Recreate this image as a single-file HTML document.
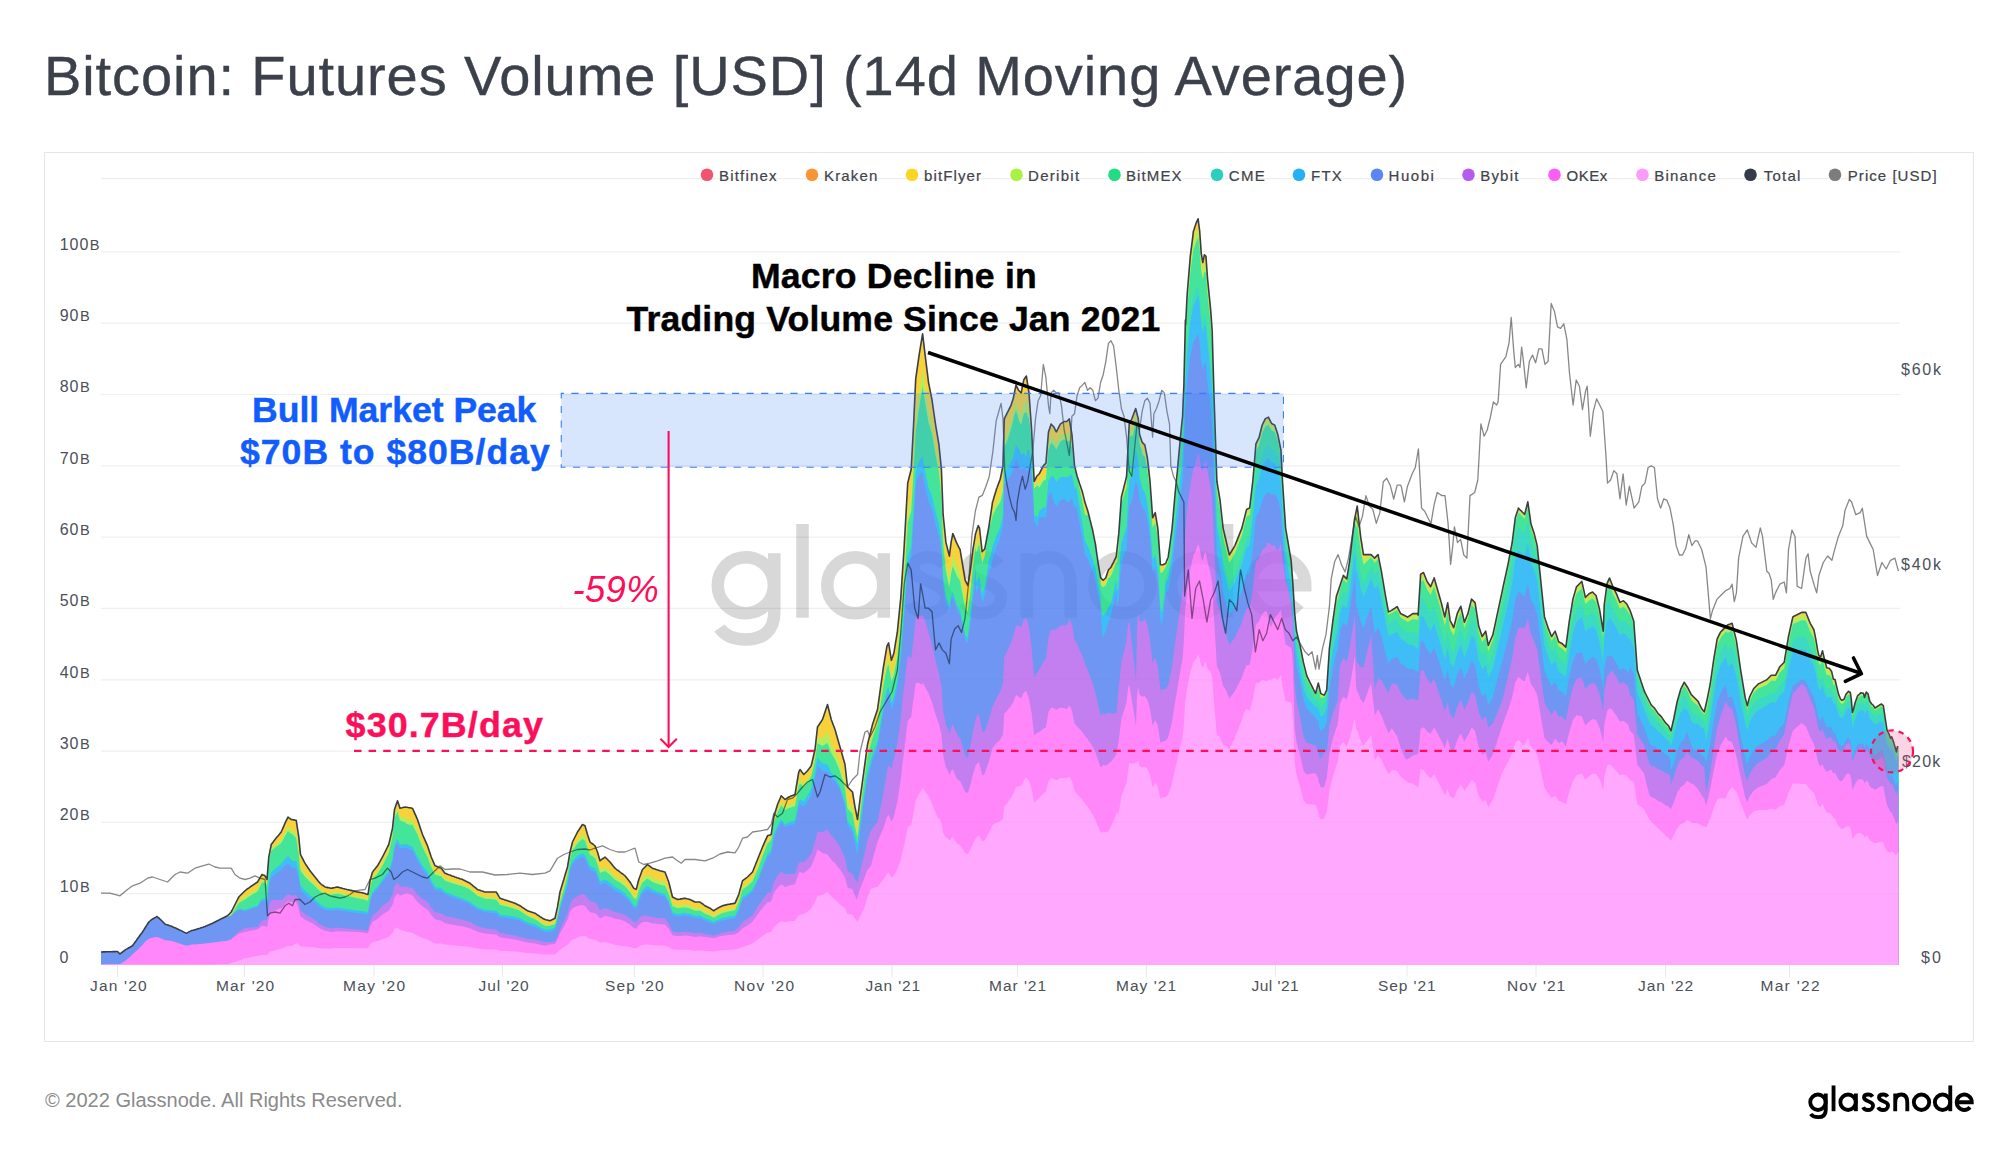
<!DOCTYPE html>
<html><head><meta charset="utf-8">
<style>
html,body{margin:0;padding:0;background:#fff;}
body{width:2000px;height:1152px;position:relative;overflow:hidden;font-family:"Liberation Sans", sans-serif;}
.box{position:absolute;left:43.5px;top:151.5px;width:1930px;height:890px;border:1.5px solid #e6e6e6;box-sizing:border-box;}
svg{position:absolute;left:0;top:0;}
.ax{font-size:16px;fill:#4b5059;font-family:"Liberation Sans", sans-serif;}
</style></head>
<body>
<div class="box"></div>
<svg width="2000" height="1152" viewBox="0 0 2000 1152">
<text x="44.00" y="94.75" font-size="56" font-weight="normal" font-style="normal" fill="#3c404b" style="letter-spacing:0.907px;font-family:'Liberation Sans', sans-serif" stroke="#3c404b" stroke-width="0.35">Bitcoin: Futures Volume [USD] (14d Moving Average)</text>
<line x1="101" x2="1900" y1="893.7" y2="893.7" stroke="#efefef" stroke-width="1.2"/>
<line x1="101" x2="1900" y1="822.4" y2="822.4" stroke="#efefef" stroke-width="1.2"/>
<line x1="101" x2="1900" y1="751.1" y2="751.1" stroke="#efefef" stroke-width="1.2"/>
<line x1="101" x2="1900" y1="679.8" y2="679.8" stroke="#efefef" stroke-width="1.2"/>
<line x1="101" x2="1900" y1="608.4" y2="608.4" stroke="#efefef" stroke-width="1.2"/>
<line x1="101" x2="1900" y1="537.1" y2="537.1" stroke="#efefef" stroke-width="1.2"/>
<line x1="101" x2="1900" y1="465.8" y2="465.8" stroke="#efefef" stroke-width="1.2"/>
<line x1="101" x2="1900" y1="394.5" y2="394.5" stroke="#efefef" stroke-width="1.2"/>
<line x1="101" x2="1900" y1="323.1" y2="323.1" stroke="#efefef" stroke-width="1.2"/>
<line x1="101" x2="1900" y1="251.8" y2="251.8" stroke="#efefef" stroke-width="1.2"/>
<line x1="101" x2="1900" y1="178.6" y2="178.6" stroke="#efefef" stroke-width="1.2"/>
<text x="59.5" y="962.8" class="ax" style="letter-spacing:0.8px">0</text>
<text x="59.8" y="891.6" class="ax" style="letter-spacing:0.9px">10<tspan font-size="14.6" dx="0.6">B</tspan></text>
<text x="59.8" y="820.3" class="ax" style="letter-spacing:0.9px">20<tspan font-size="14.6" dx="0.6">B</tspan></text>
<text x="59.8" y="749.0" class="ax" style="letter-spacing:0.9px">30<tspan font-size="14.6" dx="0.6">B</tspan></text>
<text x="59.8" y="677.7" class="ax" style="letter-spacing:0.9px">40<tspan font-size="14.6" dx="0.6">B</tspan></text>
<text x="59.8" y="606.3" class="ax" style="letter-spacing:0.9px">50<tspan font-size="14.6" dx="0.6">B</tspan></text>
<text x="59.8" y="535.0" class="ax" style="letter-spacing:0.9px">60<tspan font-size="14.6" dx="0.6">B</tspan></text>
<text x="59.8" y="463.7" class="ax" style="letter-spacing:0.9px">70<tspan font-size="14.6" dx="0.6">B</tspan></text>
<text x="59.8" y="392.4" class="ax" style="letter-spacing:0.9px">80<tspan font-size="14.6" dx="0.6">B</tspan></text>
<text x="59.8" y="321.0" class="ax" style="letter-spacing:0.9px">90<tspan font-size="14.6" dx="0.6">B</tspan></text>
<text x="59.8" y="249.7" class="ax" style="letter-spacing:0.9px">100<tspan font-size="14.6" dx="0.6">B</tspan></text>
<text x="1921.00" y="963.00" font-size="16" font-weight="normal" font-style="normal" fill="#4b5059" style="letter-spacing:2.102px;font-family:'Liberation Sans', sans-serif" >$0</text>
<text x="1902.00" y="766.70" font-size="16" font-weight="normal" font-style="normal" fill="#4b5059" style="letter-spacing:1.168px;font-family:'Liberation Sans', sans-serif" >$20k</text>
<text x="1901.00" y="570.30" font-size="16" font-weight="normal" font-style="normal" fill="#4b5059" style="letter-spacing:1.768px;font-family:'Liberation Sans', sans-serif" >$40k</text>
<text x="1901.00" y="375.30" font-size="16" font-weight="normal" font-style="normal" fill="#4b5059" style="letter-spacing:1.768px;font-family:'Liberation Sans', sans-serif" >$60k</text>
<line x1="117.5" x2="117.5" y1="965" y2="977" stroke="#e8e8e8" stroke-width="1"/>
<text x="90.00" y="991.40" font-size="15.5" font-weight="normal" font-style="normal" fill="#4b5059" style="letter-spacing:1.187px;font-family:'Liberation Sans', sans-serif" >Jan '20</text>
<line x1="244.4" x2="244.4" y1="965" y2="977" stroke="#e8e8e8" stroke-width="1"/>
<text x="216.00" y="991.40" font-size="15.5" font-weight="normal" font-style="normal" fill="#4b5059" style="letter-spacing:1.170px;font-family:'Liberation Sans', sans-serif" >Mar '20</text>
<line x1="374.0" x2="374.0" y1="965" y2="977" stroke="#e8e8e8" stroke-width="1"/>
<text x="343.00" y="991.40" font-size="15.5" font-weight="normal" font-style="normal" fill="#4b5059" style="letter-spacing:1.372px;font-family:'Liberation Sans', sans-serif" >May '20</text>
<line x1="502.4" x2="502.4" y1="965" y2="977" stroke="#e8e8e8" stroke-width="1"/>
<text x="478.60" y="991.40" font-size="15.5" font-weight="normal" font-style="normal" fill="#4b5059" style="letter-spacing:0.950px;font-family:'Liberation Sans', sans-serif" >Jul '20</text>
<line x1="634.4" x2="634.4" y1="965" y2="977" stroke="#e8e8e8" stroke-width="1"/>
<text x="605.00" y="991.40" font-size="15.5" font-weight="normal" font-style="normal" fill="#4b5059" style="letter-spacing:1.089px;font-family:'Liberation Sans', sans-serif" >Sep '20</text>
<line x1="763.0" x2="763.0" y1="965" y2="977" stroke="#e8e8e8" stroke-width="1"/>
<text x="734.00" y="991.40" font-size="15.5" font-weight="normal" font-style="normal" fill="#4b5059" style="letter-spacing:1.326px;font-family:'Liberation Sans', sans-serif" >Nov '20</text>
<line x1="892.0" x2="892.0" y1="965" y2="977" stroke="#e8e8e8" stroke-width="1"/>
<text x="865.40" y="991.40" font-size="15.5" font-weight="normal" font-style="normal" fill="#4b5059" style="letter-spacing:0.887px;font-family:'Liberation Sans', sans-serif" >Jan '21</text>
<line x1="1017.4" x2="1017.4" y1="965" y2="977" stroke="#e8e8e8" stroke-width="1"/>
<text x="989.00" y="991.40" font-size="15.5" font-weight="normal" font-style="normal" fill="#4b5059" style="letter-spacing:0.971px;font-family:'Liberation Sans', sans-serif" >Mar '21</text>
<line x1="1146.4" x2="1146.4" y1="965" y2="977" stroke="#e8e8e8" stroke-width="1"/>
<text x="1116.00" y="991.40" font-size="15.5" font-weight="normal" font-style="normal" fill="#4b5059" style="letter-spacing:1.039px;font-family:'Liberation Sans', sans-serif" >May '21</text>
<line x1="1275.4" x2="1275.4" y1="965" y2="977" stroke="#e8e8e8" stroke-width="1"/>
<text x="1251.60" y="991.40" font-size="15.5" font-weight="normal" font-style="normal" fill="#4b5059" style="letter-spacing:0.451px;font-family:'Liberation Sans', sans-serif" >Jul '21</text>
<line x1="1407.0" x2="1407.0" y1="965" y2="977" stroke="#e8e8e8" stroke-width="1"/>
<text x="1378.00" y="991.40" font-size="15.5" font-weight="normal" font-style="normal" fill="#4b5059" style="letter-spacing:0.922px;font-family:'Liberation Sans', sans-serif" >Sep '21</text>
<line x1="1536.0" x2="1536.0" y1="965" y2="977" stroke="#e8e8e8" stroke-width="1"/>
<text x="1507.00" y="991.40" font-size="15.5" font-weight="normal" font-style="normal" fill="#4b5059" style="letter-spacing:1.026px;font-family:'Liberation Sans', sans-serif" >Nov '21</text>
<line x1="1665.6" x2="1665.6" y1="965" y2="977" stroke="#e8e8e8" stroke-width="1"/>
<text x="1638.00" y="991.40" font-size="15.5" font-weight="normal" font-style="normal" fill="#4b5059" style="letter-spacing:0.953px;font-family:'Liberation Sans', sans-serif" >Jan '22</text>
<line x1="1789.5" x2="1789.5" y1="965" y2="977" stroke="#e8e8e8" stroke-width="1"/>
<text x="1760.40" y="991.40" font-size="15.5" font-weight="normal" font-style="normal" fill="#4b5059" style="letter-spacing:1.337px;font-family:'Liberation Sans', sans-serif" >Mar '22</text>
<circle cx="707.0" cy="174.8" r="6.3" fill="#f25470"/>
<text x="719.00" y="180.60" font-size="15" font-weight="normal" font-style="normal" fill="#3f434a" style="letter-spacing:1.188px;font-family:'Liberation Sans', sans-serif" stroke="#3f434a" stroke-width="0.2">Bitfinex</text>
<circle cx="812.0" cy="174.8" r="6.3" fill="#f99535"/>
<text x="824.00" y="180.60" font-size="15" font-weight="normal" font-style="normal" fill="#3f434a" style="letter-spacing:1.163px;font-family:'Liberation Sans', sans-serif" stroke="#3f434a" stroke-width="0.2">Kraken</text>
<circle cx="912.0" cy="174.8" r="6.3" fill="#fcd523"/>
<text x="924.00" y="180.60" font-size="15" font-weight="normal" font-style="normal" fill="#3f434a" style="letter-spacing:1.116px;font-family:'Liberation Sans', sans-serif" stroke="#3f434a" stroke-width="0.2">bitFlyer</text>
<circle cx="1016.5" cy="174.8" r="6.3" fill="#a9f244"/>
<text x="1028.00" y="180.60" font-size="15" font-weight="normal" font-style="normal" fill="#3f434a" style="letter-spacing:1.304px;font-family:'Liberation Sans', sans-serif" stroke="#3f434a" stroke-width="0.2">Deribit</text>
<circle cx="1114.5" cy="174.8" r="6.3" fill="#22dc83"/>
<text x="1126.00" y="180.60" font-size="15" font-weight="normal" font-style="normal" fill="#3f434a" style="letter-spacing:1.119px;font-family:'Liberation Sans', sans-serif" stroke="#3f434a" stroke-width="0.2">BitMEX</text>
<circle cx="1217.0" cy="174.8" r="6.3" fill="#2ccfbd"/>
<text x="1228.80" y="180.60" font-size="15" font-weight="normal" font-style="normal" fill="#3f434a" style="letter-spacing:1.336px;font-family:'Liberation Sans', sans-serif" stroke="#3f434a" stroke-width="0.2">CME</text>
<circle cx="1299.0" cy="174.8" r="6.3" fill="#25b0f4"/>
<text x="1311.00" y="180.60" font-size="15" font-weight="normal" font-style="normal" fill="#3f434a" style="letter-spacing:1.237px;font-family:'Liberation Sans', sans-serif" stroke="#3f434a" stroke-width="0.2">FTX</text>
<circle cx="1377.0" cy="174.8" r="6.3" fill="#5b85f1"/>
<text x="1388.60" y="180.60" font-size="15" font-weight="normal" font-style="normal" fill="#3f434a" style="letter-spacing:1.535px;font-family:'Liberation Sans', sans-serif" stroke="#3f434a" stroke-width="0.2">Huobi</text>
<circle cx="1468.5" cy="174.8" r="6.3" fill="#b45cf0"/>
<text x="1480.20" y="180.60" font-size="15" font-weight="normal" font-style="normal" fill="#3f434a" style="letter-spacing:1.205px;font-family:'Liberation Sans', sans-serif" stroke="#3f434a" stroke-width="0.2">Bybit</text>
<circle cx="1554.5" cy="174.8" r="6.3" fill="#fb5df5"/>
<text x="1566.60" y="180.60" font-size="15" font-weight="normal" font-style="normal" fill="#3f434a" style="letter-spacing:0.507px;font-family:'Liberation Sans', sans-serif" stroke="#3f434a" stroke-width="0.2">OKEx</text>
<circle cx="1642.5" cy="174.8" r="6.3" fill="#fc9cf8"/>
<text x="1654.20" y="180.60" font-size="15" font-weight="normal" font-style="normal" fill="#3f434a" style="letter-spacing:1.224px;font-family:'Liberation Sans', sans-serif" stroke="#3f434a" stroke-width="0.2">Binance</text>
<circle cx="1750.5" cy="174.8" r="6.3" fill="#353b48"/>
<text x="1763.80" y="180.60" font-size="15" font-weight="normal" font-style="normal" fill="#3f434a" style="letter-spacing:1.212px;font-family:'Liberation Sans', sans-serif" stroke="#3f434a" stroke-width="0.2">Total</text>
<circle cx="1835.0" cy="174.8" r="6.3" fill="#7c7c7c"/>
<text x="1847.80" y="180.60" font-size="15" font-weight="normal" font-style="normal" fill="#3f434a" style="letter-spacing:1.042px;font-family:'Liberation Sans', sans-serif" stroke="#3f434a" stroke-width="0.2">Price [USD]</text>
<g fill="none" stroke="#000" opacity="0.15" stroke-width="12.5"><circle cx="745.8" cy="585.20" r="28.05"/>
<path d="M774.3,553.3 L774.3,612 C774.3,632 762,639.5 746,639.5 C734,639.5 725,636 719.5,628"/>
<path d="M802.5,524.1 L802.5,617.7"/>
<circle cx="855.3" cy="585.20" r="28.05"/>
<path d="M883.8,553.3 L883.8,617.7"/>
<path d="M944.25,565 C940.25,559 934.75,557.15 928.75,557.15 C919.75,557.15 913.25,561 913.25,568 C913.25,576 922.75,579 928.75,581.5 C935.75,584 946.25,588 946.25,597 C946.25,608 936.75,613.25 927.75,613.25 C920.75,613.25 913.25,610 910.25,603"/>
<path d="M998.85,565 C994.85,559 989.35,557.15 983.35,557.15 C974.35,557.15 967.85,561 967.85,568 C967.85,576 977.35,579 983.35,581.5 C990.35,584 1000.85,588 1000.85,597 C1000.85,608 991.35,613.25 982.35,613.25 C975.35,613.25 967.85,610 964.85,603"/>
<path d="M1026.85,617.7 L1026.85,553.3 M1026.85,586 C1026.85,566 1036,557.15 1048.8,557.15 C1061.6,557.15 1070.75,566 1070.75,586 L1070.75,617.7"/>
<circle cx="1122.45" cy="585.20" r="28.05"/>
<circle cx="1199.0" cy="585.20" r="28.05"/>
<path d="M1227.05,524.1 L1227.05,617.7"/>
<path d="M1250.45,585.20 L1305.25,585.20 A27.40,28.05 0 1 0 1298.84,603.23"/></g>
<g opacity="0.82">
<path d="M101.0,965.0 L101.0,952.0 102.0,952.0 103.0,951.9 104.0,951.9 105.0,951.9 106.0,951.8 107.0,951.8 108.0,951.8 109.0,951.8 110.0,951.7 111.0,951.7 112.0,951.7 113.0,951.6 114.0,951.6 115.0,951.6 116.0,951.5 117.0,951.5 117.5,951.5 118.0,952.0 119.0,953.0 120.0,954.0 121.0,953.2 122.0,952.4 123.0,951.6 124.0,950.8 125.0,950.0 126.0,949.4 127.0,948.9 128.0,948.3 129.0,947.7 130.0,947.2 131.0,946.6 132.0,946.0 132.5,945.8 133.0,945.0 134.0,943.6 135.0,942.2 136.0,940.9 137.0,939.5 138.0,938.0 138.8,937.0 139.0,936.7 140.0,935.3 141.0,934.0 142.0,932.7 142.5,932.0 143.0,931.2 144.0,929.6 145.0,928.0 146.0,926.4 147.0,924.8 148.0,923.2 148.8,922.0 149.0,921.8 150.0,921.0 151.0,920.2 152.0,919.4 152.5,919.0 153.0,918.7 154.0,918.2 155.0,917.6 156.0,917.1 157.0,916.5 158.0,917.4 159.0,918.2 160.0,919.1 160.5,919.5 161.0,920.0 162.0,921.0 163.0,922.0 164.0,923.0 165.0,924.0 166.0,924.4 167.0,924.7 168.0,925.0 169.0,925.4 170.0,925.8 171.0,926.1 172.0,926.5 173.0,927.0 174.0,927.4 175.0,927.8 176.0,928.2 177.0,928.7 178.0,929.2 179.0,929.7 180.0,930.1 181.0,930.6 181.2,930.8 182.0,931.1 183.0,931.6 184.0,932.1 185.0,932.6 186.0,933.1 186.2,933.2 187.0,932.9 188.0,932.4 189.0,931.9 190.0,931.4 191.0,930.9 191.2,930.8 192.0,930.5 193.0,930.3 194.0,930.0 195.0,929.7 196.0,929.4 197.0,929.1 197.5,929.0 198.0,928.8 199.0,928.5 200.0,928.2 201.0,927.8 202.0,927.5 203.0,927.2 204.0,926.8 205.0,926.5 206.0,926.1 207.0,925.6 208.0,925.2 209.0,924.8 210.0,924.3 211.0,923.9 212.0,923.5 212.5,923.2 213.0,923.0 214.0,922.5 215.0,922.0 216.0,921.5 217.0,921.0 218.0,920.5 219.0,920.0 220.0,919.5 221.0,919.0 222.0,918.5 223.0,918.0 224.0,917.5 225.0,917.0 226.0,916.5 227.0,916.0 227.5,915.8 228.0,915.2 229.0,914.2 230.0,913.2 231.0,912.2 231.2,912.0 232.0,910.5 233.0,908.5 234.0,906.5 235.0,904.5 236.0,902.5 237.0,900.5 238.0,898.5 238.8,897.0 239.0,896.8 240.0,895.8 241.0,894.8 242.0,893.8 243.0,892.8 244.0,891.8 245.0,890.8 246.0,890.0 247.0,889.2 248.0,888.5 249.0,887.8 250.0,887.0 251.0,886.3 252.0,885.7 253.0,885.0 254.0,884.3 255.0,883.7 256.0,883.0 257.0,882.3 257.5,882.0 258.0,881.2 259.0,879.5 260.0,877.8 261.0,876.2 262.0,874.5 263.0,874.9 264.0,875.3 265.0,875.8 266.0,877.6 267.0,879.5 268.0,866.6 268.8,857.0 269.0,855.8 270.0,850.8 271.0,845.8 271.2,844.5 272.0,843.5 273.0,842.2 274.0,840.8 275.0,839.5 276.0,838.3 277.0,837.1 278.0,835.9 279.0,834.7 280.0,833.5 281.0,832.3 281.2,832.0 282.0,830.2 283.0,827.9 284.0,825.6 285.0,823.2 286.0,821.2 287.0,819.1 288.0,817.0 289.0,817.8 290.0,818.5 291.0,819.3 291.2,819.5 292.0,819.6 293.0,819.8 294.0,819.9 295.0,820.1 296.0,820.2 296.2,820.2 297.0,825.3 298.0,832.0 298.8,837.0 299.0,839.5 300.0,849.5 300.5,854.5 301.0,855.5 302.0,857.4 303.0,859.4 304.0,861.3 305.0,863.2 306.0,864.8 307.0,866.2 308.0,867.8 309.0,869.2 310.0,870.8 311.0,872.0 312.0,873.2 313.0,874.5 314.0,875.8 315.0,877.0 316.0,878.2 317.0,879.5 318.0,880.8 319.0,882.0 320.0,883.2 321.0,884.0 322.0,884.8 323.0,885.5 324.0,886.2 325.0,887.0 326.0,887.2 327.0,887.4 328.0,887.6 329.0,887.8 330.0,888.0 331.0,888.2 331.2,888.2 332.0,888.1 333.0,887.9 334.0,887.7 335.0,887.5 336.0,887.3 337.0,887.1 337.5,887.0 338.0,887.1 339.0,887.4 340.0,887.7 341.0,887.9 342.0,888.2 343.0,888.5 344.0,888.7 345.0,889.0 346.0,889.2 347.0,889.5 348.0,889.7 349.0,889.9 350.0,890.2 351.0,890.4 352.0,890.6 352.5,890.8 353.0,890.9 354.0,891.1 355.0,891.4 356.0,891.6 357.0,891.9 357.5,892.0 358.0,892.1 359.0,892.2 360.0,892.4 361.0,892.5 362.0,892.7 362.5,892.8 363.0,892.9 364.0,893.2 365.0,893.5 366.0,893.9 367.0,894.2 368.0,894.5 369.0,887.6 370.0,880.8 371.0,877.2 372.0,873.8 372.5,872.0 373.0,871.4 374.0,870.1 375.0,868.9 376.0,867.6 377.0,866.4 377.5,865.8 378.0,864.9 379.0,863.1 380.0,861.4 381.0,859.6 382.0,857.9 382.5,857.0 383.0,856.0 384.0,854.0 385.0,852.0 386.0,850.0 387.0,848.0 388.0,846.0 388.8,844.5 389.0,843.4 390.0,839.1 391.0,834.8 392.0,830.4 392.5,828.2 393.0,823.6 394.0,814.2 394.5,809.5 395.0,808.0 396.0,805.1 397.0,802.2 397.5,800.8 398.0,802.2 399.0,805.2 400.0,808.2 401.0,808.0 402.0,807.8 403.0,807.5 404.0,807.2 405.0,807.0 406.0,807.2 407.0,807.3 408.0,807.5 409.0,807.7 410.0,807.8 411.0,808.0 412.0,808.2 412.5,808.2 413.0,809.4 414.0,811.6 415.0,813.9 416.0,816.1 417.0,818.4 417.5,819.5 418.0,821.0 419.0,824.0 420.0,827.0 421.0,830.0 422.0,833.0 422.5,834.5 423.0,835.6 424.0,837.9 425.0,840.1 426.0,842.4 427.0,844.6 427.5,845.8 428.0,847.2 429.0,850.2 430.0,853.2 431.0,856.2 431.2,857.0 432.0,858.8 433.0,861.1 434.0,863.4 435.0,865.8 436.0,866.1 437.0,866.5 438.0,867.0 439.0,867.4 440.0,867.8 441.0,868.1 441.2,868.2 442.0,869.2 443.0,870.6 444.0,871.9 445.0,873.2 446.0,873.6 447.0,874.0 448.0,874.4 449.0,874.8 450.0,875.1 451.0,875.5 452.0,875.9 453.0,876.2 454.0,876.6 455.0,877.0 456.0,877.3 457.0,877.7 458.0,878.0 459.0,878.3 460.0,878.7 461.0,879.0 462.0,879.3 462.5,879.5 463.0,879.8 464.0,880.2 465.0,880.8 466.0,881.2 467.0,881.8 468.0,882.2 469.0,882.8 470.0,883.2 471.0,884.1 472.0,884.9 473.0,885.8 474.0,886.6 475.0,887.4 476.0,888.2 477.0,889.1 477.5,889.5 478.0,889.7 479.0,890.0 480.0,890.3 481.0,890.7 482.0,891.0 483.0,891.3 484.0,891.7 485.0,892.0 486.0,892.0 487.0,892.0 488.0,892.0 489.0,892.0 490.0,892.0 491.0,892.0 492.0,892.0 492.5,892.0 493.0,892.0 494.0,892.0 495.0,892.0 496.0,892.0 496.2,892.0 497.0,893.2 498.0,894.9 499.0,896.6 500.0,898.2 501.0,898.6 502.0,898.9 503.0,899.2 504.0,899.6 505.0,899.9 506.0,900.2 507.0,900.6 507.5,900.8 508.0,900.9 509.0,901.2 510.0,901.6 511.0,901.9 512.0,902.2 513.0,902.6 514.0,902.9 515.0,903.2 516.0,903.8 517.0,904.2 518.0,904.8 519.0,905.2 520.0,905.8 521.0,906.4 522.0,907.1 523.0,907.8 524.0,908.4 525.0,909.1 526.0,909.8 527.0,910.4 527.5,910.8 528.0,910.9 529.0,911.2 530.0,911.6 531.0,911.9 532.0,912.2 533.0,912.6 534.0,912.9 535.0,913.2 536.0,913.9 537.0,914.6 538.0,915.2 539.0,915.9 540.0,916.6 541.0,917.2 542.0,917.9 542.5,918.2 543.0,918.5 544.0,919.0 545.0,919.5 546.0,919.8 547.0,920.0 548.0,920.2 549.0,920.5 550.0,920.8 551.0,920.2 552.0,919.8 553.0,919.2 554.0,918.8 555.0,918.2 556.0,913.8 557.0,909.2 557.5,907.0 558.0,904.0 559.0,898.0 560.0,892.0 561.0,888.7 562.0,885.3 563.0,882.0 563.8,879.5 564.0,878.7 565.0,875.3 566.0,872.0 567.0,868.7 567.5,867.0 568.0,864.0 569.0,858.0 570.0,852.0 571.0,848.0 572.0,844.0 572.5,842.0 573.0,841.0 574.0,839.0 575.0,837.0 576.0,835.0 577.0,833.0 577.5,832.0 578.0,831.2 579.0,829.8 580.0,828.2 581.0,826.8 582.0,825.2 582.5,824.5 583.0,824.8 584.0,825.2 585.0,825.8 586.0,829.2 587.0,832.8 587.5,834.5 588.0,836.0 589.0,839.0 590.0,842.0 591.0,842.8 592.0,843.5 593.0,844.2 594.0,845.0 595.0,845.8 596.0,848.2 597.0,850.8 597.5,852.0 598.0,853.8 599.0,857.2 600.0,860.8 601.0,860.0 602.0,859.2 603.0,858.5 604.0,857.8 605.0,857.0 606.0,858.0 607.0,859.0 608.0,860.0 609.0,861.0 610.0,862.0 611.0,863.2 612.0,864.5 613.0,865.8 614.0,867.0 615.0,868.2 616.0,869.0 617.0,869.8 618.0,870.5 619.0,871.2 620.0,872.0 621.0,872.8 622.0,873.5 623.0,874.2 624.0,875.0 625.0,875.8 626.0,877.0 627.0,878.2 628.0,879.5 629.0,880.8 630.0,882.0 631.0,883.7 632.0,885.3 633.0,887.0 633.8,888.2 634.0,888.4 635.0,888.9 636.0,889.4 636.2,889.5 637.0,886.5 638.0,882.5 638.8,879.5 639.0,878.8 640.0,876.2 641.0,873.5 642.0,870.8 642.5,869.5 643.0,869.0 644.0,868.0 645.0,867.0 646.0,866.0 647.0,865.0 647.5,864.5 648.0,864.9 649.0,865.6 650.0,866.4 651.0,867.1 652.0,867.9 652.5,868.2 653.0,868.4 654.0,868.8 655.0,869.1 656.0,869.4 657.0,869.8 658.0,870.1 659.0,870.4 660.0,870.8 661.0,871.0 662.0,871.2 663.0,871.5 664.0,871.8 665.0,872.0 666.0,874.7 667.0,877.3 668.0,880.0 668.8,882.0 669.0,883.0 670.0,887.0 671.0,891.0 672.0,895.0 672.5,897.0 673.0,897.2 674.0,897.8 675.0,898.2 676.0,898.8 677.0,899.2 677.5,899.5 678.0,899.4 679.0,899.2 680.0,899.1 681.0,898.9 682.0,898.8 683.0,898.6 684.0,898.4 685.0,898.2 686.0,898.5 687.0,898.8 688.0,899.0 689.0,899.2 690.0,899.5 691.0,900.0 692.0,900.5 693.0,901.0 694.0,901.5 695.0,902.0 696.0,902.0 697.0,902.0 698.0,902.0 699.0,902.0 700.0,902.0 701.0,902.8 702.0,903.5 703.0,904.2 704.0,905.0 705.0,905.8 706.0,906.2 707.0,906.8 708.0,907.2 709.0,907.8 710.0,908.2 711.0,908.9 712.0,909.6 713.0,910.2 713.8,910.8 714.0,910.6 715.0,909.9 716.0,909.2 717.0,908.6 717.5,908.2 718.0,908.0 719.0,907.5 720.0,907.0 721.0,906.5 722.0,906.0 722.5,905.8 723.0,905.6 724.0,905.4 725.0,905.1 726.0,904.9 727.0,904.6 727.5,904.5 728.0,904.4 729.0,904.2 730.0,904.1 731.0,903.9 732.0,903.8 733.0,903.6 734.0,903.4 735.0,903.2 736.0,900.9 737.0,898.6 738.0,896.2 738.8,894.5 739.0,893.6 740.0,889.9 741.0,886.2 742.0,882.6 742.5,880.8 743.0,880.4 744.0,879.6 745.0,878.9 746.0,878.1 747.0,877.4 747.5,877.0 748.0,876.5 749.0,875.5 750.0,874.5 751.0,873.5 752.0,872.5 752.5,872.0 753.0,870.8 754.0,868.2 755.0,865.8 756.0,863.2 757.0,860.8 757.5,859.5 758.0,858.2 759.0,855.8 760.0,853.2 761.0,850.8 762.0,848.2 762.5,847.0 763.0,845.9 764.0,843.6 765.0,841.4 766.0,839.1 767.0,836.9 767.5,835.8 768.0,835.6 769.0,835.2 770.0,834.9 771.0,834.6 771.2,834.5 772.0,829.2 773.0,822.2 773.8,817.0 774.0,816.2 775.0,812.8 776.0,809.5 777.0,806.2 777.5,804.5 778.0,803.3 779.0,801.0 780.0,798.7 781.0,796.3 781.2,795.8 782.0,796.5 783.0,797.5 784.0,798.5 785.0,799.5 786.0,798.8 787.0,798.2 788.0,797.5 788.8,797.0 789.0,796.9 790.0,796.5 791.0,796.1 792.0,795.7 793.0,795.3 794.0,794.9 795.0,794.5 796.0,788.5 797.0,782.5 798.0,776.5 798.8,772.0 799.0,771.5 800.0,769.5 801.0,770.8 802.0,772.2 803.0,773.5 803.8,774.5 804.0,774.2 805.0,773.2 806.0,772.2 807.0,771.2 807.5,770.8 808.0,770.1 809.0,768.8 810.0,767.4 811.0,766.1 811.2,765.8 812.0,762.5 813.0,758.2 814.0,753.8 815.0,749.5 816.0,740.5 817.0,731.5 817.5,727.0 818.0,726.2 819.0,724.8 820.0,723.2 821.0,721.8 822.0,720.2 822.5,719.5 823.0,718.0 824.0,715.0 825.0,712.0 826.0,709.0 827.0,706.0 827.5,704.5 828.0,706.5 829.0,710.5 830.0,714.5 831.0,718.5 831.2,719.5 832.0,721.5 833.0,724.2 834.0,726.8 835.0,729.5 836.0,733.0 837.0,736.5 838.0,740.0 839.0,743.5 840.0,747.0 841.0,750.5 842.0,754.0 843.0,757.5 844.0,761.0 845.0,764.5 846.0,773.5 847.0,782.5 847.5,787.0 848.0,787.5 849.0,788.5 850.0,789.5 851.0,790.5 852.0,791.5 852.5,792.0 853.0,795.0 854.0,801.0 855.0,807.0 856.0,812.0 857.0,817.0 857.5,819.5 858.0,815.5 859.0,807.5 860.0,799.5 861.0,792.2 862.0,784.8 863.0,777.5 863.8,772.0 864.0,770.2 865.0,762.8 866.0,755.5 867.0,748.2 867.5,744.5 868.0,742.5 869.0,738.5 870.0,734.5 871.0,730.5 872.0,726.5 872.5,724.5 873.0,723.0 874.0,720.0 875.0,717.0 876.0,714.0 877.0,711.0 877.5,709.5 878.0,705.9 879.0,698.8 880.0,691.6 881.0,684.4 882.0,677.3 883.0,670.1 883.4,667.2 884.0,663.6 885.0,657.6 886.0,651.6 886.9,646.4 887.0,646.1 888.0,644.1 888.6,642.9 889.0,645.3 890.0,651.6 891.0,657.8 891.4,660.3 892.0,658.5 893.0,655.7 893.8,653.3 894.0,652.3 895.0,646.2 896.0,640.2 897.0,634.2 897.3,632.5 898.0,625.4 899.0,615.4 900.0,605.4 900.8,597.8 901.0,594.2 902.0,579.2 903.0,564.2 904.0,549.2 904.2,545.7 905.0,531.9 906.0,513.9 907.0,495.9 907.7,483.2 908.0,482.0 909.0,478.0 910.0,474.0 911.0,470.0 911.2,469.3 912.0,454.1 913.0,435.5 913.6,424.2 914.0,415.7 915.0,394.1 915.7,379.0 916.0,376.9 917.0,369.9 918.0,362.9 919.0,355.9 919.2,354.7 920.0,349.7 921.0,343.7 922.0,337.7 922.6,333.9 923.0,337.0 924.0,345.6 925.0,354.1 925.1,354.7 926.0,362.2 927.0,370.2 928.0,378.2 928.5,382.5 929.0,384.8 930.0,389.8 931.0,394.8 932.0,399.8 932.0,399.9 933.0,406.8 934.0,413.8 935.0,420.8 935.5,424.2 936.0,427.3 937.0,433.2 938.0,439.2 939.0,445.0 939.0,445.4 940.0,455.4 941.0,465.4 941.4,469.3 942.0,485.2 943.0,511.2 943.1,514.4 944.0,523.2 945.0,533.2 945.9,542.2 946.0,542.6 947.0,546.6 948.0,550.6 949.0,554.6 949.4,556.1 950.0,551.1 951.0,543.1 951.1,542.2 952.0,537.8 952.8,533.5 953.0,533.9 954.0,536.4 955.0,538.9 956.0,541.4 956.3,542.2 957.0,543.6 958.0,545.6 959.0,547.6 959.8,549.2 960.0,549.1 961.0,555.1 962.0,561.1 962.6,564.7 963.0,567.1 964.0,573.1 965.0,579.1 965.2,580.3 966.0,581.9 967.0,583.9 967.8,585.5 968.0,584.4 969.0,578.4 970.0,572.4 970.4,569.9 971.0,565.2 972.0,557.2 973.0,549.2 973.0,549.1 974.0,543.2 975.0,537.2 975.6,533.4 976.0,532.3 977.0,529.3 978.0,526.3 978.2,525.6 979.0,527.2 979.5,528.2 980.0,532.5 981.0,541.5 982.0,550.5 982.1,551.7 983.0,550.8 984.0,549.8 984.7,549.1 985.0,547.6 986.0,542.3 987.0,537.0 988.0,531.6 988.6,528.2 989.0,525.8 990.0,519.1 991.0,512.5 992.0,505.8 992.5,502.2 993.0,500.7 994.0,497.3 995.0,494.0 996.0,490.7 996.4,489.2 997.0,487.7 998.0,485.0 999.0,482.4 1000.0,479.7 1000.3,478.8 1001.0,475.5 1002.0,470.5 1003.0,465.8 1003.0,464.0 1004.0,428.0 1004.3,418.9 1005.0,417.4 1006.0,415.4 1006.9,413.7 1007.0,413.4 1008.0,411.4 1009.0,409.4 1010.0,407.4 1010.8,405.9 1011.0,405.2 1012.0,402.2 1013.0,399.2 1013.4,398.1 1014.0,394.9 1015.0,389.9 1016.0,385.1 1016.0,385.1 1017.0,387.1 1018.0,389.1 1018.6,390.3 1019.0,390.7 1020.0,391.7 1021.0,392.7 1021.2,392.9 1022.0,388.7 1023.0,383.7 1023.8,379.9 1024.0,379.5 1025.0,378.0 1026.0,376.5 1026.4,376.0 1027.0,380.0 1028.0,386.5 1029.0,392.9 1029.0,393.2 1030.0,407.2 1031.0,421.2 1031.6,429.3 1032.0,437.7 1033.0,457.7 1034.0,477.7 1034.2,481.4 1035.0,479.8 1036.0,477.8 1036.8,476.2 1037.0,476.0 1038.0,475.0 1039.0,474.0 1039.4,473.6 1040.0,472.4 1041.0,470.4 1042.0,468.4 1043.0,466.4 1043.3,465.8 1044.0,465.1 1045.0,464.1 1045.9,463.2 1046.0,462.0 1047.0,450.0 1048.0,438.0 1048.5,431.9 1049.0,430.4 1050.0,427.4 1051.0,424.4 1051.1,424.1 1052.0,425.0 1053.0,426.0 1053.7,426.7 1054.0,427.3 1055.0,429.3 1056.0,431.3 1056.3,431.9 1057.0,430.6 1058.0,428.6 1059.0,426.6 1060.0,424.6 1060.2,424.1 1061.0,423.6 1062.0,422.9 1063.0,422.3 1064.0,421.6 1064.1,421.5 1065.0,421.5 1066.0,421.5 1066.7,421.5 1067.0,421.2 1068.0,420.2 1069.0,419.2 1069.3,418.9 1070.0,423.0 1071.0,429.0 1071.9,434.5 1072.0,435.4 1073.0,447.4 1074.0,459.4 1074.5,465.8 1075.0,467.6 1076.0,471.6 1077.0,475.6 1077.1,476.2 1078.0,478.8 1079.0,481.8 1079.7,484.0 1080.0,484.8 1081.0,487.8 1082.0,490.8 1082.3,491.8 1083.0,494.4 1084.0,498.4 1084.9,502.2 1085.0,502.4 1086.0,505.4 1087.0,508.4 1087.5,510.0 1088.0,511.8 1089.0,515.8 1090.0,519.8 1090.2,520.4 1091.0,523.8 1092.0,527.8 1092.8,530.8 1093.0,532.1 1094.0,537.1 1095.0,542.1 1095.4,543.9 1096.0,548.4 1097.0,555.4 1098.0,562.1 1098.0,562.3 1099.0,568.3 1100.0,574.3 1100.6,577.7 1101.0,578.1 1102.0,579.1 1103.0,580.1 1103.2,580.3 1104.0,579.5 1105.0,578.5 1105.8,577.7 1106.0,577.0 1107.0,574.0 1108.0,571.0 1108.4,569.9 1109.0,569.3 1110.0,568.3 1111.0,567.3 1111.0,567.2 1112.0,565.2 1113.0,563.2 1113.6,562.1 1114.0,561.2 1115.0,559.2 1116.0,557.2 1116.2,556.9 1117.0,549.5 1118.0,540.5 1118.8,533.4 1119.0,530.4 1120.0,516.4 1121.0,502.4 1121.4,497.0 1122.0,494.6 1123.0,490.6 1124.0,486.6 1124.0,486.6 1125.0,482.6 1126.0,478.6 1126.6,476.2 1127.0,468.1 1128.0,448.1 1129.0,428.1 1129.2,424.1 1130.0,422.5 1131.0,420.5 1131.8,418.9 1132.0,418.4 1133.0,415.7 1134.0,413.0 1135.0,410.4 1135.7,408.5 1136.0,409.7 1137.0,413.7 1138.0,417.7 1138.3,418.9 1139.0,427.2 1139.6,434.5 1140.0,435.7 1141.0,438.7 1142.0,441.7 1142.2,442.3 1143.0,443.1 1144.0,444.1 1144.8,444.9 1145.0,445.9 1146.0,450.9 1147.0,455.9 1147.4,458.0 1148.0,463.2 1149.0,472.2 1150.0,481.2 1150.0,481.4 1151.0,495.1 1152.0,509.1 1152.6,517.8 1153.0,517.1 1154.0,515.1 1155.0,513.1 1155.2,512.6 1156.0,517.3 1157.0,523.3 1157.8,528.2 1158.0,530.6 1159.0,544.6 1160.0,558.6 1160.4,564.7 1161.0,564.7 1162.0,564.7 1163.0,564.7 1163.0,564.7 1164.0,564.2 1165.0,563.7 1165.6,563.4 1166.0,562.5 1167.0,560.0 1168.0,557.5 1168.2,556.9 1169.0,551.3 1170.0,544.0 1171.0,536.7 1172.0,529.3 1172.1,528.2 1173.0,518.0 1174.0,506.0 1174.8,497.0 1175.0,494.5 1176.0,484.5 1177.0,474.5 1177.4,471.0 1178.0,463.9 1179.0,452.9 1180.0,442.3 1180.0,441.9 1181.0,431.9 1182.0,421.9 1182.6,416.3 1183.0,405.7 1183.9,385.1 1184.0,379.3 1185.0,337.6 1185.4,320.0 1185.6,325.0 1186.0,317.5 1187.0,297.5 1187.2,293.8 1188.0,284.0 1189.0,272.0 1190.0,260.0 1190.3,256.2 1191.0,250.8 1192.0,242.8 1193.0,234.8 1193.4,231.2 1194.0,229.6 1195.0,226.6 1196.0,223.6 1196.6,221.9 1197.0,221.0 1198.0,219.0 1198.1,218.8 1199.0,225.8 1199.7,231.2 1200.0,235.6 1201.0,249.6 1201.2,253.1 1202.0,257.6 1202.8,262.5 1203.0,261.6 1204.0,256.6 1204.4,254.7 1205.0,255.3 1205.9,256.2 1206.0,257.1 1207.0,271.1 1207.5,278.1 1208.0,283.1 1209.0,293.1 1210.0,303.1 1210.6,309.4 1211.0,314.6 1212.0,328.6 1212.2,331.2 1213.0,360.5 1213.8,387.5 1214.0,395.0 1215.0,425.0 1216.0,455.0 1216.9,481.2 1217.0,482.0 1218.0,488.0 1219.0,494.0 1220.0,500.0 1221.0,509.0 1222.0,518.0 1223.0,527.0 1223.1,528.1 1224.0,531.9 1225.0,536.2 1226.0,540.5 1227.0,544.9 1228.0,549.2 1229.0,553.5 1229.3,554.9 1230.0,553.8 1231.0,552.1 1232.0,550.5 1233.0,548.8 1234.0,547.1 1234.9,545.6 1235.0,545.4 1236.0,542.9 1237.0,540.4 1238.0,537.9 1239.0,535.4 1240.0,532.8 1241.0,530.3 1241.9,528.1 1242.0,527.6 1243.0,523.6 1244.0,519.6 1245.0,515.6 1246.0,511.6 1246.6,509.4 1247.0,509.2 1248.0,508.7 1249.0,508.2 1249.7,507.8 1250.0,505.2 1251.0,496.7 1252.0,488.2 1252.8,481.2 1253.0,479.0 1254.0,467.0 1255.0,455.0 1255.9,443.8 1256.0,443.6 1257.0,441.6 1258.0,439.6 1259.0,437.6 1259.1,437.5 1260.0,433.8 1261.0,429.8 1262.0,425.8 1262.2,425.0 1263.0,423.4 1264.0,421.4 1265.0,419.4 1265.3,418.8 1266.0,418.4 1267.0,417.9 1268.0,417.4 1268.4,417.2 1269.0,418.3 1270.0,420.3 1271.0,422.3 1271.6,423.4 1272.0,423.7 1273.0,424.2 1274.0,424.7 1274.7,425.0 1275.0,425.9 1276.0,428.9 1277.0,431.9 1277.8,434.4 1278.0,435.3 1279.0,440.3 1280.0,445.3 1280.9,450.0 1281.0,451.2 1282.0,471.2 1282.5,481.2 1283.0,488.8 1284.0,503.8 1285.0,518.8 1285.6,528.1 1286.0,530.4 1287.0,536.3 1288.0,542.2 1289.0,548.2 1290.0,554.1 1291.0,560.0 1291.2,561.5 1292.0,572.0 1293.0,585.8 1293.0,586.1 1294.0,602.1 1294.7,613.6 1295.0,616.4 1296.0,626.4 1296.5,631.0 1297.0,633.1 1298.0,637.1 1299.0,641.1 1299.9,644.9 1300.0,645.2 1301.0,650.2 1302.0,655.2 1303.0,660.2 1303.4,662.2 1304.0,664.6 1305.0,668.6 1306.0,672.6 1306.9,676.1 1307.0,676.4 1308.0,678.4 1309.0,680.4 1310.0,682.4 1310.3,683.1 1311.0,684.4 1312.0,686.4 1313.0,688.4 1313.8,690.0 1314.0,690.4 1315.0,692.4 1315.6,693.5 1316.0,691.8 1317.0,688.1 1318.0,684.3 1318.3,683.1 1319.0,685.9 1320.0,690.2 1320.8,693.5 1321.0,693.6 1322.0,694.1 1323.0,694.6 1324.0,695.1 1324.2,695.2 1325.0,693.6 1326.0,691.4 1326.7,690.0 1327.0,685.0 1328.0,670.0 1329.0,655.0 1329.4,648.3 1330.0,643.9 1331.0,635.9 1332.0,627.9 1332.9,620.6 1333.0,620.0 1334.0,613.0 1335.0,606.0 1336.0,599.0 1336.4,596.2 1337.0,594.4 1338.0,591.4 1339.0,588.4 1339.9,585.8 1340.0,585.4 1341.0,582.4 1342.0,579.4 1343.0,576.4 1343.3,575.4 1344.0,576.1 1345.0,577.1 1346.0,578.1 1346.8,578.9 1347.0,577.7 1348.0,571.4 1349.0,565.2 1349.6,561.5 1350.0,558.0 1351.0,549.4 1352.0,540.8 1352.0,540.7 1353.0,532.2 1354.0,523.7 1354.4,519.9 1355.0,517.1 1356.0,512.1 1357.0,507.1 1357.2,506.0 1358.0,513.0 1359.0,522.0 1360.0,531.0 1360.7,537.2 1361.0,539.1 1362.0,545.4 1363.0,551.6 1363.5,554.6 1364.0,554.6 1365.0,554.6 1366.0,554.6 1367.0,554.6 1367.6,554.6 1368.0,554.6 1369.0,554.6 1370.0,554.6 1371.0,554.6 1371.1,554.6 1372.0,555.5 1373.0,556.5 1374.0,557.5 1374.6,558.1 1375.0,557.6 1376.0,556.6 1377.0,555.6 1378.0,554.6 1378.1,554.6 1379.0,559.3 1380.0,564.3 1381.0,569.3 1381.5,571.9 1382.0,574.8 1383.0,580.8 1384.0,586.8 1385.0,592.8 1386.0,598.3 1387.0,603.8 1388.0,609.3 1388.5,611.9 1389.0,611.6 1390.0,611.1 1391.0,610.6 1391.9,610.1 1392.0,610.1 1393.0,609.4 1394.0,608.8 1395.0,608.1 1396.0,607.4 1397.0,606.8 1397.2,606.7 1398.0,608.4 1399.0,610.4 1400.0,612.4 1400.6,613.6 1401.0,613.8 1402.0,614.3 1403.0,614.8 1404.0,615.3 1404.1,615.3 1405.0,615.8 1406.0,616.3 1407.0,616.8 1407.6,617.1 1408.0,616.8 1409.0,616.1 1410.0,615.5 1411.0,614.8 1412.0,614.1 1412.8,613.6 1413.0,613.6 1414.0,613.6 1415.0,613.6 1416.0,613.6 1417.0,613.6 1418.0,613.6 1418.0,613.8 1418.1,615.2 1419.0,600.9 1420.0,584.5 1420.6,574.2 1421.0,574.0 1422.0,573.4 1423.0,572.7 1423.5,572.5 1424.0,573.8 1425.0,576.3 1426.0,578.8 1427.0,581.3 1427.0,581.4 1428.0,582.8 1429.0,584.3 1430.0,585.8 1430.6,586.7 1431.0,585.7 1432.0,583.2 1433.0,580.7 1434.0,578.2 1434.1,577.8 1435.0,580.8 1436.0,584.3 1437.0,587.8 1437.7,590.2 1438.0,591.3 1439.0,594.8 1440.0,598.3 1441.0,601.8 1441.3,602.7 1442.0,605.7 1443.0,609.7 1444.0,613.7 1444.8,616.9 1445.0,616.0 1446.0,611.0 1447.0,606.0 1447.7,602.7 1448.0,605.1 1449.0,612.2 1450.0,619.4 1450.2,620.5 1451.0,622.2 1452.0,624.2 1453.0,626.2 1453.7,627.6 1454.0,626.5 1455.0,622.5 1456.0,618.5 1457.0,614.5 1457.3,613.4 1458.0,611.9 1459.0,609.9 1460.0,607.9 1460.8,606.3 1461.0,607.0 1462.0,611.5 1463.0,616.0 1464.0,620.5 1464.4,622.3 1465.0,620.8 1466.0,618.3 1467.0,615.8 1468.0,613.4 1468.0,613.2 1469.0,609.2 1470.0,605.2 1471.0,601.2 1471.5,599.1 1472.0,599.6 1473.0,600.6 1474.0,601.6 1475.0,602.6 1475.1,602.7 1476.0,608.7 1477.0,615.2 1478.0,621.7 1478.6,625.8 1479.0,626.9 1480.0,629.9 1481.0,632.9 1482.0,635.9 1482.2,636.5 1483.0,635.3 1484.0,633.8 1485.0,632.3 1485.7,631.2 1486.0,632.6 1487.0,638.3 1488.0,644.0 1488.2,645.4 1489.0,643.7 1490.0,641.3 1491.0,639.0 1492.0,636.7 1492.9,634.7 1493.0,634.1 1494.0,629.4 1495.0,624.8 1496.0,620.1 1497.0,615.4 1498.0,610.8 1498.2,609.8 1499.0,606.1 1500.0,601.4 1501.0,596.8 1502.0,592.1 1503.0,587.4 1503.5,584.9 1504.0,582.8 1505.0,578.2 1506.0,573.6 1507.0,568.9 1508.0,564.3 1508.2,563.6 1509.0,559.2 1510.0,554.0 1511.0,548.7 1512.0,543.5 1512.2,542.5 1513.0,536.0 1514.0,528.0 1515.0,520.0 1515.3,517.5 1516.0,515.4 1517.0,512.4 1518.0,509.4 1518.4,508.1 1519.0,508.7 1520.0,509.7 1521.0,510.7 1521.6,511.2 1522.0,511.7 1523.0,512.7 1524.0,513.7 1524.7,514.4 1525.0,513.1 1526.0,509.1 1527.0,505.1 1527.8,501.9 1528.0,503.2 1529.0,510.2 1530.0,517.2 1530.9,523.8 1531.0,523.9 1532.0,526.9 1533.0,529.9 1534.0,532.9 1534.1,533.1 1535.0,536.9 1536.0,540.9 1537.0,544.9 1537.2,545.6 1538.0,553.6 1539.0,563.4 1540.0,573.2 1541.0,583.0 1542.0,592.8 1543.0,602.6 1544.0,612.4 1544.5,616.9 1545.0,618.5 1546.0,621.5 1547.0,624.5 1548.0,627.5 1548.0,627.6 1549.0,630.1 1550.0,632.6 1551.0,635.1 1551.6,636.5 1552.0,635.9 1553.0,634.4 1554.0,632.9 1555.0,631.4 1555.1,631.2 1556.0,633.7 1557.0,636.7 1558.0,639.7 1558.7,641.9 1559.0,642.0 1560.0,642.5 1561.0,643.0 1562.0,643.5 1562.3,643.6 1563.0,644.4 1564.0,645.4 1565.0,646.4 1565.8,647.2 1566.0,645.8 1567.0,638.3 1568.0,630.8 1569.0,623.3 1569.4,620.5 1570.0,616.8 1571.0,610.8 1572.0,604.8 1572.9,599.1 1573.0,598.9 1574.0,595.4 1575.0,591.9 1576.0,588.4 1576.5,586.7 1577.0,586.2 1578.0,585.2 1579.0,584.2 1580.0,583.2 1581.0,582.2 1581.8,581.4 1582.0,582.1 1583.0,586.6 1584.0,591.1 1585.0,595.6 1585.4,597.4 1586.0,596.8 1587.0,595.8 1588.0,594.8 1589.0,593.8 1589.0,593.8 1590.0,593.3 1591.0,592.8 1592.0,592.3 1592.5,592.0 1593.0,592.5 1594.0,593.5 1595.0,594.5 1596.0,595.5 1596.1,595.6 1597.0,599.3 1598.0,603.3 1599.0,607.3 1599.6,609.8 1600.0,612.1 1601.0,618.1 1602.0,624.1 1603.0,630.1 1603.2,631.2 1604.0,611.5 1604.3,604.2 1605.0,599.0 1606.0,591.5 1607.0,584.0 1607.1,583.3 1608.0,581.4 1609.0,579.2 1609.5,578.1 1610.0,579.3 1611.0,581.8 1612.0,584.3 1613.0,586.8 1613.0,586.8 1614.0,588.8 1615.0,590.8 1616.0,592.8 1616.5,593.8 1617.0,595.1 1618.0,597.6 1619.0,600.1 1619.9,602.4 1620.0,602.4 1621.0,601.9 1622.0,601.4 1623.0,600.9 1623.4,600.7 1624.0,601.3 1625.0,602.3 1626.0,603.3 1626.9,604.2 1627.0,604.4 1628.0,606.4 1629.0,608.4 1630.0,610.4 1630.3,611.1 1631.0,613.1 1632.0,616.1 1633.0,619.1 1633.8,621.5 1634.0,624.1 1635.0,638.1 1635.6,645.8 1636.0,652.1 1637.0,666.1 1637.3,670.1 1638.0,672.3 1639.0,675.3 1640.0,678.3 1640.8,680.6 1641.0,681.3 1642.0,684.3 1643.0,687.3 1644.0,690.3 1644.2,691.0 1645.0,692.5 1646.0,694.5 1647.0,696.5 1647.7,697.9 1648.0,698.5 1649.0,700.5 1650.0,702.5 1651.0,704.5 1651.2,704.9 1652.0,705.7 1653.0,706.7 1654.0,707.7 1654.7,708.3 1655.0,708.9 1656.0,710.4 1657.0,711.9 1658.0,713.4 1658.1,713.5 1659.0,714.4 1660.0,715.4 1661.0,716.4 1661.6,717.0 1662.0,717.6 1663.0,719.1 1664.0,720.6 1665.0,722.1 1665.1,722.2 1666.0,723.2 1667.0,724.2 1668.0,725.2 1668.5,725.7 1669.0,726.7 1670.0,728.8 1671.0,730.9 1671.0,730.8 1672.0,726.4 1673.0,722.0 1673.8,718.8 1674.0,717.5 1675.0,712.5 1676.0,707.5 1677.0,702.5 1677.2,701.4 1678.0,698.7 1679.0,695.2 1680.0,691.7 1680.7,689.2 1681.0,688.6 1682.0,686.6 1683.0,684.6 1684.0,682.6 1684.2,682.3 1685.0,683.5 1686.0,685.0 1687.0,686.5 1687.6,687.5 1688.0,688.2 1689.0,690.2 1690.0,692.2 1691.0,694.2 1691.1,694.4 1692.0,695.3 1693.0,696.3 1694.0,697.3 1694.6,697.9 1695.0,698.3 1696.0,699.3 1697.0,700.3 1698.0,701.3 1698.1,701.4 1699.0,703.3 1700.0,705.3 1701.0,707.3 1701.5,708.3 1702.0,708.9 1703.0,710.2 1704.0,711.4 1704.3,711.8 1705.0,708.8 1706.0,704.5 1706.7,701.4 1707.0,700.1 1708.0,695.1 1709.0,690.1 1710.0,685.1 1710.2,684.0 1711.0,678.5 1712.0,671.5 1713.0,664.5 1713.7,659.7 1714.0,657.8 1715.0,651.8 1716.0,645.8 1717.0,639.8 1717.2,638.9 1718.0,637.2 1719.0,635.2 1720.0,633.2 1720.6,631.9 1721.0,631.6 1722.0,630.6 1723.0,629.6 1724.0,628.6 1724.1,628.5 1725.0,627.6 1726.0,626.6 1727.0,625.6 1727.6,625.0 1728.0,624.8 1729.0,624.4 1730.0,624.1 1731.0,623.7 1732.0,623.3 1732.1,623.3 1733.0,626.9 1734.0,630.9 1735.0,634.9 1736.0,638.9 1736.4,640.6 1737.0,644.6 1738.0,651.6 1739.0,658.6 1740.0,665.6 1740.8,671.0 1741.0,672.4 1742.0,678.4 1743.0,684.4 1744.0,690.4 1745.0,696.4 1745.1,697.1 1746.0,700.6 1747.0,704.6 1747.3,705.7 1748.0,702.9 1749.0,698.9 1749.5,697.1 1750.0,696.0 1751.0,694.0 1752.0,692.0 1753.0,690.0 1753.8,688.4 1754.0,688.2 1755.0,687.2 1756.0,686.2 1757.0,685.2 1758.0,684.2 1758.1,684.0 1759.0,683.6 1760.0,683.1 1761.0,682.6 1762.0,682.1 1762.5,681.9 1763.0,681.6 1764.0,681.1 1765.0,680.6 1766.0,680.1 1766.8,679.7 1767.0,679.5 1768.0,678.5 1769.0,677.5 1770.0,676.5 1771.0,675.5 1771.2,675.3 1772.0,675.3 1773.0,675.3 1774.0,675.3 1775.0,675.3 1775.5,675.3 1776.0,674.4 1777.0,672.4 1778.0,670.4 1779.0,668.4 1779.8,666.7 1780.0,666.5 1781.0,665.5 1782.0,664.5 1783.0,663.5 1784.0,662.5 1784.2,662.3 1785.0,657.4 1786.0,651.4 1787.0,645.4 1788.0,639.4 1788.5,636.3 1789.0,634.2 1790.0,629.7 1791.0,625.2 1792.0,620.7 1792.9,616.7 1793.0,616.7 1794.0,616.2 1795.0,615.7 1796.0,615.2 1797.0,614.7 1797.2,614.6 1798.0,614.2 1799.0,613.7 1800.0,613.2 1801.0,612.7 1801.6,612.4 1802.0,612.4 1803.0,612.4 1804.0,612.4 1805.0,612.4 1805.9,612.4 1806.0,612.7 1807.0,615.2 1808.0,617.7 1809.0,620.2 1810.0,622.7 1810.2,623.3 1811.0,624.6 1812.0,626.4 1813.0,628.2 1814.0,630.0 1814.0,630.1 1815.0,635.1 1815.8,639.1 1816.0,640.4 1817.0,646.4 1817.6,650.0 1818.0,651.8 1818.8,655.5 1819.0,655.6 1820.0,656.3 1820.7,656.7 1821.0,655.6 1822.0,652.2 1822.5,650.7 1823.0,652.9 1824.0,657.3 1824.3,658.5 1825.0,661.2 1826.0,664.9 1826.7,667.7 1827.0,667.7 1828.0,668.0 1829.0,668.2 1829.2,668.3 1830.0,669.3 1831.0,670.6 1831.6,671.3 1832.0,673.1 1833.0,677.4 1833.4,679.2 1834.0,679.3 1835.0,679.5 1836.0,683.7 1836.4,685.4 1837.0,687.9 1838.0,692.0 1838.5,694.1 1839.0,695.3 1840.0,697.8 1840.5,699.0 1841.0,699.5 1841.9,700.3 1842.0,700.3 1843.0,699.8 1844.0,699.3 1845.0,696.8 1846.0,694.3 1846.1,694.1 1847.0,693.0 1848.0,691.9 1848.5,691.3 1849.0,691.6 1850.0,692.2 1850.3,692.4 1851.0,697.2 1851.3,699.3 1852.0,707.7 1852.4,712.5 1853.0,710.8 1853.4,709.7 1854.0,707.3 1855.0,703.2 1855.1,702.8 1856.0,700.3 1857.0,697.5 1857.6,695.8 1858.0,695.4 1859.0,694.5 1860.0,693.6 1861.0,692.7 1862.0,693.0 1863.0,693.3 1863.5,693.4 1864.0,695.5 1864.5,697.6 1865.0,696.0 1866.0,692.9 1866.3,692.0 1867.0,692.7 1868.0,693.8 1869.0,698.0 1869.7,701.0 1870.0,701.5 1871.0,703.0 1871.5,703.8 1872.0,704.2 1873.0,705.0 1873.2,705.2 1874.0,706.4 1875.0,708.0 1876.0,707.3 1877.0,706.7 1878.0,706.0 1879.0,705.4 1880.0,704.8 1881.0,704.2 1881.2,704.0 1882.0,704.5 1883.0,705.3 1883.3,705.5 1884.0,710.2 1885.0,716.9 1885.4,719.6 1886.0,723.5 1887.0,730.0 1888.0,732.0 1889.0,734.0 1890.0,736.7 1890.6,738.3 1891.0,737.8 1891.7,736.8 1892.0,737.6 1893.0,740.4 1893.8,742.5 1894.0,743.4 1895.0,746.9 1896.0,750.5 1896.4,751.9 1897.0,748.8 1897.4,746.7 1898.0,746.7 1898.4,746.7 L1898.4,965.0 Z" fill="#f8c911"/>
<path d="M101.0,965.0 L101.0,952.0 102.0,952.0 103.0,951.9 104.0,951.9 105.0,951.9 106.0,951.8 107.0,951.8 108.0,951.8 109.0,951.8 110.0,951.7 111.0,951.7 112.0,951.7 113.0,951.6 114.0,951.6 115.0,951.6 116.0,951.5 117.0,951.5 117.5,951.5 118.0,952.0 119.0,953.0 120.0,954.0 121.0,953.2 122.0,952.4 123.0,951.6 124.0,950.8 125.0,950.0 126.0,949.4 127.0,948.9 128.0,948.3 129.0,947.7 130.0,947.2 131.0,946.6 132.0,946.0 132.5,945.8 133.0,945.1 134.0,943.7 135.0,942.3 136.0,940.9 137.0,939.5 138.0,938.1 138.8,937.1 139.0,936.7 140.0,935.4 141.0,934.1 142.0,932.8 142.5,932.1 143.0,931.3 144.0,929.8 145.0,928.2 146.0,926.6 147.0,925.0 148.0,923.3 148.8,922.1 149.0,921.9 150.0,921.1 151.0,920.3 152.0,919.5 152.5,919.1 153.0,918.8 154.0,918.2 155.0,917.6 156.0,917.1 157.0,916.5 158.0,917.4 159.0,918.2 160.0,919.1 160.5,919.5 161.0,920.0 162.0,921.0 163.0,922.0 164.0,923.0 165.0,924.0 166.0,924.4 167.0,924.7 168.0,925.0 169.0,925.4 170.0,925.8 171.0,926.1 172.0,926.5 173.0,927.0 174.0,927.4 175.0,927.8 176.0,928.2 177.0,928.7 178.0,929.2 179.0,929.7 180.0,930.1 181.0,930.6 181.2,930.8 182.0,931.1 183.0,931.6 184.0,932.1 185.0,932.6 186.0,933.1 186.2,933.2 187.0,932.9 188.0,932.4 189.0,931.9 190.0,931.4 191.0,930.9 191.2,930.8 192.0,930.6 193.0,930.3 194.0,930.1 195.0,929.8 196.0,929.5 197.0,929.2 197.5,929.1 198.0,929.0 199.0,928.6 200.0,928.3 201.0,928.0 202.0,927.7 203.0,927.3 204.0,927.0 205.0,926.7 206.0,926.3 207.0,925.9 208.0,925.4 209.0,925.0 210.0,924.6 211.0,924.2 212.0,923.8 212.5,923.6 213.0,923.4 214.0,922.9 215.0,922.4 216.0,922.0 217.0,921.5 218.0,921.0 219.0,920.6 220.0,920.1 221.0,919.6 222.0,919.2 223.0,918.7 224.0,918.2 225.0,917.8 226.0,917.3 227.0,916.9 227.5,916.6 228.0,916.4 229.0,915.8 230.0,915.0 231.0,914.2 231.2,914.0 232.0,912.7 233.0,911.0 234.0,909.2 235.0,907.5 236.0,905.8 237.0,904.1 238.0,902.5 238.8,901.2 239.0,901.0 240.0,900.3 241.0,899.6 242.0,898.9 243.0,898.2 244.0,897.5 245.0,896.8 246.0,896.1 247.0,895.4 248.0,894.7 249.0,894.0 250.0,893.3 251.0,892.6 252.0,892.0 253.0,891.4 254.0,890.8 255.0,890.1 256.0,889.5 257.0,888.9 257.5,888.6 258.0,887.6 259.0,885.8 260.0,883.9 261.0,882.1 262.0,880.2 263.0,880.3 264.0,880.3 265.0,880.4 266.0,881.9 267.0,883.4 268.0,870.7 268.8,861.2 269.0,859.9 270.0,854.7 271.0,850.1 271.2,849.0 272.0,848.2 273.0,847.2 274.0,846.2 275.0,845.2 276.0,844.3 277.0,843.4 278.0,842.6 279.0,841.7 280.0,840.8 281.0,840.0 281.2,839.8 282.0,838.3 283.0,836.4 284.0,834.3 285.0,832.3 286.0,830.5 287.0,828.6 288.0,826.8 289.0,827.7 290.0,828.6 291.0,829.3 291.2,829.5 292.0,829.7 293.0,830.2 294.0,831.1 295.0,831.9 296.0,832.7 296.2,832.9 297.0,838.0 298.0,844.7 298.8,849.6 299.0,852.0 300.0,861.5 300.5,865.9 301.0,866.6 302.0,868.1 303.0,869.6 304.0,871.1 305.0,872.7 306.0,873.8 307.0,874.9 308.0,876.1 309.0,877.2 310.0,878.4 311.0,879.4 312.0,880.3 313.0,881.3 314.0,882.4 315.0,883.5 316.0,884.6 317.0,885.6 318.0,886.7 319.0,887.8 320.0,888.9 321.0,889.5 322.0,890.1 323.0,890.7 324.0,891.4 325.0,892.0 326.0,892.1 327.0,892.2 328.0,892.3 329.0,892.5 330.0,892.6 331.0,892.8 331.2,892.8 332.0,892.7 333.0,892.5 334.0,892.3 335.0,892.1 336.0,891.9 337.0,891.7 337.5,891.6 338.0,891.7 339.0,892.0 340.0,892.3 341.0,892.5 342.0,892.8 343.0,893.0 344.0,893.3 345.0,893.5 346.0,893.7 347.0,894.0 348.0,894.2 349.0,894.4 350.0,894.6 351.0,894.9 352.0,895.1 352.5,895.2 353.0,895.3 354.0,895.5 355.0,895.8 356.0,896.0 357.0,896.3 357.5,896.4 358.0,896.5 359.0,896.6 360.0,896.8 361.0,897.0 362.0,897.1 362.5,897.2 363.0,897.4 364.0,897.7 365.0,898.0 366.0,898.3 367.0,898.7 368.0,898.9 369.0,892.4 370.0,885.8 371.0,882.4 372.0,879.0 372.5,877.2 373.0,876.7 374.0,875.5 375.0,874.3 376.0,873.1 377.0,872.0 377.5,871.4 378.0,870.5 379.0,868.9 380.0,867.2 381.0,865.6 382.0,863.9 382.5,863.1 383.0,862.1 384.0,860.1 385.0,858.0 386.0,856.0 387.0,853.9 388.0,851.9 388.8,850.3 389.0,849.3 390.0,845.0 391.0,840.7 392.0,836.3 392.5,834.2 393.0,829.6 394.0,820.4 394.5,815.8 395.0,814.3 396.0,812.0 397.0,809.6 397.5,808.5 398.0,810.2 399.0,813.5 400.0,816.8 401.0,817.0 402.0,817.2 403.0,817.4 404.0,817.6 405.0,817.9 406.0,818.5 407.0,819.1 408.0,819.4 409.0,819.5 410.0,819.6 411.0,819.7 412.0,819.8 412.5,819.9 413.0,820.9 414.0,822.9 415.0,824.9 416.0,827.0 417.0,829.0 417.5,830.0 418.0,831.3 419.0,834.0 420.0,836.7 421.0,839.5 422.0,842.2 422.5,843.5 423.0,844.5 424.0,846.5 425.0,848.6 426.0,850.6 427.0,852.6 427.5,853.6 428.0,855.0 429.0,857.7 430.0,860.5 431.0,863.2 431.2,863.9 432.0,865.5 433.0,867.7 434.0,869.8 435.0,871.9 436.0,872.3 437.0,872.6 438.0,872.9 439.0,873.2 440.0,873.6 441.0,873.9 441.2,874.0 442.0,874.9 443.0,876.1 444.0,877.3 445.0,878.5 446.0,878.8 447.0,879.2 448.0,879.5 449.0,879.9 450.0,880.2 451.0,880.5 452.0,880.9 453.0,881.2 454.0,881.6 455.0,881.9 456.0,882.2 457.0,882.5 458.0,882.8 459.0,883.1 460.0,883.4 461.0,883.7 462.0,884.0 462.5,884.2 463.0,884.4 464.0,884.9 465.0,885.3 466.0,885.8 467.0,886.2 468.0,886.7 469.0,887.2 470.0,887.6 471.0,888.5 472.0,889.3 473.0,890.2 474.0,891.0 475.0,891.9 476.0,892.7 477.0,893.5 477.5,894.0 478.0,894.1 479.0,894.5 480.0,894.9 481.0,895.2 482.0,895.6 483.0,896.0 484.0,896.3 485.0,896.7 486.0,896.8 487.0,896.8 488.0,896.9 489.0,896.9 490.0,897.0 491.0,897.0 492.0,897.1 492.5,897.1 493.0,897.1 494.0,897.2 495.0,897.2 496.0,897.2 496.2,897.2 497.0,898.3 498.0,899.8 499.0,901.4 500.0,902.9 501.0,903.2 502.0,903.4 503.0,903.7 504.0,904.0 505.0,904.3 506.0,904.5 507.0,904.8 507.5,905.0 508.0,905.1 509.0,905.4 510.0,905.7 511.0,905.9 512.0,906.2 513.0,906.5 514.0,906.8 515.0,907.1 516.0,907.5 517.0,907.9 518.0,908.4 519.0,908.8 520.0,909.2 521.0,910.0 522.0,910.7 523.0,911.4 524.0,912.1 525.0,912.8 526.0,913.5 527.0,914.2 527.5,914.5 528.0,914.7 529.0,915.1 530.0,915.5 531.0,915.9 532.0,916.2 533.0,916.6 534.0,917.0 535.0,917.4 536.0,918.1 537.0,918.8 538.0,919.5 539.0,920.2 540.0,920.8 541.0,921.5 542.0,922.2 542.5,922.6 543.0,922.8 544.0,923.3 545.0,923.9 546.0,923.9 547.0,924.0 548.0,924.1 549.0,924.1 550.0,924.2 551.0,923.8 552.0,923.4 553.0,923.1 554.0,922.7 555.0,922.4 556.0,918.4 557.0,914.5 557.5,912.5 558.0,909.8 559.0,904.6 560.0,899.4 561.0,895.9 562.0,892.4 563.0,888.9 563.8,886.3 564.0,885.4 565.0,881.8 566.0,878.2 567.0,874.5 567.5,872.7 568.0,869.5 569.0,863.3 570.0,856.9 571.0,853.3 572.0,849.8 572.5,848.0 573.0,847.2 574.0,845.6 575.0,844.0 576.0,842.4 577.0,840.8 577.5,840.0 578.0,839.5 579.0,838.4 580.0,837.3 581.0,836.2 582.0,835.1 582.5,834.6 583.0,835.0 584.0,835.6 585.0,836.1 586.0,839.3 587.0,842.5 587.5,844.1 588.0,845.5 589.0,848.2 590.0,851.0 591.0,851.7 592.0,852.3 593.0,853.0 594.0,853.7 595.0,854.3 596.0,856.9 597.0,859.4 597.5,860.7 598.0,862.4 599.0,865.8 600.0,869.2 601.0,868.7 602.0,868.2 603.0,867.8 604.0,867.3 605.0,866.8 606.0,867.6 607.0,868.5 608.0,869.3 609.0,870.1 610.0,870.9 611.0,872.0 612.0,873.1 613.0,874.1 614.0,875.2 615.0,876.3 616.0,876.9 617.0,877.5 618.0,878.1 619.0,878.7 620.0,879.4 621.0,880.1 622.0,880.8 623.0,881.6 624.0,882.3 625.0,883.1 626.0,884.3 627.0,885.5 628.0,886.7 629.0,887.9 630.0,889.1 631.0,890.7 632.0,892.2 633.0,893.8 633.8,895.0 634.0,895.1 635.0,895.6 636.0,896.1 636.2,896.3 637.0,893.6 638.0,890.0 638.8,887.3 639.0,886.7 640.0,884.3 641.0,882.0 642.0,879.6 642.5,878.5 643.0,878.0 644.0,877.2 645.0,876.4 646.0,875.5 647.0,874.7 647.5,874.3 648.0,874.7 649.0,875.4 650.0,876.1 651.0,876.8 652.0,877.5 652.5,877.9 653.0,878.1 654.0,878.4 655.0,878.8 656.0,879.1 657.0,879.4 658.0,879.8 659.0,880.1 660.0,880.5 661.0,880.7 662.0,881.0 663.0,881.3 664.0,881.5 665.0,881.8 666.0,884.1 667.0,886.3 668.0,888.6 668.8,890.3 669.0,891.2 670.0,894.7 671.0,898.2 672.0,901.7 672.5,903.5 673.0,903.7 674.0,904.0 675.0,904.4 676.0,904.8 677.0,905.3 677.5,905.6 678.0,905.5 679.0,905.4 680.0,905.2 681.0,905.1 682.0,905.0 683.0,904.8 684.0,904.7 685.0,904.6 686.0,904.8 687.0,905.0 688.0,905.3 689.0,905.5 690.0,905.8 691.0,906.2 692.0,906.7 693.0,907.2 694.0,907.7 695.0,908.1 696.0,908.1 697.0,908.1 698.0,908.1 699.0,908.0 700.0,908.0 701.0,908.7 702.0,909.3 703.0,910.0 704.0,910.6 705.0,911.3 706.0,911.7 707.0,912.2 708.0,912.6 709.0,913.0 710.0,913.5 711.0,914.0 712.0,914.6 713.0,915.2 713.8,915.6 714.0,915.5 715.0,914.9 716.0,914.2 717.0,913.6 717.5,913.3 718.0,913.0 719.0,912.5 720.0,912.1 721.0,911.6 722.0,911.1 722.5,910.8 723.0,910.7 724.0,910.4 725.0,910.2 726.0,909.9 727.0,909.7 727.5,909.5 728.0,909.4 729.0,909.3 730.0,909.1 731.0,908.9 732.0,908.7 733.0,908.5 734.0,908.3 735.0,908.1 736.0,905.9 737.0,903.7 738.0,901.5 738.8,899.9 739.0,899.0 740.0,895.5 741.0,892.1 742.0,888.6 742.5,886.9 743.0,886.5 744.0,885.8 745.0,885.1 746.0,884.4 747.0,883.7 747.5,883.3 748.0,882.8 749.0,881.9 750.0,880.9 751.0,880.0 752.0,879.0 752.5,878.6 753.0,877.4 754.0,875.1 755.0,872.7 756.0,870.4 757.0,868.0 757.5,866.9 758.0,865.5 759.0,862.9 760.0,860.2 761.0,857.6 762.0,854.9 762.5,853.5 763.0,852.3 764.0,849.8 765.0,847.3 766.0,844.8 767.0,842.3 767.5,841.0 768.0,840.7 769.0,840.0 770.0,839.3 771.0,838.6 771.2,838.4 772.0,833.0 773.0,826.1 773.8,821.2 774.0,820.4 775.0,817.4 776.0,814.4 777.0,811.4 777.5,809.9 778.0,808.9 779.0,806.9 780.0,804.9 781.0,802.9 781.2,802.4 782.0,803.3 783.0,804.5 784.0,805.7 785.0,806.9 786.0,806.3 787.0,805.7 788.0,805.1 788.8,804.7 789.0,804.6 790.0,804.3 791.0,804.0 792.0,803.7 793.0,803.4 794.0,803.0 795.0,802.7 796.0,797.1 797.0,791.4 798.0,785.8 798.8,781.6 799.0,781.1 800.0,779.3 801.0,780.4 802.0,781.4 803.0,782.5 803.8,783.3 804.0,783.0 805.0,781.8 806.0,780.7 807.0,779.5 807.5,778.9 808.0,778.2 809.0,776.7 810.0,775.2 811.0,773.7 811.2,773.3 812.0,770.1 813.0,765.7 814.0,761.3 815.0,756.9 816.0,749.4 817.0,742.1 817.5,738.4 818.0,738.4 819.0,738.3 820.0,738.2 821.0,738.1 822.0,738.1 822.5,738.1 823.0,737.4 824.0,736.0 825.0,734.7 826.0,733.4 827.0,732.1 827.5,731.5 828.0,733.0 829.0,736.1 830.0,739.2 831.0,742.3 831.2,743.1 832.0,744.5 833.0,746.5 834.0,748.4 835.0,750.4 836.0,753.1 837.0,755.8 838.0,758.6 839.0,761.4 840.0,764.1 841.0,767.6 842.0,771.0 843.0,774.3 844.0,777.7 845.0,781.1 846.0,789.5 847.0,797.9 847.5,802.0 848.0,802.5 849.0,803.6 850.0,804.6 851.0,805.6 852.0,806.6 852.5,807.1 853.0,809.8 854.0,815.2 855.0,820.6 856.0,825.0 857.0,829.5 857.5,831.8 858.0,827.5 859.0,819.0 860.0,810.3 861.0,802.2 862.0,794.1 863.0,785.8 863.8,779.6 864.0,777.8 865.0,770.7 866.0,763.7 867.0,756.6 867.5,753.1 868.0,751.1 869.0,747.2 870.0,743.4 871.0,739.6 872.0,735.8 872.5,734.0 873.0,732.6 874.0,729.8 875.0,727.0 876.0,724.2 877.0,721.4 877.5,720.0 878.0,716.6 879.0,709.9 880.0,703.2 881.0,696.5 882.0,689.8 883.0,683.1 883.4,680.4 884.0,677.1 885.0,671.5 886.0,666.0 886.9,661.1 887.0,660.9 888.0,659.1 888.6,658.1 889.0,660.5 890.0,666.6 891.0,672.7 891.4,675.1 892.0,673.5 893.0,671.0 893.8,668.9 894.0,667.9 895.0,662.4 896.0,656.8 897.0,651.3 897.3,649.7 898.0,643.1 899.0,633.9 900.0,624.6 900.8,617.5 901.0,614.2 902.0,600.2 903.0,586.2 904.0,572.3 904.2,569.0 905.0,556.2 906.0,539.4 907.0,522.7 907.7,510.9 908.0,509.9 909.0,506.3 910.0,502.8 911.0,499.3 911.2,498.7 912.0,484.6 913.0,467.5 913.6,457.0 914.0,449.2 915.0,429.1 915.7,415.2 916.0,413.3 917.0,407.0 918.0,399.9 919.0,392.8 919.2,391.7 920.0,386.6 921.0,380.4 922.0,374.2 922.6,370.3 923.0,373.0 924.0,380.1 925.0,387.2 925.1,387.6 926.0,393.7 927.0,400.3 928.0,406.9 928.5,410.4 929.0,412.1 930.0,415.9 931.0,419.7 932.0,423.5 932.0,423.6 933.0,429.5 934.0,435.8 935.0,442.0 935.5,445.1 936.0,447.8 937.0,453.2 938.0,458.5 939.0,463.9 939.0,464.4 940.0,474.9 941.0,485.3 941.4,489.3 942.0,505.1 943.0,530.7 943.1,533.9 944.0,543.0 945.0,553.2 945.9,562.5 946.0,562.9 947.0,567.4 948.0,571.9 949.0,575.8 949.4,577.3 950.0,572.6 951.0,565.1 951.1,564.3 952.0,560.2 952.8,556.3 953.0,556.6 954.0,559.1 955.0,561.6 956.0,564.0 956.3,564.8 957.0,566.2 958.0,568.1 959.0,569.8 959.8,571.2 960.0,571.1 961.0,576.6 962.0,582.2 962.6,585.5 963.0,587.7 964.0,593.3 965.0,598.9 965.2,600.0 966.0,601.4 967.0,603.0 967.8,603.5 968.0,602.2 969.0,595.2 970.0,588.1 970.4,585.2 971.0,579.9 972.0,570.8 973.0,561.6 973.0,561.5 974.0,554.4 975.0,547.1 975.6,542.6 976.0,545.8 977.0,544.8 978.0,540.6 978.2,539.7 979.0,540.1 979.5,540.5 980.0,544.0 981.0,551.5 982.0,559.0 982.1,560.0 983.0,558.0 984.0,555.8 984.7,554.1 985.0,552.4 986.0,545.8 987.0,539.2 988.0,532.6 988.6,528.4 989.0,526.6 990.0,523.3 991.0,520.1 992.0,515.0 992.5,511.9 993.0,510.7 994.0,508.2 995.0,505.7 996.0,503.2 996.4,502.1 997.0,501.1 998.0,499.3 999.0,497.5 1000.0,495.7 1000.3,495.0 1001.0,492.4 1002.0,487.8 1003.0,483.3 1003.0,481.5 1004.0,446.9 1004.3,438.1 1005.0,436.8 1006.0,434.9 1006.9,433.3 1007.0,432.9 1008.0,430.1 1009.0,427.4 1010.0,424.6 1010.8,422.5 1011.0,421.6 1012.0,417.8 1013.0,414.0 1013.4,412.7 1014.0,409.5 1015.0,405.8 1016.0,402.2 1016.0,402.3 1017.0,405.4 1018.0,408.5 1018.6,410.2 1019.0,411.1 1020.0,413.1 1021.0,414.5 1021.2,414.7 1022.0,411.1 1023.0,406.7 1023.8,403.3 1024.0,403.0 1025.0,402.0 1026.0,401.0 1026.4,400.3 1027.0,403.3 1028.0,407.3 1029.0,410.1 1029.0,410.3 1030.0,420.5 1031.0,430.9 1031.6,437.0 1032.0,443.9 1033.0,462.5 1034.0,482.8 1034.2,486.6 1035.0,485.4 1036.0,483.9 1036.8,482.7 1037.0,482.6 1038.0,482.1 1039.0,483.3 1039.4,483.0 1040.0,481.9 1041.0,480.1 1042.0,478.4 1043.0,476.6 1043.3,476.0 1044.0,475.5 1045.0,474.7 1045.9,473.9 1046.0,472.8 1047.0,461.2 1048.0,449.6 1048.5,443.8 1049.0,442.5 1050.0,439.7 1051.0,436.9 1051.1,436.6 1052.0,437.4 1053.0,438.3 1053.7,438.8 1054.0,439.4 1055.0,441.3 1056.0,443.2 1056.3,443.8 1057.0,442.4 1058.0,440.4 1059.0,438.3 1060.0,436.3 1060.2,435.9 1061.0,435.3 1062.0,434.6 1063.0,433.9 1064.0,433.3 1064.1,433.3 1065.0,433.7 1066.0,434.2 1066.7,434.5 1067.0,434.4 1068.0,433.9 1069.0,433.3 1069.3,433.2 1070.0,435.7 1071.0,439.5 1071.9,443.1 1072.0,443.8 1073.0,453.6 1074.0,463.6 1074.5,468.9 1075.0,469.9 1076.0,472.1 1077.0,476.4 1077.1,477.1 1078.0,480.5 1079.0,484.5 1079.7,487.4 1080.0,488.4 1081.0,492.4 1082.0,496.3 1082.3,497.6 1083.0,500.8 1084.0,505.7 1084.9,510.2 1085.0,510.3 1086.0,511.5 1087.0,512.7 1087.5,513.4 1088.0,514.4 1089.0,517.2 1090.0,521.3 1090.2,522.0 1091.0,525.5 1092.0,529.6 1092.8,532.7 1093.0,533.9 1094.0,539.0 1095.0,544.1 1095.4,546.0 1096.0,550.5 1097.0,557.6 1098.0,564.4 1098.0,564.6 1099.0,570.7 1100.0,576.8 1100.6,580.2 1101.0,582.4 1102.0,583.8 1103.0,584.4 1103.2,584.6 1104.0,583.9 1105.0,583.1 1105.8,582.5 1106.0,581.8 1107.0,579.0 1108.0,576.2 1108.4,575.2 1109.0,574.6 1110.0,573.8 1111.0,572.8 1111.0,572.7 1112.0,570.3 1113.0,568.0 1113.6,566.6 1114.0,565.6 1115.0,563.2 1116.0,560.8 1116.2,560.3 1117.0,557.7 1118.0,549.4 1118.8,540.1 1119.0,536.5 1120.0,519.6 1121.0,506.2 1121.4,500.9 1122.0,498.8 1123.0,495.3 1124.0,491.8 1124.0,491.7 1125.0,488.2 1126.0,484.7 1126.6,482.6 1127.0,474.8 1128.0,455.5 1129.0,436.2 1129.2,432.4 1130.0,431.2 1131.0,429.7 1131.8,428.5 1132.0,428.9 1133.0,427.6 1134.0,422.9 1135.0,418.2 1135.7,415.0 1136.0,416.2 1137.0,420.0 1138.0,423.8 1138.3,424.9 1139.0,433.1 1139.6,440.2 1140.0,441.3 1141.0,444.2 1142.0,447.7 1142.2,449.4 1143.0,450.2 1144.0,451.1 1144.8,451.9 1145.0,452.8 1146.0,457.7 1147.0,462.6 1147.4,464.7 1148.0,469.8 1149.0,478.7 1150.0,487.5 1150.0,487.7 1151.0,501.2 1152.0,515.0 1152.6,523.6 1153.0,522.9 1154.0,520.9 1155.0,518.9 1155.2,518.4 1156.0,523.0 1157.0,528.9 1157.8,533.8 1158.0,536.1 1159.0,549.7 1160.0,563.4 1160.4,569.3 1161.0,569.2 1162.0,569.0 1163.0,568.5 1163.0,568.5 1164.0,567.4 1165.0,566.3 1165.6,565.6 1166.0,564.7 1167.0,562.4 1168.0,560.0 1168.2,559.4 1169.0,554.0 1170.0,546.9 1171.0,539.7 1172.0,532.6 1172.1,531.5 1173.0,521.5 1174.0,509.7 1174.8,500.9 1175.0,498.4 1176.0,488.7 1177.0,478.9 1177.4,475.4 1178.0,468.5 1179.0,457.7 1180.0,447.4 1180.0,447.0 1181.0,437.2 1182.0,427.5 1182.6,422.0 1183.0,411.6 1183.9,391.3 1184.0,385.6 1185.0,344.5 1185.4,327.2 1185.6,332.1 1186.0,324.8 1187.0,305.2 1187.2,301.5 1188.0,292.0 1189.0,280.3 1190.0,268.6 1190.3,264.9 1191.0,259.6 1192.0,251.8 1193.0,244.1 1193.4,240.7 1194.0,239.1 1195.0,236.3 1196.0,233.2 1196.6,231.5 1197.0,230.6 1198.0,228.5 1198.1,228.2 1199.0,235.0 1199.7,240.4 1200.0,244.7 1201.0,258.4 1201.2,261.8 1202.0,266.2 1202.8,270.9 1203.0,270.0 1204.0,264.9 1204.4,263.0 1205.0,263.6 1205.9,264.4 1206.0,265.3 1207.0,279.0 1207.5,285.9 1208.0,290.8 1209.0,300.6 1210.0,310.4 1210.6,316.5 1211.0,321.6 1212.0,335.4 1212.2,338.0 1213.0,366.9 1213.8,393.5 1214.0,400.9 1215.0,430.5 1216.0,460.1 1216.9,486.1 1217.0,486.8 1218.0,492.7 1219.0,498.6 1220.0,504.4 1221.0,513.3 1222.0,522.1 1223.0,531.0 1223.1,532.1 1224.0,535.8 1225.0,540.0 1226.0,544.3 1227.0,548.5 1228.0,552.7 1229.0,556.9 1229.3,558.3 1230.0,557.2 1231.0,555.5 1232.0,553.8 1233.0,552.1 1234.0,550.4 1234.9,548.8 1235.0,548.6 1236.0,546.0 1237.0,543.5 1238.0,540.9 1239.0,538.4 1240.0,535.9 1241.0,533.3 1241.9,531.1 1242.0,530.6 1243.0,526.5 1244.0,522.5 1245.0,518.5 1246.0,514.5 1246.6,512.2 1247.0,512.0 1248.0,511.4 1249.0,510.9 1249.7,510.5 1250.0,507.8 1251.0,499.4 1252.0,490.9 1252.8,484.0 1253.0,481.8 1254.0,469.8 1255.0,457.9 1255.9,446.7 1256.0,446.6 1257.0,444.6 1258.0,442.6 1259.0,440.6 1259.1,440.4 1260.0,436.7 1261.0,432.7 1262.0,428.7 1262.2,428.0 1263.0,426.3 1264.0,424.3 1265.0,422.3 1265.3,421.7 1266.0,421.3 1267.0,420.8 1268.0,420.3 1268.4,420.0 1269.0,421.1 1270.0,423.1 1271.0,425.0 1271.6,426.1 1272.0,426.3 1273.0,426.8 1274.0,427.2 1274.7,427.5 1275.0,428.4 1276.0,431.4 1277.0,434.3 1277.8,436.7 1278.0,437.6 1279.0,442.6 1280.0,447.5 1280.9,452.1 1281.0,453.4 1282.0,473.3 1282.5,483.2 1283.0,490.6 1284.0,505.5 1285.0,520.4 1285.6,529.8 1286.0,532.0 1287.0,537.8 1288.0,543.7 1289.0,549.6 1290.0,555.5 1291.0,561.4 1291.2,562.8 1292.0,573.3 1293.0,587.0 1293.0,587.2 1294.0,603.2 1294.7,614.7 1295.0,617.4 1296.0,627.5 1296.5,632.1 1297.0,634.3 1298.0,638.3 1299.0,642.4 1299.9,646.2 1300.0,646.5 1301.0,651.6 1302.0,656.6 1303.0,661.7 1303.4,663.7 1304.0,666.1 1305.0,670.0 1306.0,673.9 1306.9,677.4 1307.0,677.6 1308.0,679.6 1309.0,681.5 1310.0,683.5 1310.3,684.1 1311.0,685.4 1312.0,687.3 1313.0,689.3 1313.8,690.9 1314.0,691.2 1315.0,693.2 1315.6,694.3 1316.0,692.8 1317.0,689.5 1318.0,686.2 1318.3,685.1 1319.0,688.1 1320.0,692.1 1320.8,695.2 1321.0,695.2 1322.0,695.5 1323.0,695.7 1324.0,695.9 1324.2,696.0 1325.0,694.4 1326.0,692.3 1326.7,690.9 1327.0,686.0 1328.0,671.1 1329.0,656.3 1329.4,649.7 1330.0,645.4 1331.0,637.5 1332.0,629.7 1332.9,622.5 1333.0,621.9 1334.0,615.1 1335.0,608.3 1336.0,601.4 1336.4,598.8 1337.0,597.0 1338.0,593.9 1339.0,590.4 1339.9,587.4 1340.0,587.0 1341.0,584.0 1342.0,581.0 1343.0,578.0 1343.3,577.0 1344.0,577.7 1345.0,578.7 1346.0,579.7 1346.8,580.5 1347.0,579.3 1348.0,573.0 1349.0,566.8 1349.6,563.2 1350.0,559.6 1351.0,551.1 1352.0,542.5 1352.0,542.4 1353.0,534.0 1354.0,525.5 1354.4,521.7 1355.0,518.9 1356.0,517.8 1357.0,514.0 1357.2,512.8 1358.0,519.4 1359.0,527.8 1360.0,536.3 1360.7,542.2 1361.0,544.0 1362.0,549.8 1363.0,555.6 1363.5,558.4 1364.0,558.2 1365.0,557.8 1366.0,557.5 1367.0,557.1 1367.6,556.9 1368.0,556.8 1369.0,556.4 1370.0,556.0 1371.0,555.7 1371.1,555.6 1372.0,556.7 1373.0,557.9 1374.0,559.1 1374.6,559.8 1375.0,559.4 1376.0,558.4 1377.0,557.4 1378.0,556.3 1378.1,556.3 1379.0,561.0 1380.0,565.9 1381.0,570.8 1381.5,573.5 1382.0,576.3 1383.0,582.2 1384.0,588.2 1385.0,594.1 1386.0,599.5 1387.0,605.0 1388.0,610.4 1388.5,613.0 1389.0,612.7 1390.0,612.2 1391.0,611.7 1391.9,611.2 1392.0,611.1 1393.0,610.5 1394.0,609.9 1395.0,609.3 1396.0,608.7 1397.0,608.1 1397.2,608.0 1398.0,609.7 1399.0,611.8 1400.0,613.8 1400.6,615.1 1401.0,615.3 1402.0,615.8 1403.0,616.4 1404.0,616.9 1404.1,617.0 1405.0,617.5 1406.0,618.0 1407.0,618.6 1407.6,618.9 1408.0,618.6 1409.0,618.0 1410.0,617.4 1411.0,616.8 1412.0,616.2 1412.8,615.7 1413.0,615.7 1414.0,615.8 1415.0,615.8 1416.0,615.9 1417.0,615.9 1418.0,616.0 1418.0,616.1 1418.1,617.5 1419.0,603.4 1420.0,587.1 1420.6,577.0 1421.0,576.8 1422.0,576.2 1423.0,575.7 1423.5,575.4 1424.0,576.7 1425.0,579.2 1426.0,581.8 1427.0,584.3 1427.0,584.4 1428.0,585.8 1429.0,587.4 1430.0,588.9 1430.6,589.8 1431.0,588.8 1432.0,586.3 1433.0,583.9 1434.0,581.4 1434.1,581.1 1435.0,584.1 1436.0,587.6 1437.0,591.1 1437.7,593.6 1438.0,594.6 1439.0,598.1 1440.0,601.6 1441.0,605.1 1441.3,606.0 1442.0,609.0 1443.0,613.0 1444.0,617.0 1444.8,620.2 1445.0,619.4 1446.0,614.4 1447.0,609.5 1447.7,606.2 1448.0,608.6 1449.0,615.6 1450.0,622.6 1450.2,623.7 1451.0,625.3 1452.0,627.2 1453.0,629.1 1453.7,630.5 1454.0,629.4 1455.0,625.3 1456.0,621.3 1457.0,617.2 1457.3,616.1 1458.0,614.6 1459.0,612.6 1460.0,610.5 1460.8,608.8 1461.0,609.5 1462.0,613.9 1463.0,618.3 1464.0,622.7 1464.4,624.4 1465.0,622.8 1466.0,620.3 1467.0,617.8 1468.0,615.4 1468.0,615.3 1469.0,611.3 1470.0,607.3 1471.0,603.4 1471.5,601.4 1472.0,601.8 1473.0,602.9 1474.0,603.9 1475.0,604.9 1475.1,605.0 1476.0,611.0 1477.0,617.4 1478.0,623.9 1478.6,628.0 1479.0,629.1 1480.0,632.1 1481.0,635.1 1482.0,638.1 1482.2,638.7 1483.0,637.5 1484.0,636.0 1485.0,634.5 1485.7,633.4 1486.0,634.9 1487.0,640.6 1488.0,646.2 1488.2,647.6 1489.0,645.8 1490.0,643.5 1491.0,641.1 1492.0,638.8 1492.9,636.8 1493.0,636.2 1494.0,631.5 1495.0,626.8 1496.0,622.1 1497.0,617.5 1498.0,612.8 1498.2,611.8 1499.0,608.1 1500.0,603.4 1501.0,598.7 1502.0,594.1 1503.0,589.4 1503.5,586.9 1504.0,584.7 1505.0,580.1 1506.0,575.5 1507.0,570.8 1508.0,566.2 1508.2,565.4 1509.0,561.1 1510.0,555.8 1511.0,550.6 1512.0,545.3 1512.2,544.3 1513.0,537.8 1514.0,529.8 1515.0,521.8 1515.3,519.3 1516.0,517.2 1517.0,514.2 1518.0,511.2 1518.4,509.8 1519.0,510.4 1520.0,511.3 1521.0,512.3 1521.6,512.9 1522.0,513.4 1523.0,514.4 1524.0,515.4 1524.7,516.1 1525.0,514.8 1526.0,510.9 1527.0,506.9 1527.8,503.7 1528.0,505.0 1529.0,512.0 1530.0,519.0 1530.9,525.5 1531.0,525.7 1532.0,528.7 1533.0,531.7 1534.0,534.7 1534.1,534.9 1535.0,538.7 1536.0,542.7 1537.0,546.7 1537.2,547.4 1538.0,555.4 1539.0,565.1 1540.0,574.9 1541.0,584.7 1542.0,594.5 1543.0,604.2 1544.0,614.0 1544.5,618.5 1545.0,620.1 1546.0,623.2 1547.0,626.2 1548.0,629.2 1548.0,629.2 1549.0,631.7 1550.0,634.2 1551.0,636.7 1551.6,638.2 1552.0,637.6 1553.0,636.1 1554.0,634.6 1555.0,633.2 1555.1,633.0 1556.0,635.5 1557.0,638.5 1558.0,641.5 1558.7,643.7 1559.0,643.8 1560.0,644.3 1561.0,644.8 1562.0,645.4 1562.3,645.5 1563.0,646.2 1564.0,647.3 1565.0,648.3 1565.8,649.1 1566.0,647.8 1567.0,640.3 1568.0,632.9 1569.0,625.4 1569.4,622.6 1570.0,618.9 1571.0,613.0 1572.0,607.1 1572.9,601.5 1573.0,601.3 1574.0,597.8 1575.0,594.4 1576.0,590.9 1576.5,589.2 1577.0,588.7 1578.0,587.7 1579.0,586.8 1580.0,585.8 1581.0,584.8 1581.8,584.0 1582.0,584.8 1583.0,589.2 1584.0,593.7 1585.0,598.1 1585.4,599.9 1586.0,599.3 1587.0,598.3 1588.0,597.2 1589.0,596.3 1589.0,596.3 1590.0,595.8 1591.0,595.2 1592.0,594.7 1592.5,594.5 1593.0,594.9 1594.0,595.9 1595.0,596.9 1596.0,597.9 1596.1,598.0 1597.0,601.6 1598.0,605.6 1599.0,609.6 1599.6,612.0 1600.0,614.3 1601.0,620.2 1602.0,626.2 1603.0,632.1 1603.2,633.2 1604.0,613.7 1604.3,606.4 1605.0,601.2 1606.0,593.7 1607.0,586.3 1607.1,585.7 1608.0,583.7 1609.0,581.6 1609.5,580.5 1610.0,581.8 1611.0,584.4 1612.0,587.1 1613.0,589.5 1613.0,589.5 1614.0,591.5 1615.0,593.4 1616.0,595.4 1616.5,596.3 1617.0,597.6 1618.0,600.1 1619.0,602.5 1619.9,604.8 1620.0,604.8 1621.0,604.2 1622.0,603.7 1623.0,603.2 1623.4,603.0 1624.0,603.5 1625.0,604.5 1626.0,605.5 1626.9,606.3 1627.0,606.6 1628.0,608.5 1629.0,610.3 1630.0,612.0 1630.3,612.6 1631.0,614.6 1632.0,617.5 1633.0,620.4 1633.8,622.9 1634.0,625.4 1635.0,639.3 1635.6,647.0 1636.0,653.2 1637.0,667.1 1637.3,671.1 1638.0,673.2 1639.0,676.2 1640.0,679.1 1640.8,681.4 1641.0,682.1 1642.0,685.1 1643.0,688.0 1644.0,691.0 1644.2,691.7 1645.0,693.3 1646.0,695.3 1647.0,697.4 1647.7,698.8 1648.0,699.5 1649.0,701.5 1650.0,703.5 1651.0,705.5 1651.2,705.9 1652.0,706.7 1653.0,707.7 1654.0,708.7 1654.7,709.3 1655.0,709.8 1656.0,711.3 1657.0,712.8 1658.0,714.3 1658.1,714.5 1659.0,715.4 1660.0,716.4 1661.0,717.4 1661.6,717.9 1662.0,718.5 1663.0,720.0 1664.0,721.5 1665.0,723.0 1665.1,723.1 1666.0,724.0 1667.0,725.0 1668.0,726.0 1668.5,726.6 1669.0,727.5 1670.0,729.7 1671.0,731.7 1671.0,731.6 1672.0,727.2 1673.0,722.9 1673.8,719.6 1674.0,718.4 1675.0,713.4 1676.0,708.5 1677.0,703.5 1677.2,702.4 1678.0,699.7 1679.0,696.3 1680.0,692.8 1680.7,690.4 1681.0,689.8 1682.0,687.8 1683.0,685.9 1684.0,683.9 1684.2,683.6 1685.0,684.9 1686.0,686.4 1687.0,687.9 1687.6,688.9 1688.0,689.7 1689.0,691.8 1690.0,693.9 1691.0,696.0 1691.1,696.3 1692.0,697.3 1693.0,698.4 1694.0,699.3 1694.6,699.8 1695.0,700.2 1696.0,701.1 1697.0,702.0 1698.0,702.9 1698.1,703.0 1699.0,704.8 1700.0,706.7 1701.0,708.6 1701.5,709.6 1702.0,710.2 1703.0,711.3 1704.0,712.5 1704.3,712.8 1705.0,710.6 1706.0,707.3 1706.7,704.2 1707.0,702.9 1708.0,697.8 1709.0,692.8 1710.0,687.8 1710.2,686.7 1711.0,681.2 1712.0,674.2 1713.0,667.2 1713.7,662.4 1714.0,660.5 1715.0,654.4 1716.0,648.4 1717.0,642.3 1717.2,641.4 1718.0,639.7 1719.0,637.6 1720.0,635.5 1720.6,634.2 1721.0,633.8 1722.0,632.7 1723.0,631.6 1724.0,630.6 1724.1,630.4 1725.0,629.5 1726.0,628.5 1727.0,628.1 1727.6,627.9 1728.0,627.8 1729.0,627.4 1730.0,626.9 1731.0,626.4 1732.0,626.0 1732.1,625.9 1733.0,629.5 1734.0,633.4 1735.0,637.3 1736.0,641.1 1736.4,642.8 1737.0,646.7 1738.0,653.6 1739.0,660.5 1740.0,667.4 1740.8,672.7 1741.0,674.1 1742.0,680.0 1743.0,685.9 1744.0,691.8 1745.0,697.7 1745.1,698.4 1746.0,701.9 1747.0,705.9 1747.3,707.0 1748.0,704.2 1749.0,700.3 1749.5,698.5 1750.0,697.4 1751.0,695.4 1752.0,693.5 1753.0,691.5 1753.8,689.9 1754.0,689.7 1755.0,688.8 1756.0,687.8 1757.0,686.8 1758.0,685.9 1758.1,685.7 1759.0,685.3 1760.0,684.9 1761.0,684.4 1762.0,683.9 1762.5,683.7 1763.0,683.4 1764.0,683.0 1765.0,682.5 1766.0,682.0 1766.8,681.6 1767.0,681.5 1768.0,680.5 1769.0,679.5 1770.0,678.5 1771.0,677.5 1771.2,677.4 1772.0,677.4 1773.0,677.4 1774.0,677.4 1775.0,677.4 1775.5,677.4 1776.0,676.5 1777.0,674.5 1778.0,672.5 1779.0,670.5 1779.8,668.9 1780.0,668.7 1781.0,667.7 1782.0,666.8 1783.0,665.8 1784.0,664.8 1784.2,664.6 1785.0,659.8 1786.0,653.8 1787.0,647.9 1788.0,642.0 1788.5,638.8 1789.0,636.7 1790.0,632.3 1791.0,627.8 1792.0,623.4 1792.9,619.5 1793.0,619.4 1794.0,619.0 1795.0,618.5 1796.0,618.0 1797.0,617.5 1797.2,617.4 1798.0,617.0 1799.0,616.6 1800.0,616.1 1801.0,615.6 1801.6,615.3 1802.0,615.3 1803.0,615.4 1804.0,615.4 1805.0,615.4 1805.9,615.5 1806.0,615.7 1807.0,618.3 1808.0,620.8 1809.0,623.3 1810.0,625.8 1810.2,626.4 1811.0,627.8 1812.0,629.6 1813.0,631.4 1814.0,633.2 1814.0,633.3 1815.0,638.3 1815.8,642.2 1816.0,643.5 1817.0,649.4 1817.6,653.1 1818.0,654.8 1818.8,658.6 1819.0,658.7 1820.0,659.4 1820.7,659.8 1821.0,658.7 1822.0,655.4 1822.5,653.9 1823.0,656.1 1824.0,660.4 1824.3,661.6 1825.0,664.2 1826.0,667.8 1826.7,670.4 1827.0,670.5 1828.0,670.7 1829.0,670.8 1829.2,670.8 1830.0,671.8 1831.0,673.0 1831.6,673.7 1832.0,675.4 1833.0,679.6 1833.4,681.4 1834.0,681.4 1835.0,681.5 1836.0,685.6 1836.4,687.3 1837.0,689.7 1838.0,693.8 1838.5,695.8 1839.0,697.0 1840.0,699.3 1840.5,700.5 1841.0,700.9 1841.9,701.7 1842.0,701.6 1843.0,701.1 1844.0,700.6 1845.0,698.0 1846.0,695.5 1846.1,695.3 1847.0,694.2 1848.0,693.1 1848.5,692.5 1849.0,692.8 1850.0,693.4 1850.3,693.6 1851.0,698.4 1851.3,700.4 1852.0,708.8 1852.4,713.6 1853.0,711.9 1853.4,710.8 1854.0,708.3 1855.0,704.3 1855.1,703.9 1856.0,701.4 1857.0,698.6 1857.6,696.9 1858.0,696.5 1859.0,695.6 1860.0,694.7 1861.0,693.8 1862.0,694.0 1863.0,694.3 1863.5,694.5 1864.0,696.5 1864.5,698.6 1865.0,697.1 1866.0,694.0 1866.3,693.0 1867.0,693.7 1868.0,694.8 1869.0,699.0 1869.7,702.0 1870.0,702.5 1871.0,704.0 1871.5,704.8 1872.0,705.2 1873.0,706.0 1873.2,706.2 1874.0,707.4 1875.0,709.0 1876.0,708.3 1877.0,707.6 1878.0,707.0 1879.0,706.3 1880.0,705.7 1881.0,705.1 1881.2,705.0 1882.0,705.5 1883.0,706.2 1883.3,706.4 1884.0,711.1 1885.0,717.8 1885.4,720.5 1886.0,724.3 1887.0,730.8 1888.0,732.7 1889.0,734.7 1890.0,737.3 1890.6,738.9 1891.0,738.4 1891.7,737.4 1892.0,738.2 1893.0,741.0 1893.8,743.0 1894.0,743.9 1895.0,747.4 1896.0,750.9 1896.4,752.3 1897.0,749.2 1897.4,747.1 1898.0,747.1 1898.4,747.1 L1898.4,965.0 Z" fill="#a6ea3b"/>
<path d="M101.0,965.0 L101.0,952.0 102.0,952.0 103.0,951.9 104.0,951.9 105.0,951.9 106.0,951.8 107.0,951.8 108.0,951.8 109.0,951.8 110.0,951.7 111.0,951.7 112.0,951.7 113.0,951.6 114.0,951.6 115.0,951.6 116.0,951.5 117.0,951.5 117.5,951.5 118.0,952.0 119.0,953.0 120.0,954.0 121.0,953.2 122.0,952.4 123.0,951.6 124.0,950.8 125.0,950.0 126.0,949.4 127.0,948.9 128.0,948.3 129.0,947.7 130.0,947.2 131.0,946.6 132.0,946.0 132.5,945.8 133.0,945.1 134.0,943.7 135.0,942.3 136.0,940.9 137.0,939.5 138.0,938.1 138.8,937.1 139.0,936.8 140.0,935.5 141.0,934.1 142.0,932.8 142.5,932.2 143.0,931.4 144.0,929.8 145.0,928.2 146.0,926.6 147.0,925.0 148.0,923.4 148.8,922.2 149.0,922.0 150.0,921.2 151.0,920.4 152.0,919.5 152.5,919.1 153.0,918.8 154.0,918.2 155.0,917.7 156.0,917.1 157.0,916.5 158.0,917.4 159.0,918.2 160.0,919.1 160.5,919.5 161.0,920.0 162.0,921.0 163.0,922.0 164.0,923.0 165.0,924.0 166.0,924.4 167.0,924.7 168.0,925.0 169.0,925.4 170.0,925.8 171.0,926.1 172.0,926.5 173.0,927.0 174.0,927.4 175.0,927.8 176.0,928.2 177.0,928.7 178.0,929.2 179.0,929.7 180.0,930.1 181.0,930.6 181.2,930.8 182.0,931.1 183.0,931.6 184.0,932.1 185.0,932.6 186.0,933.1 186.2,933.2 187.0,932.9 188.0,932.4 189.0,931.9 190.0,931.4 191.0,930.9 191.2,930.8 192.0,930.6 193.0,930.4 194.0,930.1 195.0,929.8 196.0,929.6 197.0,929.3 197.5,929.2 198.0,929.0 199.0,928.7 200.0,928.4 201.0,928.1 202.0,927.7 203.0,927.4 204.0,927.1 205.0,926.8 206.0,926.4 207.0,926.0 208.0,925.6 209.0,925.2 210.0,924.8 211.0,924.4 212.0,924.0 212.5,923.8 213.0,923.5 214.0,923.1 215.0,922.6 216.0,922.2 217.0,921.7 218.0,921.3 219.0,920.8 220.0,920.4 221.0,919.9 222.0,919.5 223.0,919.0 224.0,918.6 225.0,918.1 226.0,917.7 227.0,917.2 227.5,917.0 228.0,916.8 229.0,916.5 230.0,915.8 231.0,915.1 231.2,914.9 232.0,913.7 233.0,912.0 234.0,910.4 235.0,908.8 236.0,907.3 237.0,905.7 238.0,904.1 238.8,903.0 239.0,902.9 240.0,902.2 241.0,901.7 242.0,901.1 243.0,900.5 244.0,899.9 245.0,899.4 246.0,898.7 247.0,898.0 248.0,897.3 249.0,896.6 250.0,896.0 251.0,895.4 252.0,894.7 253.0,894.1 254.0,893.5 255.0,892.9 256.0,892.3 257.0,891.7 257.5,891.4 258.0,890.4 259.0,888.5 260.0,886.6 261.0,884.6 262.0,882.6 263.0,882.6 264.0,882.5 265.0,882.4 266.0,883.7 267.0,885.0 268.0,872.5 268.8,863.0 269.0,861.7 270.0,856.4 271.0,852.0 271.2,850.9 272.0,850.2 273.0,849.3 274.0,848.5 275.0,847.6 276.0,846.9 277.0,846.1 278.0,845.4 279.0,844.7 280.0,844.0 281.0,843.3 281.2,843.1 282.0,841.8 283.0,840.0 284.0,838.1 285.0,836.1 286.0,834.4 287.0,832.7 288.0,831.1 289.0,832.0 290.0,832.9 291.0,833.6 291.2,833.8 292.0,834.0 293.0,834.7 294.0,835.8 295.0,837.0 296.0,838.1 296.2,838.3 297.0,843.4 298.0,850.1 298.8,855.1 299.0,857.4 300.0,866.7 300.5,870.8 301.0,871.4 302.0,872.7 303.0,874.0 304.0,875.3 305.0,876.7 306.0,877.7 307.0,878.7 308.0,879.7 309.0,880.7 310.0,881.7 311.0,882.5 312.0,883.4 313.0,884.3 314.0,885.3 315.0,886.3 316.0,887.3 317.0,888.3 318.0,889.3 319.0,890.3 320.0,891.3 321.0,891.9 322.0,892.4 323.0,893.0 324.0,893.6 325.0,894.1 326.0,894.2 327.0,894.3 328.0,894.4 329.0,894.5 330.0,894.5 331.0,894.7 331.2,894.8 332.0,894.6 333.0,894.4 334.0,894.2 335.0,894.1 336.0,893.9 337.0,893.7 337.5,893.6 338.0,893.7 339.0,894.0 340.0,894.2 341.0,894.5 342.0,894.7 343.0,895.0 344.0,895.2 345.0,895.5 346.0,895.7 347.0,895.9 348.0,896.1 349.0,896.3 350.0,896.5 351.0,896.8 352.0,897.0 352.5,897.1 353.0,897.2 354.0,897.4 355.0,897.7 356.0,897.9 357.0,898.1 357.5,898.2 358.0,898.3 359.0,898.5 360.0,898.7 361.0,898.9 362.0,899.0 362.5,899.1 363.0,899.3 364.0,899.6 365.0,899.9 366.0,900.3 367.0,900.6 368.0,900.8 369.0,894.4 370.0,888.0 371.0,884.6 372.0,881.2 372.5,879.5 373.0,878.9 374.0,877.8 375.0,876.6 376.0,875.5 377.0,874.3 377.5,873.8 378.0,873.0 379.0,871.4 380.0,869.8 381.0,868.2 382.0,866.6 382.5,865.8 383.0,864.7 384.0,862.7 385.0,860.6 386.0,858.5 387.0,856.5 388.0,854.4 388.8,852.8 389.0,851.8 390.0,847.5 391.0,843.2 392.0,838.9 392.5,836.7 393.0,832.2 394.0,823.1 394.5,818.5 395.0,817.0 396.0,814.9 397.0,812.8 397.5,811.8 398.0,813.5 399.0,817.0 400.0,820.4 401.0,820.8 402.0,821.2 403.0,821.7 404.0,822.1 405.0,822.5 406.0,823.3 407.0,824.1 408.0,824.5 409.0,824.6 410.0,824.7 411.0,824.7 412.0,824.8 412.5,824.8 413.0,825.8 414.0,827.7 415.0,829.7 416.0,831.6 417.0,833.5 417.5,834.5 418.0,835.8 419.0,838.4 420.0,840.9 421.0,843.5 422.0,846.1 422.5,847.4 423.0,848.3 424.0,850.3 425.0,852.2 426.0,854.1 427.0,856.0 427.5,857.0 428.0,858.3 429.0,861.0 430.0,863.6 431.0,866.2 431.2,866.9 432.0,868.4 433.0,870.5 434.0,872.5 435.0,874.6 436.0,874.9 437.0,875.2 438.0,875.5 439.0,875.8 440.0,876.0 441.0,876.3 441.2,876.4 442.0,877.3 443.0,878.4 444.0,879.6 445.0,880.8 446.0,881.1 447.0,881.4 448.0,881.7 449.0,882.1 450.0,882.4 451.0,882.7 452.0,883.0 453.0,883.4 454.0,883.7 455.0,884.0 456.0,884.3 457.0,884.6 458.0,884.9 459.0,885.2 460.0,885.4 461.0,885.7 462.0,886.0 462.5,886.2 463.0,886.4 464.0,886.8 465.0,887.3 466.0,887.7 467.0,888.2 468.0,888.6 469.0,889.1 470.0,889.5 471.0,890.4 472.0,891.2 473.0,892.1 474.0,892.9 475.0,893.8 476.0,894.6 477.0,895.4 477.5,895.9 478.0,896.1 479.0,896.4 480.0,896.8 481.0,897.2 482.0,897.6 483.0,898.0 484.0,898.4 485.0,898.7 486.0,898.8 487.0,898.9 488.0,899.0 489.0,899.0 490.0,899.1 491.0,899.2 492.0,899.3 492.5,899.3 493.0,899.3 494.0,899.4 495.0,899.5 496.0,899.4 496.2,899.4 497.0,900.5 498.0,902.0 499.0,903.4 500.0,904.9 501.0,905.1 502.0,905.4 503.0,905.6 504.0,905.9 505.0,906.1 506.0,906.4 507.0,906.6 507.5,906.8 508.0,906.9 509.0,907.1 510.0,907.4 511.0,907.7 512.0,907.9 513.0,908.2 514.0,908.4 515.0,908.7 516.0,909.1 517.0,909.5 518.0,909.9 519.0,910.3 520.0,910.8 521.0,911.5 522.0,912.2 523.0,912.9 524.0,913.6 525.0,914.3 526.0,915.1 527.0,915.8 527.5,916.1 528.0,916.3 529.0,916.7 530.0,917.1 531.0,917.6 532.0,918.0 533.0,918.4 534.0,918.8 535.0,919.2 536.0,919.9 537.0,920.6 538.0,921.3 539.0,922.0 540.0,922.7 541.0,923.4 542.0,924.1 542.5,924.4 543.0,924.7 544.0,925.2 545.0,925.8 546.0,925.7 547.0,925.7 548.0,925.7 549.0,925.7 550.0,925.6 551.0,925.3 552.0,925.0 553.0,924.7 554.0,924.4 555.0,924.2 556.0,920.4 557.0,916.7 557.5,914.8 558.0,912.3 559.0,907.4 560.0,902.5 561.0,899.0 562.0,895.5 563.0,891.9 563.8,889.2 564.0,888.3 565.0,884.6 566.0,880.8 567.0,877.0 567.5,875.1 568.0,871.9 569.0,865.5 570.0,859.0 571.0,855.6 572.0,852.3 572.5,850.6 573.0,849.9 574.0,848.4 575.0,847.0 576.0,845.6 577.0,844.2 577.5,843.5 578.0,843.0 579.0,842.1 580.0,841.1 581.0,840.2 582.0,839.3 582.5,838.9 583.0,839.3 584.0,840.1 585.0,840.5 586.0,843.6 587.0,846.7 587.5,848.2 588.0,849.5 589.0,852.2 590.0,854.8 591.0,855.5 592.0,856.1 593.0,856.7 594.0,857.4 595.0,858.0 596.0,860.6 597.0,863.1 597.5,864.4 598.0,866.1 599.0,869.5 600.0,872.9 601.0,872.5 602.0,872.1 603.0,871.7 604.0,871.4 605.0,871.0 606.0,871.8 607.0,872.5 608.0,873.3 609.0,874.0 610.0,874.8 611.0,875.8 612.0,876.7 613.0,877.7 614.0,878.7 615.0,879.7 616.0,880.3 617.0,880.8 618.0,881.4 619.0,881.9 620.0,882.5 621.0,883.2 622.0,884.0 623.0,884.7 624.0,885.5 625.0,886.2 626.0,887.4 627.0,888.6 628.0,889.8 629.0,890.9 630.0,892.1 631.0,893.7 632.0,895.2 633.0,896.7 633.8,897.9 634.0,898.0 635.0,898.5 636.0,899.0 636.2,899.1 637.0,896.6 638.0,893.2 638.8,890.6 639.0,890.1 640.0,887.9 641.0,885.6 642.0,883.4 642.5,882.3 643.0,881.9 644.0,881.2 645.0,880.4 646.0,879.6 647.0,878.9 647.5,878.5 648.0,878.9 649.0,879.6 650.0,880.3 651.0,881.0 652.0,881.7 652.5,882.0 653.0,882.2 654.0,882.6 655.0,882.9 656.0,883.3 657.0,883.6 658.0,883.9 659.0,884.3 660.0,884.6 661.0,884.9 662.0,885.2 663.0,885.5 664.0,885.7 665.0,886.0 666.0,888.1 667.0,890.2 668.0,892.3 668.8,893.9 669.0,894.7 670.0,898.0 671.0,901.3 672.0,904.6 672.5,906.2 673.0,906.4 674.0,906.7 675.0,907.0 676.0,907.5 677.0,907.9 677.5,908.2 678.0,908.1 679.0,908.0 680.0,907.9 681.0,907.7 682.0,907.6 683.0,907.5 684.0,907.4 685.0,907.3 686.0,907.5 687.0,907.7 688.0,908.0 689.0,908.2 690.0,908.5 691.0,908.9 692.0,909.4 693.0,909.8 694.0,910.3 695.0,910.8 696.0,910.7 697.0,910.7 698.0,910.7 699.0,910.6 700.0,910.6 701.0,911.2 702.0,911.8 703.0,912.4 704.0,913.0 705.0,913.7 706.0,914.1 707.0,914.5 708.0,914.9 709.0,915.3 710.0,915.7 711.0,916.2 712.0,916.8 713.0,917.3 713.8,917.8 714.0,917.6 715.0,917.0 716.0,916.4 717.0,915.7 717.5,915.4 718.0,915.2 719.0,914.7 720.0,914.2 721.0,913.7 722.0,913.3 722.5,913.0 723.0,912.9 724.0,912.6 725.0,912.4 726.0,912.1 727.0,911.8 727.5,911.7 728.0,911.6 729.0,911.4 730.0,911.2 731.0,911.0 732.0,910.8 733.0,910.6 734.0,910.4 735.0,910.2 736.0,908.1 737.0,905.9 738.0,903.8 738.8,902.2 739.0,901.3 740.0,898.0 741.0,894.6 742.0,891.2 742.5,889.5 743.0,889.2 744.0,888.5 745.0,887.8 746.0,887.1 747.0,886.4 747.5,886.0 748.0,885.6 749.0,884.6 750.0,883.7 751.0,882.8 752.0,881.9 752.5,881.4 753.0,880.3 754.0,878.0 755.0,875.7 756.0,873.4 757.0,871.1 757.5,870.0 758.0,868.7 759.0,865.9 760.0,863.2 761.0,860.5 762.0,857.7 762.5,856.3 763.0,855.0 764.0,852.5 765.0,849.9 766.0,847.2 767.0,844.6 767.5,843.3 768.0,842.9 769.0,842.0 770.0,841.2 771.0,840.3 771.2,840.1 772.0,834.6 773.0,827.8 773.8,823.0 774.0,822.2 775.0,819.4 776.0,816.5 777.0,813.6 777.5,812.2 778.0,811.3 779.0,809.4 780.0,807.5 781.0,805.6 781.2,805.2 782.0,806.1 783.0,807.4 784.0,808.7 785.0,810.0 786.0,809.5 787.0,808.9 788.0,808.4 788.8,808.0 789.0,807.9 790.0,807.6 791.0,807.4 792.0,807.1 793.0,806.8 794.0,806.5 795.0,806.2 796.0,800.8 797.0,795.3 798.0,789.8 798.8,785.7 799.0,785.3 800.0,783.5 801.0,784.4 802.0,785.4 803.0,786.3 803.8,787.1 804.0,786.7 805.0,785.5 806.0,784.3 807.0,783.1 807.5,782.4 808.0,781.7 809.0,780.1 810.0,778.6 811.0,777.0 811.2,776.6 812.0,773.3 813.0,768.9 814.0,764.4 815.0,760.0 816.0,753.2 817.0,746.6 817.5,743.3 818.0,743.6 819.0,744.1 820.0,744.6 821.0,745.2 822.0,745.8 822.5,746.1 823.0,745.7 824.0,745.0 825.0,744.4 826.0,743.8 827.0,743.3 827.5,743.0 828.0,744.3 829.0,747.0 830.0,749.7 831.0,752.5 831.2,753.2 832.0,754.4 833.0,756.0 834.0,757.6 835.0,759.3 836.0,761.7 837.0,764.1 838.0,766.6 839.0,769.0 840.0,771.5 841.0,774.9 842.0,778.2 843.0,781.6 844.0,784.9 845.0,788.2 846.0,796.3 847.0,804.4 847.5,808.5 848.0,809.0 849.0,810.0 850.0,811.1 851.0,812.1 852.0,813.1 852.5,813.6 853.0,816.1 854.0,821.2 855.0,826.4 856.0,830.6 857.0,834.9 857.5,837.0 858.0,832.7 859.0,823.9 860.0,815.0 861.0,806.6 862.0,798.0 863.0,789.4 863.8,782.8 864.0,781.1 865.0,774.1 866.0,767.2 867.0,760.2 867.5,756.7 868.0,754.8 869.0,751.0 870.0,747.2 871.0,743.5 872.0,739.8 872.5,738.0 873.0,736.7 874.0,734.0 875.0,731.2 876.0,728.5 877.0,725.8 877.5,724.5 878.0,721.2 879.0,714.7 880.0,708.2 881.0,701.7 882.0,695.2 883.0,688.7 883.4,686.1 884.0,682.8 885.0,677.5 886.0,672.1 886.9,667.4 887.0,667.2 888.0,665.6 888.6,664.6 889.0,667.0 890.0,673.0 891.0,679.1 891.4,681.4 892.0,680.0 893.0,677.5 893.8,675.6 894.0,674.6 895.0,669.3 896.0,664.0 897.0,658.7 897.3,657.1 898.0,650.7 899.0,641.8 900.0,632.8 900.8,625.9 901.0,622.7 902.0,609.2 903.0,595.7 904.0,582.2 904.2,579.0 905.0,566.6 906.0,550.4 907.0,534.2 907.7,522.7 908.0,521.8 909.0,518.5 910.0,515.2 911.0,511.9 911.2,511.3 912.0,497.7 913.0,481.1 913.6,471.0 914.0,463.5 915.0,444.2 915.7,430.7 916.0,428.9 917.0,422.9 918.0,415.8 919.0,408.7 919.2,407.5 920.0,402.3 921.0,396.1 922.0,389.9 922.6,385.9 923.0,388.5 924.0,394.9 925.0,401.3 925.1,401.7 926.0,407.2 927.0,413.2 928.0,419.1 928.5,422.4 929.0,423.9 930.0,427.1 931.0,430.4 932.0,433.7 932.0,433.7 933.0,439.2 934.0,445.2 935.0,451.2 935.5,454.1 936.0,456.7 937.0,461.7 938.0,466.8 939.0,472.1 939.0,472.5 940.0,483.2 941.0,493.8 941.4,497.9 942.0,513.6 943.0,539.1 943.1,542.3 944.0,551.4 945.0,561.8 945.9,571.1 946.0,571.6 947.0,576.3 948.0,581.0 949.0,584.9 949.4,586.4 950.0,581.8 951.0,574.6 951.1,573.8 952.0,569.8 952.8,566.0 953.0,566.4 954.0,568.8 955.0,571.3 956.0,573.7 956.3,574.5 957.0,575.9 958.0,577.7 959.0,579.3 959.8,580.7 960.0,580.5 961.0,585.9 962.0,591.2 962.6,594.5 963.0,596.6 964.0,602.0 965.0,607.3 965.2,608.5 966.0,609.8 967.0,611.3 967.8,611.3 968.0,609.9 969.0,602.4 970.0,594.9 970.4,591.7 971.0,586.2 972.0,576.6 973.0,567.0 973.0,566.8 974.0,559.2 975.0,551.3 975.6,546.5 976.0,551.6 977.0,551.5 978.0,546.7 978.2,545.7 979.0,545.7 979.5,545.7 980.0,548.9 981.0,555.7 982.0,562.6 982.1,563.5 983.0,561.1 984.0,558.3 984.7,556.3 985.0,554.4 986.0,547.3 987.0,540.2 988.0,533.0 988.6,528.5 989.0,527.0 990.0,525.1 991.0,523.4 992.0,518.9 992.5,516.0 993.0,515.0 994.0,512.8 995.0,510.7 996.0,508.6 996.4,507.6 997.0,506.8 998.0,505.4 999.0,503.9 1000.0,502.5 1000.3,502.0 1001.0,499.6 1002.0,495.2 1003.0,490.8 1003.0,489.1 1004.0,455.0 1004.3,446.5 1005.0,445.2 1006.0,443.4 1006.9,441.9 1007.0,441.4 1008.0,438.3 1009.0,435.2 1010.0,432.1 1010.8,429.7 1011.0,428.8 1012.0,424.7 1013.0,420.6 1013.4,419.1 1014.0,416.0 1015.0,412.9 1016.0,409.9 1016.0,410.0 1017.0,413.6 1018.0,417.2 1018.6,419.2 1019.0,420.3 1020.0,422.8 1021.0,424.3 1021.2,424.6 1022.0,421.2 1023.0,417.1 1023.8,413.9 1024.0,413.8 1025.0,413.0 1026.0,412.2 1026.4,411.5 1027.0,413.9 1028.0,416.9 1029.0,418.0 1029.0,418.2 1030.0,426.6 1031.0,435.4 1031.6,440.6 1032.0,446.9 1033.0,464.7 1034.0,485.2 1034.2,489.0 1035.0,488.0 1036.0,486.8 1036.8,485.8 1037.0,485.8 1038.0,485.5 1039.0,487.8 1039.4,487.5 1040.0,486.5 1041.0,484.8 1042.0,483.2 1043.0,481.5 1043.3,481.0 1044.0,480.5 1045.0,479.8 1045.9,479.2 1046.0,478.0 1047.0,466.7 1048.0,455.3 1048.5,449.6 1049.0,448.3 1050.0,445.7 1051.0,443.1 1051.1,442.8 1052.0,443.6 1053.0,444.3 1053.7,444.9 1054.0,445.4 1055.0,447.3 1056.0,449.1 1056.3,449.7 1057.0,448.3 1058.0,446.3 1059.0,444.3 1060.0,442.3 1060.2,441.9 1061.0,441.3 1062.0,440.6 1063.0,439.9 1064.0,439.3 1064.1,439.4 1065.0,440.0 1066.0,440.7 1066.7,441.3 1067.0,441.2 1068.0,440.9 1069.0,440.7 1069.3,440.6 1070.0,442.4 1071.0,445.0 1071.9,447.6 1072.0,448.2 1073.0,456.9 1074.0,465.8 1074.5,470.6 1075.0,471.1 1076.0,472.3 1077.0,476.8 1077.1,477.6 1078.0,481.5 1079.0,486.0 1079.7,489.3 1080.0,490.4 1081.0,494.9 1082.0,499.3 1082.3,500.8 1083.0,504.3 1084.0,509.6 1084.9,514.6 1085.0,514.7 1086.0,514.9 1087.0,515.1 1087.5,515.3 1088.0,515.9 1089.0,518.0 1090.0,522.2 1090.2,522.8 1091.0,526.4 1092.0,530.6 1092.8,533.7 1093.0,535.0 1094.0,540.1 1095.0,545.3 1095.4,547.2 1096.0,551.7 1097.0,558.9 1098.0,565.7 1098.0,566.0 1099.0,572.1 1100.0,578.2 1100.6,581.7 1101.0,584.9 1102.0,586.5 1103.0,587.0 1103.2,587.2 1104.0,586.6 1105.0,585.9 1105.8,585.3 1106.0,584.7 1107.0,582.0 1108.0,579.3 1108.4,578.3 1109.0,577.9 1110.0,577.2 1111.0,576.1 1111.0,576.1 1112.0,573.5 1113.0,570.9 1113.6,569.3 1114.0,568.2 1115.0,565.6 1116.0,563.0 1116.2,562.5 1117.0,562.9 1118.0,554.9 1118.8,544.3 1119.0,540.3 1120.0,521.6 1121.0,508.5 1121.4,503.4 1122.0,501.5 1123.0,498.3 1124.0,495.1 1124.0,495.1 1125.0,491.9 1126.0,488.7 1126.6,486.8 1127.0,479.2 1128.0,460.4 1129.0,441.6 1129.2,437.9 1130.0,437.0 1131.0,435.9 1131.8,434.9 1132.0,436.0 1133.0,435.6 1134.0,429.6 1135.0,423.5 1135.7,419.5 1136.0,420.6 1137.0,424.3 1138.0,428.0 1138.3,429.1 1139.0,437.1 1139.6,444.1 1140.0,445.2 1141.0,447.9 1142.0,451.8 1142.2,454.3 1143.0,455.1 1144.0,456.0 1144.8,456.8 1145.0,457.7 1146.0,462.6 1147.0,467.4 1147.4,469.5 1148.0,474.6 1149.0,483.4 1150.0,492.1 1150.0,492.3 1151.0,505.7 1152.0,519.3 1152.6,527.9 1153.0,527.1 1154.0,525.2 1155.0,523.2 1155.2,522.7 1156.0,527.2 1157.0,533.1 1157.8,537.9 1158.0,540.2 1159.0,553.6 1160.0,567.0 1160.4,572.9 1161.0,572.7 1162.0,572.4 1163.0,571.5 1163.0,571.4 1164.0,569.9 1165.0,568.3 1165.6,567.3 1166.0,566.5 1167.0,564.3 1168.0,562.1 1168.2,561.5 1169.0,556.2 1170.0,549.2 1171.0,542.2 1172.0,535.3 1172.1,534.2 1173.0,524.4 1174.0,512.8 1174.8,504.1 1175.0,501.8 1176.0,492.2 1177.0,482.6 1177.4,479.2 1178.0,472.4 1179.0,461.9 1180.0,451.9 1180.0,451.4 1181.0,441.9 1182.0,432.4 1182.6,427.1 1183.0,416.8 1183.9,396.9 1184.0,391.2 1185.0,350.7 1185.4,333.6 1185.6,338.6 1186.0,331.4 1187.0,312.2 1187.2,308.5 1188.0,299.3 1189.0,287.9 1190.0,276.5 1190.3,273.0 1191.0,267.9 1192.0,260.4 1193.0,253.0 1193.4,249.7 1194.0,248.3 1195.0,245.7 1196.0,242.6 1196.6,240.9 1197.0,239.9 1198.0,237.8 1198.1,237.6 1199.0,244.3 1199.7,249.5 1200.0,253.7 1201.0,267.2 1201.2,270.6 1202.0,274.9 1202.8,279.5 1203.0,278.6 1204.0,273.6 1204.4,271.7 1205.0,272.2 1205.9,273.0 1206.0,273.8 1207.0,287.4 1207.5,294.1 1208.0,298.9 1209.0,308.6 1210.0,318.2 1210.6,324.2 1211.0,329.3 1212.0,342.9 1212.2,345.4 1213.0,373.9 1213.8,400.2 1214.0,407.5 1215.0,436.8 1216.0,466.0 1216.9,491.6 1217.0,492.3 1218.0,498.1 1219.0,503.9 1220.0,509.7 1221.0,518.4 1222.0,527.1 1223.0,535.9 1223.1,537.0 1224.0,540.6 1225.0,544.8 1226.0,548.9 1227.0,553.1 1228.0,557.2 1229.0,561.4 1229.3,562.8 1230.0,561.6 1231.0,559.9 1232.0,558.2 1233.0,556.5 1234.0,554.8 1234.9,553.2 1235.0,553.0 1236.0,550.4 1237.0,547.9 1238.0,545.4 1239.0,542.8 1240.0,540.3 1241.0,537.7 1241.9,535.5 1242.0,535.0 1243.0,531.0 1244.0,527.0 1245.0,523.0 1246.0,519.0 1246.6,516.7 1247.0,516.4 1248.0,515.9 1249.0,515.3 1249.7,514.9 1250.0,512.3 1251.0,503.9 1252.0,495.5 1252.8,488.6 1253.0,486.4 1254.0,474.6 1255.0,462.7 1255.9,451.6 1256.0,451.5 1257.0,449.5 1258.0,447.5 1259.0,445.5 1259.1,445.3 1260.0,441.6 1261.0,437.6 1262.0,433.6 1262.2,432.9 1263.0,431.3 1264.0,429.3 1265.0,427.2 1265.3,426.6 1266.0,426.2 1267.0,425.7 1268.0,425.1 1268.4,424.8 1269.0,425.9 1270.0,427.7 1271.0,429.6 1271.6,430.6 1272.0,430.8 1273.0,431.1 1274.0,431.5 1274.7,431.7 1275.0,432.6 1276.0,435.5 1277.0,438.3 1277.8,440.6 1278.0,441.5 1279.0,446.3 1280.0,451.2 1280.9,455.7 1281.0,456.9 1282.0,476.6 1282.5,486.4 1283.0,493.8 1284.0,508.5 1285.0,523.3 1285.6,532.5 1286.0,534.7 1287.0,540.4 1288.0,546.2 1289.0,552.0 1290.0,557.8 1291.0,563.6 1291.2,565.0 1292.0,575.4 1293.0,589.0 1293.0,589.2 1294.0,605.0 1294.7,616.4 1295.0,619.2 1296.0,629.3 1296.5,633.9 1297.0,636.2 1298.0,640.3 1299.0,644.5 1299.9,648.3 1300.0,648.7 1301.0,653.8 1302.0,658.9 1303.0,664.1 1303.4,666.1 1304.0,668.6 1305.0,672.4 1306.0,676.2 1306.9,679.5 1307.0,679.7 1308.0,681.6 1309.0,683.4 1310.0,685.3 1310.3,685.9 1311.0,687.1 1312.0,689.0 1313.0,690.8 1313.8,692.3 1314.0,692.7 1315.0,694.5 1315.6,695.6 1316.0,694.4 1317.0,691.8 1318.0,689.3 1318.3,688.5 1319.0,691.8 1320.0,695.3 1320.8,698.0 1321.0,698.0 1322.0,697.7 1323.0,697.5 1324.0,697.3 1324.2,697.3 1325.0,695.8 1326.0,693.8 1326.7,692.5 1327.0,687.6 1328.0,673.1 1329.0,658.5 1329.4,652.0 1330.0,647.8 1331.0,640.2 1332.0,632.7 1332.9,625.7 1333.0,625.2 1334.0,618.6 1335.0,612.1 1336.0,605.6 1336.4,603.0 1337.0,601.4 1338.0,598.1 1339.0,593.7 1339.9,590.0 1340.0,589.6 1341.0,586.6 1342.0,583.6 1343.0,580.7 1343.3,579.7 1344.0,580.3 1345.0,581.3 1346.0,582.3 1346.8,583.1 1347.0,581.9 1348.0,575.7 1349.0,569.5 1349.6,565.9 1350.0,562.4 1351.0,553.9 1352.0,545.4 1352.0,545.3 1353.0,536.9 1354.0,528.4 1354.4,524.7 1355.0,521.9 1356.0,527.2 1357.0,525.4 1357.2,524.1 1358.0,530.0 1359.0,537.6 1360.0,545.3 1360.7,550.6 1361.0,552.2 1362.0,557.2 1363.0,562.3 1363.5,564.7 1364.0,564.2 1365.0,563.3 1366.0,562.3 1367.0,561.3 1367.6,560.7 1368.0,560.4 1369.0,559.4 1370.0,558.4 1371.0,557.5 1371.1,557.4 1372.0,558.7 1373.0,560.3 1374.0,561.8 1374.6,562.7 1375.0,562.5 1376.0,561.4 1377.0,560.3 1378.0,559.2 1378.1,559.1 1379.0,563.7 1380.0,568.6 1381.0,573.4 1381.5,576.0 1382.0,578.7 1383.0,584.6 1384.0,590.4 1385.0,596.3 1386.0,601.7 1387.0,607.0 1388.0,612.4 1388.5,614.9 1389.0,614.6 1390.0,614.0 1391.0,613.5 1391.9,612.9 1392.0,612.9 1393.0,612.4 1394.0,611.8 1395.0,611.3 1396.0,610.8 1397.0,610.3 1397.2,610.2 1398.0,612.0 1399.0,614.1 1400.0,616.2 1400.6,617.5 1401.0,617.8 1402.0,618.4 1403.0,619.0 1404.0,619.7 1404.1,619.7 1405.0,620.3 1406.0,620.9 1407.0,621.6 1407.6,621.9 1408.0,621.7 1409.0,621.2 1410.0,620.6 1411.0,620.1 1412.0,619.6 1412.8,619.2 1413.0,619.2 1414.0,619.4 1415.0,619.5 1416.0,619.6 1417.0,619.8 1418.0,619.9 1418.0,620.0 1418.1,621.4 1419.0,607.5 1420.0,591.6 1420.6,581.6 1421.0,581.4 1422.0,581.0 1423.0,580.5 1423.5,580.3 1424.0,581.6 1425.0,584.2 1426.0,586.7 1427.0,589.3 1427.0,589.3 1428.0,590.9 1429.0,592.4 1430.0,594.0 1430.6,594.9 1431.0,593.9 1432.0,591.6 1433.0,589.2 1434.0,586.9 1434.1,586.6 1435.0,589.6 1436.0,593.1 1437.0,596.6 1437.7,599.1 1438.0,600.1 1439.0,603.6 1440.0,607.1 1441.0,610.6 1441.3,611.5 1442.0,614.5 1443.0,618.5 1444.0,622.5 1444.8,625.7 1445.0,624.9 1446.0,620.1 1447.0,615.3 1447.7,612.1 1448.0,614.5 1449.0,621.3 1450.0,628.1 1450.2,629.1 1451.0,630.6 1452.0,632.4 1453.0,634.1 1453.7,635.4 1454.0,634.2 1455.0,630.1 1456.0,626.0 1457.0,621.8 1457.3,620.7 1458.0,619.1 1459.0,616.9 1460.0,614.8 1460.8,612.9 1461.0,613.6 1462.0,617.8 1463.0,622.0 1464.0,626.3 1464.4,627.9 1465.0,626.3 1466.0,623.6 1467.0,621.2 1468.0,618.9 1468.0,618.7 1469.0,614.8 1470.0,610.9 1471.0,607.0 1471.5,605.0 1472.0,605.5 1473.0,606.6 1474.0,607.6 1475.0,608.6 1475.1,608.7 1476.0,614.7 1477.0,621.1 1478.0,627.6 1478.6,631.6 1479.0,632.7 1480.0,635.7 1481.0,638.7 1482.0,641.7 1482.2,642.3 1483.0,641.1 1484.0,639.7 1485.0,638.2 1485.7,637.2 1486.0,638.6 1487.0,644.3 1488.0,649.9 1488.2,651.2 1489.0,649.4 1490.0,647.0 1491.0,644.6 1492.0,642.3 1492.9,640.2 1493.0,639.6 1494.0,634.9 1495.0,630.2 1496.0,625.5 1497.0,620.8 1498.0,616.1 1498.2,615.2 1499.0,611.4 1500.0,606.7 1501.0,602.0 1502.0,597.3 1503.0,592.6 1503.5,590.1 1504.0,588.0 1505.0,583.3 1506.0,578.7 1507.0,574.0 1508.0,569.3 1508.2,568.6 1509.0,564.2 1510.0,558.9 1511.0,553.6 1512.0,548.4 1512.2,547.4 1513.0,540.9 1514.0,532.8 1515.0,524.8 1515.3,522.3 1516.0,520.2 1517.0,517.1 1518.0,514.0 1518.4,512.7 1519.0,513.2 1520.0,514.1 1521.0,515.1 1521.6,515.7 1522.0,516.1 1523.0,517.2 1524.0,518.2 1524.7,518.9 1525.0,517.7 1526.0,513.8 1527.0,509.9 1527.8,506.7 1528.0,508.0 1529.0,515.0 1530.0,522.0 1530.9,528.5 1531.0,528.7 1532.0,531.7 1533.0,534.7 1534.0,537.7 1534.1,537.9 1535.0,541.7 1536.0,545.7 1537.0,549.7 1537.2,550.4 1538.0,558.3 1539.0,568.1 1540.0,577.8 1541.0,587.5 1542.0,597.2 1543.0,607.0 1544.0,616.7 1544.5,621.2 1545.0,622.8 1546.0,625.9 1547.0,628.9 1548.0,631.9 1548.0,632.0 1549.0,634.4 1550.0,637.0 1551.0,639.5 1551.6,641.0 1552.0,640.4 1553.0,639.0 1554.0,637.5 1555.0,636.1 1555.1,635.9 1556.0,638.5 1557.0,641.5 1558.0,644.5 1558.7,646.7 1559.0,646.8 1560.0,647.4 1561.0,647.9 1562.0,648.5 1562.3,648.6 1563.0,649.4 1564.0,650.4 1565.0,651.4 1565.8,652.3 1566.0,651.0 1567.0,643.6 1568.0,636.3 1569.0,629.0 1569.4,626.2 1570.0,622.6 1571.0,616.7 1572.0,610.9 1572.9,605.4 1573.0,605.2 1574.0,601.8 1575.0,598.4 1576.0,595.1 1576.5,593.4 1577.0,592.9 1578.0,592.0 1579.0,591.1 1580.0,590.2 1581.0,589.2 1581.8,588.5 1582.0,589.2 1583.0,593.6 1584.0,598.0 1585.0,602.3 1585.4,604.1 1586.0,603.4 1587.0,602.4 1588.0,601.4 1589.0,600.4 1589.0,600.4 1590.0,599.9 1591.0,599.3 1592.0,598.8 1592.5,598.5 1593.0,599.0 1594.0,599.9 1595.0,600.9 1596.0,601.8 1596.1,601.9 1597.0,605.5 1598.0,609.4 1599.0,613.3 1599.6,615.8 1600.0,617.9 1601.0,623.8 1602.0,629.7 1603.0,635.6 1603.2,636.7 1604.0,617.3 1604.3,610.1 1605.0,604.9 1606.0,597.6 1607.0,590.2 1607.1,589.5 1608.0,587.6 1609.0,585.5 1609.5,584.4 1610.0,585.8 1611.0,588.7 1612.0,591.6 1613.0,594.0 1613.0,594.0 1614.0,595.9 1615.0,597.7 1616.0,599.6 1616.5,600.5 1617.0,601.8 1618.0,604.2 1619.0,606.5 1619.9,608.7 1620.0,608.7 1621.0,608.1 1622.0,607.6 1623.0,607.0 1623.4,606.8 1624.0,607.3 1625.0,608.2 1626.0,609.1 1626.9,609.9 1627.0,610.1 1628.0,612.0 1629.0,613.5 1630.0,614.5 1630.3,615.2 1631.0,617.0 1632.0,619.9 1633.0,622.7 1633.8,625.1 1634.0,627.5 1635.0,641.3 1635.6,648.9 1636.0,655.0 1637.0,668.8 1637.3,672.8 1638.0,674.9 1639.0,677.7 1640.0,680.6 1640.8,682.8 1641.0,683.5 1642.0,686.4 1643.0,689.2 1644.0,692.1 1644.2,692.8 1645.0,694.5 1646.0,696.7 1647.0,698.9 1647.7,700.4 1648.0,701.0 1649.0,703.2 1650.0,705.3 1651.0,707.2 1651.2,707.6 1652.0,708.4 1653.0,709.4 1654.0,710.3 1654.7,711.0 1655.0,711.5 1656.0,713.0 1657.0,714.4 1658.0,715.9 1658.1,716.1 1659.0,717.0 1660.0,717.9 1661.0,718.9 1661.6,719.5 1662.0,720.1 1663.0,721.6 1664.0,723.0 1665.0,724.5 1665.1,724.6 1666.0,725.5 1667.0,726.5 1668.0,727.5 1668.5,728.0 1669.0,729.0 1670.0,731.1 1671.0,733.0 1671.0,732.9 1672.0,728.6 1673.0,724.3 1673.8,721.1 1674.0,719.9 1675.0,715.0 1676.0,710.1 1677.0,705.2 1677.2,704.2 1678.0,701.5 1679.0,698.1 1680.0,694.7 1680.7,692.4 1681.0,691.8 1682.0,689.9 1683.0,688.0 1684.0,686.1 1684.2,685.8 1685.0,687.1 1686.0,688.6 1687.0,690.2 1687.6,691.3 1688.0,692.2 1689.0,694.5 1690.0,696.8 1691.0,699.1 1691.1,699.3 1692.0,700.5 1693.0,701.8 1694.0,702.6 1694.6,703.0 1695.0,703.3 1696.0,704.1 1697.0,704.9 1698.0,705.6 1698.1,705.7 1699.0,707.3 1700.0,709.1 1701.0,710.8 1701.5,711.7 1702.0,712.2 1703.0,713.2 1704.0,714.3 1704.3,714.6 1705.0,713.5 1706.0,711.9 1706.7,708.8 1707.0,707.5 1708.0,702.5 1709.0,697.4 1710.0,692.3 1710.2,691.3 1711.0,685.7 1712.0,678.7 1713.0,671.6 1713.7,666.8 1714.0,664.9 1715.0,658.8 1716.0,652.7 1717.0,646.6 1717.2,645.6 1718.0,643.8 1719.0,641.6 1720.0,639.4 1720.6,638.0 1721.0,637.5 1722.0,636.3 1723.0,635.1 1724.0,633.9 1724.1,633.7 1725.0,632.6 1726.0,631.7 1727.0,632.3 1727.6,632.7 1728.0,632.8 1729.0,632.2 1730.0,631.6 1731.0,631.0 1732.0,630.5 1732.1,630.4 1733.0,633.8 1734.0,637.5 1735.0,641.2 1736.0,644.9 1736.4,646.5 1737.0,650.3 1738.0,657.0 1739.0,663.7 1740.0,670.4 1740.8,675.6 1741.0,676.9 1742.0,682.6 1743.0,688.4 1744.0,694.1 1745.0,699.9 1745.1,700.5 1746.0,704.1 1747.0,708.1 1747.3,709.2 1748.0,706.5 1749.0,702.6 1749.5,700.8 1750.0,699.8 1751.0,697.9 1752.0,696.0 1753.0,694.1 1753.8,692.5 1754.0,692.4 1755.0,691.4 1756.0,690.5 1757.0,689.6 1758.0,688.7 1758.1,688.6 1759.0,688.2 1760.0,687.8 1761.0,687.4 1762.0,686.9 1762.5,686.7 1763.0,686.5 1764.0,686.1 1765.0,685.7 1766.0,685.2 1766.8,684.9 1767.0,684.7 1768.0,683.8 1769.0,682.8 1770.0,681.9 1771.0,680.9 1771.2,680.8 1772.0,680.8 1773.0,680.8 1774.0,680.9 1775.0,680.9 1775.5,680.9 1776.0,680.0 1777.0,678.0 1778.0,676.1 1779.0,674.2 1779.8,672.6 1780.0,672.4 1781.0,671.5 1782.0,670.5 1783.0,669.6 1784.0,668.6 1784.2,668.4 1785.0,663.7 1786.0,657.8 1787.0,652.0 1788.0,646.2 1788.5,643.1 1789.0,641.0 1790.0,636.6 1791.0,632.3 1792.0,627.9 1792.9,624.1 1793.0,624.1 1794.0,623.6 1795.0,623.2 1796.0,622.7 1797.0,622.3 1797.2,622.2 1798.0,621.8 1799.0,621.4 1800.0,620.9 1801.0,620.5 1801.6,620.2 1802.0,620.3 1803.0,620.3 1804.0,620.4 1805.0,620.5 1805.9,620.6 1806.0,620.9 1807.0,623.4 1808.0,625.9 1809.0,628.4 1810.0,631.0 1810.2,631.5 1811.0,633.0 1812.0,634.8 1813.0,636.6 1814.0,638.4 1814.0,638.6 1815.0,643.5 1815.8,647.5 1816.0,648.7 1817.0,654.6 1817.6,658.3 1818.0,660.0 1818.8,663.7 1819.0,663.8 1820.0,664.5 1820.7,665.0 1821.0,663.9 1822.0,660.7 1822.5,659.2 1823.0,661.5 1824.0,665.5 1824.3,666.7 1825.0,669.1 1826.0,672.6 1826.7,675.1 1827.0,675.1 1828.0,675.1 1829.0,675.1 1829.2,675.1 1830.0,676.0 1831.0,677.0 1831.6,677.6 1832.0,679.3 1833.0,683.3 1833.4,685.0 1834.0,684.9 1835.0,684.9 1836.0,688.9 1836.4,690.4 1837.0,692.8 1838.0,696.6 1838.5,698.6 1839.0,699.7 1840.0,701.9 1840.5,703.0 1841.0,703.4 1841.9,704.0 1842.0,704.0 1843.0,703.3 1844.0,702.6 1845.0,700.0 1846.0,697.5 1846.1,697.3 1847.0,696.2 1848.0,695.1 1848.5,694.5 1849.0,694.8 1850.0,695.3 1850.3,695.5 1851.0,700.3 1851.3,702.3 1852.0,710.6 1852.4,715.3 1853.0,713.7 1853.4,712.5 1854.0,710.1 1855.0,706.1 1855.1,705.7 1856.0,703.2 1857.0,700.4 1857.6,698.7 1858.0,698.3 1859.0,697.4 1860.0,696.5 1861.0,695.6 1862.0,695.8 1863.0,696.1 1863.5,696.2 1864.0,698.3 1864.5,700.3 1865.0,698.8 1866.0,695.7 1866.3,694.8 1867.0,695.5 1868.0,696.5 1869.0,700.7 1869.7,703.6 1870.0,704.1 1871.0,705.6 1871.5,706.4 1872.0,706.8 1873.0,707.6 1873.2,707.8 1874.0,709.0 1875.0,710.5 1876.0,709.9 1877.0,709.2 1878.0,708.5 1879.0,707.9 1880.0,707.3 1881.0,706.7 1881.2,706.5 1882.0,707.1 1883.0,707.8 1883.3,708.0 1884.0,712.7 1885.0,719.2 1885.4,721.9 1886.0,725.7 1887.0,732.0 1888.0,733.9 1889.0,735.8 1890.0,738.4 1890.6,740.0 1891.0,739.4 1891.7,738.4 1892.0,739.2 1893.0,741.9 1893.8,743.9 1894.0,744.8 1895.0,748.2 1896.0,751.7 1896.4,753.1 1897.0,749.9 1897.4,747.8 1898.0,747.8 1898.4,747.8 L1898.4,965.0 Z" fill="#1cdf84"/>
<path d="M101.0,965.0 L101.0,952.0 102.0,952.0 103.0,951.9 104.0,951.9 105.0,951.9 106.0,951.8 107.0,951.8 108.0,951.8 109.0,951.8 110.0,951.7 111.0,951.7 112.0,951.7 113.0,951.6 114.0,951.6 115.0,951.6 116.0,951.5 117.0,951.5 117.5,951.5 118.0,952.0 119.0,953.0 120.0,954.0 121.0,953.2 122.0,952.4 123.0,951.6 124.0,950.8 125.0,950.0 126.0,949.4 127.0,948.9 128.0,948.3 129.0,947.7 130.0,947.2 131.0,946.6 132.0,946.0 132.5,945.8 133.0,945.1 134.0,943.7 135.0,942.3 136.0,940.9 137.0,939.5 138.0,938.1 138.8,937.1 139.0,936.8 140.0,935.5 141.0,934.1 142.0,932.8 142.5,932.2 143.0,931.4 144.0,929.8 145.0,928.2 146.0,926.6 147.0,925.0 148.0,923.4 148.8,922.2 149.0,922.0 150.0,921.2 151.0,920.4 152.0,919.5 152.5,919.1 153.0,918.8 154.0,918.2 155.0,917.7 156.0,917.1 157.0,916.5 158.0,917.4 159.0,918.2 160.0,919.1 160.5,919.5 161.0,920.0 162.0,921.0 163.0,922.0 164.0,923.0 165.0,924.0 166.0,924.4 167.0,924.7 168.0,925.0 169.0,925.4 170.0,925.8 171.0,926.1 172.0,926.5 173.0,927.0 174.0,927.4 175.0,927.8 176.0,928.2 177.0,928.7 178.0,929.2 179.0,929.7 180.0,930.1 181.0,930.6 181.2,930.8 182.0,931.1 183.0,931.6 184.0,932.1 185.0,932.6 186.0,933.1 186.2,933.2 187.0,932.9 188.0,932.4 189.0,931.9 190.0,931.4 191.0,930.9 191.2,930.8 192.0,930.6 193.0,930.4 194.0,930.1 195.0,929.8 196.0,929.6 197.0,929.3 197.5,929.2 198.0,929.0 199.0,928.7 200.0,928.4 201.0,928.1 202.0,927.7 203.0,927.4 204.0,927.1 205.0,926.8 206.0,926.4 207.0,926.0 208.0,925.6 209.0,925.2 210.0,924.8 211.0,924.4 212.0,924.0 212.5,923.8 213.0,923.5 214.0,923.1 215.0,922.6 216.0,922.2 217.0,921.7 218.0,921.3 219.0,920.8 220.0,920.4 221.0,919.9 222.0,919.5 223.0,919.0 224.0,918.6 225.0,918.1 226.0,917.7 227.0,917.2 227.5,917.0 228.0,916.8 229.0,916.6 230.0,916.3 231.0,916.1 231.2,916.0 232.0,915.2 233.0,914.1 234.0,913.1 235.0,912.1 236.0,911.2 237.0,910.3 238.0,909.5 238.8,908.9 239.0,909.0 240.0,909.1 241.0,909.2 242.0,909.4 243.0,909.6 244.0,909.8 245.0,910.0 246.0,909.6 247.0,909.2 248.0,908.8 249.0,908.4 250.0,908.1 251.0,907.7 252.0,907.4 253.0,907.1 254.0,906.8 255.0,906.5 256.0,906.2 257.0,905.9 257.5,905.8 258.0,905.0 259.0,903.4 260.0,901.8 261.0,900.2 262.0,898.6 263.0,898.5 264.0,898.4 265.0,898.3 266.0,899.3 267.0,900.3 268.0,890.1 268.8,882.4 269.0,881.3 270.0,877.0 271.0,873.3 271.2,872.3 272.0,871.7 273.0,870.8 274.0,869.9 275.0,869.0 276.0,868.2 277.0,867.4 278.0,866.6 279.0,865.8 280.0,865.0 281.0,864.2 281.2,864.0 282.0,862.8 283.0,861.4 284.0,860.2 285.0,859.0 286.0,858.0 287.0,857.1 288.0,856.1 289.0,857.3 290.0,858.4 291.0,859.6 291.2,859.9 292.0,860.4 293.0,860.8 294.0,860.9 295.0,861.0 296.0,861.0 296.2,861.1 297.0,864.7 298.0,869.4 298.8,873.0 299.0,874.8 300.0,882.0 300.5,885.5 301.0,886.0 302.0,887.2 303.0,888.4 304.0,889.6 305.0,890.8 306.0,891.6 307.0,892.5 308.0,893.4 309.0,894.3 310.0,895.2 311.0,895.9 312.0,896.6 313.0,897.5 314.0,898.5 315.0,899.4 316.0,900.4 317.0,901.4 318.0,902.3 319.0,903.3 320.0,904.3 321.0,904.9 322.0,905.5 323.0,906.1 324.0,906.7 325.0,907.2 326.0,907.4 327.0,907.6 328.0,907.8 329.0,908.0 330.0,908.2 331.0,908.3 331.2,908.4 332.0,908.3 333.0,908.2 334.0,908.0 335.0,907.8 336.0,907.7 337.0,907.5 337.5,907.4 338.0,907.5 339.0,907.7 340.0,907.9 341.0,908.0 342.0,908.2 343.0,908.4 344.0,908.6 345.0,908.8 346.0,908.9 347.0,909.1 348.0,909.2 349.0,909.4 350.0,909.5 351.0,909.7 352.0,909.8 352.5,909.9 353.0,910.0 354.0,910.2 355.0,910.3 356.0,910.5 357.0,910.7 357.5,910.8 358.0,910.8 359.0,910.8 360.0,910.9 361.0,911.0 362.0,911.0 362.5,911.1 363.0,911.2 364.0,911.3 365.0,911.5 366.0,911.7 367.0,911.9 368.0,911.9 369.0,906.2 370.0,900.3 371.0,897.0 372.0,893.7 372.5,892.0 373.0,891.5 374.0,890.4 375.0,889.4 376.0,888.3 377.0,887.3 377.5,886.8 378.0,886.0 379.0,884.6 380.0,883.1 381.0,881.7 382.0,880.2 382.5,879.5 383.0,878.8 384.0,877.4 385.0,876.1 386.0,874.7 387.0,873.4 388.0,872.0 388.8,871.0 389.0,870.3 390.0,867.1 391.0,864.0 392.0,860.9 392.5,859.4 393.0,855.9 394.0,848.9 394.5,845.5 395.0,844.5 396.0,842.3 397.0,840.1 397.5,839.0 398.0,840.2 399.0,842.5 400.0,844.9 401.0,844.7 402.0,844.5 403.0,844.4 404.0,844.2 405.0,844.1 406.0,844.3 407.0,844.4 408.0,844.7 409.0,845.2 410.0,845.7 411.0,846.2 412.0,846.7 412.5,846.9 413.0,847.9 414.0,850.0 415.0,852.0 416.0,854.0 417.0,856.0 417.5,857.0 418.0,857.8 419.0,859.5 420.0,861.3 421.0,863.0 422.0,864.8 422.5,865.7 423.0,866.3 424.0,867.5 425.0,868.8 426.0,870.1 427.0,871.3 427.5,872.0 428.0,873.1 429.0,875.4 430.0,877.6 431.0,879.8 431.2,880.4 432.0,881.7 433.0,883.4 434.0,885.2 435.0,886.9 436.0,887.2 437.0,887.4 438.0,887.6 439.0,887.8 440.0,888.1 441.0,888.3 441.2,888.3 442.0,889.1 443.0,890.0 444.0,891.0 445.0,892.0 446.0,892.4 447.0,892.8 448.0,893.2 449.0,893.6 450.0,893.9 451.0,894.3 452.0,894.7 453.0,895.1 454.0,895.5 455.0,895.9 456.0,896.2 457.0,896.6 458.0,896.9 459.0,897.3 460.0,897.6 461.0,898.0 462.0,898.3 462.5,898.5 463.0,898.7 464.0,899.2 465.0,899.7 466.0,900.1 467.0,900.6 468.0,901.1 469.0,901.5 470.0,902.0 471.0,902.7 472.0,903.5 473.0,904.2 474.0,904.9 475.0,905.6 476.0,906.4 477.0,907.1 477.5,907.4 478.0,907.6 479.0,907.9 480.0,908.3 481.0,908.6 482.0,908.9 483.0,909.3 484.0,909.6 485.0,909.9 486.0,910.0 487.0,910.1 488.0,910.2 489.0,910.3 490.0,910.3 491.0,910.4 492.0,910.5 492.5,910.5 493.0,910.6 494.0,910.7 495.0,910.8 496.0,910.6 496.2,910.6 497.0,911.4 498.0,912.5 499.0,913.7 500.0,914.8 501.0,914.9 502.0,915.0 503.0,915.2 504.0,915.3 505.0,915.4 506.0,915.6 507.0,915.7 507.5,915.8 508.0,915.8 509.0,916.0 510.0,916.1 511.0,916.3 512.0,916.4 513.0,916.6 514.0,916.7 515.0,916.8 516.0,917.1 517.0,917.4 518.0,917.7 519.0,918.0 520.0,918.2 521.0,918.8 522.0,919.3 523.0,919.9 524.0,920.4 525.0,921.0 526.0,921.5 527.0,922.1 527.5,922.3 528.0,922.5 529.0,922.8 530.0,923.0 531.0,923.3 532.0,923.6 533.0,923.9 534.0,924.2 535.0,924.4 536.0,925.0 537.0,925.5 538.0,926.1 539.0,926.6 540.0,927.1 541.0,927.7 542.0,928.2 542.5,928.5 543.0,928.7 544.0,929.1 545.0,929.5 546.0,929.5 547.0,929.5 548.0,929.5 549.0,929.5 550.0,929.5 551.0,929.1 552.0,928.8 553.0,928.4 554.0,928.0 555.0,927.7 556.0,924.1 557.0,920.6 557.5,918.8 558.0,916.4 559.0,911.7 560.0,907.0 561.0,903.9 562.0,900.7 563.0,897.5 563.8,895.1 564.0,894.3 565.0,891.0 566.0,887.7 567.0,884.3 567.5,882.6 568.0,879.8 569.0,874.0 570.0,868.2 571.0,865.4 572.0,862.6 572.5,861.2 573.0,860.6 574.0,859.5 575.0,858.5 576.0,857.5 577.0,856.4 577.5,855.9 578.0,855.6 579.0,855.1 580.0,854.5 581.0,854.0 582.0,853.4 582.5,853.2 583.0,853.7 584.0,854.5 585.0,854.7 586.0,857.2 587.0,859.7 587.5,861.0 588.0,862.1 589.0,864.2 590.0,866.4 591.0,866.7 592.0,867.1 593.0,867.5 594.0,867.9 595.0,868.2 596.0,870.5 597.0,872.8 597.5,873.9 598.0,875.4 599.0,878.4 600.0,881.4 601.0,881.0 602.0,880.7 603.0,880.3 604.0,879.9 605.0,879.5 606.0,880.1 607.0,880.8 608.0,881.5 609.0,882.1 610.0,882.8 611.0,883.6 612.0,884.5 613.0,885.4 614.0,886.2 615.0,887.1 616.0,887.6 617.0,888.1 618.0,888.5 619.0,889.0 620.0,889.5 621.0,890.3 622.0,891.1 623.0,891.9 624.0,892.7 625.0,893.5 626.0,894.7 627.0,895.9 628.0,897.1 629.0,898.3 630.0,899.5 631.0,901.0 632.0,902.5 633.0,903.9 633.8,905.0 634.0,905.2 635.0,905.8 636.0,906.1 636.2,906.2 637.0,903.8 638.0,900.6 638.8,898.2 639.0,897.7 640.0,895.5 641.0,893.3 642.0,891.2 642.5,890.1 643.0,889.7 644.0,888.8 645.0,887.9 646.0,887.1 647.0,886.2 647.5,885.8 648.0,886.1 649.0,886.9 650.0,887.7 651.0,888.4 652.0,889.2 652.5,889.5 653.0,889.8 654.0,890.2 655.0,890.6 656.0,891.0 657.0,891.5 658.0,891.9 659.0,892.3 660.0,892.7 661.0,893.1 662.0,893.4 663.0,893.8 664.0,894.1 665.0,894.5 666.0,896.4 667.0,898.2 668.0,900.1 668.8,901.5 669.0,902.3 670.0,905.2 671.0,908.1 672.0,911.1 672.5,912.6 673.0,912.7 674.0,913.0 675.0,913.2 676.0,913.6 677.0,914.0 677.5,914.2 678.0,914.1 679.0,913.9 680.0,913.8 681.0,913.6 682.0,913.5 683.0,913.3 684.0,913.2 685.0,913.0 686.0,913.2 687.0,913.4 688.0,913.6 689.0,913.7 690.0,913.9 691.0,914.3 692.0,914.6 693.0,915.0 694.0,915.4 695.0,915.8 696.0,915.7 697.0,915.7 698.0,915.6 699.0,915.6 700.0,915.6 701.0,916.1 702.0,916.7 703.0,917.2 704.0,917.8 705.0,918.3 706.0,918.7 707.0,919.1 708.0,919.4 709.0,919.8 710.0,920.1 711.0,920.6 712.0,921.1 713.0,921.6 713.8,922.0 714.0,921.9 715.0,921.3 716.0,920.8 717.0,920.2 717.5,920.0 718.0,919.8 719.0,919.4 720.0,918.9 721.0,918.5 722.0,918.1 722.5,917.9 723.0,917.8 724.0,917.6 725.0,917.4 726.0,917.2 727.0,917.0 727.5,916.9 728.0,916.8 729.0,916.6 730.0,916.5 731.0,916.3 732.0,916.2 733.0,916.0 734.0,915.9 735.0,915.8 736.0,913.8 737.0,911.9 738.0,909.9 738.8,908.4 739.0,907.7 740.0,904.6 741.0,901.6 742.0,898.5 742.5,897.0 743.0,896.7 744.0,896.1 745.0,895.4 746.0,894.8 747.0,894.2 747.5,893.9 748.0,893.5 749.0,892.6 750.0,891.8 751.0,891.0 752.0,890.1 752.5,889.7 753.0,888.7 754.0,886.7 755.0,884.6 756.0,882.6 757.0,880.5 757.5,879.5 758.0,878.2 759.0,875.7 760.0,873.1 761.0,870.5 762.0,867.8 762.5,866.5 763.0,865.3 764.0,862.8 765.0,860.3 766.0,857.8 767.0,855.3 767.5,854.0 768.0,853.5 769.0,852.6 770.0,851.7 771.0,850.8 771.2,850.5 772.0,845.4 773.0,839.1 773.8,834.8 774.0,834.1 775.0,831.6 776.0,829.1 777.0,826.7 777.5,825.4 778.0,824.6 779.0,823.1 780.0,821.5 781.0,820.0 781.2,819.6 782.0,820.6 783.0,821.9 784.0,823.2 785.0,824.5 786.0,824.0 787.0,823.4 788.0,822.9 788.8,822.5 789.0,822.4 790.0,822.1 791.0,821.8 792.0,821.5 793.0,821.2 794.0,820.8 795.0,820.5 796.0,815.5 797.0,810.4 798.0,805.4 798.8,801.6 799.0,801.2 800.0,799.5 801.0,800.0 802.0,800.5 803.0,801.0 803.8,801.4 804.0,801.0 805.0,799.5 806.0,798.0 807.0,796.5 807.5,795.8 808.0,794.9 809.0,793.1 810.0,791.3 811.0,789.5 811.2,789.0 812.0,785.6 813.0,781.1 814.0,776.6 815.0,772.0 816.0,766.2 817.0,760.6 817.5,757.8 818.0,758.4 819.0,759.5 820.0,760.7 821.0,761.8 822.0,763.1 822.5,763.7 823.0,763.7 824.0,763.8 825.0,763.9 826.0,764.1 827.0,764.4 827.5,764.5 828.0,765.6 829.0,767.7 830.0,769.9 831.0,772.0 831.2,772.6 832.0,773.5 833.0,774.7 834.0,775.9 835.0,777.1 836.0,779.0 837.0,781.0 838.0,783.0 839.0,785.0 840.0,787.0 841.0,790.2 842.0,793.4 843.0,796.5 844.0,799.7 845.0,802.8 846.0,810.4 847.0,817.9 847.5,821.7 848.0,822.2 849.0,823.3 850.0,824.3 851.0,825.4 852.0,826.5 852.5,827.0 853.0,828.9 854.0,832.7 855.0,836.6 856.0,839.7 857.0,842.9 857.5,844.5 858.0,840.7 859.0,833.0 860.0,825.1 861.0,817.8 862.0,810.3 863.0,802.7 863.8,797.0 864.0,795.4 865.0,789.0 866.0,782.6 867.0,776.1 867.5,772.9 868.0,771.2 869.0,767.6 870.0,764.1 871.0,760.6 872.0,757.1 872.5,755.3 873.0,754.0 874.0,751.3 875.0,748.7 876.0,746.0 877.0,743.3 877.5,742.0 878.0,739.0 879.0,733.0 880.0,727.0 881.0,721.0 882.0,715.0 883.0,709.1 883.4,706.7 884.0,703.7 885.0,698.8 886.0,693.9 886.9,689.6 887.0,689.4 888.0,688.0 888.6,687.1 889.0,689.3 890.0,695.0 891.0,700.7 891.4,702.9 892.0,701.5 893.0,699.4 893.8,697.6 894.0,696.7 895.0,691.8 896.0,687.0 897.0,682.2 897.3,680.7 898.0,674.9 899.0,666.7 900.0,658.5 900.8,652.2 901.0,649.3 902.0,636.8 903.0,624.5 904.0,612.1 904.2,609.2 905.0,597.8 906.0,582.9 907.0,568.1 907.7,557.6 908.0,556.8 909.0,553.8 910.0,550.9 911.0,548.0 911.2,547.4 912.0,535.0 913.0,519.9 913.6,510.6 914.0,503.7 915.0,486.0 915.7,473.8 916.0,472.2 917.0,467.2 918.0,464.6 919.0,462.0 919.2,461.6 920.0,460.3 921.0,458.7 922.0,457.2 922.6,456.2 923.0,460.0 924.0,465.7 925.0,470.9 925.1,471.3 926.0,475.7 927.0,480.5 928.0,485.4 928.5,488.0 929.0,489.2 930.0,491.6 931.0,494.1 932.0,496.7 932.0,496.7 933.0,500.9 934.0,505.3 935.0,509.7 935.5,511.8 936.0,513.7 937.0,517.3 938.0,521.0 939.0,524.5 939.0,524.7 940.0,531.5 941.0,538.4 941.4,541.1 942.0,553.7 943.0,574.5 943.1,577.1 944.0,583.4 945.0,590.6 945.9,597.2 946.0,597.4 947.0,599.5 948.0,601.6 949.0,605.9 949.4,607.6 950.0,603.9 951.0,598.1 951.1,597.4 952.0,594.6 952.8,591.8 953.0,592.3 954.0,595.6 955.0,598.9 956.0,602.2 956.3,603.2 957.0,605.2 958.0,607.3 959.0,608.8 959.8,609.9 960.0,609.8 961.0,614.7 962.0,619.6 962.6,622.5 963.0,624.5 964.0,629.4 965.0,634.3 965.2,635.3 966.0,636.5 967.0,637.7 967.8,636.8 968.0,635.3 969.0,627.3 970.0,619.2 970.4,615.8 971.0,610.0 972.0,599.9 973.0,589.7 973.0,589.6 974.0,581.2 975.0,572.6 975.6,567.3 976.0,578.7 977.0,583.0 978.0,578.7 978.2,577.7 979.0,577.7 979.5,577.8 980.0,580.8 981.0,587.1 982.0,593.5 982.1,594.3 983.0,592.1 984.0,589.6 984.7,587.7 985.0,586.0 986.0,579.5 987.0,572.9 988.0,566.4 988.6,562.2 989.0,560.5 990.0,557.7 991.0,554.9 992.0,549.9 992.5,546.7 993.0,545.5 994.0,542.7 995.0,539.9 996.0,537.2 996.4,536.0 997.0,534.8 998.0,532.6 999.0,530.5 1000.0,528.3 1000.3,527.6 1001.0,524.8 1002.0,520.3 1003.0,515.9 1003.0,514.2 1004.0,481.7 1004.3,473.5 1005.0,472.0 1006.0,470.1 1006.9,468.4 1007.0,468.2 1008.0,466.7 1009.0,465.3 1010.0,463.8 1010.8,462.7 1011.0,462.1 1012.0,459.8 1013.0,457.4 1013.4,456.6 1014.0,453.8 1015.0,449.2 1016.0,444.8 1016.0,444.9 1017.0,446.5 1018.0,448.2 1018.6,449.1 1019.0,449.5 1020.0,450.7 1021.0,454.9 1021.2,455.6 1022.0,454.7 1023.0,453.7 1023.8,452.9 1024.0,453.4 1025.0,455.5 1026.0,457.6 1026.4,456.6 1027.0,453.5 1028.0,450.0 1029.0,449.8 1029.0,450.0 1030.0,456.7 1031.0,463.7 1031.6,468.0 1032.0,473.4 1033.0,490.5 1034.0,511.4 1034.2,515.3 1035.0,515.5 1036.0,515.9 1036.8,516.2 1037.0,516.4 1038.0,517.7 1039.0,511.2 1039.4,511.2 1040.0,510.6 1041.0,509.6 1042.0,508.7 1043.0,507.7 1043.3,507.4 1044.0,507.4 1045.0,507.3 1045.9,507.3 1046.0,506.3 1047.0,496.3 1048.0,486.3 1048.5,481.2 1049.0,480.3 1050.0,478.6 1051.0,476.8 1051.1,476.6 1052.0,476.7 1053.0,476.4 1053.7,476.2 1054.0,476.9 1055.0,479.2 1056.0,481.5 1056.3,482.2 1057.0,481.3 1058.0,480.0 1059.0,478.7 1060.0,477.5 1060.2,477.2 1061.0,477.1 1062.0,477.0 1063.0,476.9 1064.0,476.8 1064.1,476.8 1065.0,477.1 1066.0,477.4 1066.7,477.6 1067.0,477.5 1068.0,476.9 1069.0,476.4 1069.3,476.2 1070.0,475.7 1071.0,475.2 1071.9,474.8 1072.0,475.1 1073.0,480.4 1074.0,486.0 1074.5,489.1 1075.0,488.3 1076.0,486.7 1077.0,491.6 1077.1,492.5 1078.0,497.8 1079.0,503.8 1079.7,508.2 1080.0,509.8 1081.0,515.8 1082.0,521.7 1082.3,523.7 1083.0,528.2 1084.0,534.9 1084.9,541.3 1085.0,541.3 1086.0,543.0 1087.0,544.7 1087.5,545.6 1088.0,546.8 1089.0,549.4 1090.0,552.0 1090.2,552.4 1091.0,554.7 1092.0,557.4 1092.8,559.4 1093.0,560.3 1094.0,563.9 1095.0,567.6 1095.4,568.9 1096.0,572.5 1097.0,578.1 1098.0,583.6 1098.0,583.7 1099.0,588.5 1100.0,593.2 1100.6,595.9 1101.0,607.7 1102.0,614.5 1103.0,615.2 1103.2,615.4 1104.0,614.7 1105.0,614.0 1105.8,613.4 1106.0,612.8 1107.0,610.2 1108.0,607.7 1108.4,606.7 1109.0,606.2 1110.0,605.5 1111.0,603.8 1111.0,603.7 1112.0,599.2 1113.0,594.7 1113.6,592.1 1114.0,590.2 1115.0,585.7 1116.0,581.1 1116.2,580.3 1117.0,590.8 1118.0,589.2 1118.8,580.4 1119.0,577.1 1120.0,561.2 1121.0,548.8 1121.4,544.0 1122.0,541.9 1123.0,538.6 1124.0,535.2 1124.0,535.2 1125.0,531.8 1126.0,528.4 1126.6,526.4 1127.0,519.2 1128.0,501.5 1129.0,483.7 1129.2,480.2 1130.0,479.0 1131.0,477.4 1131.8,476.2 1132.0,477.3 1133.0,475.2 1134.0,465.7 1135.0,456.1 1135.7,449.9 1136.0,451.3 1137.0,456.0 1138.0,460.7 1138.3,462.2 1139.0,470.5 1139.6,477.8 1140.0,479.3 1141.0,483.0 1142.0,487.3 1142.2,489.2 1143.0,490.1 1144.0,491.2 1144.8,492.1 1145.0,492.9 1146.0,497.7 1147.0,502.4 1147.4,504.4 1148.0,509.2 1149.0,517.6 1150.0,525.9 1150.0,526.1 1151.0,538.6 1152.0,551.3 1152.6,559.3 1153.0,558.6 1154.0,556.8 1155.0,555.0 1155.2,554.6 1156.0,558.9 1157.0,564.3 1157.8,568.9 1158.0,571.5 1159.0,586.7 1160.0,601.8 1160.4,608.3 1161.0,609.6 1162.0,612.0 1163.0,605.3 1163.0,604.9 1164.0,596.4 1165.0,587.5 1165.6,581.9 1166.0,581.3 1167.0,579.6 1168.0,577.8 1168.2,577.4 1169.0,572.7 1170.0,566.4 1171.0,560.1 1172.0,553.9 1172.1,553.0 1173.0,544.0 1174.0,533.4 1174.8,525.5 1175.0,523.3 1176.0,514.7 1177.0,506.1 1177.4,503.0 1178.0,496.9 1179.0,487.4 1180.0,478.4 1180.0,478.0 1181.0,469.5 1182.0,461.1 1182.6,456.3 1183.0,446.9 1183.9,428.5 1184.0,423.3 1185.0,385.7 1185.4,369.8 1185.6,374.7 1186.0,368.1 1187.0,350.7 1187.2,347.4 1188.0,339.2 1189.0,329.2 1190.0,319.3 1190.3,316.2 1191.0,311.8 1192.0,305.6 1193.0,299.3 1193.4,296.6 1194.0,295.7 1195.0,294.0 1196.0,290.8 1196.6,289.0 1197.0,288.0 1198.0,285.7 1198.1,285.5 1199.0,291.4 1199.7,296.1 1200.0,300.0 1201.0,312.3 1201.2,315.4 1202.0,319.2 1202.8,323.3 1203.0,322.4 1204.0,317.4 1204.4,315.5 1205.0,315.8 1205.9,316.3 1206.0,317.0 1207.0,329.4 1207.5,335.6 1208.0,340.0 1209.0,348.8 1210.0,357.6 1210.6,363.1 1211.0,367.8 1212.0,380.2 1212.2,382.6 1213.0,409.2 1213.8,433.8 1214.0,440.6 1215.0,467.9 1216.0,495.2 1216.9,519.1 1217.0,519.8 1218.0,525.0 1219.0,530.3 1220.0,535.6 1221.0,543.6 1222.0,551.7 1223.0,559.8 1223.1,560.8 1224.0,564.1 1225.0,567.8 1226.0,571.6 1227.0,575.4 1228.0,579.2 1229.0,582.9 1229.3,584.2 1230.0,583.0 1231.0,581.2 1232.0,579.4 1233.0,577.7 1234.0,575.9 1234.9,574.2 1235.0,574.1 1236.0,571.5 1237.0,568.9 1238.0,566.4 1239.0,563.8 1240.0,561.2 1241.0,558.6 1241.9,556.4 1242.0,555.9 1243.0,551.9 1244.0,547.9 1245.0,544.0 1246.0,540.0 1246.6,537.7 1247.0,537.4 1248.0,536.7 1249.0,536.0 1249.7,535.5 1250.0,533.0 1251.0,524.8 1252.0,516.5 1252.8,509.8 1253.0,507.7 1254.0,496.1 1255.0,484.6 1255.9,473.8 1256.0,473.6 1257.0,471.5 1258.0,469.3 1259.0,467.2 1259.1,467.1 1260.0,463.3 1261.0,459.2 1262.0,455.2 1262.2,454.5 1263.0,452.7 1264.0,450.6 1265.0,448.4 1265.3,447.7 1266.0,447.2 1267.0,446.5 1268.0,445.6 1268.4,445.2 1269.0,446.0 1270.0,447.5 1271.0,449.0 1271.6,449.8 1272.0,449.8 1273.0,449.9 1274.0,449.9 1274.7,450.0 1275.0,450.7 1276.0,453.2 1277.0,455.6 1277.8,457.6 1278.0,458.4 1279.0,462.8 1280.0,467.2 1280.9,471.3 1281.0,472.5 1282.0,491.3 1282.5,500.7 1283.0,507.7 1284.0,521.7 1285.0,535.8 1285.6,544.6 1286.0,546.6 1287.0,552.0 1288.0,557.4 1289.0,562.8 1290.0,568.2 1291.0,573.6 1291.2,575.0 1292.0,584.9 1293.0,598.0 1293.0,598.2 1294.0,613.4 1294.7,624.4 1295.0,627.2 1296.0,637.4 1296.5,642.1 1297.0,644.5 1298.0,648.8 1299.0,653.2 1299.9,657.2 1300.0,657.6 1301.0,662.9 1302.0,668.2 1303.0,673.5 1303.4,675.7 1304.0,678.2 1305.0,681.6 1306.0,684.9 1306.9,687.9 1307.0,688.1 1308.0,689.5 1309.0,691.0 1310.0,692.5 1310.3,693.0 1311.0,694.0 1312.0,695.5 1313.0,697.0 1313.8,698.2 1314.0,698.5 1315.0,700.0 1315.6,700.9 1316.0,700.6 1317.0,700.0 1318.0,699.5 1318.3,699.3 1319.0,703.5 1320.0,705.9 1320.8,707.8 1321.0,707.5 1322.0,706.4 1323.0,705.3 1324.0,704.2 1324.2,703.9 1325.0,702.3 1326.0,700.2 1326.7,699.1 1327.0,694.5 1328.0,680.9 1329.0,667.3 1329.4,661.3 1330.0,657.5 1331.0,650.8 1332.0,644.1 1332.9,638.0 1333.0,637.5 1334.0,631.9 1335.0,626.3 1336.0,620.7 1336.4,618.5 1337.0,617.4 1338.0,613.4 1339.0,606.5 1339.9,600.6 1340.0,600.2 1341.0,597.4 1342.0,594.5 1343.0,591.7 1343.3,590.7 1344.0,591.4 1345.0,592.4 1346.0,593.4 1346.8,594.2 1347.0,593.0 1348.0,587.1 1349.0,581.1 1349.6,577.6 1350.0,574.2 1351.0,566.0 1352.0,557.8 1352.0,557.7 1353.0,549.7 1354.0,541.5 1354.4,537.8 1355.0,535.2 1356.0,554.9 1357.0,557.6 1357.2,556.0 1358.0,560.2 1359.0,565.6 1360.0,571.2 1360.7,575.1 1361.0,576.1 1362.0,579.4 1363.0,582.7 1363.5,584.3 1364.0,583.0 1365.0,580.6 1366.0,578.2 1367.0,575.8 1367.6,574.2 1368.0,573.4 1369.0,571.0 1370.0,568.5 1371.0,566.1 1371.1,565.9 1372.0,568.1 1373.0,570.5 1374.0,573.0 1374.6,574.4 1375.0,574.3 1376.0,573.2 1377.0,572.0 1378.0,570.8 1378.1,570.7 1379.0,575.1 1380.0,579.6 1381.0,584.2 1381.5,586.7 1382.0,589.3 1383.0,594.9 1384.0,600.4 1385.0,606.0 1386.0,611.1 1387.0,616.2 1388.0,621.4 1388.5,623.8 1389.0,623.4 1390.0,622.7 1391.0,622.1 1391.9,621.4 1392.0,621.4 1393.0,621.1 1394.0,620.7 1395.0,620.3 1396.0,620.0 1397.0,619.7 1397.2,619.6 1398.0,621.5 1399.0,623.7 1400.0,625.9 1400.6,627.3 1401.0,627.6 1402.0,628.4 1403.0,629.1 1404.0,629.9 1404.1,630.0 1405.0,630.7 1406.0,631.5 1407.0,632.4 1407.6,632.9 1408.0,632.8 1409.0,632.6 1410.0,632.5 1411.0,632.3 1412.0,632.1 1412.8,631.9 1413.0,632.0 1414.0,632.5 1415.0,632.9 1416.0,633.4 1417.0,633.8 1418.0,634.3 1418.0,634.4 1418.1,635.8 1419.0,622.8 1420.0,607.8 1420.6,598.5 1421.0,598.5 1422.0,598.4 1423.0,598.3 1423.5,598.3 1424.0,599.6 1425.0,602.2 1426.0,604.7 1427.0,607.3 1427.0,607.4 1428.0,609.0 1429.0,610.6 1430.0,612.2 1430.6,613.1 1431.0,612.3 1432.0,610.2 1433.0,608.1 1434.0,606.0 1434.1,605.7 1435.0,608.6 1436.0,612.1 1437.0,615.6 1437.7,618.0 1438.0,619.0 1439.0,622.5 1440.0,626.0 1441.0,629.4 1441.3,630.3 1442.0,633.2 1443.0,637.1 1444.0,641.0 1444.8,644.2 1445.0,643.4 1446.0,639.0 1447.0,634.6 1447.7,631.7 1448.0,633.9 1449.0,640.3 1450.0,646.3 1450.2,647.3 1451.0,648.4 1452.0,649.7 1453.0,651.1 1453.7,652.1 1454.0,650.9 1455.0,646.6 1456.0,642.4 1457.0,638.2 1457.3,637.0 1458.0,635.3 1459.0,632.9 1460.0,630.4 1460.8,628.4 1461.0,629.0 1462.0,632.7 1463.0,636.4 1464.0,640.2 1464.4,641.6 1465.0,639.9 1466.0,637.0 1467.0,634.6 1468.0,632.5 1468.0,632.3 1469.0,628.6 1470.0,624.9 1471.0,621.2 1471.5,619.3 1472.0,619.8 1473.0,620.9 1474.0,621.9 1475.0,623.0 1475.1,623.0 1476.0,628.8 1477.0,635.0 1478.0,641.3 1478.6,645.2 1479.0,646.3 1480.0,649.2 1481.0,652.1 1482.0,655.0 1482.2,655.5 1483.0,654.5 1484.0,653.1 1485.0,651.8 1485.7,650.8 1486.0,652.2 1487.0,657.7 1488.0,663.0 1488.2,664.2 1489.0,662.5 1490.0,660.1 1491.0,657.8 1492.0,655.4 1492.9,653.4 1493.0,652.8 1494.0,648.2 1495.0,643.6 1496.0,639.0 1497.0,634.4 1498.0,629.8 1498.2,628.9 1499.0,625.2 1500.0,620.6 1501.0,616.0 1502.0,611.4 1503.0,606.7 1503.5,604.2 1504.0,602.1 1505.0,597.5 1506.0,592.9 1507.0,588.3 1508.0,583.6 1508.2,582.9 1509.0,578.5 1510.0,573.3 1511.0,568.1 1512.0,562.8 1512.2,561.8 1513.0,555.4 1514.0,547.5 1515.0,539.6 1515.3,537.2 1516.0,535.0 1517.0,531.9 1518.0,528.7 1518.4,527.4 1519.0,527.7 1520.0,528.4 1521.0,529.4 1521.6,530.0 1522.0,530.4 1523.0,531.4 1524.0,532.4 1524.7,533.1 1525.0,531.9 1526.0,528.2 1527.0,524.4 1527.8,521.3 1528.0,522.5 1529.0,529.3 1530.0,536.0 1530.9,542.4 1531.0,542.6 1532.0,545.5 1533.0,548.4 1534.0,551.3 1534.1,551.5 1535.0,555.1 1536.0,559.0 1537.0,562.8 1537.2,563.6 1538.0,571.2 1539.0,580.6 1540.0,590.0 1541.0,599.5 1542.0,608.9 1543.0,618.3 1544.0,627.7 1544.5,632.1 1545.0,633.7 1546.0,636.7 1547.0,639.8 1548.0,642.8 1548.0,642.9 1549.0,645.4 1550.0,647.9 1551.0,650.5 1551.6,652.0 1552.0,651.5 1553.0,650.2 1554.0,648.9 1555.0,647.7 1555.1,647.5 1556.0,650.1 1557.0,653.1 1558.0,656.1 1558.7,658.3 1559.0,658.4 1560.0,659.1 1561.0,659.7 1562.0,660.4 1562.3,660.5 1563.0,661.3 1564.0,662.3 1565.0,663.4 1565.8,664.2 1566.0,662.9 1567.0,655.9 1568.0,648.9 1569.0,641.9 1569.4,639.3 1570.0,635.8 1571.0,630.2 1572.0,624.7 1572.9,619.5 1573.0,619.3 1574.0,616.1 1575.0,612.9 1576.0,609.7 1576.5,608.1 1577.0,607.6 1578.0,606.8 1579.0,606.0 1580.0,605.1 1581.0,604.3 1581.8,603.6 1582.0,604.3 1583.0,608.5 1584.0,612.6 1585.0,616.8 1585.4,618.4 1586.0,617.8 1587.0,616.8 1588.0,615.8 1589.0,614.8 1589.0,614.8 1590.0,614.3 1591.0,613.7 1592.0,613.2 1592.5,612.9 1593.0,613.3 1594.0,614.2 1595.0,615.1 1596.0,615.9 1596.1,616.0 1597.0,619.5 1598.0,623.2 1599.0,626.9 1599.6,629.2 1600.0,631.3 1601.0,636.9 1602.0,642.6 1603.0,648.4 1603.2,649.4 1604.0,630.9 1604.3,624.0 1605.0,619.1 1606.0,612.1 1607.0,605.1 1607.1,604.5 1608.0,602.8 1609.0,600.8 1609.5,599.8 1610.0,601.2 1611.0,604.1 1612.0,606.9 1613.0,609.1 1613.0,609.1 1614.0,610.8 1615.0,612.5 1616.0,614.2 1616.5,615.0 1617.0,616.2 1618.0,618.3 1619.0,620.5 1619.9,622.5 1620.0,622.5 1621.0,621.8 1622.0,621.2 1623.0,620.5 1623.4,620.2 1624.0,620.7 1625.0,621.5 1626.0,622.2 1626.9,622.9 1627.0,623.1 1628.0,624.8 1629.0,625.6 1630.0,625.1 1630.3,625.7 1631.0,627.4 1632.0,630.0 1633.0,632.6 1633.8,634.7 1634.0,637.1 1635.0,650.3 1635.6,657.6 1636.0,663.5 1637.0,676.7 1637.3,680.6 1638.0,682.5 1639.0,685.1 1640.0,687.8 1640.8,689.8 1641.0,690.5 1642.0,693.1 1643.0,695.8 1644.0,698.5 1644.2,699.2 1645.0,701.1 1646.0,703.5 1647.0,705.9 1647.7,707.6 1648.0,708.3 1649.0,710.7 1650.0,712.8 1651.0,714.7 1651.2,715.0 1652.0,715.7 1653.0,716.6 1654.0,717.5 1654.7,718.1 1655.0,718.6 1656.0,719.9 1657.0,721.3 1658.0,722.7 1658.1,722.9 1659.0,723.6 1660.0,724.5 1661.0,725.4 1661.6,726.0 1662.0,726.5 1663.0,727.9 1664.0,729.3 1665.0,730.6 1665.1,730.7 1666.0,731.6 1667.0,732.5 1668.0,733.4 1668.5,733.9 1669.0,734.8 1670.0,736.8 1671.0,738.7 1671.0,738.6 1672.0,734.6 1673.0,730.6 1673.8,727.6 1674.0,726.5 1675.0,721.9 1676.0,717.3 1677.0,712.8 1677.2,711.8 1678.0,709.4 1679.0,706.3 1680.0,703.2 1680.7,701.0 1681.0,700.5 1682.0,698.9 1683.0,697.2 1684.0,695.6 1684.2,695.3 1685.0,696.4 1686.0,697.7 1687.0,699.2 1687.6,700.6 1688.0,701.6 1689.0,704.3 1690.0,707.0 1691.0,709.7 1691.1,710.0 1692.0,711.6 1693.0,713.3 1694.0,713.7 1694.6,713.9 1695.0,714.0 1696.0,714.3 1697.0,714.7 1698.0,715.0 1698.1,715.1 1699.0,716.3 1700.0,717.6 1701.0,718.9 1701.5,719.6 1702.0,719.9 1703.0,720.5 1704.0,721.2 1704.3,721.4 1705.0,723.7 1706.0,727.3 1706.7,724.4 1707.0,723.0 1708.0,717.9 1709.0,712.8 1710.0,707.6 1710.2,706.6 1711.0,701.0 1712.0,694.0 1713.0,686.9 1713.7,682.1 1714.0,680.1 1715.0,673.9 1716.0,667.7 1717.0,661.4 1717.2,660.5 1718.0,658.3 1719.0,655.8 1720.0,653.3 1720.6,651.7 1721.0,651.1 1722.0,649.5 1723.0,647.8 1724.0,646.2 1724.1,646.1 1725.0,644.6 1726.0,643.8 1727.0,647.5 1727.6,649.6 1728.0,650.2 1729.0,649.3 1730.0,648.4 1731.0,647.6 1732.0,646.7 1732.1,646.6 1733.0,649.5 1734.0,652.7 1735.0,656.0 1736.0,659.2 1736.4,660.6 1737.0,664.1 1738.0,670.2 1739.0,676.3 1740.0,682.5 1740.8,687.2 1741.0,688.4 1742.0,693.6 1743.0,698.9 1744.0,704.2 1745.0,709.5 1745.1,710.1 1746.0,713.5 1747.0,717.4 1747.3,718.6 1748.0,715.9 1749.0,712.2 1749.5,710.5 1750.0,709.6 1751.0,707.8 1752.0,706.0 1753.0,704.2 1753.8,702.8 1754.0,702.6 1755.0,701.7 1756.0,700.9 1757.0,700.1 1758.0,699.2 1758.1,699.1 1759.0,698.8 1760.0,698.4 1761.0,698.1 1762.0,697.7 1762.5,697.5 1763.0,697.3 1764.0,697.0 1765.0,696.6 1766.0,696.3 1766.8,696.0 1767.0,695.8 1768.0,695.0 1769.0,694.1 1770.0,693.3 1771.0,692.4 1771.2,692.3 1772.0,692.3 1773.0,692.4 1774.0,692.5 1775.0,692.6 1775.5,692.6 1776.0,691.8 1777.0,690.0 1778.0,688.2 1779.0,686.4 1779.8,684.9 1780.0,684.7 1781.0,683.9 1782.0,683.1 1783.0,682.2 1784.0,681.4 1784.2,681.2 1785.0,676.7 1786.0,671.2 1787.0,665.7 1788.0,660.1 1788.5,657.2 1789.0,655.3 1790.0,651.2 1791.0,647.1 1792.0,643.0 1792.9,639.4 1793.0,639.4 1794.0,639.0 1795.0,638.6 1796.0,638.3 1797.0,637.9 1797.2,637.8 1798.0,637.6 1799.0,637.2 1800.0,636.8 1801.0,636.5 1801.6,636.3 1802.0,636.4 1803.0,636.5 1804.0,636.7 1805.0,636.9 1805.9,637.1 1806.0,637.3 1807.0,639.9 1808.0,642.4 1809.0,644.9 1810.0,647.4 1810.2,647.9 1811.0,649.4 1812.0,651.2 1813.0,653.1 1814.0,654.8 1814.0,655.0 1815.0,659.8 1815.8,663.6 1816.0,664.8 1817.0,670.5 1817.6,674.0 1818.0,675.7 1818.8,679.3 1819.0,679.4 1820.0,680.2 1820.7,680.7 1821.0,679.7 1822.0,676.7 1822.5,675.4 1823.0,677.5 1824.0,681.1 1824.3,682.1 1825.0,684.2 1826.0,687.1 1826.7,689.2 1827.0,689.1 1828.0,688.7 1829.0,688.4 1829.2,688.4 1830.0,688.9 1831.0,689.5 1831.6,689.8 1832.0,691.3 1833.0,694.8 1833.4,696.2 1834.0,696.0 1835.0,695.6 1836.0,699.1 1836.4,700.4 1837.0,702.5 1838.0,705.9 1838.5,707.6 1839.0,708.5 1840.0,710.3 1840.5,711.2 1841.0,711.4 1841.9,711.7 1842.0,711.6 1843.0,710.7 1844.0,709.7 1845.0,706.8 1846.0,704.4 1846.1,704.2 1847.0,703.1 1848.0,702.0 1848.5,701.4 1849.0,701.7 1850.0,702.3 1850.3,702.4 1851.0,707.1 1851.3,709.0 1852.0,717.1 1852.4,721.7 1853.0,720.1 1853.4,719.0 1854.0,716.6 1855.0,712.7 1855.1,712.3 1856.0,709.9 1857.0,707.1 1857.6,705.5 1858.0,705.1 1859.0,704.2 1860.0,703.3 1861.0,702.4 1862.0,702.7 1863.0,702.9 1863.5,703.0 1864.0,705.0 1864.5,707.0 1865.0,705.5 1866.0,702.5 1866.3,701.6 1867.0,702.3 1868.0,703.3 1869.0,707.4 1869.7,710.3 1870.0,710.7 1871.0,712.2 1871.5,713.0 1872.0,713.3 1873.0,714.1 1873.2,714.3 1874.0,715.5 1875.0,717.0 1876.0,716.4 1877.0,715.7 1878.0,715.1 1879.0,714.5 1880.0,713.9 1881.0,713.3 1881.2,713.1 1882.0,713.7 1883.0,714.4 1883.3,714.6 1884.0,719.1 1885.0,725.3 1885.4,727.8 1886.0,731.4 1887.0,737.4 1888.0,739.1 1889.0,740.8 1890.0,743.2 1890.6,744.6 1891.0,743.9 1891.7,742.8 1892.0,743.6 1893.0,746.0 1893.8,747.9 1894.0,748.7 1895.0,751.9 1896.0,755.1 1896.4,756.4 1897.0,753.2 1897.4,751.2 1898.0,751.2 1898.4,751.2 L1898.4,965.0 Z" fill="#12d1b7"/>
<path d="M101.0,965.0 L101.0,952.0 102.0,952.0 103.0,951.9 104.0,951.9 105.0,951.9 106.0,951.8 107.0,951.8 108.0,951.8 109.0,951.8 110.0,951.7 111.0,951.7 112.0,951.7 113.0,951.6 114.0,951.6 115.0,951.6 116.0,951.5 117.0,951.5 117.5,951.5 118.0,952.0 119.0,953.0 120.0,954.0 121.0,953.2 122.0,952.4 123.0,951.6 124.0,950.8 125.0,950.0 126.0,949.4 127.0,948.9 128.0,948.3 129.0,947.7 130.0,947.2 131.0,946.6 132.0,946.0 132.5,945.8 133.0,945.1 134.0,943.7 135.0,942.3 136.0,940.9 137.0,939.5 138.0,938.1 138.8,937.1 139.0,936.8 140.0,935.5 141.0,934.1 142.0,932.8 142.5,932.2 143.0,931.4 144.0,929.8 145.0,928.2 146.0,926.6 147.0,925.0 148.0,923.4 148.8,922.2 149.0,922.0 150.0,921.2 151.0,920.4 152.0,919.5 152.5,919.1 153.0,918.8 154.0,918.2 155.0,917.7 156.0,917.1 157.0,916.5 158.0,917.4 159.0,918.2 160.0,919.1 160.5,919.5 161.0,920.0 162.0,921.0 163.0,922.0 164.0,923.0 165.0,924.0 166.0,924.4 167.0,924.7 168.0,925.0 169.0,925.4 170.0,925.8 171.0,926.1 172.0,926.5 173.0,927.0 174.0,927.4 175.0,927.8 176.0,928.2 177.0,928.7 178.0,929.2 179.0,929.7 180.0,930.1 181.0,930.6 181.2,930.8 182.0,931.1 183.0,931.6 184.0,932.1 185.0,932.6 186.0,933.1 186.2,933.2 187.0,932.9 188.0,932.4 189.0,931.9 190.0,931.4 191.0,930.9 191.2,930.8 192.0,930.6 193.0,930.4 194.0,930.1 195.0,929.8 196.0,929.6 197.0,929.3 197.5,929.2 198.0,929.0 199.0,928.7 200.0,928.4 201.0,928.1 202.0,927.7 203.0,927.4 204.0,927.1 205.0,926.8 206.0,926.4 207.0,926.0 208.0,925.6 209.0,925.2 210.0,924.8 211.0,924.4 212.0,924.0 212.5,923.8 213.0,923.5 214.0,923.1 215.0,922.6 216.0,922.2 217.0,921.7 218.0,921.3 219.0,920.8 220.0,920.4 221.0,919.9 222.0,919.5 223.0,919.0 224.0,918.6 225.0,918.1 226.0,917.7 227.0,917.2 227.5,917.0 228.0,916.8 229.0,916.6 230.0,916.3 231.0,916.1 231.2,916.0 232.0,915.2 233.0,914.1 234.0,913.1 235.0,912.1 236.0,911.2 237.0,910.3 238.0,909.5 238.8,908.9 239.0,909.0 240.0,909.1 241.0,909.2 242.0,909.4 243.0,909.6 244.0,909.8 245.0,910.0 246.0,909.6 247.0,909.2 248.0,908.8 249.0,908.4 250.0,908.1 251.0,907.7 252.0,907.4 253.0,907.1 254.0,906.8 255.0,906.5 256.0,906.2 257.0,905.9 257.5,905.8 258.0,905.0 259.0,903.4 260.0,901.8 261.0,900.2 262.0,898.6 263.0,898.5 264.0,898.4 265.0,898.3 266.0,899.3 267.0,900.3 268.0,890.1 268.8,882.4 269.0,881.3 270.0,877.0 271.0,873.3 271.2,872.3 272.0,871.7 273.0,870.8 274.0,869.9 275.0,869.0 276.0,868.2 277.0,867.4 278.0,866.6 279.0,865.8 280.0,865.0 281.0,864.2 281.2,864.0 282.0,862.8 283.0,861.4 284.0,860.2 285.0,859.0 286.0,858.0 287.0,857.1 288.0,856.1 289.0,857.3 290.0,858.4 291.0,859.6 291.2,859.9 292.0,860.4 293.0,860.8 294.0,860.9 295.0,861.0 296.0,861.0 296.2,861.1 297.0,864.7 298.0,869.4 298.8,873.0 299.0,874.8 300.0,882.0 300.5,885.5 301.0,886.0 302.0,887.2 303.0,888.4 304.0,889.6 305.0,890.8 306.0,891.6 307.0,892.5 308.0,893.4 309.0,894.3 310.0,895.2 311.0,895.9 312.0,896.6 313.0,897.5 314.0,898.5 315.0,899.4 316.0,900.4 317.0,901.4 318.0,902.3 319.0,903.3 320.0,904.3 321.0,904.9 322.0,905.5 323.0,906.1 324.0,906.7 325.0,907.2 326.0,907.4 327.0,907.6 328.0,907.8 329.0,908.0 330.0,908.2 331.0,908.3 331.2,908.4 332.0,908.3 333.0,908.2 334.0,908.0 335.0,907.8 336.0,907.7 337.0,907.5 337.5,907.4 338.0,907.5 339.0,907.7 340.0,907.9 341.0,908.0 342.0,908.2 343.0,908.4 344.0,908.6 345.0,908.8 346.0,908.9 347.0,909.1 348.0,909.2 349.0,909.4 350.0,909.5 351.0,909.7 352.0,909.8 352.5,909.9 353.0,910.0 354.0,910.2 355.0,910.3 356.0,910.5 357.0,910.7 357.5,910.8 358.0,910.8 359.0,910.8 360.0,910.9 361.0,911.0 362.0,911.0 362.5,911.1 363.0,911.2 364.0,911.3 365.0,911.5 366.0,911.7 367.0,911.9 368.0,911.9 369.0,906.2 370.0,900.3 371.0,897.0 372.0,893.7 372.5,892.0 373.0,891.5 374.0,890.4 375.0,889.4 376.0,888.3 377.0,887.3 377.5,886.8 378.0,886.0 379.0,884.6 380.0,883.1 381.0,881.7 382.0,880.2 382.5,879.5 383.0,878.8 384.0,877.4 385.0,876.1 386.0,874.7 387.0,873.4 388.0,872.0 388.8,871.0 389.0,870.3 390.0,867.1 391.0,864.0 392.0,860.9 392.5,859.4 393.0,855.9 394.0,848.9 394.5,845.5 395.0,844.5 396.0,842.3 397.0,840.1 397.5,839.0 398.0,840.2 399.0,842.5 400.0,844.9 401.0,844.7 402.0,844.5 403.0,844.4 404.0,844.2 405.0,844.1 406.0,844.3 407.0,844.4 408.0,844.7 409.0,845.2 410.0,845.7 411.0,846.2 412.0,846.7 412.5,846.9 413.0,847.9 414.0,850.0 415.0,852.0 416.0,854.0 417.0,856.0 417.5,857.0 418.0,857.8 419.0,859.5 420.0,861.3 421.0,863.0 422.0,864.8 422.5,865.7 423.0,866.3 424.0,867.5 425.0,868.8 426.0,870.1 427.0,871.3 427.5,872.0 428.0,873.1 429.0,875.4 430.0,877.6 431.0,879.8 431.2,880.4 432.0,881.7 433.0,883.4 434.0,885.2 435.0,886.9 436.0,887.2 437.0,887.4 438.0,887.6 439.0,887.8 440.0,888.1 441.0,888.3 441.2,888.3 442.0,889.1 443.0,890.0 444.0,891.0 445.0,892.0 446.0,892.4 447.0,892.8 448.0,893.2 449.0,893.6 450.0,893.9 451.0,894.3 452.0,894.7 453.0,895.1 454.0,895.5 455.0,895.9 456.0,896.2 457.0,896.6 458.0,896.9 459.0,897.3 460.0,897.6 461.0,898.0 462.0,898.3 462.5,898.5 463.0,898.7 464.0,899.2 465.0,899.7 466.0,900.1 467.0,900.6 468.0,901.1 469.0,901.5 470.0,902.0 471.0,902.7 472.0,903.5 473.0,904.2 474.0,904.9 475.0,905.6 476.0,906.4 477.0,907.1 477.5,907.4 478.0,907.6 479.0,907.9 480.0,908.3 481.0,908.6 482.0,908.9 483.0,909.3 484.0,909.6 485.0,909.9 486.0,910.0 487.0,910.1 488.0,910.2 489.0,910.3 490.0,910.3 491.0,910.4 492.0,910.5 492.5,910.5 493.0,910.6 494.0,910.7 495.0,910.8 496.0,910.6 496.2,910.6 497.0,911.4 498.0,912.5 499.0,913.7 500.0,914.8 501.0,914.9 502.0,915.0 503.0,915.2 504.0,915.3 505.0,915.4 506.0,915.6 507.0,915.7 507.5,915.8 508.0,915.8 509.0,916.0 510.0,916.1 511.0,916.3 512.0,916.4 513.0,916.6 514.0,916.7 515.0,916.8 516.0,917.1 517.0,917.4 518.0,917.7 519.0,918.0 520.0,918.2 521.0,918.8 522.0,919.3 523.0,919.9 524.0,920.4 525.0,921.0 526.0,921.5 527.0,922.1 527.5,922.3 528.0,922.5 529.0,922.8 530.0,923.0 531.0,923.3 532.0,923.6 533.0,923.9 534.0,924.2 535.0,924.4 536.0,925.0 537.0,925.5 538.0,926.1 539.0,926.6 540.0,927.1 541.0,927.7 542.0,928.2 542.5,928.5 543.0,928.7 544.0,929.1 545.0,929.5 546.0,929.5 547.0,929.5 548.0,929.5 549.0,929.5 550.0,929.5 551.0,929.1 552.0,928.8 553.0,928.4 554.0,928.0 555.0,927.7 556.0,924.1 557.0,920.6 557.5,918.8 558.0,916.4 559.0,911.7 560.0,907.0 561.0,903.9 562.0,900.7 563.0,897.5 563.8,895.1 564.0,894.3 565.0,891.0 566.0,887.7 567.0,884.3 567.5,882.6 568.0,879.8 569.0,874.0 570.0,868.2 571.0,865.4 572.0,862.6 572.5,861.2 573.0,860.6 574.0,859.5 575.0,858.5 576.0,857.5 577.0,856.4 577.5,855.9 578.0,855.6 579.0,855.1 580.0,854.5 581.0,854.0 582.0,853.4 582.5,853.2 583.0,853.7 584.0,854.5 585.0,854.7 586.0,857.2 587.0,859.7 587.5,861.0 588.0,862.1 589.0,864.2 590.0,866.4 591.0,866.7 592.0,867.1 593.0,867.5 594.0,867.9 595.0,868.2 596.0,870.5 597.0,872.8 597.5,873.9 598.0,875.4 599.0,878.4 600.0,881.4 601.0,881.0 602.0,880.7 603.0,880.3 604.0,879.9 605.0,879.5 606.0,880.1 607.0,880.8 608.0,881.5 609.0,882.1 610.0,882.8 611.0,883.6 612.0,884.5 613.0,885.4 614.0,886.2 615.0,887.1 616.0,887.6 617.0,888.1 618.0,888.5 619.0,889.0 620.0,889.5 621.0,890.3 622.0,891.1 623.0,891.9 624.0,892.7 625.0,893.5 626.0,894.7 627.0,895.9 628.0,897.1 629.0,898.3 630.0,899.5 631.0,901.0 632.0,902.5 633.0,903.9 633.8,905.0 634.0,905.2 635.0,905.8 636.0,906.1 636.2,906.2 637.0,903.8 638.0,900.6 638.8,898.2 639.0,897.7 640.0,895.5 641.0,893.3 642.0,891.2 642.5,890.1 643.0,889.7 644.0,888.8 645.0,887.9 646.0,887.1 647.0,886.2 647.5,885.8 648.0,886.1 649.0,886.9 650.0,887.7 651.0,888.4 652.0,889.2 652.5,889.5 653.0,889.8 654.0,890.2 655.0,890.6 656.0,891.0 657.0,891.5 658.0,891.9 659.0,892.3 660.0,892.7 661.0,893.1 662.0,893.4 663.0,893.8 664.0,894.1 665.0,894.5 666.0,896.4 667.0,898.2 668.0,900.1 668.8,901.5 669.0,902.3 670.0,905.2 671.0,908.1 672.0,911.1 672.5,912.6 673.0,912.7 674.0,913.0 675.0,913.2 676.0,913.6 677.0,914.0 677.5,914.2 678.0,914.1 679.0,913.9 680.0,913.8 681.0,913.6 682.0,913.5 683.0,913.3 684.0,913.2 685.0,913.0 686.0,913.2 687.0,913.4 688.0,913.6 689.0,913.7 690.0,913.9 691.0,914.3 692.0,914.6 693.0,915.0 694.0,915.4 695.0,915.8 696.0,915.7 697.0,915.7 698.0,915.6 699.0,915.6 700.0,915.6 701.0,916.1 702.0,916.7 703.0,917.2 704.0,917.8 705.0,918.3 706.0,918.7 707.0,919.1 708.0,919.4 709.0,919.8 710.0,920.1 711.0,920.6 712.0,921.1 713.0,921.6 713.8,922.0 714.0,921.9 715.0,921.3 716.0,920.8 717.0,920.2 717.5,920.0 718.0,919.8 719.0,919.4 720.0,918.9 721.0,918.5 722.0,918.1 722.5,917.9 723.0,917.8 724.0,917.6 725.0,917.4 726.0,917.2 727.0,917.0 727.5,916.9 728.0,916.8 729.0,916.6 730.0,916.5 731.0,916.3 732.0,916.2 733.0,916.0 734.0,915.9 735.0,915.8 736.0,913.8 737.0,911.9 738.0,909.9 738.8,908.4 739.0,907.7 740.0,904.6 741.0,901.6 742.0,898.5 742.5,897.0 743.0,896.7 744.0,896.1 745.0,895.4 746.0,894.8 747.0,894.2 747.5,893.9 748.0,893.5 749.0,892.6 750.0,891.8 751.0,891.0 752.0,890.1 752.5,889.7 753.0,888.7 754.0,886.7 755.0,884.6 756.0,882.6 757.0,880.5 757.5,879.5 758.0,878.2 759.0,875.7 760.0,873.1 761.0,870.5 762.0,867.8 762.5,866.5 763.0,865.3 764.0,862.8 765.0,860.3 766.0,857.8 767.0,855.3 767.5,854.0 768.0,853.5 769.0,852.6 770.0,851.7 771.0,850.8 771.2,850.5 772.0,845.4 773.0,839.1 773.8,834.8 774.0,834.1 775.0,831.6 776.0,829.1 777.0,826.7 777.5,825.4 778.0,824.6 779.0,823.1 780.0,821.5 781.0,820.0 781.2,819.6 782.0,820.6 783.0,821.9 784.0,823.2 785.0,824.5 786.0,824.0 787.0,823.4 788.0,822.9 788.8,822.5 789.0,822.4 790.0,822.1 791.0,821.8 792.0,821.5 793.0,821.2 794.0,820.8 795.0,820.5 796.0,815.5 797.0,810.4 798.0,805.4 798.8,801.6 799.0,801.2 800.0,799.5 801.0,800.0 802.0,800.5 803.0,801.0 803.8,801.4 804.0,801.0 805.0,799.5 806.0,798.0 807.0,796.5 807.5,795.8 808.0,794.9 809.0,793.1 810.0,791.3 811.0,789.5 811.2,789.0 812.0,785.6 813.0,781.1 814.0,776.6 815.0,772.0 816.0,766.2 817.0,760.6 817.5,757.8 818.0,758.4 819.0,759.5 820.0,760.7 821.0,761.8 822.0,763.1 822.5,763.7 823.0,763.7 824.0,763.8 825.0,763.9 826.0,764.1 827.0,764.4 827.5,764.5 828.0,765.6 829.0,767.7 830.0,769.9 831.0,772.0 831.2,772.6 832.0,773.5 833.0,774.7 834.0,775.9 835.0,777.1 836.0,779.0 837.0,781.0 838.0,783.0 839.0,785.0 840.0,787.0 841.0,790.2 842.0,793.4 843.0,796.5 844.0,799.7 845.0,802.8 846.0,810.4 847.0,817.9 847.5,821.7 848.0,822.2 849.0,823.3 850.0,824.3 851.0,825.4 852.0,826.5 852.5,827.0 853.0,828.9 854.0,832.7 855.0,836.6 856.0,839.7 857.0,842.9 857.5,844.5 858.0,840.7 859.0,833.0 860.0,825.1 861.0,817.8 862.0,810.3 863.0,802.7 863.8,797.0 864.0,795.4 865.0,789.0 866.0,782.6 867.0,776.1 867.5,772.9 868.0,771.2 869.0,767.6 870.0,764.1 871.0,760.6 872.0,757.1 872.5,755.3 873.0,754.0 874.0,751.3 875.0,748.7 876.0,746.0 877.0,743.3 877.5,742.0 878.0,739.0 879.0,733.0 880.0,727.0 881.0,721.0 882.0,715.0 883.0,709.1 883.4,706.7 884.0,703.7 885.0,698.8 886.0,693.9 886.9,689.6 887.0,689.4 888.0,688.0 888.6,687.1 889.0,689.3 890.0,695.0 891.0,700.7 891.4,702.9 892.0,701.5 893.0,699.4 893.8,697.6 894.0,696.7 895.0,691.8 896.0,687.0 897.0,682.2 897.3,680.7 898.0,674.9 899.0,666.7 900.0,658.5 900.8,652.2 901.0,649.3 902.0,636.8 903.0,624.5 904.0,612.1 904.2,609.2 905.0,597.8 906.0,582.9 907.0,568.1 907.7,557.6 908.0,556.8 909.0,553.8 910.0,550.9 911.0,548.0 911.2,547.4 912.0,535.0 913.0,519.9 913.6,510.6 914.0,503.7 915.0,486.0 915.7,473.8 916.0,472.2 917.0,467.2 918.0,464.6 919.0,462.0 919.2,461.6 920.0,460.3 921.0,458.7 922.0,457.2 922.6,456.2 923.0,460.0 924.0,465.7 925.0,470.9 925.1,471.3 926.0,475.7 927.0,480.5 928.0,485.4 928.5,488.0 929.0,489.2 930.0,491.6 931.0,494.1 932.0,496.7 932.0,496.7 933.0,500.9 934.0,505.3 935.0,509.7 935.5,511.8 936.0,513.7 937.0,517.3 938.0,521.0 939.0,524.5 939.0,524.7 940.0,531.5 941.0,538.4 941.4,541.1 942.0,553.7 943.0,574.5 943.1,577.1 944.0,583.4 945.0,590.6 945.9,597.2 946.0,597.4 947.0,599.5 948.0,601.6 949.0,605.9 949.4,607.6 950.0,603.9 951.0,598.1 951.1,597.4 952.0,594.6 952.8,591.8 953.0,592.3 954.0,595.6 955.0,598.9 956.0,602.2 956.3,603.2 957.0,605.2 958.0,607.3 959.0,608.8 959.8,609.9 960.0,609.8 961.0,614.7 962.0,619.6 962.6,622.5 963.0,624.5 964.0,629.4 965.0,634.3 965.2,635.3 966.0,636.5 967.0,637.7 967.8,636.8 968.0,635.3 969.0,627.3 970.0,619.2 970.4,615.8 971.0,610.0 972.0,599.9 973.0,589.7 973.0,589.6 974.0,581.2 975.0,572.6 975.6,567.3 976.0,578.7 977.0,583.0 978.0,578.7 978.2,577.7 979.0,577.7 979.5,577.8 980.0,580.8 981.0,587.1 982.0,593.5 982.1,594.3 983.0,592.1 984.0,589.6 984.7,587.7 985.0,586.0 986.0,579.5 987.0,572.9 988.0,566.4 988.6,562.2 989.0,560.5 990.0,557.7 991.0,554.9 992.0,549.9 992.5,546.7 993.0,545.5 994.0,542.7 995.0,539.9 996.0,537.2 996.4,536.0 997.0,534.8 998.0,532.6 999.0,530.5 1000.0,528.3 1000.3,527.6 1001.0,524.8 1002.0,520.3 1003.0,515.9 1003.0,514.2 1004.0,481.7 1004.3,473.5 1005.0,472.0 1006.0,470.1 1006.9,468.4 1007.0,468.2 1008.0,466.7 1009.0,465.3 1010.0,463.8 1010.8,462.7 1011.0,462.1 1012.0,459.8 1013.0,457.4 1013.4,456.6 1014.0,453.8 1015.0,449.2 1016.0,444.8 1016.0,444.9 1017.0,446.5 1018.0,448.2 1018.6,449.1 1019.0,449.5 1020.0,450.7 1021.0,454.9 1021.2,455.6 1022.0,454.7 1023.0,453.7 1023.8,452.9 1024.0,453.4 1025.0,455.5 1026.0,457.6 1026.4,456.6 1027.0,453.5 1028.0,450.0 1029.0,449.8 1029.0,450.0 1030.0,456.7 1031.0,463.7 1031.6,468.0 1032.0,473.4 1033.0,490.5 1034.0,511.4 1034.2,515.3 1035.0,515.5 1036.0,515.9 1036.8,516.2 1037.0,516.4 1038.0,517.7 1039.0,511.2 1039.4,511.2 1040.0,510.6 1041.0,509.6 1042.0,508.7 1043.0,507.7 1043.3,507.4 1044.0,507.4 1045.0,507.3 1045.9,507.3 1046.0,506.3 1047.0,496.3 1048.0,486.3 1048.5,481.2 1049.0,480.3 1050.0,478.6 1051.0,476.8 1051.1,476.6 1052.0,476.7 1053.0,476.4 1053.7,476.2 1054.0,476.9 1055.0,479.2 1056.0,481.5 1056.3,482.2 1057.0,481.3 1058.0,480.0 1059.0,478.7 1060.0,477.5 1060.2,477.2 1061.0,477.1 1062.0,477.0 1063.0,476.9 1064.0,476.8 1064.1,476.8 1065.0,477.1 1066.0,477.4 1066.7,477.6 1067.0,477.5 1068.0,476.9 1069.0,476.4 1069.3,476.2 1070.0,475.7 1071.0,475.2 1071.9,474.8 1072.0,475.1 1073.0,480.4 1074.0,486.0 1074.5,489.1 1075.0,488.3 1076.0,486.7 1077.0,491.6 1077.1,492.5 1078.0,497.8 1079.0,503.8 1079.7,508.2 1080.0,509.8 1081.0,515.8 1082.0,521.7 1082.3,523.7 1083.0,528.2 1084.0,534.9 1084.9,541.3 1085.0,541.3 1086.0,543.0 1087.0,544.7 1087.5,545.6 1088.0,546.8 1089.0,549.4 1090.0,552.0 1090.2,552.4 1091.0,554.7 1092.0,557.4 1092.8,559.4 1093.0,560.3 1094.0,563.9 1095.0,567.6 1095.4,568.9 1096.0,572.5 1097.0,578.1 1098.0,583.6 1098.0,583.7 1099.0,588.5 1100.0,593.2 1100.6,595.9 1101.0,607.7 1102.0,614.5 1103.0,615.2 1103.2,615.4 1104.0,614.7 1105.0,614.0 1105.8,613.4 1106.0,612.8 1107.0,610.2 1108.0,607.7 1108.4,606.7 1109.0,606.2 1110.0,605.5 1111.0,603.8 1111.0,603.7 1112.0,599.2 1113.0,594.7 1113.6,592.1 1114.0,590.2 1115.0,585.7 1116.0,581.1 1116.2,580.3 1117.0,590.8 1118.0,589.2 1118.8,580.4 1119.0,577.1 1120.0,561.2 1121.0,548.8 1121.4,544.0 1122.0,541.9 1123.0,538.6 1124.0,535.2 1124.0,535.2 1125.0,531.8 1126.0,528.4 1126.6,526.4 1127.0,519.2 1128.0,501.5 1129.0,483.7 1129.2,480.2 1130.0,479.0 1131.0,477.4 1131.8,476.2 1132.0,477.3 1133.0,475.2 1134.0,465.7 1135.0,456.1 1135.7,449.9 1136.0,451.3 1137.0,456.0 1138.0,460.7 1138.3,462.2 1139.0,470.5 1139.6,477.8 1140.0,479.3 1141.0,483.0 1142.0,487.3 1142.2,489.2 1143.0,490.1 1144.0,491.2 1144.8,492.1 1145.0,492.9 1146.0,497.7 1147.0,502.4 1147.4,504.4 1148.0,509.2 1149.0,517.6 1150.0,525.9 1150.0,526.1 1151.0,538.7 1152.0,551.6 1152.6,559.6 1153.0,559.0 1154.0,557.4 1155.0,555.7 1155.2,555.3 1156.0,559.7 1157.0,565.2 1157.8,569.9 1158.0,572.5 1159.0,588.0 1160.0,603.3 1160.4,609.9 1161.0,611.5 1162.0,614.2 1163.0,607.3 1163.0,607.0 1164.0,598.1 1165.0,588.8 1165.6,582.9 1166.0,582.3 1167.0,580.7 1168.0,579.1 1168.2,578.7 1169.0,574.0 1170.0,567.9 1171.0,561.8 1172.0,555.7 1172.1,554.8 1173.0,545.9 1174.0,535.5 1174.8,527.8 1175.0,525.6 1176.0,517.2 1177.0,508.8 1177.4,505.8 1178.0,499.8 1179.0,490.6 1180.0,481.8 1180.0,481.4 1181.0,473.2 1182.0,465.0 1182.6,460.4 1183.0,451.1 1183.9,433.1 1184.0,427.9 1185.0,390.9 1185.4,375.3 1185.6,380.1 1186.0,373.7 1187.0,356.7 1187.2,353.5 1188.0,345.7 1189.0,336.1 1190.0,326.5 1190.3,323.5 1191.0,319.4 1192.0,313.6 1193.0,307.7 1193.4,305.2 1194.0,304.4 1195.0,303.1 1196.0,300.1 1196.6,298.5 1197.0,297.6 1198.0,295.5 1198.1,295.2 1199.0,301.2 1199.7,306.0 1200.0,309.8 1201.0,322.1 1201.2,325.2 1202.0,329.0 1202.8,333.2 1203.0,332.3 1204.0,327.5 1204.4,325.7 1205.0,326.1 1205.9,326.7 1206.0,327.5 1207.0,339.8 1207.5,346.0 1208.0,350.4 1209.0,359.1 1210.0,367.9 1210.6,373.4 1211.0,378.0 1212.0,390.4 1212.2,392.7 1213.0,418.9 1213.8,443.2 1214.0,449.9 1215.0,476.8 1216.0,503.7 1216.9,527.3 1217.0,527.9 1218.0,533.2 1219.0,538.4 1220.0,543.7 1221.0,551.7 1222.0,559.6 1223.0,567.6 1223.1,568.6 1224.0,571.9 1225.0,575.7 1226.0,579.4 1227.0,583.2 1228.0,587.0 1229.0,590.7 1229.3,592.0 1230.0,590.8 1231.0,589.2 1232.0,587.5 1233.0,585.8 1234.0,584.1 1234.9,582.6 1235.0,582.4 1236.0,579.9 1237.0,577.5 1238.0,575.0 1239.0,572.5 1240.0,570.1 1241.0,567.6 1241.9,565.4 1242.0,565.0 1243.0,561.1 1244.0,557.3 1245.0,553.5 1246.0,549.6 1246.6,547.5 1247.0,547.2 1248.0,546.6 1249.0,545.9 1249.7,545.5 1250.0,543.0 1251.0,535.0 1252.0,527.0 1252.8,520.5 1253.0,518.4 1254.0,507.2 1255.0,496.0 1255.9,485.4 1256.0,485.3 1257.0,483.3 1258.0,481.2 1259.0,479.2 1259.1,479.0 1260.0,475.4 1261.0,471.5 1262.0,467.6 1262.2,466.9 1263.0,465.2 1264.0,463.1 1265.0,461.1 1265.3,460.4 1266.0,460.0 1267.0,459.3 1268.0,458.5 1268.4,458.1 1269.0,459.0 1270.0,460.5 1271.0,462.1 1271.6,462.9 1272.0,463.0 1273.0,463.1 1274.0,463.3 1274.7,463.4 1275.0,464.2 1276.0,466.6 1277.0,469.1 1277.8,471.1 1278.0,471.9 1279.0,476.3 1280.0,480.6 1280.9,484.7 1281.0,485.9 1282.0,504.2 1282.5,513.4 1283.0,520.3 1284.0,534.0 1285.0,547.8 1285.6,556.4 1286.0,558.4 1287.0,563.7 1288.0,569.0 1289.0,574.3 1290.0,579.6 1291.0,584.9 1291.2,586.3 1292.0,596.0 1293.0,608.7 1293.0,608.9 1294.0,623.7 1294.7,634.4 1295.0,637.3 1296.0,647.6 1296.5,652.2 1297.0,654.7 1298.0,659.3 1299.0,663.8 1299.9,668.0 1300.0,668.4 1301.0,673.9 1302.0,679.3 1303.0,684.6 1303.4,686.8 1304.0,689.4 1305.0,692.2 1306.0,695.1 1306.9,697.7 1307.0,697.8 1308.0,698.9 1309.0,700.0 1310.0,701.1 1310.3,701.5 1311.0,702.2 1312.0,703.3 1313.0,704.4 1313.8,705.4 1314.0,705.6 1315.0,706.7 1315.6,707.4 1316.0,707.3 1317.0,707.4 1318.0,707.5 1318.3,707.5 1319.0,712.0 1320.0,714.7 1320.8,716.8 1321.0,716.6 1322.0,715.9 1323.0,715.2 1324.0,714.5 1324.2,714.3 1325.0,712.0 1326.0,709.0 1326.7,707.6 1327.0,703.3 1328.0,690.5 1329.0,677.8 1329.4,672.2 1330.0,668.9 1331.0,662.8 1332.0,656.9 1332.9,651.5 1333.0,651.1 1334.0,646.1 1335.0,641.3 1336.0,636.5 1336.4,634.6 1337.0,633.9 1338.0,629.4 1339.0,621.0 1339.9,613.6 1340.0,613.3 1341.0,610.7 1342.0,608.1 1343.0,605.5 1343.3,604.6 1344.0,605.4 1345.0,606.5 1346.0,607.6 1346.8,608.5 1347.0,607.4 1348.0,601.8 1349.0,596.3 1349.6,593.0 1350.0,589.8 1351.0,582.1 1352.0,574.4 1352.0,574.3 1353.0,566.7 1354.0,559.1 1354.4,555.7 1355.0,553.2 1356.0,570.1 1357.0,571.7 1357.2,570.2 1358.0,574.2 1359.0,579.4 1360.0,584.7 1360.7,588.4 1361.0,589.4 1362.0,592.4 1363.0,595.6 1363.5,597.1 1364.0,595.8 1365.0,593.5 1366.0,591.1 1367.0,588.7 1367.6,587.2 1368.0,586.3 1369.0,583.9 1370.0,581.5 1371.0,579.2 1371.1,578.9 1372.0,581.3 1373.0,584.0 1374.0,586.7 1374.6,588.3 1375.0,588.3 1376.0,587.3 1377.0,586.2 1378.0,585.1 1378.1,585.0 1379.0,589.2 1380.0,593.7 1381.0,598.2 1381.5,600.5 1382.0,603.1 1383.0,608.5 1384.0,613.9 1385.0,619.3 1386.0,624.3 1387.0,629.2 1388.0,634.2 1388.5,636.6 1389.0,636.2 1390.0,635.6 1391.0,635.0 1391.9,634.4 1392.0,634.4 1393.0,633.9 1394.0,633.4 1395.0,633.0 1396.0,632.5 1397.0,632.0 1397.2,631.9 1398.0,633.6 1399.0,635.6 1400.0,637.6 1400.6,638.8 1401.0,639.1 1402.0,639.7 1403.0,640.3 1404.0,640.9 1404.1,640.9 1405.0,641.4 1406.0,642.3 1407.0,643.5 1407.6,644.2 1408.0,644.3 1409.0,644.4 1410.0,644.6 1411.0,644.8 1412.0,644.9 1412.8,645.1 1413.0,645.2 1414.0,646.0 1415.0,646.8 1416.0,647.6 1417.0,648.4 1418.0,649.1 1418.0,649.3 1418.1,650.6 1419.0,638.5 1420.0,624.6 1420.6,616.0 1421.0,616.2 1422.0,616.5 1423.0,616.8 1423.5,616.9 1424.0,618.2 1425.0,620.6 1426.0,623.0 1427.0,625.4 1427.0,625.5 1428.0,626.9 1429.0,628.5 1430.0,630.0 1430.6,630.8 1431.0,630.0 1432.0,628.0 1433.0,626.0 1434.0,623.9 1434.1,623.7 1435.0,626.4 1436.0,629.7 1437.0,633.0 1437.7,635.3 1438.0,636.2 1439.0,639.5 1440.0,642.7 1441.0,646.0 1441.3,646.8 1442.0,649.6 1443.0,653.2 1444.0,656.9 1444.8,659.9 1445.0,659.2 1446.0,655.0 1447.0,650.8 1447.7,648.0 1448.0,650.1 1449.0,656.1 1450.0,661.8 1450.2,662.8 1451.0,663.8 1452.0,665.1 1453.0,666.4 1453.7,667.3 1454.0,666.2 1455.0,662.2 1456.0,658.1 1457.0,654.1 1457.3,653.0 1458.0,651.3 1459.0,649.0 1460.0,646.8 1460.8,644.8 1461.0,645.4 1462.0,648.9 1463.0,652.5 1464.0,656.0 1464.4,657.4 1465.0,655.7 1466.0,653.0 1467.0,650.7 1468.0,648.5 1468.0,648.4 1469.0,644.8 1470.0,641.2 1471.0,637.6 1471.5,635.8 1472.0,636.2 1473.0,637.1 1474.0,638.0 1475.0,638.9 1475.1,639.0 1476.0,644.4 1477.0,650.3 1478.0,656.2 1478.6,659.8 1479.0,660.9 1480.0,663.6 1481.0,666.3 1482.0,669.0 1482.2,669.5 1483.0,668.4 1484.0,667.1 1485.0,665.7 1485.7,664.7 1486.0,666.0 1487.0,671.2 1488.0,676.3 1488.2,677.6 1489.0,676.0 1490.0,674.0 1491.0,671.9 1492.0,669.9 1492.9,668.1 1493.0,667.6 1494.0,663.4 1495.0,659.3 1496.0,655.1 1497.0,650.9 1498.0,646.8 1498.2,645.9 1499.0,642.6 1500.0,638.5 1501.0,634.3 1502.0,630.1 1503.0,625.7 1503.5,623.4 1504.0,621.4 1505.0,617.0 1506.0,612.7 1507.0,608.3 1508.0,603.9 1508.2,603.2 1509.0,599.1 1510.0,594.2 1511.0,589.2 1512.0,584.3 1512.2,583.4 1513.0,577.3 1514.0,569.8 1515.0,562.4 1515.3,560.0 1516.0,558.0 1517.0,555.1 1518.0,552.1 1518.4,550.8 1519.0,551.2 1520.0,551.9 1521.0,552.6 1521.6,553.0 1522.0,553.3 1523.0,554.0 1524.0,554.7 1524.7,555.2 1525.0,554.0 1526.0,550.2 1527.0,546.3 1527.8,543.2 1528.0,544.3 1529.0,550.5 1530.0,556.7 1530.9,562.5 1531.0,562.7 1532.0,565.2 1533.0,567.7 1534.0,570.3 1534.1,570.4 1535.0,573.7 1536.0,577.2 1537.0,580.6 1537.2,581.3 1538.0,588.4 1539.0,597.2 1540.0,606.0 1541.0,614.8 1542.0,623.6 1543.0,632.5 1544.0,641.3 1544.5,645.4 1545.0,647.0 1546.0,650.0 1547.0,653.0 1548.0,656.0 1548.0,656.0 1549.0,658.5 1550.0,661.0 1551.0,663.5 1551.6,665.0 1552.0,664.5 1553.0,663.4 1554.0,662.2 1555.0,661.1 1555.1,660.9 1556.0,663.5 1557.0,666.4 1558.0,669.4 1558.7,671.5 1559.0,671.7 1560.0,672.4 1561.0,673.0 1562.0,673.7 1562.3,673.9 1563.0,674.5 1564.0,675.4 1565.0,676.3 1565.8,677.0 1566.0,675.8 1567.0,669.0 1568.0,662.1 1569.0,655.3 1569.4,652.8 1570.0,649.4 1571.0,643.9 1572.0,638.4 1572.9,633.3 1573.0,633.1 1574.0,629.9 1575.0,626.7 1576.0,623.5 1576.5,621.9 1577.0,621.5 1578.0,620.5 1579.0,619.6 1580.0,618.7 1581.0,617.7 1581.8,616.9 1582.0,617.6 1583.0,621.7 1584.0,625.8 1585.0,629.9 1585.4,631.5 1586.0,630.9 1587.0,630.0 1588.0,629.1 1589.0,628.3 1589.0,628.2 1590.0,627.8 1591.0,627.3 1592.0,626.9 1592.5,626.7 1593.0,627.1 1594.0,628.0 1595.0,628.9 1596.0,629.8 1596.1,629.9 1597.0,633.3 1598.0,636.9 1599.0,640.6 1599.6,642.8 1600.0,644.9 1601.0,650.3 1602.0,656.0 1603.0,661.9 1603.2,663.0 1604.0,645.6 1604.3,639.0 1605.0,634.7 1606.0,628.4 1607.0,622.1 1607.1,621.6 1608.0,620.2 1609.0,618.8 1609.5,618.1 1610.0,618.5 1611.0,619.5 1612.0,620.4 1613.0,622.4 1613.0,622.4 1614.0,624.1 1615.0,625.7 1616.0,627.4 1616.5,628.1 1617.0,629.3 1618.0,631.4 1619.0,633.5 1619.9,635.5 1620.0,635.4 1621.0,634.8 1622.0,634.2 1623.0,633.6 1623.4,633.4 1624.0,633.8 1625.0,634.6 1626.0,635.3 1626.9,636.0 1627.0,636.2 1628.0,637.9 1629.0,638.7 1630.0,638.5 1630.3,639.0 1631.0,640.7 1632.0,643.2 1633.0,645.7 1633.8,647.8 1634.0,650.0 1635.0,662.7 1635.6,669.8 1636.0,675.4 1637.0,688.2 1637.3,691.9 1638.0,693.7 1639.0,696.3 1640.0,698.9 1640.8,700.8 1641.0,701.4 1642.0,704.0 1643.0,706.6 1644.0,709.2 1644.2,709.9 1645.0,711.7 1646.0,714.1 1647.0,716.5 1647.7,718.1 1648.0,718.8 1649.0,721.2 1650.0,723.1 1651.0,724.8 1651.2,725.1 1652.0,725.6 1653.0,726.4 1654.0,727.1 1654.7,727.5 1655.0,728.0 1656.0,729.1 1657.0,730.3 1658.0,731.5 1658.1,731.7 1659.0,732.3 1660.0,733.0 1661.0,733.8 1661.6,734.2 1662.0,734.7 1663.0,735.9 1664.0,737.1 1665.0,738.3 1665.1,738.4 1666.0,739.1 1667.0,739.8 1668.0,740.5 1668.5,740.9 1669.0,741.8 1670.0,743.6 1671.0,746.5 1671.0,746.4 1672.0,742.8 1673.0,739.2 1673.8,736.5 1674.0,735.5 1675.0,731.3 1676.0,727.2 1677.0,723.1 1677.2,722.2 1678.0,720.0 1679.0,717.3 1680.0,714.7 1680.7,712.8 1681.0,712.4 1682.0,711.1 1683.0,709.8 1684.0,708.5 1684.2,708.3 1685.0,708.7 1686.0,709.1 1687.0,709.9 1687.6,711.2 1688.0,712.1 1689.0,714.7 1690.0,717.2 1691.0,719.7 1691.1,720.0 1692.0,721.5 1693.0,723.1 1694.0,723.3 1694.6,723.4 1695.0,723.4 1696.0,723.6 1697.0,723.8 1698.0,724.0 1698.1,724.0 1699.0,725.0 1700.0,726.2 1701.0,727.3 1701.5,727.9 1702.0,728.1 1703.0,728.6 1704.0,729.0 1704.3,729.2 1705.0,733.5 1706.0,740.1 1706.7,737.4 1707.0,736.1 1708.0,731.1 1709.0,726.1 1710.0,721.0 1710.2,719.9 1711.0,714.5 1712.0,707.6 1713.0,700.7 1713.7,696.0 1714.0,694.0 1715.0,687.9 1716.0,681.8 1717.0,675.6 1717.2,674.7 1718.0,672.5 1719.0,669.8 1720.0,667.2 1720.6,665.5 1721.0,664.8 1722.0,663.1 1723.0,661.3 1724.0,659.5 1724.1,659.4 1725.0,657.7 1726.0,657.1 1727.0,662.5 1727.6,665.6 1728.0,666.5 1729.0,665.6 1730.0,664.8 1731.0,663.9 1732.0,663.1 1732.1,663.0 1733.0,665.8 1734.0,668.8 1735.0,671.9 1736.0,675.0 1736.4,676.3 1737.0,679.6 1738.0,685.3 1739.0,691.1 1740.0,696.9 1740.8,701.5 1741.0,702.6 1742.0,707.5 1743.0,712.5 1744.0,717.5 1745.0,722.5 1745.1,723.1 1746.0,726.2 1747.0,729.8 1747.3,730.8 1748.0,728.2 1749.0,724.5 1749.5,722.8 1750.0,721.8 1751.0,719.9 1752.0,718.0 1753.0,716.1 1753.8,714.6 1754.0,714.4 1755.0,713.4 1756.0,712.4 1757.0,711.5 1758.0,710.5 1758.1,710.3 1759.0,709.9 1760.0,709.4 1761.0,708.8 1762.0,708.3 1762.5,708.0 1763.0,707.8 1764.0,707.2 1765.0,706.7 1766.0,706.2 1766.8,705.7 1767.0,705.6 1768.0,704.8 1769.0,704.0 1770.0,703.2 1771.0,702.4 1771.2,702.3 1772.0,702.4 1773.0,702.5 1774.0,702.6 1775.0,702.7 1775.5,702.8 1776.0,701.9 1777.0,700.2 1778.0,698.5 1779.0,696.8 1779.8,695.4 1780.0,695.3 1781.0,694.5 1782.0,693.7 1783.0,692.9 1784.0,692.1 1784.2,692.0 1785.0,687.7 1786.0,682.4 1787.0,677.1 1788.0,671.8 1788.5,669.0 1789.0,667.2 1790.0,663.3 1791.0,659.3 1792.0,655.4 1792.9,652.0 1793.0,652.0 1794.0,651.7 1795.0,651.4 1796.0,651.0 1797.0,650.7 1797.2,650.7 1798.0,650.4 1799.0,650.1 1800.0,649.8 1801.0,649.5 1801.6,649.3 1802.0,649.3 1803.0,649.4 1804.0,649.5 1805.0,649.6 1805.9,649.7 1806.0,650.0 1807.0,652.3 1808.0,654.6 1809.0,656.9 1810.0,659.3 1810.2,659.8 1811.0,661.1 1812.0,662.8 1813.0,664.5 1814.0,666.2 1814.0,666.3 1815.0,670.8 1815.8,674.4 1816.0,675.6 1817.0,681.0 1817.6,684.4 1818.0,685.9 1818.8,689.3 1819.0,689.4 1820.0,690.1 1820.7,690.6 1821.0,689.6 1822.0,686.7 1822.5,685.3 1823.0,687.4 1824.0,690.7 1824.3,691.7 1825.0,693.5 1826.0,696.2 1826.7,698.1 1827.0,698.0 1828.0,697.5 1829.0,697.1 1829.2,697.0 1830.0,697.4 1831.0,697.8 1831.6,698.1 1832.0,699.4 1833.0,702.7 1833.4,704.1 1834.0,703.8 1835.0,703.3 1836.0,706.5 1836.4,707.8 1837.0,709.7 1838.0,712.9 1838.5,714.5 1839.0,715.3 1840.0,717.0 1840.5,717.8 1841.0,717.9 1841.9,718.2 1842.0,718.1 1843.0,717.0 1844.0,715.9 1845.0,713.0 1846.0,710.8 1846.1,710.5 1847.0,709.6 1848.0,708.6 1848.5,708.0 1849.0,708.4 1850.0,709.0 1850.3,709.2 1851.0,713.7 1851.3,715.7 1852.0,723.6 1852.4,728.1 1853.0,726.6 1853.4,725.6 1854.0,723.3 1855.0,719.6 1855.1,719.2 1856.0,716.9 1857.0,714.3 1857.6,712.8 1858.0,712.5 1859.0,711.7 1860.0,710.9 1861.0,710.1 1862.0,710.4 1863.0,710.7 1863.5,710.9 1864.0,712.8 1864.5,714.8 1865.0,713.4 1866.0,710.6 1866.3,709.7 1867.0,710.4 1868.0,711.4 1869.0,715.4 1869.7,718.2 1870.0,718.7 1871.0,720.2 1871.5,720.9 1872.0,721.3 1873.0,722.1 1873.2,722.3 1874.0,723.4 1875.0,724.9 1876.0,724.3 1877.0,723.7 1878.0,723.2 1879.0,722.6 1880.0,722.1 1881.0,721.5 1881.2,721.4 1882.0,721.9 1883.0,722.6 1883.3,722.8 1884.0,727.2 1885.0,733.1 1885.4,735.4 1886.0,738.8 1887.0,744.4 1888.0,745.9 1889.0,747.4 1890.0,749.5 1890.6,750.7 1891.0,750.1 1891.7,748.9 1892.0,749.5 1893.0,751.8 1893.8,753.4 1894.0,754.2 1895.0,757.2 1896.0,760.1 1896.4,761.3 1897.0,758.1 1897.4,756.1 1898.0,756.1 1898.4,756.1 L1898.4,965.0 Z" fill="#15aff5"/>
<path d="M101.0,965.0 L101.0,952.0 102.0,952.0 103.0,951.9 104.0,951.9 105.0,951.9 106.0,951.8 107.0,951.8 108.0,951.8 109.0,951.8 110.0,951.7 111.0,951.7 112.0,951.7 113.0,951.6 114.0,951.6 115.0,951.6 116.0,951.5 117.0,951.5 117.5,951.5 118.0,952.0 119.0,953.0 120.0,954.0 121.0,953.2 122.0,952.4 123.0,951.6 124.0,950.8 125.0,950.0 126.0,949.4 127.0,948.9 128.0,948.3 129.0,947.7 130.0,947.2 131.0,946.6 132.0,946.0 132.5,945.8 133.0,945.1 134.0,943.7 135.0,942.3 136.0,940.9 137.0,939.5 138.0,938.1 138.8,937.1 139.0,936.8 140.0,935.5 141.0,934.1 142.0,932.8 142.5,932.2 143.0,931.4 144.0,929.8 145.0,928.2 146.0,926.6 147.0,925.0 148.0,923.4 148.8,922.2 149.0,922.0 150.0,921.2 151.0,920.4 152.0,919.5 152.5,919.1 153.0,918.8 154.0,918.2 155.0,917.7 156.0,917.1 157.0,916.5 158.0,917.4 159.0,918.2 160.0,919.1 160.5,919.5 161.0,920.0 162.0,921.0 163.0,922.0 164.0,923.0 165.0,924.0 166.0,924.4 167.0,924.7 168.0,925.0 169.0,925.4 170.0,925.8 171.0,926.1 172.0,926.5 173.0,927.0 174.0,927.4 175.0,927.8 176.0,928.2 177.0,928.7 178.0,929.2 179.0,929.7 180.0,930.1 181.0,930.6 181.2,930.8 182.0,931.1 183.0,931.6 184.0,932.1 185.0,932.6 186.0,933.1 186.2,933.2 187.0,932.9 188.0,932.4 189.0,931.9 190.0,931.4 191.0,930.9 191.2,930.8 192.0,930.6 193.0,930.4 194.0,930.1 195.0,929.8 196.0,929.6 197.0,929.3 197.5,929.2 198.0,929.0 199.0,928.7 200.0,928.4 201.0,928.1 202.0,927.7 203.0,927.4 204.0,927.1 205.0,926.8 206.0,926.4 207.0,926.0 208.0,925.6 209.0,925.2 210.0,924.8 211.0,924.4 212.0,924.0 212.5,923.8 213.0,923.5 214.0,923.1 215.0,922.6 216.0,922.2 217.0,921.7 218.0,921.3 219.0,920.8 220.0,920.4 221.0,919.9 222.0,919.5 223.0,919.0 224.0,918.6 225.0,918.1 226.0,917.7 227.0,917.2 227.5,917.0 228.0,916.9 229.0,916.6 230.0,916.4 231.0,916.3 231.2,916.2 232.0,915.4 233.0,914.4 234.0,913.5 235.0,912.6 236.0,911.8 237.0,911.0 238.0,910.3 238.8,909.8 239.0,909.9 240.0,910.1 241.0,910.3 242.0,910.6 243.0,910.8 244.0,911.2 245.0,911.5 246.0,911.1 247.0,910.7 248.0,910.3 249.0,909.9 250.0,909.5 251.0,909.1 252.0,908.8 253.0,908.5 254.0,908.1 255.0,907.8 256.0,907.5 257.0,907.2 257.5,907.0 258.0,906.3 259.0,905.0 260.0,903.6 261.0,902.2 262.0,900.9 263.0,901.0 264.0,901.1 265.0,901.2 266.0,902.3 267.0,903.5 268.0,894.0 268.8,886.8 269.0,885.9 270.0,882.0 271.0,878.5 271.2,877.6 272.0,877.0 273.0,876.2 274.0,875.4 275.0,874.6 276.0,873.8 277.0,873.1 278.0,872.4 279.0,871.7 280.0,871.0 281.0,870.3 281.2,870.1 282.0,869.0 283.0,867.7 284.0,866.7 285.0,865.7 286.0,864.9 287.0,864.2 288.0,863.4 289.0,864.6 290.0,865.8 291.0,867.0 291.2,867.3 292.0,867.9 293.0,868.2 294.0,868.1 295.0,868.0 296.0,868.0 296.2,867.9 297.0,871.2 298.0,875.5 298.8,878.8 299.0,880.4 300.0,887.0 300.5,890.2 301.0,890.8 302.0,891.8 303.0,892.9 304.0,894.0 305.0,895.1 306.0,895.9 307.0,896.7 308.0,897.5 309.0,898.3 310.0,899.1 311.0,899.8 312.0,900.4 313.0,901.2 314.0,902.1 315.0,903.0 316.0,903.8 317.0,904.7 318.0,905.6 319.0,906.5 320.0,907.4 321.0,907.9 322.0,908.4 323.0,909.0 324.0,909.5 325.0,910.0 326.0,910.2 327.0,910.3 328.0,910.5 329.0,910.6 330.0,910.7 331.0,910.9 331.2,910.9 332.0,910.8 333.0,910.7 334.0,910.5 335.0,910.4 336.0,910.2 337.0,910.1 337.5,910.0 338.0,910.1 339.0,910.2 340.0,910.4 341.0,910.6 342.0,910.8 343.0,910.9 344.0,911.1 345.0,911.3 346.0,911.4 347.0,911.6 348.0,911.7 349.0,911.9 350.0,912.0 351.0,912.2 352.0,912.4 352.5,912.4 353.0,912.5 354.0,912.7 355.0,912.8 356.0,913.0 357.0,913.2 357.5,913.2 358.0,913.3 359.0,913.3 360.0,913.4 361.0,913.5 362.0,913.5 362.5,913.6 363.0,913.7 364.0,913.8 365.0,914.0 366.0,914.2 367.0,914.4 368.0,914.3 369.0,908.7 370.0,903.0 371.0,899.6 372.0,896.2 372.5,894.5 373.0,894.0 374.0,892.9 375.0,891.9 376.0,890.8 377.0,889.8 377.5,889.2 378.0,888.5 379.0,887.1 380.0,885.6 381.0,884.2 382.0,882.7 382.5,882.0 383.0,881.3 384.0,880.0 385.0,878.7 386.0,877.4 387.0,876.1 388.0,874.8 388.8,873.9 389.0,873.1 390.0,870.1 391.0,867.1 392.0,864.1 392.5,862.6 393.0,859.2 394.0,852.5 394.5,849.2 395.0,848.2 396.0,846.1 397.0,844.0 397.5,842.9 398.0,844.1 399.0,846.3 400.0,848.6 401.0,848.4 402.0,848.3 403.0,848.1 404.0,848.0 405.0,847.8 406.0,848.0 407.0,848.2 408.0,848.5 409.0,849.0 410.0,849.5 411.0,850.0 412.0,850.5 412.5,850.8 413.0,851.8 414.0,853.8 415.0,855.8 416.0,857.8 417.0,859.8 417.5,860.8 418.0,861.6 419.0,863.3 420.0,865.0 421.0,866.8 422.0,868.5 422.5,869.4 423.0,870.0 424.0,871.3 425.0,872.5 426.0,873.8 427.0,875.1 427.5,875.8 428.0,876.8 429.0,878.9 430.0,881.0 431.0,883.2 431.2,883.7 432.0,884.9 433.0,886.6 434.0,888.2 435.0,889.9 436.0,890.1 437.0,890.3 438.0,890.4 439.0,890.6 440.0,890.8 441.0,891.0 441.2,891.1 442.0,891.8 443.0,892.7 444.0,893.6 445.0,894.5 446.0,894.9 447.0,895.3 448.0,895.7 449.0,896.1 450.0,896.4 451.0,896.8 452.0,897.2 453.0,897.6 454.0,898.0 455.0,898.4 456.0,898.7 457.0,899.1 458.0,899.4 459.0,899.8 460.0,900.1 461.0,900.5 462.0,900.8 462.5,901.0 463.0,901.2 464.0,901.7 465.0,902.2 466.0,902.6 467.0,903.1 468.0,903.6 469.0,904.0 470.0,904.5 471.0,905.2 472.0,905.9 473.0,906.6 474.0,907.4 475.0,908.1 476.0,908.8 477.0,909.5 477.5,909.8 478.0,910.0 479.0,910.3 480.0,910.7 481.0,911.0 482.0,911.3 483.0,911.7 484.0,912.0 485.0,912.3 486.0,912.4 487.0,912.5 488.0,912.6 489.0,912.7 490.0,912.8 491.0,912.9 492.0,913.0 492.5,913.0 493.0,913.1 494.0,913.2 495.0,913.2 496.0,913.1 496.2,913.1 497.0,913.9 498.0,915.0 499.0,916.1 500.0,917.2 501.0,917.3 502.0,917.5 503.0,917.6 504.0,917.7 505.0,917.9 506.0,918.0 507.0,918.2 507.5,918.2 508.0,918.3 509.0,918.5 510.0,918.6 511.0,918.7 512.0,918.9 513.0,919.0 514.0,919.2 515.0,919.4 516.0,919.6 517.0,919.9 518.0,920.2 519.0,920.5 520.0,920.8 521.0,921.3 522.0,921.8 523.0,922.4 524.0,922.9 525.0,923.5 526.0,924.0 527.0,924.6 527.5,924.8 528.0,925.0 529.0,925.3 530.0,925.6 531.0,925.9 532.0,926.2 533.0,926.4 534.0,926.7 535.0,927.0 536.0,927.6 537.0,928.1 538.0,928.6 539.0,929.1 540.0,929.7 541.0,930.2 542.0,930.7 542.5,931.0 543.0,931.2 544.0,931.6 545.0,932.0 546.0,932.0 547.0,932.0 548.0,932.0 549.0,932.0 550.0,932.0 551.0,931.6 552.0,931.1 553.0,930.7 554.0,930.2 555.0,929.8 556.0,926.3 557.0,922.9 557.5,921.1 558.0,918.8 559.0,914.2 560.0,909.5 561.0,906.4 562.0,903.3 563.0,900.1 563.8,897.6 564.0,896.8 565.0,893.5 566.0,890.2 567.0,886.8 567.5,885.1 568.0,882.2 569.0,876.5 570.0,870.8 571.0,868.0 572.0,865.3 572.5,864.0 573.0,863.5 574.0,862.5 575.0,861.5 576.0,860.6 577.0,859.7 577.5,859.2 578.0,859.0 579.0,858.5 580.0,858.0 581.0,857.5 582.0,857.1 582.5,856.9 583.0,857.4 584.0,858.3 585.0,858.5 586.0,860.9 587.0,863.4 587.5,864.7 588.0,865.7 589.0,867.9 590.0,870.0 591.0,870.4 592.0,870.8 593.0,871.2 594.0,871.6 595.0,872.0 596.0,874.2 597.0,876.4 597.5,877.5 598.0,879.0 599.0,882.0 600.0,884.9 601.0,884.6 602.0,884.2 603.0,883.9 604.0,883.6 605.0,883.2 606.0,883.9 607.0,884.6 608.0,885.2 609.0,885.9 610.0,886.5 611.0,887.4 612.0,888.2 613.0,889.1 614.0,890.0 615.0,890.8 616.0,891.3 617.0,891.8 618.0,892.3 619.0,892.8 620.0,893.2 621.0,894.0 622.0,894.7 623.0,895.5 624.0,896.2 625.0,896.9 626.0,898.0 627.0,899.1 628.0,900.2 629.0,901.3 630.0,902.4 631.0,903.8 632.0,905.2 633.0,906.6 633.8,907.6 634.0,907.7 635.0,908.2 636.0,908.6 636.2,908.7 637.0,906.4 638.0,903.4 638.8,901.1 639.0,900.6 640.0,898.6 641.0,896.5 642.0,894.5 642.5,893.5 643.0,893.1 644.0,892.3 645.0,891.5 646.0,890.7 647.0,889.9 647.5,889.5 648.0,889.8 649.0,890.5 650.0,891.2 651.0,891.9 652.0,892.5 652.5,892.9 653.0,893.1 654.0,893.4 655.0,893.8 656.0,894.1 657.0,894.5 658.0,894.8 659.0,895.2 660.0,895.5 661.0,895.8 662.0,896.1 663.0,896.4 664.0,896.7 665.0,897.0 666.0,898.9 667.0,900.8 668.0,902.7 668.8,904.1 669.0,904.8 670.0,907.7 671.0,910.6 672.0,913.5 672.5,914.9 673.0,915.1 674.0,915.4 675.0,915.8 676.0,916.1 677.0,916.5 677.5,916.6 678.0,916.6 679.0,916.4 680.0,916.3 681.0,916.2 682.0,916.0 683.0,915.9 684.0,915.7 685.0,915.6 686.0,915.8 687.0,916.0 688.0,916.1 689.0,916.3 690.0,916.5 691.0,916.8 692.0,917.2 693.0,917.5 694.0,917.9 695.0,918.2 696.0,918.2 697.0,918.2 698.0,918.2 699.0,918.2 700.0,918.2 701.0,918.7 702.0,919.3 703.0,919.8 704.0,920.3 705.0,920.9 706.0,921.2 707.0,921.6 708.0,922.0 709.0,922.3 710.0,922.7 711.0,923.2 712.0,923.7 713.0,924.1 713.8,924.5 714.0,924.4 715.0,923.8 716.0,923.3 717.0,922.8 717.5,922.5 718.0,922.3 719.0,921.9 720.0,921.5 721.0,921.1 722.0,920.7 722.5,920.5 723.0,920.4 724.0,920.2 725.0,920.0 726.0,919.7 727.0,919.5 727.5,919.4 728.0,919.3 729.0,919.2 730.0,919.0 731.0,918.9 732.0,918.7 733.0,918.6 734.0,918.4 735.0,918.2 736.0,916.3 737.0,914.4 738.0,912.4 738.8,910.9 739.0,910.2 740.0,907.1 741.0,904.1 742.0,901.0 742.5,899.5 743.0,899.2 744.0,898.5 745.0,897.9 746.0,897.3 747.0,896.6 747.5,896.3 748.0,895.9 749.0,895.1 750.0,894.2 751.0,893.4 752.0,892.5 752.5,892.1 753.0,891.1 754.0,889.1 755.0,887.1 756.0,885.0 757.0,883.0 757.5,882.0 758.0,880.8 759.0,878.3 760.0,875.8 761.0,873.3 762.0,870.7 762.5,869.4 763.0,868.2 764.0,865.8 765.0,863.4 766.0,861.0 767.0,858.5 767.5,857.3 768.0,856.9 769.0,856.0 770.0,855.1 771.0,854.2 771.2,854.0 772.0,849.1 773.0,842.9 773.8,838.6 774.0,837.9 775.0,835.4 776.0,832.8 777.0,830.3 777.5,829.0 778.0,828.2 779.0,826.5 780.0,824.8 781.0,823.1 781.2,822.7 782.0,823.6 783.0,824.7 784.0,825.9 785.0,827.0 786.0,826.6 787.0,826.2 788.0,825.8 788.8,825.5 789.0,825.4 790.0,825.2 791.0,825.0 792.0,824.8 793.0,824.7 794.0,824.5 795.0,824.3 796.0,819.5 797.0,814.7 798.0,809.9 798.8,806.3 799.0,806.0 800.0,804.5 801.0,805.1 802.0,805.7 803.0,806.3 803.8,806.7 804.0,806.4 805.0,805.0 806.0,803.7 807.0,802.3 807.5,801.7 808.0,800.8 809.0,799.2 810.0,797.5 811.0,795.9 811.2,795.5 812.0,792.3 813.0,788.1 814.0,783.8 815.0,779.5 816.0,773.9 817.0,768.5 817.5,765.8 818.0,766.4 819.0,767.4 820.0,768.5 821.0,769.6 822.0,770.8 822.5,771.3 823.0,771.3 824.0,771.4 825.0,771.5 826.0,771.7 827.0,771.9 827.5,772.0 828.0,772.8 829.0,774.5 830.0,776.2 831.0,777.9 831.2,778.4 832.0,779.0 833.0,779.8 834.0,780.6 835.0,781.5 836.0,783.0 837.0,784.6 838.0,786.2 839.0,787.8 840.0,789.5 841.0,792.9 842.0,796.4 843.0,799.8 844.0,803.1 845.0,806.5 846.0,814.2 847.0,821.8 847.5,825.6 848.0,826.2 849.0,827.5 850.0,828.8 851.0,830.1 852.0,831.4 852.5,832.0 853.0,834.5 854.0,839.4 855.0,844.3 856.0,848.4 857.0,852.5 857.5,854.5 858.0,850.4 859.0,842.2 860.0,833.7 861.0,825.5 862.0,817.1 863.0,808.6 863.8,802.0 864.0,800.4 865.0,794.1 866.0,787.8 867.0,781.4 867.5,778.3 868.0,776.5 869.0,773.0 870.0,769.4 871.0,765.9 872.0,762.3 872.5,760.6 873.0,759.2 874.0,756.5 875.0,753.8 876.0,751.1 877.0,748.4 877.5,747.0 878.0,744.1 879.0,738.2 880.0,732.4 881.0,726.5 882.0,720.7 883.0,714.9 883.4,712.6 884.0,709.7 885.0,704.9 886.0,700.1 886.9,696.0 887.0,695.8 888.0,694.4 888.6,693.6 889.0,695.7 890.0,701.3 891.0,706.8 891.4,709.0 892.0,707.7 893.0,705.6 893.8,703.9 894.0,703.0 895.0,698.3 896.0,693.6 897.0,688.9 897.3,687.5 898.0,681.8 899.0,673.8 900.0,665.8 900.8,659.7 901.0,656.9 902.0,644.7 903.0,632.7 904.0,620.6 904.2,617.8 905.0,606.7 906.0,592.2 907.0,577.8 907.7,567.6 908.0,566.8 909.0,563.9 910.0,561.1 911.0,558.3 911.2,557.8 912.0,545.7 913.0,530.9 913.6,521.9 914.0,515.2 915.0,498.0 915.7,486.1 916.0,484.5 917.0,479.7 918.0,477.6 919.0,475.6 919.2,475.3 920.0,474.4 921.0,473.3 922.0,472.4 922.6,471.8 923.0,475.6 924.0,481.0 925.0,485.8 925.1,486.2 926.0,490.3 927.0,494.7 928.0,499.2 928.5,501.7 929.0,502.7 930.0,504.8 931.0,507.1 932.0,509.3 932.0,509.4 933.0,513.4 934.0,517.8 935.0,522.2 935.5,524.3 936.0,526.2 937.0,529.8 938.0,533.5 939.0,536.8 939.0,537.0 940.0,542.9 941.0,548.9 941.4,551.2 942.0,563.1 943.0,582.8 943.1,585.3 944.0,590.8 945.0,597.3 945.9,603.2 946.0,603.4 947.0,604.8 948.0,606.4 949.0,610.5 949.4,612.2 950.0,608.6 951.0,602.8 951.1,602.2 952.0,599.4 952.8,596.7 953.0,597.2 954.0,600.4 955.0,603.7 956.0,606.9 956.3,608.0 957.0,609.9 958.0,612.0 959.0,613.5 959.8,614.7 960.0,614.6 961.0,619.4 962.0,624.3 962.6,627.2 963.0,629.2 964.0,634.1 965.0,639.0 965.2,640.0 966.0,641.2 967.0,642.5 967.8,642.2 968.0,640.9 969.0,633.7 970.0,626.5 970.4,623.6 971.0,618.3 972.0,609.2 973.0,600.0 973.0,599.9 974.0,592.5 975.0,585.0 975.6,580.3 976.0,589.5 977.0,592.4 978.0,588.1 978.2,587.2 979.0,587.2 979.5,587.2 980.0,590.1 981.0,596.2 982.0,602.4 982.1,603.2 983.0,601.0 984.0,598.5 984.7,596.7 985.0,594.9 986.0,588.6 987.0,582.1 988.0,575.6 988.6,571.5 989.0,570.3 990.0,568.8 991.0,567.6 992.0,562.7 992.5,559.4 993.0,558.0 994.0,554.9 995.0,551.7 996.0,548.6 996.4,547.2 997.0,545.8 998.0,543.3 999.0,540.7 1000.0,538.2 1000.3,537.3 1001.0,534.3 1002.0,530.0 1003.0,526.1 1003.0,524.5 1004.0,493.1 1004.3,485.2 1005.0,484.1 1006.0,482.7 1006.9,481.4 1007.0,481.2 1008.0,479.6 1009.0,478.1 1010.0,476.5 1010.8,475.4 1011.0,474.8 1012.0,472.4 1013.0,470.0 1013.4,469.1 1014.0,466.5 1015.0,462.5 1016.0,458.6 1016.0,458.7 1017.0,460.8 1018.0,463.0 1018.6,464.2 1019.0,464.7 1020.0,466.2 1021.0,469.9 1021.2,470.5 1022.0,469.3 1023.0,467.8 1023.8,466.7 1024.0,467.0 1025.0,468.6 1026.0,470.2 1026.4,469.9 1027.0,470.4 1028.0,469.9 1029.0,466.7 1029.0,466.7 1030.0,470.3 1031.0,474.3 1031.6,476.9 1032.0,481.1 1033.0,497.1 1034.0,518.5 1034.2,522.5 1035.0,523.4 1036.0,524.6 1036.8,525.5 1037.0,525.9 1038.0,528.1 1039.0,517.6 1039.4,517.9 1040.0,517.7 1041.0,517.4 1042.0,517.1 1043.0,516.8 1043.3,516.7 1044.0,517.1 1045.0,517.8 1045.9,518.3 1046.0,517.4 1047.0,508.3 1048.0,499.3 1048.5,494.7 1049.0,494.2 1050.0,493.2 1051.0,492.2 1051.1,492.1 1052.0,495.5 1053.0,499.4 1053.7,502.2 1054.0,502.7 1055.0,504.5 1056.0,506.3 1056.3,506.9 1057.0,505.8 1058.0,504.1 1059.0,502.5 1060.0,500.8 1060.2,500.5 1061.0,500.1 1062.0,499.6 1063.0,499.1 1064.0,498.9 1064.1,498.9 1065.0,499.9 1066.0,500.9 1066.7,501.7 1067.0,501.7 1068.0,501.9 1069.0,502.1 1069.3,502.2 1070.0,501.1 1071.0,499.5 1071.9,498.1 1072.0,498.4 1073.0,502.5 1074.0,506.9 1074.5,509.3 1075.0,508.1 1076.0,505.6 1077.0,509.8 1077.1,510.6 1078.0,515.3 1079.0,520.7 1079.7,524.6 1080.0,526.0 1081.0,531.3 1082.0,536.6 1082.3,538.4 1083.0,542.4 1084.0,548.5 1084.9,554.3 1085.0,554.4 1086.0,555.9 1087.0,557.4 1087.5,558.3 1088.0,559.4 1089.0,561.9 1090.0,564.4 1090.2,564.7 1091.0,566.9 1092.0,569.4 1092.8,571.3 1093.0,572.2 1094.0,575.6 1095.0,579.2 1095.4,580.4 1096.0,583.9 1097.0,589.2 1098.0,594.5 1098.0,594.6 1099.0,599.2 1100.0,603.7 1100.6,606.3 1101.0,619.4 1102.0,633.2 1103.0,636.9 1103.2,636.8 1104.0,635.2 1105.0,633.2 1105.8,631.7 1106.0,630.9 1107.0,627.2 1108.0,623.4 1108.4,622.0 1109.0,620.8 1110.0,618.8 1111.0,616.1 1111.0,616.0 1112.0,611.2 1113.0,606.3 1113.6,603.5 1114.0,601.5 1115.0,596.6 1116.0,591.6 1116.2,590.7 1117.0,604.2 1118.0,604.9 1118.8,597.2 1119.0,594.2 1120.0,580.0 1121.0,568.4 1121.4,563.9 1122.0,562.1 1123.0,559.1 1124.0,556.1 1124.0,556.1 1125.0,553.1 1126.0,550.2 1126.6,548.4 1127.0,541.7 1128.0,525.1 1129.0,508.6 1129.2,505.3 1130.0,504.4 1131.0,503.2 1131.8,502.2 1132.0,501.2 1133.0,496.0 1134.0,490.4 1135.0,484.8 1135.7,481.0 1136.0,481.8 1137.0,484.5 1138.0,487.2 1138.3,488.1 1139.0,494.8 1139.6,500.7 1140.0,501.5 1141.0,503.3 1142.0,505.9 1142.2,507.4 1143.0,508.0 1144.0,508.7 1144.8,509.2 1145.0,510.0 1146.0,514.2 1147.0,518.4 1147.4,520.2 1148.0,524.7 1149.0,532.4 1150.0,540.2 1150.0,540.3 1151.0,552.2 1152.0,564.3 1152.6,571.9 1153.0,571.2 1154.0,569.3 1155.0,567.4 1155.2,566.9 1156.0,570.9 1157.0,576.0 1157.8,580.3 1158.0,583.0 1159.0,598.5 1160.0,613.9 1160.4,620.5 1161.0,622.2 1162.0,625.3 1163.0,618.3 1163.0,618.0 1164.0,608.9 1165.0,599.4 1165.6,593.3 1166.0,592.9 1167.0,591.7 1168.0,590.5 1168.2,590.2 1169.0,585.9 1170.0,580.4 1171.0,574.8 1172.0,569.3 1172.1,568.5 1173.0,560.3 1174.0,550.7 1174.8,543.5 1175.0,541.6 1176.0,533.9 1177.0,526.2 1177.4,523.6 1178.0,518.1 1179.0,509.7 1180.0,501.7 1180.0,501.3 1181.0,493.9 1182.0,486.6 1182.6,482.5 1183.0,473.9 1183.9,457.1 1184.0,452.2 1185.0,417.5 1185.4,402.8 1185.6,407.5 1186.0,401.7 1187.0,386.1 1187.2,383.2 1188.0,376.2 1189.0,367.7 1190.0,359.3 1190.3,356.7 1191.0,353.3 1192.0,348.4 1193.0,343.6 1193.4,341.5 1194.0,341.2 1195.0,340.6 1196.0,337.9 1196.6,336.4 1197.0,335.6 1198.0,333.7 1198.1,333.5 1199.0,339.3 1199.7,343.8 1200.0,347.5 1201.0,359.2 1201.2,362.1 1202.0,365.8 1202.8,369.8 1203.0,369.0 1204.0,364.6 1204.4,362.9 1205.0,363.4 1205.9,364.0 1206.0,364.7 1207.0,376.5 1207.5,382.3 1208.0,386.5 1209.0,394.8 1210.0,403.2 1210.6,408.4 1211.0,412.8 1212.0,424.5 1212.2,426.7 1213.0,451.5 1213.8,474.3 1214.0,480.6 1215.0,506.0 1216.0,531.4 1216.9,553.6 1217.0,554.3 1218.0,559.2 1219.0,564.2 1220.0,569.2 1221.0,576.8 1222.0,584.4 1223.0,591.9 1223.1,592.9 1224.0,596.0 1225.0,599.6 1226.0,603.2 1227.0,606.8 1228.0,610.4 1229.0,614.0 1229.3,615.1 1230.0,614.1 1231.0,612.6 1232.0,611.1 1233.0,609.6 1234.0,608.1 1234.9,606.7 1235.0,606.5 1236.0,604.3 1237.0,602.0 1238.0,599.8 1239.0,597.5 1240.0,595.3 1241.0,593.0 1241.9,591.1 1242.0,590.6 1243.0,587.1 1244.0,583.6 1245.0,580.1 1246.0,576.5 1246.6,574.5 1247.0,574.3 1248.0,573.8 1249.0,573.3 1249.7,572.9 1250.0,570.6 1251.0,563.2 1252.0,555.8 1252.8,549.8 1253.0,547.8 1254.0,537.4 1255.0,527.0 1255.9,517.2 1256.0,517.1 1257.0,515.3 1258.0,513.4 1259.0,511.6 1259.1,511.5 1260.0,508.2 1261.0,504.6 1262.0,501.0 1262.2,500.4 1263.0,498.9 1264.0,497.0 1265.0,495.2 1265.3,494.6 1266.0,494.2 1267.0,493.6 1268.0,492.4 1268.4,491.9 1269.0,492.4 1270.0,493.3 1271.0,494.3 1271.6,494.8 1272.0,494.7 1273.0,494.4 1274.0,494.0 1274.7,493.8 1275.0,494.4 1276.0,496.2 1277.0,498.1 1277.8,499.6 1278.0,500.3 1279.0,503.9 1280.0,507.6 1280.9,511.0 1281.0,512.1 1282.0,529.0 1282.5,537.5 1283.0,543.8 1284.0,556.4 1285.0,569.0 1285.6,577.0 1286.0,578.7 1287.0,583.4 1288.0,588.1 1289.0,592.8 1290.0,597.5 1291.0,602.2 1291.2,603.4 1292.0,612.4 1293.0,624.2 1293.0,624.4 1294.0,638.3 1294.7,648.3 1295.0,651.1 1296.0,660.8 1296.5,665.3 1297.0,667.7 1298.0,672.0 1299.0,676.3 1299.9,680.3 1300.0,680.6 1301.0,685.8 1302.0,691.0 1303.0,696.1 1303.4,698.1 1304.0,700.6 1305.0,703.3 1306.0,706.1 1306.9,708.5 1307.0,708.7 1308.0,709.7 1309.0,710.7 1310.0,711.8 1310.3,712.1 1311.0,712.8 1312.0,713.9 1313.0,715.0 1313.8,715.9 1314.0,716.1 1315.0,717.2 1315.6,717.8 1316.0,718.4 1317.0,719.8 1318.0,721.3 1318.3,721.9 1319.0,726.8 1320.0,729.2 1320.8,731.1 1321.0,730.9 1322.0,730.0 1323.0,729.2 1324.0,728.4 1324.2,728.2 1325.0,726.3 1326.0,723.7 1326.7,722.6 1327.0,718.5 1328.0,706.4 1329.0,694.4 1329.4,689.1 1330.0,685.9 1331.0,680.2 1332.0,674.5 1332.9,669.4 1333.0,669.0 1334.0,664.3 1335.0,659.6 1336.0,655.0 1336.4,653.3 1337.0,652.6 1338.0,647.8 1339.0,638.8 1339.9,631.0 1340.0,630.6 1341.0,628.2 1342.0,625.8 1343.0,623.3 1343.3,622.5 1344.0,623.2 1345.0,624.3 1346.0,625.4 1346.8,626.3 1347.0,625.2 1348.0,620.0 1349.0,614.7 1349.6,611.6 1350.0,608.6 1351.0,601.3 1352.0,594.0 1352.0,593.9 1353.0,586.7 1354.0,579.5 1354.4,576.2 1355.0,574.0 1356.0,602.9 1357.0,609.0 1357.2,607.5 1358.0,610.5 1359.0,614.6 1360.0,618.8 1360.7,621.7 1361.0,622.4 1362.0,624.6 1363.0,626.8 1363.5,627.9 1364.0,626.5 1365.0,623.7 1366.0,620.9 1367.0,618.1 1367.6,616.3 1368.0,615.3 1369.0,612.5 1370.0,609.8 1371.0,607.0 1371.1,606.7 1372.0,613.1 1373.0,620.4 1374.0,627.6 1374.6,631.8 1375.0,633.0 1376.0,631.0 1377.0,629.0 1378.0,627.1 1378.1,626.9 1379.0,629.8 1380.0,632.7 1381.0,635.8 1381.5,637.4 1382.0,639.2 1383.0,643.1 1384.0,647.1 1385.0,651.1 1386.0,654.7 1387.0,658.3 1388.0,662.0 1388.5,663.7 1389.0,663.0 1390.0,661.5 1391.0,660.1 1391.9,658.8 1392.0,658.7 1393.0,658.4 1394.0,658.0 1395.0,657.6 1396.0,657.3 1397.0,656.9 1397.2,656.9 1398.0,658.5 1399.0,660.4 1400.0,662.3 1400.6,663.6 1401.0,663.8 1402.0,664.4 1403.0,665.1 1404.0,665.7 1404.1,665.8 1405.0,666.3 1406.0,667.1 1407.0,668.1 1407.6,668.7 1408.0,668.8 1409.0,668.8 1410.0,668.9 1411.0,668.9 1412.0,669.0 1412.8,669.0 1413.0,669.2 1414.0,669.8 1415.0,670.4 1416.0,671.1 1417.0,671.7 1418.0,672.3 1418.0,672.4 1418.1,673.7 1419.0,662.4 1420.0,649.4 1420.6,641.3 1421.0,641.4 1422.0,641.6 1423.0,641.8 1423.5,641.9 1424.0,643.0 1425.0,645.2 1426.0,647.4 1427.0,649.6 1427.0,649.6 1428.0,650.9 1429.0,652.3 1430.0,653.7 1430.6,654.5 1431.0,653.7 1432.0,651.7 1433.0,649.8 1434.0,647.9 1434.1,647.6 1435.0,650.2 1436.0,653.2 1437.0,656.2 1437.7,658.3 1438.0,659.1 1439.0,662.1 1440.0,665.1 1441.0,668.1 1441.3,668.9 1442.0,671.4 1443.0,674.8 1444.0,678.1 1444.8,680.9 1445.0,680.2 1446.0,676.3 1447.0,672.3 1447.7,669.7 1448.0,671.6 1449.0,677.2 1450.0,682.6 1450.2,683.4 1451.0,684.4 1452.0,685.6 1453.0,686.8 1453.7,687.7 1454.0,686.6 1455.0,682.9 1456.0,679.1 1457.0,675.3 1457.3,674.3 1458.0,672.8 1459.0,670.6 1460.0,668.5 1460.8,666.7 1461.0,667.3 1462.0,670.5 1463.0,673.8 1464.0,677.1 1464.4,678.4 1465.0,676.9 1466.0,674.3 1467.0,672.5 1468.0,670.9 1468.0,670.8 1469.0,667.9 1470.0,665.0 1471.0,662.2 1471.5,660.7 1472.0,661.3 1473.0,662.6 1474.0,663.9 1475.0,665.2 1475.1,665.3 1476.0,670.7 1477.0,676.5 1478.0,682.3 1478.6,685.9 1479.0,687.0 1480.0,689.9 1481.0,692.8 1482.0,695.7 1482.2,696.2 1483.0,695.6 1484.0,694.7 1485.0,693.9 1485.7,693.3 1486.0,694.6 1487.0,699.7 1488.0,704.5 1488.2,705.6 1489.0,704.2 1490.0,702.3 1491.0,700.5 1492.0,698.6 1492.9,697.0 1493.0,696.4 1494.0,692.6 1495.0,688.9 1496.0,685.1 1497.0,681.3 1498.0,677.5 1498.2,676.7 1499.0,673.7 1500.0,669.9 1501.0,666.1 1502.0,662.3 1503.0,658.3 1503.5,656.2 1504.0,654.4 1505.0,650.6 1506.0,646.7 1507.0,642.8 1508.0,638.9 1508.2,638.2 1509.0,634.6 1510.0,630.2 1511.0,625.7 1512.0,621.3 1512.2,620.5 1513.0,615.1 1514.0,608.4 1515.0,601.7 1515.3,599.6 1516.0,597.8 1517.0,595.2 1518.0,592.6 1518.4,591.5 1519.0,591.8 1520.0,592.5 1521.0,593.5 1521.6,594.1 1522.0,594.5 1523.0,595.5 1524.0,595.8 1524.7,595.9 1525.0,594.7 1526.0,590.8 1527.0,586.8 1527.8,583.6 1528.0,584.6 1529.0,589.7 1530.0,594.9 1530.9,599.7 1531.0,599.8 1532.0,601.7 1533.0,603.6 1534.0,605.5 1534.1,605.6 1535.0,608.2 1536.0,610.9 1537.0,613.7 1537.2,614.2 1538.0,620.4 1539.0,628.0 1540.0,635.7 1541.0,643.4 1542.0,651.1 1543.0,658.9 1544.0,666.7 1544.5,670.3 1545.0,671.6 1546.0,674.1 1547.0,676.6 1548.0,679.0 1548.0,679.1 1549.0,681.1 1550.0,683.1 1551.0,685.2 1551.6,686.4 1552.0,685.8 1553.0,684.5 1554.0,683.1 1555.0,681.8 1555.1,681.6 1556.0,683.7 1557.0,686.2 1558.0,688.7 1558.7,690.4 1559.0,690.5 1560.0,690.9 1561.0,691.2 1562.0,691.6 1562.3,691.7 1563.0,692.7 1564.0,694.2 1565.0,695.6 1565.8,696.8 1566.0,695.7 1567.0,690.0 1568.0,684.3 1569.0,678.6 1569.4,676.5 1570.0,673.8 1571.0,669.4 1572.0,665.1 1572.9,661.0 1573.0,660.9 1574.0,658.7 1575.0,656.4 1576.0,654.2 1576.5,653.2 1577.0,653.1 1578.0,653.0 1579.0,652.8 1580.0,652.7 1581.0,652.6 1581.8,652.5 1582.0,653.1 1583.0,656.3 1584.0,659.6 1585.0,662.9 1585.4,664.2 1586.0,663.5 1587.0,662.3 1588.0,661.1 1589.0,659.9 1589.0,659.9 1590.0,659.1 1591.0,658.3 1592.0,657.5 1592.5,657.1 1593.0,657.3 1594.0,657.8 1595.0,658.2 1596.0,658.7 1596.1,658.7 1597.0,661.4 1598.0,664.4 1599.0,667.3 1599.6,669.2 1600.0,670.9 1601.0,675.6 1602.0,681.3 1603.0,687.8 1603.2,689.0 1604.0,674.1 1604.3,668.5 1605.0,665.4 1606.0,661.0 1607.0,656.6 1607.1,656.2 1608.0,656.2 1609.0,656.2 1609.5,656.2 1610.0,656.2 1611.0,656.1 1612.0,656.1 1613.0,657.9 1613.0,657.9 1614.0,659.4 1615.0,661.0 1616.0,662.5 1616.5,663.2 1617.0,664.3 1618.0,666.2 1619.0,668.2 1619.9,670.0 1620.0,670.0 1621.0,669.5 1622.0,669.0 1623.0,668.5 1623.4,668.3 1624.0,668.8 1625.0,669.5 1626.0,670.3 1626.9,670.9 1627.0,671.1 1628.0,672.7 1629.0,671.5 1630.0,666.9 1630.3,667.3 1631.0,668.5 1632.0,670.4 1633.0,672.3 1633.8,673.8 1634.0,675.9 1635.0,687.2 1635.6,693.4 1636.0,698.5 1637.0,709.9 1637.3,713.2 1638.0,714.6 1639.0,716.7 1640.0,718.7 1640.8,720.3 1641.0,720.8 1642.0,722.9 1643.0,724.9 1644.0,727.0 1644.2,727.7 1645.0,730.0 1646.0,733.0 1647.0,735.9 1647.7,738.0 1648.0,738.9 1649.0,741.8 1650.0,743.7 1651.0,745.0 1651.2,745.2 1652.0,745.6 1653.0,746.0 1654.0,746.4 1654.7,746.7 1655.0,747.0 1656.0,747.8 1657.0,748.7 1658.0,749.6 1658.1,749.7 1659.0,750.1 1660.0,750.5 1661.0,750.9 1661.6,751.2 1662.0,751.6 1663.0,752.5 1664.0,753.3 1665.0,754.2 1665.1,754.3 1666.0,754.7 1667.0,755.2 1668.0,755.7 1668.5,755.9 1669.0,756.6 1670.0,758.1 1671.0,770.8 1671.0,770.7 1672.0,767.7 1673.0,764.7 1673.8,762.4 1674.0,761.5 1675.0,758.0 1676.0,754.6 1677.0,751.1 1677.2,750.4 1678.0,748.6 1679.0,746.5 1680.0,744.3 1680.7,742.8 1681.0,742.5 1682.0,741.6 1683.0,740.6 1684.0,739.7 1684.2,739.6 1685.0,736.8 1686.0,733.5 1687.0,731.4 1687.6,733.2 1688.0,734.4 1689.0,737.7 1690.0,741.0 1691.0,744.2 1691.1,744.6 1692.0,746.7 1693.0,749.1 1694.0,749.5 1694.6,749.7 1695.0,749.9 1696.0,750.3 1697.0,750.6 1698.0,751.0 1698.1,751.0 1699.0,752.2 1700.0,753.4 1701.0,754.6 1701.5,755.2 1702.0,755.5 1703.0,756.1 1704.0,756.8 1704.3,756.9 1705.0,759.0 1706.0,762.0 1706.7,759.4 1707.0,758.2 1708.0,753.6 1709.0,748.9 1710.0,744.2 1710.2,743.3 1711.0,738.3 1712.0,732.0 1713.0,725.6 1713.7,721.3 1714.0,719.5 1715.0,713.9 1716.0,708.2 1717.0,702.5 1717.2,701.6 1718.0,699.5 1719.0,697.0 1720.0,694.5 1720.6,693.0 1721.0,692.3 1722.0,690.6 1723.0,688.9 1724.0,687.2 1724.1,687.0 1725.0,685.5 1726.0,685.1 1727.0,691.9 1727.6,695.7 1728.0,697.1 1729.0,697.0 1730.0,697.0 1731.0,697.0 1732.0,697.0 1732.1,697.0 1733.0,700.1 1734.0,703.5 1735.0,706.9 1736.0,710.3 1736.4,711.8 1737.0,715.1 1738.0,720.8 1739.0,726.5 1740.0,732.2 1740.8,736.6 1741.0,737.7 1742.0,742.6 1743.0,747.5 1744.0,752.4 1745.0,757.3 1745.1,757.8 1746.0,760.4 1747.0,763.3 1747.3,764.2 1748.0,761.9 1749.0,758.6 1749.5,757.1 1750.0,756.2 1751.0,754.4 1752.0,752.7 1753.0,751.0 1753.8,749.6 1754.0,749.4 1755.0,748.4 1756.0,747.5 1757.0,746.5 1758.0,745.6 1758.1,745.4 1759.0,744.9 1760.0,744.4 1761.0,743.8 1762.0,743.2 1762.5,743.0 1763.0,742.7 1764.0,742.1 1765.0,741.5 1766.0,740.9 1766.8,740.5 1767.0,740.3 1768.0,739.3 1769.0,738.4 1770.0,737.4 1771.0,736.4 1771.2,736.2 1772.0,736.1 1773.0,735.9 1774.0,735.7 1775.0,735.5 1775.5,735.4 1776.0,734.6 1777.0,732.8 1778.0,731.0 1779.0,729.2 1779.8,727.7 1780.0,727.6 1781.0,726.6 1782.0,725.6 1783.0,724.6 1784.0,723.6 1784.2,723.4 1785.0,719.4 1786.0,714.4 1787.0,709.4 1788.0,704.4 1788.5,701.7 1789.0,699.9 1790.0,696.1 1791.0,692.3 1792.0,688.5 1792.9,685.1 1793.0,685.1 1794.0,684.4 1795.0,683.8 1796.0,683.2 1797.0,682.5 1797.2,682.4 1798.0,681.9 1799.0,681.3 1800.0,680.7 1801.0,680.0 1801.6,679.7 1802.0,679.8 1803.0,680.1 1804.0,680.4 1805.0,680.7 1805.9,680.9 1806.0,681.2 1807.0,683.5 1808.0,685.7 1809.0,688.0 1810.0,690.3 1810.2,690.8 1811.0,692.2 1812.0,693.9 1813.0,695.6 1814.0,697.2 1814.0,697.4 1815.0,701.6 1815.8,705.0 1816.0,706.0 1817.0,711.1 1817.6,714.2 1818.0,715.7 1818.8,718.8 1819.0,719.0 1820.0,719.7 1820.7,720.3 1821.0,719.4 1822.0,717.0 1822.5,715.9 1823.0,717.8 1824.0,720.9 1824.3,721.7 1825.0,723.4 1826.0,725.8 1826.7,727.6 1827.0,727.5 1828.0,727.1 1829.0,726.8 1829.2,726.7 1830.0,727.1 1831.0,727.6 1831.6,727.8 1832.0,729.0 1833.0,732.0 1833.4,733.2 1834.0,733.0 1835.0,732.6 1836.0,735.5 1836.4,736.7 1837.0,738.4 1838.0,741.3 1838.5,742.7 1839.0,743.5 1840.0,745.0 1840.5,745.7 1841.0,745.9 1841.9,746.1 1842.0,746.0 1843.0,745.1 1844.0,744.2 1845.0,741.7 1846.0,739.9 1846.1,739.8 1847.0,739.2 1848.0,738.5 1848.5,738.2 1849.0,738.6 1850.0,739.4 1850.3,739.7 1851.0,743.9 1851.3,745.7 1852.0,752.8 1852.4,756.9 1853.0,755.7 1853.4,754.9 1854.0,753.1 1855.0,750.0 1855.1,749.7 1856.0,747.9 1857.0,745.9 1857.6,744.8 1858.0,744.6 1859.0,744.1 1860.0,743.7 1861.0,743.3 1862.0,743.8 1863.0,744.4 1863.5,744.6 1864.0,746.5 1864.5,748.4 1865.0,747.3 1866.0,745.0 1866.3,744.4 1867.0,745.0 1868.0,745.5 1869.0,748.7 1869.7,750.9 1870.0,751.2 1871.0,752.2 1871.5,752.7 1872.0,752.9 1873.0,753.3 1873.2,753.4 1874.0,754.2 1875.0,755.2 1876.0,754.4 1877.0,753.6 1878.0,752.8 1879.0,752.0 1880.0,751.2 1881.0,750.4 1881.2,750.3 1882.0,750.5 1883.0,750.8 1883.3,750.9 1884.0,754.6 1885.0,760.0 1885.4,762.1 1886.0,765.2 1887.0,770.4 1888.0,771.8 1889.0,773.3 1890.0,775.3 1890.6,776.6 1891.0,776.0 1891.7,775.1 1892.0,775.8 1893.0,777.9 1893.8,779.5 1894.0,780.2 1895.0,782.9 1896.0,785.7 1896.4,786.8 1897.0,784.1 1897.4,782.4 1898.0,782.4 1898.4,782.4 L1898.4,965.0 Z" fill="#4f80f0"/>
<path d="M101.0,965.0 L101.0,964.5 102.0,964.5 103.0,964.4 104.0,964.4 105.0,964.4 106.0,964.3 107.0,964.3 108.0,964.2 109.0,964.2 110.0,964.2 111.0,964.1 112.0,964.1 113.0,964.0 114.0,964.0 115.0,964.0 116.0,963.9 117.0,963.9 117.5,963.9 118.0,963.9 119.0,963.9 120.0,964.0 121.0,963.5 122.0,962.9 123.0,962.3 124.0,961.6 125.0,960.9 126.0,960.2 127.0,959.4 128.0,958.6 129.0,957.8 130.0,956.9 131.0,956.0 132.0,955.0 132.5,954.5 133.0,954.1 134.0,953.2 135.0,952.2 136.0,951.3 137.0,950.4 138.0,949.4 138.8,948.7 139.0,948.4 140.0,947.5 141.0,946.5 142.0,945.5 142.5,945.0 143.0,944.4 144.0,943.2 145.0,942.0 146.0,941.1 147.0,940.3 148.0,939.5 148.8,938.9 149.0,938.8 150.0,938.5 151.0,938.1 152.0,937.8 152.5,937.7 153.0,937.6 154.0,937.4 155.0,937.3 156.0,937.1 157.0,937.0 158.0,937.3 159.0,937.7 160.0,938.1 160.5,938.2 161.0,938.5 162.0,938.9 163.0,939.4 164.0,939.8 165.0,940.3 166.0,940.4 167.0,940.5 168.0,940.6 169.0,940.7 170.0,940.8 171.0,941.0 172.0,941.3 173.0,941.6 174.0,941.8 175.0,942.1 176.0,942.4 177.0,942.8 178.0,943.1 179.0,943.4 180.0,943.7 181.0,944.0 181.2,944.1 182.0,944.4 183.0,944.7 184.0,945.0 185.0,945.3 186.0,945.7 186.2,945.8 187.0,945.6 188.0,945.4 189.0,945.2 190.0,945.0 191.0,944.7 191.2,944.7 192.0,944.6 193.0,944.6 194.0,944.5 195.0,944.4 196.0,944.4 197.0,944.3 197.5,944.3 198.0,944.2 199.0,944.1 200.0,944.0 201.0,943.9 202.0,943.8 203.0,943.8 204.0,943.7 205.0,943.6 206.0,943.5 207.0,943.3 208.0,943.2 209.0,943.1 210.0,942.9 211.0,942.8 212.0,942.7 212.5,942.7 213.0,942.6 214.0,942.4 215.0,942.3 216.0,942.2 217.0,942.0 218.0,941.9 219.0,941.8 220.0,941.6 221.0,941.5 222.0,941.4 223.0,941.3 224.0,941.1 225.0,941.0 226.0,940.9 227.0,940.8 227.5,940.8 228.0,940.5 229.0,940.0 230.0,939.5 231.0,939.0 231.2,938.9 232.0,938.1 233.0,937.1 234.0,936.1 235.0,935.1 236.0,934.1 237.0,933.2 238.0,932.2 238.8,931.4 239.0,931.3 240.0,930.8 241.0,930.3 242.0,929.8 243.0,929.3 244.0,928.8 245.0,928.2 246.0,928.1 247.0,928.0 248.0,927.8 249.0,927.7 250.0,927.6 251.0,927.5 252.0,927.4 253.0,927.3 254.0,927.2 255.0,927.2 256.0,927.1 257.0,927.0 257.5,927.0 258.0,926.3 259.0,925.0 260.0,923.7 261.0,922.3 262.0,920.9 263.0,920.5 264.0,920.1 265.0,919.7 266.0,920.1 267.0,920.5 268.0,913.1 268.8,907.5 269.0,906.7 270.0,903.2 271.0,901.1 271.2,900.6 272.0,900.5 273.0,900.3 274.0,900.2 275.0,900.1 276.0,900.1 277.0,900.1 278.0,900.1 279.0,900.1 280.0,900.1 281.0,900.1 281.2,900.1 282.0,899.7 283.0,899.0 284.0,897.9 285.0,896.9 286.0,896.0 287.0,895.0 288.0,894.1 289.0,894.6 290.0,895.0 291.0,895.5 291.2,895.6 292.0,895.7 293.0,895.6 294.0,895.4 295.0,895.2 296.0,895.0 296.2,894.9 297.0,897.2 298.0,900.2 298.8,902.4 299.0,903.6 300.0,908.2 300.5,910.6 301.0,911.0 302.0,911.8 303.0,912.5 304.0,913.3 305.0,914.1 306.0,914.7 307.0,915.3 308.0,915.9 309.0,916.5 310.0,917.1 311.0,917.5 312.0,918.0 313.0,918.7 314.0,919.5 315.0,920.2 316.0,921.0 317.0,921.8 318.0,922.6 319.0,923.4 320.0,924.2 321.0,924.7 322.0,925.2 323.0,925.7 324.0,926.2 325.0,926.7 326.0,927.0 327.0,927.2 328.0,927.4 329.0,927.7 330.0,927.9 331.0,928.1 331.2,928.2 332.0,928.2 333.0,928.2 334.0,928.1 335.0,927.9 336.0,927.8 337.0,927.7 337.5,927.6 338.0,927.7 339.0,927.8 340.0,927.9 341.0,928.0 342.0,928.1 343.0,928.2 344.0,928.3 345.0,928.4 346.0,928.5 347.0,928.6 348.0,928.6 349.0,928.7 350.0,928.8 351.0,928.9 352.0,929.0 352.5,929.0 353.0,929.1 354.0,929.2 355.0,929.3 356.0,929.4 357.0,929.5 357.5,929.5 358.0,929.5 359.0,929.6 360.0,929.7 361.0,929.8 362.0,929.9 362.5,929.9 363.0,930.0 364.0,930.2 365.0,930.3 366.0,930.5 367.0,930.7 368.0,930.5 369.0,926.5 370.0,922.3 371.0,919.7 372.0,917.1 372.5,915.8 373.0,915.3 374.0,914.5 375.0,913.6 376.0,912.8 377.0,911.9 377.5,911.5 378.0,910.9 379.0,909.8 380.0,908.6 381.0,907.5 382.0,906.3 382.5,905.8 383.0,905.4 384.0,904.7 385.0,904.0 386.0,903.3 387.0,902.7 388.0,902.0 388.8,901.5 389.0,901.1 390.0,899.2 391.0,897.4 392.0,895.6 392.5,894.8 393.0,892.6 394.0,888.3 394.5,886.2 395.0,885.8 396.0,884.4 397.0,883.1 397.5,882.4 398.0,883.2 399.0,884.8 400.0,886.5 401.0,886.5 402.0,886.5 403.0,886.5 404.0,886.5 405.0,886.5 406.0,886.7 407.0,886.9 408.0,887.1 409.0,887.4 410.0,887.6 411.0,887.9 412.0,888.1 412.5,888.2 413.0,888.9 414.0,890.1 415.0,891.4 416.0,892.6 417.0,893.9 417.5,894.5 418.0,894.9 419.0,895.8 420.0,896.6 421.0,897.5 422.0,898.4 422.5,898.9 423.0,899.2 424.0,899.8 425.0,900.4 426.0,901.0 427.0,901.7 427.5,902.0 428.0,902.8 429.0,904.3 430.0,905.8 431.0,907.4 431.2,907.7 432.0,908.6 433.0,909.8 434.0,911.0 435.0,912.2 436.0,912.4 437.0,912.5 438.0,912.7 439.0,912.9 440.0,913.0 441.0,913.2 441.2,913.2 442.0,913.7 443.0,914.4 444.0,915.1 445.0,915.8 446.0,916.0 447.0,916.2 448.0,916.5 449.0,916.7 450.0,917.0 451.0,917.2 452.0,917.4 453.0,917.7 454.0,917.9 455.0,918.1 456.0,918.4 457.0,918.6 458.0,918.8 459.0,919.0 460.0,919.2 461.0,919.4 462.0,919.6 462.5,919.8 463.0,919.9 464.0,920.2 465.0,920.5 466.0,920.8 467.0,921.1 468.0,921.4 469.0,921.7 470.0,922.0 471.0,922.6 472.0,923.1 473.0,923.7 474.0,924.3 475.0,924.8 476.0,925.4 477.0,925.9 477.5,926.2 478.0,926.3 479.0,926.6 480.0,926.9 481.0,927.2 482.0,927.5 483.0,927.8 484.0,928.1 485.0,928.3 486.0,928.5 487.0,928.6 488.0,928.7 489.0,928.8 490.0,928.9 491.0,929.0 492.0,929.2 492.5,929.2 493.0,929.3 494.0,929.4 495.0,929.5 496.0,929.5 496.2,929.6 497.0,930.2 498.0,931.0 499.0,931.9 500.0,932.7 501.0,932.9 502.0,933.1 503.0,933.3 504.0,933.5 505.0,933.7 506.0,933.9 507.0,934.1 507.5,934.2 508.0,934.3 509.0,934.5 510.0,934.7 511.0,934.9 512.0,935.1 513.0,935.3 514.0,935.5 515.0,935.6 516.0,935.9 517.0,936.2 518.0,936.5 519.0,936.7 520.0,937.0 521.0,937.2 522.0,937.5 523.0,937.7 524.0,938.0 525.0,938.2 526.0,938.5 527.0,938.7 527.5,938.8 528.0,938.9 529.0,939.0 530.0,939.1 531.0,939.1 532.0,939.2 533.0,939.3 534.0,939.4 535.0,939.5 536.0,939.8 537.0,940.0 538.0,940.3 539.0,940.6 540.0,940.8 541.0,941.1 542.0,941.4 542.5,941.5 543.0,941.6 544.0,941.8 545.0,942.0 546.0,942.0 547.0,942.0 548.0,942.0 549.0,942.0 550.0,942.0 551.0,941.9 552.0,941.8 553.0,941.7 554.0,941.6 555.0,941.5 556.0,939.4 557.0,937.3 557.5,936.3 558.0,934.9 559.0,932.2 560.0,929.5 561.0,927.5 562.0,925.5 563.0,923.4 563.8,921.8 564.0,921.3 565.0,919.2 566.0,917.0 567.0,914.8 567.5,913.7 568.0,911.9 569.0,908.2 570.0,904.5 571.0,902.6 572.0,900.8 572.5,899.8 573.0,899.5 574.0,898.7 575.0,897.9 576.0,897.2 577.0,896.4 577.5,896.1 578.0,895.8 579.0,895.4 580.0,894.9 581.0,894.5 582.0,894.0 582.5,893.8 583.0,894.1 584.0,894.5 585.0,894.4 586.0,895.9 587.0,897.4 587.5,898.2 588.0,898.8 589.0,900.1 590.0,901.3 591.0,901.5 592.0,901.6 593.0,901.7 594.0,901.9 595.0,902.0 596.0,903.4 597.0,904.7 597.5,905.4 598.0,906.3 599.0,908.2 600.0,910.1 601.0,909.7 602.0,909.3 603.0,909.0 604.0,908.6 605.0,908.2 606.0,908.6 607.0,908.9 608.0,909.2 609.0,909.5 610.0,909.8 611.0,910.3 612.0,910.7 613.0,911.2 614.0,911.7 615.0,912.2 616.0,912.4 617.0,912.6 618.0,912.8 619.0,913.0 620.0,913.2 621.0,913.6 622.0,914.0 623.0,914.3 624.0,914.7 625.0,915.1 626.0,915.7 627.0,916.4 628.0,917.0 629.0,917.7 630.0,918.3 631.0,919.2 632.0,920.1 633.0,921.0 633.8,921.7 634.0,921.8 635.0,922.0 636.0,922.7 636.2,922.9 637.0,921.6 638.0,919.9 638.8,918.6 639.0,918.4 640.0,917.5 641.0,916.6 642.0,915.8 642.5,915.3 643.0,915.4 644.0,915.4 645.0,915.5 646.0,915.6 647.0,915.7 647.5,915.8 648.0,915.9 649.0,916.2 650.0,916.5 651.0,916.8 652.0,917.1 652.5,917.2 653.0,917.3 654.0,917.4 655.0,917.5 656.0,917.6 657.0,917.7 658.0,917.8 659.0,917.9 660.0,918.0 661.0,918.0 662.0,918.1 663.0,918.1 664.0,918.2 665.0,918.2 666.0,919.7 667.0,921.1 668.0,922.5 668.8,923.5 669.0,924.1 670.0,926.1 671.0,928.2 672.0,930.2 672.5,931.2 673.0,931.4 674.0,931.7 675.0,932.0 676.0,932.2 677.0,932.4 677.5,932.5 678.0,932.5 679.0,932.4 680.0,932.3 681.0,932.1 682.0,932.0 683.0,931.9 684.0,931.8 685.0,931.7 686.0,931.8 687.0,931.9 688.0,932.0 689.0,932.1 690.0,932.1 691.0,932.4 692.0,932.6 693.0,932.8 694.0,933.0 695.0,933.2 696.0,933.1 697.0,933.0 698.0,932.9 699.0,932.8 700.0,932.7 701.0,932.9 702.0,933.2 703.0,933.5 704.0,933.7 705.0,934.0 706.0,934.2 707.0,934.3 708.0,934.5 709.0,934.6 710.0,934.8 711.0,935.1 712.0,935.3 713.0,935.6 713.8,935.8 714.0,935.7 715.0,935.3 716.0,934.8 717.0,934.4 717.5,934.2 718.0,934.1 719.0,933.8 720.0,933.5 721.0,933.1 722.0,932.8 722.5,932.7 723.0,932.6 724.0,932.4 725.0,932.2 726.0,932.0 727.0,931.9 727.5,931.8 728.0,931.7 729.0,931.6 730.0,931.4 731.0,931.3 732.0,931.2 733.0,931.0 734.0,930.9 735.0,930.8 736.0,929.8 737.0,928.9 738.0,928.1 738.8,927.5 739.0,927.1 740.0,925.6 741.0,924.1 742.0,922.7 742.5,922.0 743.0,921.7 744.0,921.1 745.0,920.5 746.0,919.9 747.0,919.2 747.5,918.9 748.0,918.6 749.0,917.8 750.0,917.0 751.0,916.3 752.0,915.5 752.5,915.1 753.0,914.3 754.0,912.7 755.0,911.1 756.0,909.5 757.0,907.8 757.5,907.0 758.0,906.3 759.0,904.8 760.0,903.4 761.0,901.9 762.0,900.5 762.5,899.7 763.0,899.1 764.0,897.7 765.0,896.4 766.0,895.1 767.0,893.7 767.5,893.0 768.0,892.9 769.0,892.6 770.0,892.4 771.0,892.1 771.2,892.0 772.0,889.0 773.0,885.1 773.8,882.3 774.0,881.9 775.0,880.2 776.0,878.5 777.0,876.8 777.5,876.0 778.0,875.4 779.0,874.3 780.0,873.2 781.0,872.0 781.2,871.8 782.0,872.3 783.0,873.0 784.0,873.8 785.0,874.5 786.0,874.4 787.0,874.2 788.0,874.1 788.8,874.0 789.0,874.0 790.0,874.0 791.0,874.0 792.0,874.0 793.0,874.0 794.0,874.0 795.0,874.0 796.0,871.1 797.0,868.1 798.0,865.2 798.8,863.0 799.0,862.8 800.0,862.0 801.0,862.1 802.0,862.3 803.0,862.4 803.8,862.5 804.0,862.3 805.0,861.2 806.0,860.1 807.0,859.0 807.5,858.4 808.0,857.7 809.0,856.4 810.0,855.1 811.0,853.8 811.2,853.5 812.0,851.2 813.0,848.2 814.0,845.1 815.0,842.0 816.0,837.8 817.0,833.6 817.5,831.6 818.0,831.6 819.0,831.8 820.0,831.9 821.0,832.1 822.0,832.2 822.5,832.3 823.0,832.0 824.0,831.4 825.0,830.8 826.0,830.3 827.0,829.8 827.5,829.5 828.0,830.3 829.0,832.0 830.0,833.6 831.0,835.3 831.2,835.7 832.0,836.5 833.0,837.5 834.0,838.5 835.0,839.5 836.0,841.0 837.0,842.5 838.0,844.0 839.0,845.5 840.0,847.0 841.0,849.2 842.0,851.4 843.0,853.6 844.0,855.8 845.0,857.9 846.0,863.0 847.0,868.1 847.5,870.6 848.0,871.0 849.0,871.8 850.0,872.6 851.0,873.3 852.0,874.1 852.5,874.5 853.0,875.4 854.0,877.3 855.0,879.2 856.0,880.7 857.0,882.3 857.5,882.0 858.0,879.8 859.0,875.6 860.0,871.3 861.0,867.5 862.0,863.6 863.0,859.8 863.8,857.0 864.0,855.9 865.0,851.4 866.0,846.8 867.0,842.3 867.5,840.0 868.0,838.6 869.0,835.9 870.0,833.2 871.0,830.7 872.0,828.9 872.5,828.0 873.0,827.4 874.0,826.2 875.0,825.0 876.0,823.8 877.0,822.6 877.5,822.0 878.0,819.6 879.0,814.8 880.0,810.0 881.0,805.2 882.0,800.3 883.0,795.3 883.4,793.3 884.0,790.0 885.0,783.8 886.0,777.6 886.9,772.1 887.0,771.6 888.0,767.6 888.6,765.2 889.0,765.6 890.0,766.8 891.0,768.1 891.4,768.7 892.0,765.9 893.0,761.4 893.8,759.1 894.0,758.3 895.0,753.8 896.0,749.3 897.0,744.8 897.3,743.5 898.0,738.4 899.0,731.2 900.0,723.9 900.8,718.3 901.0,715.8 902.0,705.1 903.0,695.0 904.0,687.7 904.2,686.0 905.0,679.1 906.0,670.2 907.0,661.6 907.7,655.7 908.0,655.9 909.0,656.6 910.0,657.4 911.0,658.2 911.2,658.3 912.0,651.7 913.0,643.6 913.6,638.6 914.0,634.7 915.0,624.9 915.7,618.2 916.0,618.0 917.0,617.2 918.0,616.5 919.0,615.9 919.2,615.8 920.0,615.8 921.0,615.9 922.0,616.0 922.6,613.4 923.0,614.6 924.0,617.9 925.0,621.2 925.1,621.4 926.0,624.3 927.0,627.4 928.0,630.5 928.5,632.3 929.0,633.9 930.0,637.3 931.0,640.8 932.0,644.3 932.0,644.3 933.0,648.8 934.0,653.4 935.0,657.9 935.5,660.1 936.0,662.2 937.0,666.1 938.0,670.1 939.0,673.0 939.0,673.2 940.0,678.4 941.0,683.5 941.4,685.6 942.0,694.2 943.0,708.5 943.1,710.3 944.0,714.9 945.0,720.1 945.9,724.9 946.0,725.1 947.0,727.0 948.0,729.2 949.0,732.4 949.4,733.6 950.0,731.4 951.0,727.9 951.1,727.5 952.0,725.9 952.8,724.3 953.0,724.7 954.0,727.1 955.0,729.5 956.0,731.9 956.3,732.6 957.0,734.0 958.0,735.6 959.0,736.8 959.8,737.7 960.0,737.7 961.0,741.1 962.0,744.4 962.6,746.5 963.0,747.8 964.0,751.2 965.0,754.5 965.2,755.2 966.0,756.1 967.0,757.3 967.8,757.4 968.0,756.5 969.0,752.1 970.0,747.6 970.4,745.8 971.0,742.4 972.0,736.8 973.0,731.1 973.0,731.0 974.0,726.4 975.0,721.8 975.6,718.9 976.0,717.7 977.0,715.3 978.0,714.3 978.2,714.1 979.0,715.5 979.5,716.5 980.0,719.3 981.0,725.1 982.0,730.9 982.1,731.6 983.0,731.7 984.0,731.4 984.7,731.1 985.0,730.3 986.0,727.5 987.0,724.7 988.0,721.9 988.6,720.1 989.0,718.8 990.0,715.3 991.0,711.8 992.0,708.2 992.5,706.3 993.0,705.5 994.0,703.4 995.0,701.2 996.0,699.1 996.4,698.2 997.0,697.2 998.0,695.5 999.0,693.7 1000.0,692.0 1000.3,691.3 1001.0,689.3 1002.0,686.3 1003.0,683.3 1003.0,682.3 1004.0,661.7 1004.3,656.5 1005.0,655.5 1006.0,653.7 1006.9,651.9 1007.0,651.5 1008.0,649.4 1009.0,647.2 1010.0,644.9 1010.8,643.3 1011.0,642.6 1012.0,639.8 1013.0,637.0 1013.4,635.9 1014.0,633.4 1015.0,629.4 1016.0,625.5 1016.0,625.5 1017.0,625.6 1018.0,625.7 1018.6,625.8 1019.0,626.1 1020.0,626.7 1021.0,627.3 1021.2,627.4 1022.0,625.0 1023.0,622.1 1023.8,619.8 1024.0,619.6 1025.0,618.7 1026.0,617.8 1026.4,617.5 1027.0,619.9 1028.0,623.8 1029.0,627.2 1029.0,627.3 1030.0,635.2 1031.0,643.1 1031.6,647.7 1032.0,652.4 1033.0,663.9 1034.0,675.4 1034.2,677.6 1035.0,676.2 1036.0,674.3 1036.8,672.8 1037.0,672.6 1038.0,671.3 1039.0,670.0 1039.4,669.5 1040.0,668.4 1041.0,666.5 1042.0,664.6 1043.0,662.7 1043.3,662.1 1044.0,661.2 1045.0,659.8 1045.9,658.5 1046.0,657.7 1047.0,649.5 1048.0,641.3 1048.5,637.2 1049.0,635.8 1050.0,633.1 1051.0,630.4 1051.1,630.1 1052.0,629.8 1053.0,629.6 1053.7,629.4 1054.0,629.5 1055.0,629.9 1056.0,630.2 1056.3,630.4 1057.0,628.9 1058.0,627.9 1059.0,626.9 1060.0,625.9 1060.2,625.7 1061.0,625.6 1062.0,625.4 1063.0,625.2 1064.0,625.1 1064.1,625.1 1065.0,625.3 1066.0,625.5 1066.7,625.5 1067.0,624.8 1068.0,622.4 1069.0,619.9 1069.3,619.1 1070.0,620.5 1071.0,622.5 1071.9,624.4 1072.0,624.8 1073.0,630.8 1074.0,636.8 1074.5,640.1 1075.0,640.5 1076.0,641.5 1077.0,643.9 1077.1,644.3 1078.0,646.3 1079.0,648.5 1079.7,650.2 1080.0,650.8 1081.0,653.0 1082.0,655.3 1082.3,656.1 1083.0,658.0 1084.0,660.9 1084.9,663.6 1085.0,663.7 1086.0,665.9 1087.0,668.2 1087.5,669.4 1088.0,670.7 1089.0,673.6 1090.0,676.3 1090.2,676.7 1091.0,678.9 1092.0,681.6 1092.8,683.6 1093.0,684.5 1094.0,687.8 1095.0,691.1 1095.4,692.3 1096.0,695.3 1097.0,699.9 1098.0,704.3 1098.0,704.5 1099.0,708.4 1100.0,712.4 1100.6,714.6 1101.0,714.9 1102.0,715.3 1103.0,712.6 1103.2,712.9 1104.0,713.4 1105.0,713.9 1105.8,714.3 1106.0,714.1 1107.0,713.4 1108.0,712.7 1108.4,712.4 1109.0,712.7 1110.0,713.2 1111.0,713.7 1111.0,713.7 1112.0,713.6 1113.0,713.5 1113.6,713.4 1114.0,713.4 1115.0,713.3 1116.0,713.2 1116.2,713.2 1117.0,709.6 1118.0,693.6 1118.8,687.9 1119.0,685.7 1120.0,675.5 1121.0,665.3 1121.4,661.3 1122.0,659.0 1123.0,655.1 1124.0,651.3 1124.0,651.3 1125.0,647.4 1126.0,643.5 1126.6,641.2 1127.0,635.3 1128.0,624.4 1129.0,621.2 1129.2,620.6 1130.0,627.6 1131.0,636.4 1131.8,643.6 1132.0,645.3 1133.0,653.9 1134.0,662.6 1135.0,671.3 1135.7,677.6 1136.0,681.2 1137.0,628.8 1138.0,613.4 1138.3,613.6 1139.0,617.7 1139.6,621.3 1140.0,621.4 1141.0,621.6 1142.0,621.8 1142.2,621.8 1143.0,621.0 1144.0,619.9 1144.8,619.0 1145.0,619.3 1146.0,621.9 1147.0,624.6 1147.4,625.7 1148.0,628.8 1149.0,634.2 1150.0,639.6 1150.0,639.7 1151.0,648.3 1152.0,657.1 1152.6,662.7 1153.0,661.9 1154.0,660.0 1155.0,658.0 1155.2,657.6 1156.0,660.3 1157.0,663.8 1157.8,666.7 1158.0,668.2 1159.0,677.2 1160.0,686.2 1160.4,690.2 1161.0,689.9 1162.0,689.3 1163.0,689.4 1163.0,689.4 1164.0,689.2 1165.0,689.0 1165.6,688.9 1166.0,688.3 1167.0,686.8 1168.0,685.2 1168.2,684.8 1169.0,681.1 1170.0,676.3 1171.0,671.4 1172.0,666.5 1172.1,665.8 1173.0,659.0 1174.0,650.9 1174.8,644.9 1175.0,643.2 1176.0,636.6 1177.0,629.9 1177.4,627.6 1178.0,622.8 1179.0,615.5 1180.0,608.5 1180.0,608.3 1181.0,601.6 1182.0,595.0 1182.6,591.3 1183.0,584.2 1183.9,570.3 1184.0,566.4 1185.0,538.3 1185.4,526.4 1185.6,529.9 1186.0,524.9 1187.0,511.6 1187.2,509.1 1188.0,502.6 1189.0,494.8 1190.0,486.9 1190.3,484.4 1191.0,480.9 1192.0,475.7 1193.0,470.6 1193.4,468.4 1194.0,467.4 1195.0,465.6 1196.0,461.1 1196.6,458.6 1197.0,456.9 1198.0,453.0 1198.1,452.6 1199.0,455.2 1199.7,457.3 1200.0,459.6 1201.0,466.9 1201.2,468.7 1202.0,470.1 1202.8,471.6 1203.0,470.5 1204.0,464.6 1204.4,462.4 1205.0,461.4 1205.9,459.8 1206.0,460.3 1207.0,468.0 1207.5,471.9 1208.0,474.3 1209.0,479.3 1210.0,484.3 1210.6,487.5 1211.0,490.5 1212.0,498.6 1212.2,500.1 1213.0,519.9 1213.8,538.3 1214.0,543.4 1215.0,563.8 1216.0,584.4 1216.9,602.6 1217.0,602.9 1218.0,605.8 1219.0,608.8 1220.0,611.8 1221.0,617.1 1222.0,622.5 1223.0,627.9 1223.1,628.6 1224.0,630.2 1225.0,632.1 1226.0,634.6 1227.0,637.8 1228.0,641.0 1229.0,644.2 1229.3,645.3 1230.0,644.3 1231.0,642.9 1232.0,641.4 1233.0,640.0 1234.0,638.5 1234.9,637.2 1235.0,637.0 1236.0,634.9 1237.0,632.8 1238.0,630.7 1239.0,628.6 1240.0,626.4 1241.0,624.3 1241.9,622.5 1242.0,622.1 1243.0,618.8 1244.0,615.5 1245.0,612.6 1246.0,609.9 1246.6,608.4 1247.0,608.4 1248.0,608.5 1249.0,608.5 1249.7,608.5 1250.0,606.6 1251.0,600.4 1252.0,594.3 1252.8,589.3 1253.0,587.6 1254.0,578.8 1255.0,570.0 1255.9,561.7 1256.0,561.6 1257.0,560.6 1258.0,559.6 1259.0,558.5 1259.1,558.5 1260.0,556.0 1261.0,553.5 1262.0,550.9 1262.2,550.4 1263.0,549.6 1264.0,548.6 1265.0,547.6 1265.3,547.3 1266.0,547.4 1267.0,543.6 1268.0,542.7 1268.4,542.2 1269.0,542.8 1270.0,543.8 1271.0,544.8 1271.6,545.4 1272.0,545.4 1273.0,545.3 1274.0,545.3 1274.7,545.2 1275.0,545.8 1276.0,547.7 1277.0,549.6 1277.8,551.1 1278.0,550.8 1279.0,548.2 1280.0,545.7 1280.9,543.5 1281.0,544.1 1282.0,554.3 1282.5,559.7 1283.0,563.0 1284.0,569.9 1285.0,577.2 1285.6,582.0 1286.0,581.9 1287.0,583.4 1288.0,588.1 1289.0,592.8 1290.0,597.5 1291.0,602.2 1291.2,603.4 1292.0,612.4 1293.0,624.2 1293.0,624.4 1294.0,652.0 1294.7,683.1 1295.0,685.8 1296.0,695.5 1296.5,699.9 1297.0,702.5 1298.0,707.3 1299.0,712.1 1299.9,716.5 1300.0,716.9 1301.0,722.3 1302.0,727.7 1303.0,733.1 1303.4,735.3 1304.0,737.8 1305.0,739.5 1306.0,741.3 1306.9,742.8 1307.0,742.8 1308.0,743.1 1309.0,743.3 1310.0,743.6 1310.3,743.7 1311.0,743.9 1312.0,744.3 1313.0,744.6 1313.8,744.9 1314.0,745.0 1315.0,745.3 1315.6,745.6 1316.0,746.5 1317.0,748.7 1318.0,751.0 1318.3,751.8 1319.0,756.5 1320.0,757.6 1320.8,758.5 1321.0,758.1 1322.0,756.3 1323.0,754.6 1324.0,752.9 1324.2,752.5 1325.0,752.6 1326.0,752.6 1326.7,752.7 1327.0,749.5 1328.0,739.9 1329.0,730.4 1329.4,726.3 1330.0,724.1 1331.0,720.3 1332.0,716.6 1332.9,713.2 1333.0,713.0 1334.0,710.2 1335.0,707.4 1336.0,704.8 1336.4,703.8 1337.0,704.0 1338.0,696.6 1339.0,680.1 1339.9,665.7 1340.0,665.4 1341.0,663.3 1342.0,661.1 1343.0,659.0 1343.3,658.3 1344.0,658.9 1345.0,660.0 1346.0,661.0 1346.8,661.8 1347.0,660.9 1348.0,656.2 1349.0,651.5 1349.6,648.8 1350.0,646.1 1351.0,639.6 1352.0,633.2 1352.0,633.1 1353.0,626.7 1354.0,620.3 1354.4,617.4 1355.0,615.4 1356.0,654.9 1357.0,664.1 1357.2,662.3 1358.0,663.2 1359.0,664.6 1360.0,666.1 1360.7,667.3 1361.0,667.3 1362.0,667.2 1363.0,667.3 1363.5,667.4 1364.0,665.1 1365.0,660.8 1366.0,656.5 1367.0,652.2 1367.6,649.4 1368.0,647.9 1369.0,643.6 1370.0,639.2 1371.0,634.9 1371.1,634.4 1372.0,647.6 1373.0,662.4 1374.0,677.1 1374.6,685.7 1375.0,688.7 1376.0,685.3 1377.0,681.8 1378.0,678.2 1378.1,678.1 1379.0,678.7 1380.0,679.5 1381.0,680.3 1381.5,680.8 1382.0,681.6 1383.0,683.3 1384.0,685.1 1385.0,687.0 1386.0,688.6 1387.0,690.3 1388.0,692.0 1388.5,692.9 1389.0,691.4 1390.0,688.6 1391.0,685.7 1391.9,683.1 1392.0,683.1 1393.0,683.4 1394.0,683.6 1395.0,683.9 1396.0,684.2 1397.0,684.5 1397.2,684.6 1398.0,686.6 1399.0,689.0 1400.0,691.3 1400.6,692.8 1401.0,693.2 1402.0,694.4 1403.0,695.6 1404.0,696.8 1404.1,696.9 1405.0,698.0 1406.0,699.0 1407.0,699.6 1407.6,700.0 1408.0,699.9 1409.0,699.6 1410.0,699.3 1411.0,699.1 1412.0,698.8 1412.8,698.6 1413.0,698.7 1414.0,698.9 1415.0,699.1 1416.0,699.4 1417.0,699.6 1418.0,699.9 1418.0,700.0 1418.1,701.1 1419.0,690.5 1420.0,678.4 1420.6,670.9 1421.0,670.8 1422.0,670.6 1423.0,670.4 1423.5,670.3 1424.0,671.5 1425.0,673.8 1426.0,676.1 1427.0,678.3 1427.0,678.4 1428.0,679.9 1429.0,681.4 1430.0,682.9 1430.6,683.7 1431.0,683.1 1432.0,681.7 1433.0,680.2 1434.0,678.8 1434.1,678.5 1435.0,681.1 1436.0,684.1 1437.0,687.0 1437.7,689.1 1438.0,690.0 1439.0,692.9 1440.0,695.9 1441.0,698.8 1441.3,699.6 1442.0,702.0 1443.0,705.3 1444.0,708.6 1444.8,711.3 1445.0,710.7 1446.0,707.4 1447.0,704.1 1447.7,702.0 1448.0,703.8 1449.0,708.9 1450.0,713.6 1450.2,714.4 1451.0,715.3 1452.0,716.3 1453.0,717.4 1453.7,718.2 1454.0,717.2 1455.0,713.9 1456.0,710.6 1457.0,707.2 1457.3,706.3 1458.0,704.9 1459.0,703.0 1460.0,701.1 1460.8,699.5 1461.0,700.0 1462.0,702.9 1463.0,705.8 1464.0,708.8 1464.4,709.9 1465.0,708.6 1466.0,706.3 1467.0,704.4 1468.0,702.6 1468.0,702.5 1469.0,699.5 1470.0,696.5 1471.0,693.6 1471.5,692.0 1472.0,692.4 1473.0,693.2 1474.0,693.9 1475.0,694.7 1475.1,694.7 1476.0,699.3 1477.0,704.1 1478.0,709.0 1478.6,712.0 1479.0,712.9 1480.0,715.1 1481.0,717.4 1482.0,719.6 1482.2,720.0 1483.0,719.1 1484.0,718.0 1485.0,716.9 1485.7,716.1 1486.0,717.2 1487.0,721.5 1488.0,726.1 1488.2,727.4 1489.0,726.7 1490.0,725.9 1491.0,725.1 1492.0,724.3 1492.9,723.6 1493.0,723.3 1494.0,720.8 1495.0,718.3 1496.0,715.9 1497.0,713.5 1498.0,711.1 1498.2,710.6 1499.0,708.7 1500.0,706.4 1501.0,704.1 1502.0,701.4 1503.0,697.4 1503.5,695.2 1504.0,693.4 1505.0,689.4 1506.0,685.4 1507.0,681.4 1508.0,677.3 1508.2,676.6 1509.0,672.9 1510.0,668.3 1511.0,663.8 1512.0,659.2 1512.2,658.3 1513.0,653.0 1514.0,646.3 1515.0,639.7 1515.3,637.6 1516.0,635.5 1517.0,632.5 1518.0,629.4 1518.4,628.1 1519.0,628.0 1520.0,627.9 1521.0,627.8 1521.6,627.8 1522.0,627.7 1523.0,627.6 1524.0,628.1 1524.7,628.5 1525.0,627.5 1526.0,624.3 1527.0,621.2 1527.8,618.6 1528.0,619.5 1529.0,624.6 1530.0,629.7 1530.9,634.4 1531.0,634.5 1532.0,636.6 1533.0,638.7 1534.0,640.8 1534.1,640.9 1535.0,643.5 1536.0,646.4 1537.0,649.2 1537.2,649.8 1538.0,655.6 1539.0,662.8 1540.0,670.0 1541.0,677.2 1542.0,684.5 1543.0,691.7 1544.0,699.0 1544.5,702.3 1545.0,703.4 1546.0,705.3 1547.0,707.2 1548.0,709.1 1548.0,709.2 1549.0,710.7 1550.0,712.2 1551.0,713.8 1551.6,714.7 1552.0,714.1 1553.0,712.6 1554.0,711.1 1555.0,709.6 1555.1,709.4 1556.0,711.1 1557.0,713.0 1558.0,715.0 1558.7,716.4 1559.0,716.4 1560.0,716.5 1561.0,716.5 1562.0,716.6 1562.3,716.6 1563.0,717.4 1564.0,718.6 1565.0,719.7 1565.8,720.7 1566.0,719.7 1567.0,714.3 1568.0,709.0 1569.0,703.6 1569.4,701.6 1570.0,699.0 1571.0,694.9 1572.0,690.7 1572.9,686.9 1573.0,686.7 1574.0,684.5 1575.0,682.3 1576.0,680.1 1576.5,679.0 1577.0,678.9 1578.0,678.6 1579.0,678.3 1580.0,678.0 1581.0,677.7 1581.8,677.4 1582.0,678.0 1583.0,681.1 1584.0,684.2 1585.0,687.4 1585.4,688.6 1586.0,688.0 1587.0,687.0 1588.0,686.0 1589.0,685.0 1589.0,685.0 1590.0,684.4 1591.0,683.8 1592.0,683.1 1592.5,682.8 1593.0,683.1 1594.0,683.6 1595.0,684.1 1596.0,684.6 1596.1,684.7 1597.0,687.3 1598.0,690.1 1599.0,692.9 1599.6,694.6 1600.0,696.2 1601.0,700.6 1602.0,705.3 1603.0,710.2 1603.2,711.2 1604.0,696.6 1604.3,691.1 1605.0,687.4 1606.0,682.2 1607.0,676.9 1607.1,676.5 1608.0,675.4 1609.0,674.2 1609.5,673.6 1610.0,673.0 1611.0,671.7 1612.0,670.4 1613.0,672.0 1613.0,672.1 1614.0,673.6 1615.0,675.1 1616.0,676.6 1616.5,677.3 1617.0,678.3 1618.0,680.2 1619.0,682.1 1619.9,683.8 1620.0,683.8 1621.0,683.4 1622.0,682.9 1623.0,682.5 1623.4,682.3 1624.0,682.8 1625.0,683.5 1626.0,684.2 1626.9,684.9 1627.0,685.1 1628.0,686.6 1629.0,689.9 1630.0,695.3 1630.3,695.5 1631.0,696.3 1632.0,697.6 1633.0,698.9 1633.8,699.9 1634.0,701.7 1635.0,711.6 1635.6,717.1 1636.0,721.5 1637.0,731.5 1637.3,734.5 1638.0,735.5 1639.0,737.1 1640.0,738.6 1640.8,739.8 1641.0,740.1 1642.0,741.7 1643.0,743.3 1644.0,744.9 1644.2,745.6 1645.0,748.3 1646.0,751.9 1647.0,755.4 1647.7,757.9 1648.0,758.9 1649.0,762.4 1650.0,764.5 1651.0,765.5 1651.2,765.7 1652.0,766.0 1653.0,766.3 1654.0,766.6 1654.7,766.8 1655.0,767.0 1656.0,767.7 1657.0,768.4 1658.0,769.1 1658.1,769.2 1659.0,769.5 1660.0,769.8 1661.0,770.2 1661.6,770.4 1662.0,770.7 1663.0,771.4 1664.0,772.1 1665.0,772.9 1665.1,772.9 1666.0,773.3 1667.0,773.6 1668.0,774.0 1668.5,774.2 1669.0,774.8 1670.0,776.0 1671.0,784.7 1671.0,784.6 1672.0,781.9 1673.0,779.2 1673.8,777.1 1674.0,776.3 1675.0,773.2 1676.0,770.1 1677.0,766.9 1677.2,766.3 1678.0,764.7 1679.0,762.8 1680.0,760.9 1680.7,759.6 1681.0,759.3 1682.0,758.6 1683.0,757.8 1684.0,757.1 1684.2,756.9 1685.0,755.4 1686.0,753.6 1687.0,752.3 1687.6,752.8 1688.0,753.3 1689.0,754.5 1690.0,755.7 1691.0,756.9 1691.1,757.0 1692.0,757.4 1693.0,757.8 1694.0,758.4 1694.6,758.7 1695.0,758.9 1696.0,759.5 1697.0,760.0 1698.0,760.6 1698.1,760.6 1699.0,761.9 1700.0,763.2 1701.0,764.5 1701.5,765.2 1702.0,765.6 1703.0,766.4 1704.0,767.1 1704.3,767.4 1705.0,777.2 1706.0,791.9 1706.7,789.5 1707.0,788.2 1708.0,783.3 1709.0,778.3 1710.0,773.2 1710.2,772.2 1711.0,767.0 1712.0,760.4 1713.0,753.8 1713.7,749.2 1714.0,747.2 1715.0,741.1 1716.0,734.9 1717.0,728.7 1717.2,727.7 1718.0,724.8 1719.0,721.4 1720.0,717.9 1720.6,715.8 1721.0,714.7 1722.0,712.0 1723.0,709.3 1724.0,706.5 1724.1,706.2 1725.0,703.7 1726.0,701.8 1727.0,704.0 1727.6,705.2 1728.0,705.9 1729.0,706.7 1730.0,707.5 1731.0,708.2 1732.0,709.0 1732.1,709.1 1733.0,712.7 1734.0,716.8 1735.0,720.8 1736.0,724.7 1736.4,726.5 1737.0,729.9 1738.0,736.0 1739.0,742.1 1740.0,748.1 1740.8,752.8 1741.0,754.0 1742.0,759.2 1743.0,764.4 1744.0,769.5 1745.0,774.6 1745.1,775.2 1746.0,777.5 1747.0,780.1 1747.3,780.9 1748.0,778.7 1749.0,775.6 1749.5,774.2 1750.0,773.4 1751.0,771.7 1752.0,770.1 1753.0,768.4 1753.8,767.1 1754.0,766.9 1755.0,765.9 1756.0,765.0 1757.0,764.1 1758.0,763.1 1758.1,763.0 1759.0,762.5 1760.0,761.9 1761.0,761.3 1762.0,760.7 1762.5,760.4 1763.0,760.1 1764.0,759.5 1765.0,758.9 1766.0,758.3 1766.8,757.8 1767.0,757.6 1768.0,756.3 1769.0,755.0 1770.0,753.7 1771.0,752.3 1771.2,752.1 1772.0,751.6 1773.0,751.0 1774.0,750.4 1775.0,749.9 1775.5,749.6 1776.0,748.5 1777.0,746.4 1778.0,744.3 1779.0,742.2 1779.8,740.5 1780.0,740.2 1781.0,738.9 1782.0,737.5 1783.0,736.1 1784.0,734.8 1784.2,734.5 1785.0,730.3 1786.0,725.1 1787.0,719.8 1788.0,714.6 1788.5,711.8 1789.0,709.8 1790.0,705.7 1791.0,701.5 1792.0,697.3 1792.9,693.6 1793.0,693.5 1794.0,692.4 1795.0,691.3 1796.0,690.2 1797.0,689.1 1797.2,688.9 1798.0,688.0 1799.0,686.9 1800.0,685.8 1801.0,684.6 1801.6,684.0 1802.0,684.4 1803.0,685.1 1804.0,685.9 1805.0,686.7 1805.9,687.3 1806.0,687.6 1807.0,690.4 1808.0,693.1 1809.0,695.8 1810.0,698.5 1810.2,699.1 1811.0,700.7 1812.0,702.9 1813.0,705.0 1814.0,707.0 1814.0,707.2 1815.0,711.7 1815.8,715.3 1816.0,716.4 1817.0,721.7 1817.6,725.0 1818.0,726.5 1818.8,729.9 1819.0,730.1 1820.0,731.3 1820.7,732.1 1821.0,731.4 1822.0,729.6 1822.5,728.7 1823.0,730.8 1824.0,733.5 1824.3,734.2 1825.0,735.6 1826.0,737.5 1826.7,738.9 1827.0,738.7 1828.0,738.0 1829.0,737.3 1829.2,737.2 1830.0,737.3 1831.0,737.4 1831.6,737.4 1832.0,738.4 1833.0,740.9 1833.4,742.0 1834.0,741.6 1835.0,740.9 1836.0,743.3 1836.4,744.3 1837.0,745.8 1838.0,748.2 1838.5,749.5 1839.0,750.1 1840.0,751.2 1840.5,751.8 1841.0,751.8 1841.9,751.7 1842.0,751.6 1843.0,750.4 1844.0,749.2 1845.0,746.5 1846.0,744.8 1846.1,744.6 1847.0,744.1 1848.0,743.4 1848.5,743.1 1849.0,743.6 1850.0,744.4 1850.3,744.6 1851.0,748.8 1851.3,750.5 1852.0,757.5 1852.4,761.5 1853.0,760.3 1853.4,759.6 1854.0,757.8 1855.0,754.9 1855.1,754.6 1856.0,752.8 1857.0,750.9 1857.6,749.8 1858.0,749.6 1859.0,749.2 1860.0,748.8 1861.0,748.4 1862.0,749.0 1863.0,749.5 1863.5,749.8 1864.0,751.6 1864.5,753.4 1865.0,752.4 1866.0,750.2 1866.3,749.6 1867.0,750.2 1868.0,750.9 1869.0,754.2 1869.7,756.4 1870.0,756.8 1871.0,757.9 1871.5,758.4 1872.0,758.7 1873.0,759.2 1873.2,759.3 1874.0,760.2 1875.0,761.3 1876.0,760.7 1877.0,760.0 1878.0,759.4 1879.0,758.8 1880.0,758.2 1881.0,757.6 1881.2,757.4 1882.0,757.7 1883.0,758.2 1883.3,758.3 1884.0,762.0 1885.0,767.4 1885.4,769.5 1886.0,772.6 1887.0,777.8 1888.0,779.4 1889.0,781.0 1890.0,783.1 1890.6,784.4 1891.0,784.0 1891.7,783.2 1892.0,783.9 1893.0,786.1 1893.8,787.8 1894.0,788.5 1895.0,791.3 1896.0,794.1 1896.4,795.3 1897.0,792.8 1897.4,791.1 1898.0,791.1 1898.4,791.1 L1898.4,965.0 Z" fill="#b763ed"/>
<path d="M101.0,965.0 L101.0,964.5 102.0,964.5 103.0,964.4 104.0,964.4 105.0,964.4 106.0,964.3 107.0,964.3 108.0,964.2 109.0,964.2 110.0,964.2 111.0,964.1 112.0,964.1 113.0,964.0 114.0,964.0 115.0,964.0 116.0,963.9 117.0,963.9 117.5,963.9 118.0,963.9 119.0,963.9 120.0,964.0 121.0,963.5 122.0,962.9 123.0,962.3 124.0,961.6 125.0,960.9 126.0,960.2 127.0,959.4 128.0,958.6 129.0,957.8 130.0,956.9 131.0,956.0 132.0,955.0 132.5,954.5 133.0,954.1 134.0,953.2 135.0,952.2 136.0,951.3 137.0,950.4 138.0,949.4 138.8,948.7 139.0,948.4 140.0,947.5 141.0,946.5 142.0,945.5 142.5,945.0 143.0,944.4 144.0,943.2 145.0,942.0 146.0,941.1 147.0,940.3 148.0,939.5 148.8,938.9 149.0,938.8 150.0,938.5 151.0,938.1 152.0,937.8 152.5,937.7 153.0,937.6 154.0,937.4 155.0,937.3 156.0,937.1 157.0,937.0 158.0,937.3 159.0,937.7 160.0,938.1 160.5,938.2 161.0,938.5 162.0,938.9 163.0,939.4 164.0,939.8 165.0,940.3 166.0,940.4 167.0,940.5 168.0,940.6 169.0,940.7 170.0,940.8 171.0,941.0 172.0,941.3 173.0,941.6 174.0,941.8 175.0,942.1 176.0,942.4 177.0,942.8 178.0,943.1 179.0,943.4 180.0,943.7 181.0,944.0 181.2,944.1 182.0,944.4 183.0,944.7 184.0,945.0 185.0,945.3 186.0,945.7 186.2,945.8 187.0,945.6 188.0,945.4 189.0,945.2 190.0,945.0 191.0,944.7 191.2,944.7 192.0,944.6 193.0,944.6 194.0,944.5 195.0,944.4 196.0,944.4 197.0,944.3 197.5,944.3 198.0,944.2 199.0,944.1 200.0,944.0 201.0,943.9 202.0,943.8 203.0,943.8 204.0,943.7 205.0,943.6 206.0,943.5 207.0,943.3 208.0,943.2 209.0,943.1 210.0,942.9 211.0,942.8 212.0,942.7 212.5,942.7 213.0,942.6 214.0,942.4 215.0,942.3 216.0,942.2 217.0,942.0 218.0,941.9 219.0,941.8 220.0,941.6 221.0,941.5 222.0,941.4 223.0,941.3 224.0,941.1 225.0,941.0 226.0,940.9 227.0,940.8 227.5,940.8 228.0,940.6 229.0,940.2 230.0,939.9 231.0,939.5 231.2,939.4 232.0,938.8 233.0,938.0 234.0,937.2 235.0,936.5 236.0,935.7 237.0,934.9 238.0,934.2 238.8,933.6 239.0,933.5 240.0,933.3 241.0,933.0 242.0,932.7 243.0,932.5 244.0,932.2 245.0,932.0 246.0,931.8 247.0,931.5 248.0,931.3 249.0,931.1 250.0,930.9 251.0,930.7 252.0,930.5 253.0,930.3 254.0,930.1 255.0,929.9 256.0,929.8 257.0,929.6 257.5,929.5 258.0,929.1 259.0,928.3 260.0,927.5 261.0,926.6 262.0,925.8 263.0,925.9 264.0,926.0 265.0,926.1 266.0,926.8 267.0,927.5 268.0,921.7 268.8,917.4 269.0,916.8 270.0,914.5 271.0,912.4 271.2,911.9 272.0,911.6 273.0,911.2 274.0,910.7 275.0,910.3 276.0,909.9 277.0,909.6 278.0,909.2 279.0,908.8 280.0,908.5 281.0,908.1 281.2,908.0 282.0,907.4 283.0,906.5 284.0,905.4 285.0,904.3 286.0,903.3 287.0,902.3 288.0,901.3 289.0,901.5 290.0,901.8 291.0,902.0 291.2,902.0 292.0,902.0 293.0,902.0 294.0,902.0 295.0,902.0 296.0,902.0 296.2,902.0 297.0,904.1 298.0,907.0 298.8,909.1 299.0,910.2 300.0,914.5 300.5,916.6 301.0,916.9 302.0,917.6 303.0,918.3 304.0,919.0 305.0,919.7 306.0,920.2 307.0,920.7 308.0,921.2 309.0,921.7 310.0,922.2 311.0,922.6 312.0,923.0 313.0,923.6 314.0,924.3 315.0,925.0 316.0,925.7 317.0,926.4 318.0,927.1 319.0,927.8 320.0,928.5 321.0,928.9 322.0,929.4 323.0,929.8 324.0,930.3 325.0,930.7 326.0,930.9 327.0,931.1 328.0,931.3 329.0,931.5 330.0,931.7 331.0,931.9 331.2,932.0 332.0,932.0 333.0,931.9 334.0,931.8 335.0,931.6 336.0,931.4 337.0,931.3 337.5,931.2 338.0,931.2 339.0,931.3 340.0,931.3 341.0,931.4 342.0,931.4 343.0,931.4 344.0,931.5 345.0,931.5 346.0,931.6 347.0,931.6 348.0,931.6 349.0,931.7 350.0,931.7 351.0,931.7 352.0,931.8 352.5,931.8 353.0,931.8 354.0,931.8 355.0,931.9 356.0,931.9 357.0,932.0 357.5,932.0 358.0,932.0 359.0,932.1 360.0,932.2 361.0,932.3 362.0,932.4 362.5,932.4 363.0,932.5 364.0,932.7 365.0,932.8 366.0,933.0 367.0,933.2 368.0,933.2 369.0,929.9 370.0,926.6 371.0,924.8 372.0,922.9 372.5,922.0 373.0,921.7 374.0,921.1 375.0,920.4 376.0,919.8 377.0,919.2 377.5,918.9 378.0,918.4 379.0,917.6 380.0,916.7 381.0,915.8 382.0,914.9 382.5,914.5 383.0,914.2 384.0,913.6 385.0,912.9 386.0,912.3 387.0,911.7 388.0,911.2 388.8,910.7 389.0,910.3 390.0,908.7 391.0,907.1 392.0,905.6 392.5,904.8 393.0,902.9 394.0,899.2 394.5,897.4 395.0,897.0 396.0,895.5 397.0,893.9 397.5,893.1 398.0,893.6 399.0,894.7 400.0,895.7 401.0,895.3 402.0,894.9 403.0,894.5 404.0,894.1 405.0,893.8 406.0,893.6 407.0,893.4 408.0,893.5 409.0,893.9 410.0,894.3 411.0,894.7 412.0,895.2 412.5,895.4 413.0,896.1 414.0,897.4 415.0,898.7 416.0,900.0 417.0,901.3 417.5,902.0 418.0,902.4 419.0,903.3 420.0,904.1 421.0,905.0 422.0,905.9 422.5,906.4 423.0,906.7 424.0,907.3 425.0,907.9 426.0,908.5 427.0,909.2 427.5,909.5 428.0,910.2 429.0,911.7 430.0,913.2 431.0,914.6 431.2,915.0 432.0,915.8 433.0,917.0 434.0,918.1 435.0,919.2 436.0,919.5 437.0,919.7 438.0,920.0 439.0,920.2 440.0,920.5 441.0,920.7 441.2,920.8 442.0,921.3 443.0,921.9 444.0,922.6 445.0,923.2 446.0,923.4 447.0,923.6 448.0,923.8 449.0,924.0 450.0,924.2 451.0,924.4 452.0,924.6 453.0,924.8 454.0,925.0 455.0,925.1 456.0,925.3 457.0,925.5 458.0,925.7 459.0,925.8 460.0,926.0 461.0,926.2 462.0,926.3 462.5,926.4 463.0,926.5 464.0,926.8 465.0,927.0 466.0,927.3 467.0,927.5 468.0,927.8 469.0,928.0 470.0,928.2 471.0,928.7 472.0,929.2 473.0,929.7 474.0,930.1 475.0,930.6 476.0,931.1 477.0,931.5 477.5,931.8 478.0,931.9 479.0,932.1 480.0,932.4 481.0,932.6 482.0,932.9 483.0,933.1 484.0,933.3 485.0,933.6 486.0,933.7 487.0,933.8 488.0,933.9 489.0,933.9 490.0,934.0 491.0,934.1 492.0,934.2 492.5,934.3 493.0,934.3 494.0,934.4 495.0,934.5 496.0,934.5 496.2,934.5 497.0,935.1 498.0,935.8 499.0,936.5 500.0,937.2 501.0,937.4 502.0,937.5 503.0,937.7 504.0,937.9 505.0,938.0 506.0,938.2 507.0,938.3 507.5,938.4 508.0,938.5 509.0,938.7 510.0,938.8 511.0,939.0 512.0,939.1 513.0,939.3 514.0,939.5 515.0,939.6 516.0,939.8 517.0,940.1 518.0,940.3 519.0,940.5 520.0,940.8 521.0,941.0 522.0,941.2 523.0,941.5 524.0,941.7 525.0,942.0 526.0,942.2 527.0,942.4 527.5,942.6 528.0,942.6 529.0,942.7 530.0,942.8 531.0,943.0 532.0,943.1 533.0,943.2 534.0,943.3 535.0,943.4 536.0,943.6 537.0,943.9 538.0,944.1 539.0,944.4 540.0,944.6 541.0,944.9 542.0,945.2 542.5,945.3 543.0,945.4 544.0,945.6 545.0,945.8 546.0,945.5 547.0,945.2 548.0,945.0 549.0,944.7 550.0,944.5 551.0,944.4 552.0,944.3 553.0,944.2 554.0,944.1 555.0,944.0 556.0,942.1 557.0,940.3 557.5,939.4 558.0,938.1 559.0,935.7 560.0,933.2 561.0,931.5 562.0,929.8 563.0,928.1 563.8,926.7 564.0,926.3 565.0,924.5 566.0,922.6 567.0,920.8 567.5,919.9 568.0,918.3 569.0,915.2 570.0,912.0 571.0,910.5 572.0,909.0 572.5,908.3 573.0,908.1 574.0,907.6 575.0,907.1 576.0,906.6 577.0,906.1 577.5,905.9 578.0,905.8 579.0,905.6 580.0,905.4 581.0,905.2 582.0,905.0 582.5,904.9 583.0,905.2 584.0,905.8 585.0,905.9 586.0,907.2 587.0,908.6 587.5,909.3 588.0,909.9 589.0,911.0 590.0,912.2 591.0,912.4 592.0,912.6 593.0,912.8 594.0,913.0 595.0,913.2 596.0,914.1 597.0,914.9 597.5,915.3 598.0,916.0 599.0,917.3 600.0,918.6 601.0,918.0 602.0,917.5 603.0,916.9 604.0,916.3 605.0,915.8 606.0,916.0 607.0,916.2 608.0,916.4 609.0,916.7 610.0,916.9 611.0,917.2 612.0,917.6 613.0,918.0 614.0,918.4 615.0,918.7 616.0,918.9 617.0,919.0 618.0,919.2 619.0,919.3 620.0,919.5 621.0,919.9 622.0,920.3 623.0,920.7 624.0,921.1 625.0,921.5 626.0,922.2 627.0,922.8 628.0,923.5 629.0,924.1 630.0,924.8 631.0,925.6 632.0,926.4 633.0,927.3 633.8,927.9 634.0,928.0 635.0,928.2 636.0,928.8 636.2,929.0 637.0,927.8 638.0,926.3 638.8,925.1 639.0,924.9 640.0,924.1 641.0,923.2 642.0,922.4 642.5,922.0 643.0,922.0 644.0,922.0 645.0,922.0 646.0,922.0 647.0,922.0 647.5,922.0 648.0,922.1 649.0,922.4 650.0,922.7 651.0,923.0 652.0,923.3 652.5,923.4 653.0,923.4 654.0,923.5 655.0,923.6 656.0,923.7 657.0,923.9 658.0,924.0 659.0,924.1 660.0,924.2 661.0,924.2 662.0,924.3 663.0,924.4 664.0,924.4 665.0,924.5 666.0,925.6 667.0,926.8 668.0,927.9 668.8,928.8 669.0,929.2 670.0,930.9 671.0,932.7 672.0,934.4 672.5,935.2 673.0,935.3 674.0,935.5 675.0,935.8 676.0,935.9 677.0,936.1 677.5,936.2 678.0,936.2 679.0,936.1 680.0,936.0 681.0,935.9 682.0,935.8 683.0,935.7 684.0,935.6 685.0,935.5 686.0,935.6 687.0,935.7 688.0,935.8 689.0,935.9 690.0,936.0 691.0,936.2 692.0,936.4 693.0,936.6 694.0,936.8 695.0,937.0 696.0,936.8 697.0,936.7 698.0,936.5 699.0,936.3 700.0,936.2 701.0,936.4 702.0,936.5 703.0,936.7 704.0,936.9 705.0,937.1 706.0,937.2 707.0,937.3 708.0,937.4 709.0,937.5 710.0,937.6 711.0,937.7 712.0,937.9 713.0,938.1 713.8,938.2 714.0,938.2 715.0,937.8 716.0,937.5 717.0,937.2 717.5,937.0 718.0,936.9 719.0,936.6 720.0,936.4 721.0,936.1 722.0,935.9 722.5,935.8 723.0,935.7 724.0,935.6 725.0,935.4 726.0,935.3 727.0,935.2 727.5,935.1 728.0,935.1 729.0,935.0 730.0,934.9 731.0,934.8 732.0,934.8 733.0,934.7 734.0,934.6 735.0,934.5 736.0,933.8 737.0,933.2 738.0,932.6 738.8,932.2 739.0,931.9 740.0,930.8 741.0,929.7 742.0,928.7 742.5,928.2 743.0,928.0 744.0,927.4 745.0,926.8 746.0,926.2 747.0,925.7 747.5,925.4 748.0,925.0 749.0,924.3 750.0,923.6 751.0,922.9 752.0,922.2 752.5,921.8 753.0,921.1 754.0,919.6 755.0,918.2 756.0,916.7 757.0,915.2 757.5,914.5 758.0,913.9 759.0,912.6 760.0,911.3 761.0,910.1 762.0,908.8 762.5,908.1 763.0,907.6 764.0,906.4 765.0,905.2 766.0,904.1 767.0,902.9 767.5,902.3 768.0,902.2 769.0,901.9 770.0,901.7 771.0,901.4 771.2,901.4 772.0,898.8 773.0,895.4 773.8,893.0 774.0,892.6 775.0,891.2 776.0,889.8 777.0,888.4 777.5,887.7 778.0,887.3 779.0,886.4 780.0,885.5 781.0,884.6 781.2,884.4 782.0,884.9 783.0,885.6 784.0,886.3 785.0,887.0 786.0,886.6 787.0,886.3 788.0,885.9 788.8,885.6 789.0,885.6 790.0,885.3 791.0,885.1 792.0,884.9 793.0,884.6 794.0,884.4 795.0,884.1 796.0,881.2 797.0,878.3 798.0,875.4 798.8,873.3 799.0,873.0 800.0,872.0 801.0,872.3 802.0,872.6 803.0,872.9 803.8,873.2 804.0,873.0 805.0,872.2 806.0,871.3 807.0,870.5 807.5,870.1 808.0,869.6 809.0,868.6 810.0,867.7 811.0,866.7 811.2,866.4 812.0,864.5 813.0,862.0 814.0,859.5 815.0,857.0 816.0,853.9 817.0,850.9 817.5,849.4 818.0,849.8 819.0,850.5 820.0,851.3 821.0,852.1 822.0,852.9 822.5,853.3 823.0,853.4 824.0,853.6 825.0,853.8 826.0,854.0 827.0,854.3 827.5,854.5 828.0,855.2 829.0,856.6 830.0,858.0 831.0,859.5 831.2,859.8 832.0,860.5 833.0,861.4 834.0,862.3 835.0,863.1 836.0,864.4 837.0,865.7 838.0,866.9 839.0,868.2 840.0,869.5 841.0,871.1 842.0,872.6 843.0,874.2 844.0,875.7 845.0,877.3 846.0,881.3 847.0,885.2 847.5,887.2 848.0,887.4 849.0,887.9 850.0,888.4 851.0,888.8 852.0,889.3 852.5,889.5 853.0,890.7 854.0,893.2 855.0,895.7 856.0,897.8 857.0,899.9 857.5,897.0 858.0,895.4 859.0,892.3 860.0,889.3 861.0,886.6 862.0,884.0 863.0,881.4 863.8,879.5 864.0,878.8 865.0,876.2 866.0,873.6 867.0,871.1 867.5,869.8 868.0,869.3 869.0,868.3 870.0,867.3 871.0,865.5 872.0,861.7 872.5,859.8 873.0,858.0 874.0,854.6 875.0,851.0 876.0,847.5 877.0,843.8 877.5,842.0 878.0,840.8 879.0,838.3 880.0,836.0 881.0,833.6 882.0,831.4 883.0,829.2 883.4,828.3 884.0,826.6 885.0,823.4 886.0,820.1 886.9,817.3 887.0,817.1 888.0,815.7 888.6,814.8 889.0,815.8 890.0,818.2 891.0,820.7 891.4,821.7 892.0,820.6 893.0,818.7 893.8,816.7 894.0,816.0 895.0,811.8 896.0,807.5 897.0,803.2 897.3,802.0 898.0,797.5 899.0,791.1 900.0,784.6 900.8,779.6 901.0,777.4 902.0,768.2 903.0,759.3 904.0,752.2 904.2,750.6 905.0,744.1 906.0,735.6 907.0,727.1 907.7,721.2 908.0,720.8 909.0,719.5 910.0,718.3 911.0,717.0 911.2,716.8 912.0,709.8 913.0,702.5 913.6,698.7 914.0,695.7 915.0,688.2 915.7,683.2 916.0,683.1 917.0,683.1 918.0,683.0 919.0,683.1 919.2,683.1 920.0,683.6 921.0,684.3 922.0,685.1 922.6,682.5 923.0,683.2 924.0,685.0 925.0,686.9 925.1,687.1 926.0,688.7 927.0,690.4 928.0,692.2 928.5,693.3 929.0,694.4 930.0,697.0 931.0,699.5 932.0,702.1 932.0,702.1 933.0,705.5 934.0,709.0 935.0,712.4 935.5,714.1 936.0,715.7 937.0,718.6 938.0,721.6 939.0,724.0 939.0,724.2 940.0,728.5 941.0,732.8 941.4,734.5 942.0,741.7 943.0,753.5 943.1,755.0 944.0,758.8 945.0,763.2 945.9,767.2 946.0,767.4 947.0,769.0 948.0,770.9 949.0,774.0 949.4,775.2 950.0,773.6 951.0,771.2 951.1,770.9 952.0,770.0 952.8,769.2 953.0,769.5 954.0,772.0 955.0,774.4 956.0,776.8 956.3,777.5 957.0,779.0 958.0,780.1 959.0,780.4 959.8,780.7 960.0,780.6 961.0,782.7 962.0,784.9 962.6,786.2 963.0,787.1 964.0,789.3 965.0,791.5 965.2,791.9 966.0,792.3 967.0,792.7 967.8,793.1 968.0,792.5 969.0,789.3 970.0,786.2 970.4,784.9 971.0,782.5 972.0,778.4 973.0,774.3 973.0,774.2 974.0,771.0 975.0,767.8 975.6,765.8 976.0,765.1 977.0,763.5 978.0,762.4 978.2,762.1 979.0,763.1 979.5,763.7 980.0,765.8 981.0,770.3 982.0,774.7 982.1,775.2 983.0,775.1 984.0,774.3 984.7,773.6 985.0,772.8 986.0,769.9 987.0,767.0 988.0,764.1 988.6,762.2 989.0,760.9 990.0,757.3 991.0,753.7 992.0,750.1 992.5,748.2 993.0,747.4 994.0,746.2 995.0,744.9 996.0,743.7 996.4,743.1 997.0,742.6 998.0,741.7 999.0,740.8 1000.0,739.9 1000.3,739.5 1001.0,738.2 1002.0,736.2 1003.0,734.4 1003.0,733.5 1004.0,717.3 1004.3,713.2 1005.0,712.8 1006.0,711.9 1006.9,710.9 1007.0,710.7 1008.0,709.5 1009.0,708.3 1010.0,707.0 1010.8,706.1 1011.0,705.7 1012.0,704.0 1013.0,702.3 1013.4,701.7 1014.0,700.0 1015.0,697.4 1016.0,694.8 1016.0,694.8 1017.0,695.5 1018.0,696.1 1018.6,696.5 1019.0,696.8 1020.0,697.4 1021.0,698.0 1021.2,698.1 1022.0,696.3 1023.0,694.1 1023.8,692.4 1024.0,692.3 1025.0,691.7 1026.0,691.2 1026.4,691.0 1027.0,692.9 1028.0,696.1 1029.0,698.2 1029.0,698.4 1030.0,704.0 1031.0,709.7 1031.6,713.0 1032.0,716.6 1033.0,725.2 1034.0,733.8 1034.2,735.5 1035.0,734.5 1036.0,733.7 1036.8,733.0 1037.0,732.9 1038.0,732.5 1039.0,732.2 1039.4,732.0 1040.0,731.5 1041.0,730.7 1042.0,729.9 1043.0,729.0 1043.3,728.8 1044.0,728.5 1045.0,727.9 1045.9,727.3 1046.0,726.7 1047.0,720.8 1048.0,714.8 1048.5,711.9 1049.0,711.0 1050.0,709.4 1051.0,707.7 1051.1,707.5 1052.0,707.7 1053.0,708.0 1053.7,708.1 1054.0,708.4 1055.0,709.1 1056.0,709.8 1056.3,710.0 1057.0,709.2 1058.0,708.7 1059.0,708.2 1060.0,707.7 1060.2,707.6 1061.0,707.7 1062.0,707.8 1063.0,707.9 1064.0,708.1 1064.1,708.1 1065.0,708.5 1066.0,708.9 1066.7,709.1 1067.0,708.7 1068.0,707.3 1069.0,705.9 1069.3,705.5 1070.0,706.8 1071.0,708.7 1071.9,710.6 1072.0,710.9 1073.0,715.8 1074.0,720.7 1074.5,723.4 1075.0,723.9 1076.0,725.0 1077.0,726.4 1077.1,726.6 1078.0,727.5 1079.0,728.5 1079.7,729.3 1080.0,729.5 1081.0,730.6 1082.0,731.6 1082.3,732.0 1083.0,733.0 1084.0,734.6 1084.9,736.0 1085.0,736.1 1086.0,737.2 1087.0,738.3 1087.5,738.8 1088.0,739.6 1089.0,741.2 1090.0,742.7 1090.2,742.9 1091.0,744.1 1092.0,745.7 1092.8,746.8 1093.0,747.3 1094.0,749.3 1095.0,751.4 1095.4,752.1 1096.0,754.1 1097.0,757.1 1098.0,760.1 1098.0,760.2 1099.0,762.8 1100.0,765.4 1100.6,766.9 1101.0,767.0 1102.0,766.8 1103.0,764.6 1103.2,764.8 1104.0,765.1 1105.0,765.4 1105.8,765.6 1106.0,765.5 1107.0,764.8 1108.0,764.1 1108.4,763.8 1109.0,763.3 1110.0,762.5 1111.0,761.8 1111.0,761.7 1112.0,760.4 1113.0,759.1 1113.6,758.3 1114.0,757.8 1115.0,756.5 1116.0,755.1 1116.2,754.9 1117.0,750.9 1118.0,744.7 1118.8,740.3 1119.0,738.5 1120.0,730.3 1121.0,722.0 1121.4,718.7 1122.0,716.9 1123.0,713.8 1124.0,710.7 1124.0,710.6 1125.0,707.5 1126.0,704.3 1126.6,702.5 1127.0,697.7 1128.0,688.5 1129.0,684.9 1129.2,684.2 1130.0,689.1 1131.0,695.2 1131.8,700.1 1132.0,701.3 1133.0,707.2 1134.0,713.2 1135.0,719.2 1135.7,723.5 1136.0,726.2 1137.0,696.0 1138.0,687.6 1138.3,687.9 1139.0,691.6 1139.6,694.8 1140.0,695.1 1141.0,695.8 1142.0,696.6 1142.2,696.7 1143.0,696.5 1144.0,696.2 1144.8,696.0 1145.0,696.4 1146.0,697.7 1147.0,699.1 1147.4,699.7 1148.0,701.7 1149.0,705.3 1150.0,708.9 1150.0,709.0 1151.0,715.1 1152.0,721.5 1152.6,725.5 1153.0,724.7 1154.0,722.5 1155.0,720.4 1155.2,719.9 1156.0,721.6 1157.0,723.8 1157.8,725.7 1158.0,726.8 1159.0,733.5 1160.0,740.2 1160.4,743.1 1161.0,742.6 1162.0,741.6 1163.0,741.5 1163.0,741.5 1164.0,741.2 1165.0,740.9 1165.6,740.8 1166.0,740.2 1167.0,738.8 1168.0,737.4 1168.2,737.1 1169.0,734.0 1170.0,729.9 1171.0,725.8 1172.0,721.7 1172.1,721.1 1173.0,715.4 1174.0,708.7 1174.8,703.6 1175.0,702.2 1176.0,696.7 1177.0,691.1 1177.4,689.1 1178.0,685.1 1179.0,679.0 1180.0,673.1 1180.0,672.8 1181.0,667.3 1182.0,661.7 1182.6,658.5 1183.0,652.6 1183.9,641.1 1184.0,637.8 1185.0,614.6 1185.4,604.7 1185.6,607.5 1186.0,603.3 1187.0,592.1 1187.2,590.0 1188.0,584.6 1189.0,577.9 1190.0,571.2 1190.3,569.1 1191.0,566.0 1192.0,561.5 1193.0,557.0 1193.4,555.1 1194.0,554.1 1195.0,552.5 1196.0,550.3 1196.6,548.4 1197.0,547.2 1198.0,544.3 1198.1,543.9 1199.0,546.4 1199.7,548.3 1200.0,550.2 1201.0,556.5 1201.2,558.1 1202.0,559.4 1202.8,560.9 1203.0,560.0 1204.0,555.5 1204.4,553.8 1205.0,553.1 1205.9,552.1 1206.0,552.5 1207.0,559.0 1207.5,562.0 1208.0,563.8 1209.0,567.4 1210.0,571.1 1210.6,573.5 1211.0,575.8 1212.0,582.1 1212.2,583.2 1213.0,599.2 1213.8,614.1 1214.0,618.2 1215.0,634.7 1216.0,651.3 1216.9,666.1 1217.0,666.3 1218.0,668.4 1219.0,670.6 1220.0,672.8 1221.0,676.9 1222.0,681.1 1223.0,685.4 1223.1,685.9 1224.0,687.1 1225.0,688.4 1226.0,690.3 1227.0,692.8 1228.0,695.3 1229.0,697.8 1229.3,698.7 1230.0,697.7 1231.0,696.4 1232.0,695.0 1233.0,693.7 1234.0,692.3 1234.9,691.0 1235.0,690.9 1236.0,689.0 1237.0,687.0 1238.0,685.1 1239.0,683.2 1240.0,681.2 1241.0,679.3 1241.9,677.6 1242.0,677.2 1243.0,674.3 1244.0,671.3 1245.0,668.8 1246.0,666.4 1246.6,665.1 1247.0,665.0 1248.0,665.0 1249.0,664.9 1249.7,664.8 1250.0,663.1 1251.0,657.8 1252.0,652.5 1252.8,648.2 1253.0,646.8 1254.0,639.2 1255.0,631.6 1255.9,624.5 1256.0,624.4 1257.0,623.4 1258.0,622.4 1259.0,621.4 1259.1,621.3 1260.0,619.1 1261.0,616.8 1262.0,614.5 1262.2,614.1 1263.0,613.3 1264.0,612.3 1265.0,611.2 1265.3,610.9 1266.0,610.9 1267.0,612.2 1268.0,615.8 1268.4,617.3 1269.0,620.2 1270.0,625.4 1271.0,626.5 1271.6,625.6 1272.0,624.5 1273.0,621.9 1274.0,619.3 1274.7,617.5 1275.0,617.2 1276.0,616.2 1277.0,615.3 1277.8,614.6 1278.0,614.4 1279.0,612.8 1280.0,611.3 1280.9,610.0 1281.0,610.6 1282.0,619.8 1282.5,624.5 1283.0,627.6 1284.0,633.9 1285.0,640.5 1285.6,644.8 1286.0,644.9 1287.0,645.3 1288.0,645.8 1289.0,646.4 1290.0,647.1 1291.0,647.9 1291.2,648.2 1292.0,653.7 1293.0,667.4 1293.0,667.9 1294.0,703.6 1294.7,728.2 1295.0,730.4 1296.0,738.2 1296.5,741.8 1297.0,743.8 1298.0,747.5 1299.0,751.2 1299.9,754.6 1300.0,754.9 1301.0,759.2 1302.0,763.5 1303.0,767.7 1303.4,769.4 1304.0,771.4 1305.0,772.4 1306.0,773.4 1306.9,774.4 1307.0,774.4 1308.0,774.2 1309.0,774.0 1310.0,773.8 1310.3,773.8 1311.0,773.7 1312.0,773.6 1313.0,773.5 1313.8,773.4 1314.0,773.4 1315.0,773.4 1315.6,773.3 1316.0,774.1 1317.0,775.9 1318.0,777.9 1318.3,778.5 1319.0,782.8 1320.0,785.3 1320.8,787.2 1321.0,787.2 1322.0,787.2 1323.0,787.2 1324.0,787.2 1324.2,787.2 1325.0,784.2 1326.0,780.2 1326.7,778.6 1327.0,775.6 1328.0,766.4 1329.0,757.4 1329.4,753.4 1330.0,751.0 1331.0,746.8 1332.0,742.7 1332.9,738.9 1333.0,738.6 1334.0,735.2 1335.0,731.9 1336.0,728.6 1336.4,727.3 1337.0,726.9 1338.0,722.1 1339.0,712.4 1339.9,703.9 1340.0,703.6 1341.0,701.6 1342.0,699.5 1343.0,697.5 1343.3,696.8 1344.0,697.3 1345.0,698.0 1346.0,698.7 1346.8,699.3 1347.0,698.4 1348.0,694.2 1349.0,689.9 1349.6,687.4 1350.0,684.9 1351.0,679.1 1352.0,673.2 1352.0,673.1 1353.0,667.3 1354.0,661.4 1354.4,658.8 1355.0,656.9 1356.0,685.3 1357.0,692.0 1357.2,690.6 1358.0,692.6 1359.0,695.1 1360.0,697.8 1360.7,699.8 1361.0,700.1 1362.0,701.3 1363.0,702.6 1363.5,703.2 1364.0,701.8 1365.0,699.2 1366.0,696.5 1367.0,693.9 1367.6,692.2 1368.0,691.3 1369.0,688.6 1370.0,686.0 1371.0,683.3 1371.1,683.1 1372.0,690.9 1373.0,699.6 1374.0,708.3 1374.6,713.4 1375.0,715.1 1376.0,713.2 1377.0,711.3 1378.0,709.3 1378.1,709.2 1379.0,711.0 1380.0,712.8 1381.0,714.7 1381.5,715.7 1382.0,716.9 1383.0,719.5 1384.0,722.2 1385.0,724.8 1386.0,727.2 1387.0,729.6 1388.0,732.1 1388.5,733.2 1389.0,732.5 1390.0,731.0 1391.0,729.6 1391.9,728.2 1392.0,728.3 1393.0,729.8 1394.0,731.4 1395.0,733.0 1396.0,734.6 1397.0,736.2 1397.2,736.4 1398.0,739.2 1399.0,742.5 1400.0,745.7 1400.6,747.8 1401.0,748.6 1402.0,750.9 1403.0,753.2 1404.0,755.5 1404.1,755.7 1405.0,757.8 1406.0,759.3 1407.0,759.3 1407.6,759.3 1408.0,759.0 1409.0,758.2 1410.0,757.5 1411.0,756.8 1412.0,756.1 1412.8,755.6 1413.0,755.5 1414.0,755.2 1415.0,754.9 1416.0,754.5 1417.0,754.2 1418.0,753.9 1418.0,754.0 1418.1,754.8 1419.0,745.9 1420.0,735.7 1420.6,729.3 1421.0,729.1 1422.0,728.3 1423.0,727.6 1423.5,727.3 1424.0,727.9 1425.0,729.1 1426.0,730.3 1427.0,731.5 1427.0,731.5 1428.0,732.1 1429.0,732.7 1430.0,733.4 1430.6,733.7 1431.0,733.0 1432.0,731.1 1433.0,729.3 1434.0,727.4 1434.1,727.2 1435.0,728.7 1436.0,730.6 1437.0,732.4 1437.7,733.7 1438.0,734.3 1439.0,736.2 1440.0,738.0 1441.0,739.9 1441.3,740.4 1442.0,742.0 1443.0,744.2 1444.0,746.4 1444.8,748.2 1445.0,747.6 1446.0,744.2 1447.0,740.8 1447.7,738.5 1448.0,739.9 1449.0,743.9 1450.0,747.8 1450.2,748.5 1451.0,749.1 1452.0,749.8 1453.0,750.5 1453.7,751.0 1454.0,750.2 1455.0,747.1 1456.0,744.0 1457.0,740.9 1457.3,740.0 1458.0,738.7 1459.0,736.8 1460.0,735.0 1460.8,733.4 1461.0,733.8 1462.0,736.1 1463.0,738.5 1464.0,740.9 1464.4,741.8 1465.0,740.5 1466.0,738.3 1467.0,736.8 1468.0,735.6 1468.0,735.5 1469.0,733.2 1470.0,730.9 1471.0,728.6 1471.5,727.4 1472.0,727.9 1473.0,728.8 1474.0,729.8 1475.0,730.8 1475.1,730.8 1476.0,735.0 1477.0,739.5 1478.0,744.0 1478.6,746.8 1479.0,747.6 1480.0,749.9 1481.0,752.1 1482.0,754.3 1482.2,754.7 1483.0,754.2 1484.0,753.5 1485.0,752.8 1485.7,752.3 1486.0,753.3 1487.0,757.2 1488.0,761.0 1488.2,761.8 1489.0,760.6 1490.0,759.1 1491.0,757.5 1492.0,756.0 1492.9,754.6 1493.0,754.2 1494.0,751.1 1495.0,748.1 1496.0,745.0 1497.0,741.9 1498.0,738.8 1498.2,738.2 1499.0,735.8 1500.0,732.7 1501.0,729.6 1502.0,726.6 1503.0,723.8 1503.5,722.3 1504.0,721.1 1505.0,718.3 1506.0,715.6 1507.0,712.8 1508.0,710.1 1508.2,709.7 1509.0,707.1 1510.0,704.0 1511.0,700.9 1512.0,697.8 1512.2,697.2 1513.0,693.2 1514.0,688.4 1515.0,683.6 1515.3,682.1 1516.0,680.9 1517.0,679.3 1518.0,677.6 1518.4,676.9 1519.0,677.4 1520.0,678.3 1521.0,679.2 1521.6,679.6 1522.0,680.0 1523.0,680.9 1524.0,681.1 1524.7,681.2 1525.0,680.2 1526.0,677.2 1527.0,674.1 1527.8,671.7 1528.0,672.4 1529.0,676.3 1530.0,680.2 1530.9,683.9 1531.0,684.0 1532.0,685.4 1533.0,686.9 1534.0,688.3 1534.1,688.4 1535.0,690.3 1536.0,692.4 1537.0,694.5 1537.2,694.9 1538.0,699.6 1539.0,705.5 1540.0,711.4 1541.0,717.3 1542.0,723.2 1543.0,729.2 1544.0,735.1 1544.5,737.9 1545.0,738.5 1546.0,739.7 1547.0,740.8 1548.0,742.0 1548.0,742.0 1549.0,742.8 1550.0,743.7 1551.0,744.5 1551.6,745.0 1552.0,744.3 1553.0,742.5 1554.0,740.7 1555.0,738.8 1555.1,738.6 1556.0,739.6 1557.0,740.9 1558.0,742.2 1558.7,743.0 1559.0,742.9 1560.0,742.5 1561.0,742.0 1562.0,741.6 1562.3,741.5 1563.0,742.6 1564.0,744.1 1565.0,745.5 1565.8,746.7 1566.0,745.9 1567.0,741.6 1568.0,737.3 1569.0,733.0 1569.4,731.4 1570.0,729.4 1571.0,726.2 1572.0,723.1 1572.9,720.1 1573.0,720.0 1574.0,718.6 1575.0,717.2 1576.0,715.8 1576.5,715.1 1577.0,715.2 1578.0,715.5 1579.0,715.8 1580.0,716.1 1581.0,716.3 1581.8,716.6 1582.0,717.0 1583.0,719.5 1584.0,722.0 1585.0,724.5 1585.4,725.5 1586.0,724.8 1587.0,723.8 1588.0,722.7 1589.0,721.7 1589.0,721.7 1590.0,720.9 1591.0,720.2 1592.0,719.4 1592.5,719.0 1593.0,719.2 1594.0,719.4 1595.0,719.6 1596.0,719.9 1596.1,719.9 1597.0,722.0 1598.0,724.3 1599.0,726.5 1599.6,727.9 1600.0,729.3 1601.0,732.9 1602.0,736.9 1603.0,741.2 1603.2,742.0 1604.0,729.1 1604.3,724.2 1605.0,720.9 1606.0,716.2 1607.0,711.5 1607.1,711.1 1608.0,710.1 1609.0,708.9 1609.5,708.3 1610.0,708.5 1611.0,709.0 1612.0,709.4 1613.0,711.0 1613.0,711.0 1614.0,712.4 1615.0,713.8 1616.0,715.2 1616.5,715.8 1617.0,716.8 1618.0,718.5 1619.0,720.2 1619.9,721.8 1620.0,721.8 1621.0,721.5 1622.0,721.2 1623.0,720.9 1623.4,720.8 1624.0,721.2 1625.0,722.0 1626.0,722.7 1626.9,723.3 1627.0,723.5 1628.0,724.8 1629.0,727.3 1630.0,730.9 1630.3,731.0 1631.0,731.7 1632.0,732.7 1633.0,733.8 1633.8,734.7 1634.0,736.2 1635.0,744.8 1635.6,749.5 1636.0,753.4 1637.0,762.0 1637.3,764.6 1638.0,765.5 1639.0,766.8 1640.0,768.0 1640.8,769.0 1641.0,769.4 1642.0,770.7 1643.0,772.0 1644.0,773.4 1644.2,774.1 1645.0,777.3 1646.0,781.4 1647.0,785.4 1647.7,788.3 1648.0,789.4 1649.0,793.4 1650.0,795.7 1651.0,796.8 1651.2,796.9 1652.0,797.3 1653.0,797.7 1654.0,798.1 1654.7,798.3 1655.0,798.6 1656.0,799.3 1657.0,800.0 1658.0,800.8 1658.1,800.9 1659.0,801.2 1660.0,801.6 1661.0,802.1 1661.6,802.3 1662.0,802.6 1663.0,803.4 1664.0,804.1 1665.0,804.9 1665.1,804.9 1666.0,805.3 1667.0,805.7 1668.0,806.2 1668.5,806.4 1669.0,807.0 1670.0,808.2 1671.0,809.0 1671.0,809.0 1672.0,806.6 1673.0,804.2 1673.8,802.4 1674.0,801.7 1675.0,799.0 1676.0,796.2 1677.0,793.5 1677.2,792.9 1678.0,791.6 1679.0,789.9 1680.0,788.2 1680.7,787.1 1681.0,786.9 1682.0,786.2 1683.0,785.5 1684.0,784.8 1684.2,784.7 1685.0,783.4 1686.0,781.9 1687.0,780.7 1687.6,781.0 1688.0,781.3 1689.0,782.0 1690.0,782.8 1691.0,783.6 1691.1,783.7 1692.0,783.8 1693.0,783.9 1694.0,784.9 1694.6,785.6 1695.0,786.0 1696.0,787.1 1697.0,788.1 1698.0,789.2 1698.1,789.3 1699.0,790.9 1700.0,792.6 1701.0,794.3 1701.5,795.3 1702.0,795.8 1703.0,797.0 1704.0,798.2 1704.3,798.6 1705.0,801.3 1706.0,805.4 1706.7,803.2 1707.0,802.1 1708.0,798.2 1709.0,794.2 1710.0,790.2 1710.2,789.3 1711.0,785.1 1712.0,779.7 1713.0,774.3 1713.7,770.6 1714.0,769.1 1715.0,764.2 1716.0,759.3 1717.0,754.4 1717.2,753.6 1718.0,751.6 1719.0,749.2 1720.0,746.8 1720.6,745.3 1721.0,744.7 1722.0,742.9 1723.0,741.2 1724.0,739.4 1724.1,739.2 1725.0,737.6 1726.0,736.5 1727.0,738.7 1727.6,740.0 1728.0,740.6 1729.0,741.0 1730.0,741.3 1731.0,741.7 1732.0,742.1 1732.1,742.2 1733.0,745.1 1734.0,748.4 1735.0,751.6 1736.0,754.8 1736.4,756.2 1737.0,759.1 1738.0,764.1 1739.0,769.2 1740.0,774.3 1740.8,778.1 1741.0,779.1 1742.0,783.5 1743.0,787.8 1744.0,792.1 1745.0,796.4 1745.1,796.9 1746.0,799.0 1747.0,801.5 1747.3,802.2 1748.0,800.3 1749.0,797.7 1749.5,796.5 1750.0,795.8 1751.0,794.4 1752.0,793.1 1753.0,791.7 1753.8,790.6 1754.0,790.5 1755.0,789.8 1756.0,789.0 1757.0,788.3 1758.0,787.6 1758.1,787.5 1759.0,787.1 1760.0,786.7 1761.0,786.3 1762.0,785.9 1762.5,785.7 1763.0,785.5 1764.0,785.0 1765.0,784.6 1766.0,784.2 1766.8,783.9 1767.0,783.7 1768.0,782.6 1769.0,781.6 1770.0,780.5 1771.0,779.4 1771.2,779.3 1772.0,778.9 1773.0,778.5 1774.0,778.1 1775.0,777.6 1775.5,777.4 1776.0,776.6 1777.0,774.8 1778.0,773.1 1779.0,771.4 1779.8,769.9 1780.0,769.7 1781.0,768.6 1782.0,767.5 1783.0,766.4 1784.0,765.3 1784.2,765.1 1785.0,761.5 1786.0,757.1 1787.0,752.6 1788.0,748.2 1788.5,745.8 1789.0,744.1 1790.0,740.6 1791.0,737.1 1792.0,733.6 1792.9,730.5 1793.0,730.4 1794.0,729.6 1795.0,728.7 1796.0,727.9 1797.0,727.0 1797.2,726.8 1798.0,726.2 1799.0,725.3 1800.0,724.4 1801.0,723.6 1801.6,723.1 1802.0,723.4 1803.0,724.2 1804.0,725.0 1805.0,725.8 1805.9,726.5 1806.0,726.7 1807.0,729.2 1808.0,731.6 1809.0,734.1 1810.0,736.5 1810.2,737.1 1811.0,738.6 1812.0,740.5 1813.0,742.5 1814.0,744.3 1814.0,744.4 1815.0,748.5 1815.8,751.6 1816.0,752.6 1817.0,757.2 1817.6,760.1 1818.0,761.4 1818.8,764.4 1819.0,764.6 1820.0,765.7 1820.7,766.5 1821.0,766.0 1822.0,764.5 1822.5,763.8 1823.0,765.6 1824.0,767.9 1824.3,768.4 1825.0,769.5 1826.0,770.9 1826.7,772.0 1827.0,771.8 1828.0,771.1 1829.0,770.4 1829.2,770.2 1830.0,770.2 1831.0,770.1 1831.6,770.0 1832.0,770.9 1833.0,772.9 1833.4,773.7 1834.0,773.2 1835.0,772.5 1836.0,774.5 1836.4,775.3 1837.0,776.5 1838.0,778.4 1838.5,779.4 1839.0,779.9 1840.0,780.7 1840.5,781.2 1841.0,781.1 1841.9,780.9 1842.0,780.8 1843.0,779.7 1844.0,778.5 1845.0,776.0 1846.0,774.6 1846.1,774.5 1847.0,774.1 1848.0,773.6 1848.5,773.4 1849.0,773.8 1850.0,774.6 1850.3,774.8 1851.0,778.5 1851.3,780.0 1852.0,786.1 1852.4,789.6 1853.0,788.6 1853.4,788.0 1854.0,786.5 1855.0,784.0 1855.1,783.8 1856.0,782.4 1857.0,780.8 1857.6,779.9 1858.0,779.8 1859.0,779.5 1860.0,779.2 1861.0,779.0 1862.0,779.5 1863.0,780.1 1863.5,780.4 1864.0,782.0 1864.5,783.6 1865.0,782.7 1866.0,781.0 1866.3,780.4 1867.0,781.0 1868.0,781.5 1869.0,784.2 1869.7,786.1 1870.0,786.4 1871.0,787.2 1871.5,787.7 1872.0,787.9 1873.0,788.2 1873.2,788.3 1874.0,789.0 1875.0,789.9 1876.0,789.3 1877.0,788.6 1878.0,788.0 1879.0,787.4 1880.0,786.8 1881.0,786.2 1881.2,786.1 1882.0,786.3 1883.0,786.6 1883.3,786.7 1884.0,789.8 1885.0,795.0 1885.4,797.1 1886.0,800.1 1887.0,805.1 1888.0,807.0 1889.0,808.9 1890.0,811.3 1890.6,812.7 1891.0,812.6 1891.7,812.3 1892.0,813.0 1893.0,815.4 1893.8,817.2 1894.0,818.0 1895.0,820.8 1896.0,823.7 1896.4,824.8 1897.0,823.1 1897.4,821.8 1898.0,821.8 1898.4,821.8 L1898.4,965.0 Z" fill="#ff6dfa"/>
<path d="M101.0,965.0 L101.0,964.5 102.0,964.5 103.0,964.5 104.0,964.5 105.0,964.5 106.0,964.5 107.0,964.5 108.0,964.5 109.0,964.5 110.0,964.4 111.0,964.4 112.0,964.4 113.0,964.4 114.0,964.4 115.0,964.4 116.0,964.4 117.0,964.4 117.5,964.4 118.0,964.4 119.0,964.5 120.0,964.5 121.0,964.5 122.0,964.5 123.0,964.5 124.0,964.4 125.0,964.4 126.0,964.4 127.0,964.4 128.0,964.4 129.0,964.5 130.0,964.5 131.0,964.5 132.0,964.5 132.5,964.5 133.0,964.5 134.0,964.5 135.0,964.5 136.0,964.5 137.0,964.5 138.0,964.4 138.8,964.4 139.0,964.4 140.0,964.5 141.0,964.5 142.0,964.5 142.5,964.5 143.0,964.5 144.0,964.5 145.0,964.5 146.0,964.5 147.0,964.5 148.0,964.5 148.8,964.5 149.0,964.5 150.0,964.5 151.0,964.5 152.0,964.5 152.5,964.5 153.0,964.5 154.0,964.5 155.0,964.5 156.0,964.5 157.0,964.5 158.0,964.5 159.0,964.5 160.0,964.5 160.5,964.5 161.0,964.5 162.0,964.5 163.0,964.5 164.0,964.5 165.0,964.5 166.0,964.5 167.0,964.5 168.0,964.5 169.0,964.5 170.0,964.5 171.0,964.5 172.0,964.5 173.0,964.5 174.0,964.5 175.0,964.5 176.0,964.5 177.0,964.5 178.0,964.5 179.0,964.5 180.0,964.5 181.0,964.5 181.2,964.5 182.0,964.5 183.0,964.5 184.0,964.5 185.0,964.5 186.0,964.5 186.2,964.5 187.0,964.5 188.0,964.5 189.0,964.5 190.0,964.5 191.0,964.5 191.2,964.5 192.0,964.5 193.0,964.5 194.0,964.5 195.0,964.5 196.0,964.5 197.0,964.5 197.5,964.5 198.0,964.5 199.0,964.5 200.0,964.5 201.0,964.5 202.0,964.5 203.0,964.5 204.0,964.5 205.0,964.5 206.0,964.5 207.0,964.5 208.0,964.5 209.0,964.5 210.0,964.4 211.0,964.4 212.0,964.4 212.5,964.4 213.0,964.4 214.0,964.4 215.0,964.3 216.0,964.3 217.0,964.3 218.0,964.3 219.0,964.2 220.0,964.2 221.0,964.2 222.0,964.2 223.0,964.1 224.0,964.1 225.0,964.1 226.0,964.0 227.0,964.0 227.5,964.0 228.0,963.9 229.0,963.7 230.0,963.4 231.0,963.2 231.2,963.1 232.0,962.9 233.0,962.6 234.0,962.3 235.0,961.9 236.0,961.6 237.0,961.2 238.0,960.8 238.8,960.5 239.0,960.4 240.0,960.1 241.0,959.7 242.0,959.4 243.0,959.0 244.0,958.6 245.0,958.2 246.0,958.1 247.0,957.9 248.0,957.7 249.0,957.5 250.0,957.3 251.0,957.1 252.0,956.9 253.0,956.7 254.0,956.5 255.0,956.3 256.0,956.1 257.0,955.9 257.5,955.8 258.0,955.6 259.0,955.4 260.0,955.2 261.0,955.0 262.0,954.8 263.0,954.9 264.0,954.9 265.0,954.9 266.0,955.1 267.0,955.3 268.0,953.8 268.8,952.7 269.0,952.6 270.0,952.0 271.0,951.3 271.2,951.2 272.0,951.0 273.0,950.7 274.0,950.5 275.0,950.2 276.0,950.0 277.0,949.8 278.0,949.5 279.0,949.3 280.0,949.0 281.0,948.8 281.2,948.7 282.0,948.4 283.0,948.0 284.0,947.6 285.0,947.2 286.0,946.8 287.0,946.4 288.0,946.0 289.0,946.0 290.0,945.9 291.0,945.9 291.2,945.9 292.0,945.8 293.0,945.4 294.0,944.8 295.0,944.1 296.0,943.5 296.2,943.3 297.0,943.6 298.0,944.0 298.8,944.4 299.0,944.7 300.0,945.8 300.5,946.4 301.0,946.5 302.0,946.5 303.0,946.6 304.0,946.7 305.0,946.8 306.0,946.8 307.0,946.8 308.0,946.9 309.0,946.9 310.0,947.0 311.0,947.0 312.0,947.0 313.0,947.1 314.0,947.2 315.0,947.4 316.0,947.6 317.0,947.7 318.0,947.9 319.0,948.1 320.0,948.2 321.0,948.3 322.0,948.4 323.0,948.5 324.0,948.5 325.0,948.6 326.0,948.6 327.0,948.5 328.0,948.5 329.0,948.5 330.0,948.4 331.0,948.4 331.2,948.4 332.0,948.3 333.0,948.2 334.0,948.1 335.0,948.0 336.0,948.0 337.0,947.9 337.5,947.8 338.0,947.9 339.0,947.9 340.0,947.9 341.0,947.9 342.0,947.9 343.0,948.0 344.0,948.0 345.0,948.0 346.0,948.0 347.0,948.0 348.0,948.1 349.0,948.1 350.0,948.1 351.0,948.1 352.0,948.1 352.5,948.1 353.0,948.2 354.0,948.2 355.0,948.2 356.0,948.2 357.0,948.2 357.5,948.2 358.0,948.2 359.0,948.2 360.0,948.2 361.0,948.2 362.0,948.2 362.5,948.1 363.0,948.2 364.0,948.2 365.0,948.2 366.0,948.2 367.0,948.2 368.0,948.2 369.0,946.4 370.0,944.6 371.0,943.6 372.0,942.5 372.5,942.0 373.0,941.9 374.0,941.7 375.0,941.5 376.0,941.3 377.0,941.1 377.5,941.0 378.0,940.9 379.0,940.5 380.0,940.2 381.0,939.9 382.0,939.6 382.5,939.5 383.0,939.3 384.0,938.8 385.0,938.4 386.0,937.9 387.0,937.5 388.0,937.0 388.8,936.7 389.0,936.4 390.0,935.4 391.0,934.4 392.0,933.4 392.5,932.9 393.0,931.8 394.0,929.7 394.5,928.6 395.0,928.2 396.0,927.9 397.0,927.5 397.5,927.4 398.0,927.9 399.0,928.9 400.0,929.8 401.0,930.1 402.0,930.4 403.0,930.6 404.0,930.9 405.0,931.1 406.0,931.5 407.0,931.8 408.0,932.1 409.0,932.3 410.0,932.4 411.0,932.6 412.0,932.7 412.5,932.8 413.0,933.1 414.0,933.7 415.0,934.3 416.0,934.9 417.0,935.5 417.5,935.8 418.0,936.0 419.0,936.4 420.0,936.8 421.0,937.3 422.0,937.7 422.5,937.9 423.0,938.1 424.0,938.4 425.0,938.7 426.0,939.0 427.0,939.3 427.5,939.5 428.0,939.8 429.0,940.4 430.0,941.0 431.0,941.5 431.2,941.7 432.0,942.0 433.0,942.5 434.0,942.9 435.0,943.4 436.0,943.4 437.0,943.4 438.0,943.5 439.0,943.5 440.0,943.5 441.0,943.6 441.2,943.6 442.0,943.8 443.0,944.0 444.0,944.3 445.0,944.5 446.0,944.6 447.0,944.7 448.0,944.8 449.0,944.9 450.0,945.0 451.0,945.1 452.0,945.2 453.0,945.3 454.0,945.4 455.0,945.5 456.0,945.5 457.0,945.6 458.0,945.7 459.0,945.8 460.0,945.9 461.0,946.0 462.0,946.0 462.5,946.1 463.0,946.2 464.0,946.3 465.0,946.4 466.0,946.5 467.0,946.6 468.0,946.8 469.0,946.9 470.0,947.0 471.0,947.2 472.0,947.4 473.0,947.6 474.0,947.8 475.0,948.0 476.0,948.2 477.0,948.5 477.5,948.6 478.0,948.6 479.0,948.7 480.0,948.8 481.0,948.9 482.0,949.0 483.0,949.1 484.0,949.2 485.0,949.3 486.0,949.3 487.0,949.3 488.0,949.3 489.0,949.4 490.0,949.4 491.0,949.4 492.0,949.4 492.5,949.4 493.0,949.5 494.0,949.5 495.0,949.5 496.0,949.5 496.2,949.5 497.0,949.7 498.0,950.1 499.0,950.4 500.0,950.7 501.0,950.8 502.0,950.8 503.0,950.9 504.0,950.9 505.0,951.0 506.0,951.0 507.0,951.1 507.5,951.1 508.0,951.2 509.0,951.2 510.0,951.3 511.0,951.3 512.0,951.4 513.0,951.4 514.0,951.5 515.0,951.5 516.0,951.6 517.0,951.7 518.0,951.8 519.0,951.9 520.0,952.0 521.0,952.1 522.0,952.2 523.0,952.4 524.0,952.5 525.0,952.6 526.0,952.7 527.0,952.9 527.5,952.9 528.0,952.9 529.0,953.0 530.0,953.0 531.0,953.1 532.0,953.1 533.0,953.2 534.0,953.2 535.0,953.3 536.0,953.4 537.0,953.5 538.0,953.7 539.0,953.8 540.0,953.9 541.0,954.1 542.0,954.2 542.5,954.3 543.0,954.3 544.0,954.4 545.0,954.5 546.0,954.5 547.0,954.5 548.0,954.5 549.0,954.5 550.0,954.5 551.0,954.5 552.0,954.5 553.0,954.5 554.0,954.5 555.0,954.5 556.0,953.6 557.0,952.7 557.5,952.3 558.0,951.7 559.0,950.6 560.0,949.5 561.0,948.9 562.0,948.2 563.0,947.6 563.8,947.1 564.0,947.0 565.0,946.4 566.0,945.7 567.0,945.1 567.5,944.8 568.0,944.3 569.0,943.1 570.0,942.0 571.0,941.1 572.0,940.3 572.5,939.8 573.0,939.6 574.0,939.1 575.0,938.7 576.0,938.2 577.0,937.8 577.5,937.5 578.0,937.3 579.0,937.0 580.0,936.6 581.0,936.2 582.0,935.9 582.5,935.7 583.0,935.7 584.0,935.8 585.0,935.8 586.0,936.5 587.0,937.2 587.5,937.5 588.0,937.8 589.0,938.4 590.0,939.0 591.0,939.1 592.0,939.2 593.0,939.3 594.0,939.4 595.0,939.5 596.0,940.0 597.0,940.6 597.5,940.9 598.0,941.2 599.0,942.0 600.0,942.8 601.0,942.6 602.0,942.5 603.0,942.3 604.0,942.2 605.0,942.0 606.0,942.3 607.0,942.5 608.0,942.8 609.0,943.0 610.0,943.3 611.0,943.6 612.0,943.9 613.0,944.2 614.0,944.5 615.0,944.8 616.0,945.0 617.0,945.2 618.0,945.4 619.0,945.6 620.0,945.8 621.0,945.8 622.0,945.9 623.0,946.0 624.0,946.1 625.0,946.1 626.0,946.3 627.0,946.5 628.0,946.7 629.0,946.9 630.0,947.1 631.0,947.4 632.0,947.7 633.0,948.0 633.8,948.2 634.0,948.2 635.0,948.2 636.0,948.5 636.2,948.5 637.0,947.9 638.0,947.2 638.8,946.6 639.0,946.5 640.0,946.0 641.0,945.6 642.0,945.1 642.5,944.9 643.0,944.9 644.0,944.8 645.0,944.7 646.0,944.6 647.0,944.5 647.5,944.5 648.0,944.6 649.0,944.7 650.0,944.8 651.0,945.0 652.0,945.1 652.5,945.2 653.0,945.2 654.0,945.3 655.0,945.3 656.0,945.4 657.0,945.4 658.0,945.5 659.0,945.5 660.0,945.6 661.0,945.6 662.0,945.6 663.0,945.7 664.0,945.7 665.0,945.8 666.0,946.1 667.0,946.4 668.0,946.8 668.8,947.0 669.0,947.2 670.0,947.9 671.0,948.6 672.0,949.3 672.5,949.6 673.0,949.6 674.0,949.6 675.0,949.5 676.0,949.6 677.0,949.8 677.5,949.8 678.0,949.8 679.0,949.8 680.0,949.8 681.0,949.8 682.0,949.8 683.0,949.7 684.0,949.7 685.0,949.7 686.0,949.8 687.0,949.9 688.0,949.9 689.0,950.0 690.0,950.1 691.0,950.2 692.0,950.4 693.0,950.5 694.0,950.6 695.0,950.8 696.0,950.7 697.0,950.6 698.0,950.5 699.0,950.4 700.0,950.4 701.0,950.5 702.0,950.6 703.0,950.7 704.0,950.8 705.0,950.9 706.0,950.9 707.0,951.0 708.0,951.0 709.0,951.1 710.0,951.1 711.0,951.2 712.0,951.3 713.0,951.4 713.8,951.5 714.0,951.5 715.0,951.3 716.0,951.1 717.0,950.9 717.5,950.9 718.0,950.8 719.0,950.7 720.0,950.5 721.0,950.4 722.0,950.3 722.5,950.2 723.0,950.2 724.0,950.1 725.0,950.0 726.0,950.0 727.0,949.9 727.5,949.9 728.0,949.8 729.0,949.8 730.0,949.7 731.0,949.7 732.0,949.6 733.0,949.6 734.0,949.5 735.0,949.5 736.0,949.2 737.0,949.0 738.0,948.8 738.8,948.6 739.0,948.5 740.0,948.0 741.0,947.6 742.0,947.2 742.5,947.0 743.0,946.8 744.0,946.5 745.0,946.2 746.0,945.9 747.0,945.5 747.5,945.4 748.0,945.2 749.0,944.8 750.0,944.4 751.0,944.0 752.0,943.6 752.5,943.4 753.0,943.0 754.0,942.2 755.0,941.5 756.0,940.7 757.0,939.9 757.5,939.5 758.0,939.2 759.0,938.4 760.0,937.7 761.0,937.0 762.0,936.3 762.5,936.0 763.0,935.6 764.0,935.0 765.0,934.3 766.0,933.6 767.0,933.0 767.5,932.6 768.0,932.5 769.0,932.3 770.0,932.1 771.0,931.9 771.2,931.9 772.0,930.5 773.0,928.6 773.8,927.2 774.0,927.0 775.0,926.1 776.0,925.1 777.0,924.2 777.5,923.8 778.0,923.4 779.0,922.8 780.0,922.1 781.0,921.4 781.2,921.3 782.0,921.4 783.0,921.6 784.0,921.8 785.0,922.0 786.0,921.8 787.0,921.7 788.0,921.5 788.8,921.4 789.0,921.4 790.0,921.3 791.0,921.2 792.0,921.1 793.0,921.0 794.0,921.0 795.0,920.9 796.0,919.3 797.0,917.8 798.0,916.3 798.8,915.1 799.0,915.0 800.0,914.5 801.0,914.4 802.0,914.3 803.0,914.2 803.8,914.2 804.0,914.0 805.0,913.3 806.0,912.6 807.0,911.9 807.5,911.5 808.0,911.1 809.0,910.3 810.0,909.5 811.0,908.7 811.2,908.4 812.0,907.2 813.0,905.5 814.0,903.7 815.0,902.0 816.0,899.6 817.0,897.2 817.5,896.0 818.0,895.9 819.0,895.7 820.0,895.5 821.0,895.3 822.0,895.1 822.5,895.0 823.0,894.7 824.0,894.1 825.0,893.5 826.0,892.9 827.0,892.3 827.5,892.0 828.0,892.6 829.0,893.8 830.0,894.9 831.0,896.1 831.2,896.4 832.0,897.0 833.0,897.8 834.0,898.6 835.0,899.4 836.0,900.4 837.0,901.4 838.0,902.5 839.0,903.5 840.0,904.5 841.0,905.2 842.0,906.0 843.0,906.7 844.0,907.4 845.0,908.2 846.0,910.5 847.0,912.9 847.5,914.1 848.0,914.1 849.0,914.2 850.0,914.3 851.0,914.4 852.0,914.5 852.5,914.5 853.0,915.3 854.0,916.8 855.0,918.4 856.0,919.6 857.0,920.9 857.5,922.0 858.0,920.9 859.0,918.8 860.0,916.6 861.0,914.7 862.0,912.8 863.0,910.9 863.8,909.5 864.0,908.7 865.0,905.5 866.0,902.2 867.0,898.8 867.5,897.1 868.0,895.9 869.0,893.4 870.0,890.9 871.0,888.9 872.0,888.3 872.5,888.0 873.0,887.9 874.0,887.7 875.0,887.5 876.0,887.3 877.0,887.1 877.5,887.0 878.0,886.3 879.0,885.0 880.0,883.7 881.0,882.4 882.0,881.2 883.0,880.0 883.4,879.6 884.0,878.7 885.0,876.9 886.0,875.2 886.9,873.7 887.0,873.6 888.0,873.1 888.6,872.7 889.0,873.4 890.0,875.2 891.0,877.0 891.4,877.7 892.0,877.2 893.0,876.4 893.8,875.7 894.0,875.4 895.0,873.6 896.0,871.9 897.0,870.1 897.3,869.6 898.0,867.5 899.0,864.6 900.0,861.7 900.8,859.5 901.0,858.4 902.0,854.1 903.0,849.8 904.0,845.7 904.2,844.7 905.0,841.0 906.0,836.1 907.0,831.2 907.7,827.7 908.0,827.5 909.0,826.6 910.0,825.7 911.0,824.9 911.2,824.7 912.0,820.7 913.0,815.6 913.6,812.5 914.0,810.2 915.0,804.3 915.7,800.1 916.0,799.6 917.0,797.8 918.0,796.0 919.0,794.2 919.2,793.9 920.0,792.6 921.0,791.1 922.0,789.6 922.6,788.0 923.0,788.5 924.0,789.9 925.0,791.3 925.1,791.4 926.0,792.6 927.0,793.9 928.0,795.2 928.5,796.0 929.0,797.0 930.0,799.1 931.0,801.2 932.0,803.2 932.0,803.3 933.0,805.9 934.0,808.5 935.0,811.1 935.5,812.3 936.0,813.5 937.0,815.8 938.0,818.1 939.0,818.6 939.0,818.6 940.0,820.0 941.0,821.4 941.4,822.0 942.0,825.8 943.0,832.0 943.1,832.8 944.0,834.3 945.0,836.0 945.9,837.6 946.0,837.6 947.0,837.7 948.0,838.1 949.0,840.2 949.4,840.9 950.0,839.9 951.0,838.4 951.1,838.2 952.0,837.6 952.8,837.1 953.0,837.3 954.0,838.9 955.0,840.5 956.0,842.1 956.3,842.6 957.0,843.5 958.0,844.3 959.0,844.7 959.8,845.0 960.0,844.9 961.0,846.5 962.0,848.0 962.6,849.0 963.0,849.6 964.0,851.1 965.0,852.7 965.2,853.0 966.0,853.3 967.0,853.7 967.8,854.2 968.0,853.8 969.0,852.0 970.0,850.3 970.4,849.5 971.0,848.1 972.0,845.7 973.0,843.4 973.0,843.3 974.0,841.6 975.0,839.8 975.6,838.7 976.0,838.3 977.0,837.3 978.0,835.9 978.2,835.6 979.0,835.7 979.5,835.8 980.0,836.9 981.0,839.1 982.0,841.3 982.1,841.6 983.0,841.0 984.0,840.5 984.7,840.2 985.0,839.7 986.0,838.0 987.0,836.3 988.0,834.6 988.6,833.5 989.0,832.7 990.0,830.5 991.0,828.4 992.0,826.2 992.5,825.1 993.0,824.7 994.0,824.1 995.0,823.6 996.0,823.0 996.4,822.7 997.0,822.5 998.0,822.2 999.0,821.8 1000.0,821.5 1000.3,821.4 1001.0,820.7 1002.0,819.7 1003.0,818.7 1003.0,818.2 1004.0,808.2 1004.3,805.7 1005.0,805.6 1006.0,805.0 1006.9,803.7 1007.0,803.5 1008.0,802.1 1009.0,800.6 1010.0,799.1 1010.8,798.0 1011.0,797.6 1012.0,795.8 1013.0,794.0 1013.4,793.4 1014.0,791.8 1015.0,789.4 1016.0,787.0 1016.0,787.0 1017.0,786.7 1018.0,786.4 1018.6,786.3 1019.0,786.2 1020.0,785.9 1021.0,785.7 1021.2,785.6 1022.0,783.9 1023.0,781.7 1023.8,780.1 1024.0,779.8 1025.0,778.8 1026.0,777.7 1026.4,777.3 1027.0,778.2 1028.0,779.7 1029.0,780.5 1029.0,780.6 1030.0,783.7 1031.0,787.0 1031.6,788.9 1032.0,791.1 1033.0,796.5 1034.0,801.9 1034.2,802.9 1035.0,801.8 1036.0,800.7 1036.8,799.8 1037.0,799.7 1038.0,798.9 1039.0,798.1 1039.4,797.8 1040.0,797.1 1041.0,796.0 1042.0,794.9 1043.0,793.7 1043.3,793.4 1044.0,792.8 1045.0,792.4 1045.9,792.0 1046.0,791.6 1047.0,787.4 1048.0,783.1 1048.5,781.0 1049.0,780.5 1050.0,779.3 1051.0,778.2 1051.1,778.1 1052.0,778.3 1053.0,778.6 1053.7,778.8 1054.0,779.0 1055.0,779.6 1056.0,780.2 1056.3,780.4 1057.0,779.9 1058.0,779.3 1059.0,778.8 1060.0,778.3 1060.2,778.1 1061.0,778.1 1062.0,778.0 1063.0,777.9 1064.0,777.9 1064.1,777.9 1065.0,778.0 1066.0,778.2 1066.7,778.2 1067.0,778.0 1068.0,777.3 1069.0,776.6 1069.3,776.4 1070.0,777.6 1071.0,779.3 1071.9,780.9 1072.0,781.1 1073.0,785.0 1074.0,788.8 1074.5,790.9 1075.0,791.4 1076.0,792.4 1077.0,793.8 1077.1,794.0 1078.0,795.0 1079.0,796.1 1079.7,796.9 1080.0,797.2 1081.0,798.3 1082.0,799.4 1082.3,799.8 1083.0,800.8 1084.0,802.2 1084.9,803.6 1085.0,803.7 1086.0,804.8 1087.0,805.9 1087.5,806.5 1088.0,807.2 1089.0,808.6 1090.0,810.2 1090.2,810.4 1091.0,811.8 1092.0,813.4 1092.8,814.6 1093.0,815.0 1094.0,817.0 1095.0,818.9 1095.4,819.6 1096.0,821.2 1097.0,823.8 1098.0,826.3 1098.0,826.4 1099.0,828.7 1100.0,830.9 1100.6,832.1 1101.0,832.4 1102.0,832.7 1103.0,831.5 1103.2,831.7 1104.0,831.9 1105.0,832.2 1105.8,832.4 1106.0,832.3 1107.0,831.8 1108.0,831.4 1108.4,831.3 1109.0,830.1 1110.0,828.2 1111.0,826.4 1111.0,826.4 1112.0,824.1 1113.0,821.9 1113.6,820.6 1114.0,819.6 1115.0,817.3 1116.0,815.0 1116.2,814.6 1117.0,810.6 1118.0,815.0 1118.8,812.0 1119.0,810.7 1120.0,804.7 1121.0,798.6 1121.4,796.2 1122.0,794.6 1123.0,792.0 1124.0,789.5 1124.0,789.5 1125.0,786.8 1126.0,784.2 1126.6,782.6 1127.0,779.1 1128.0,771.1 1129.0,764.5 1129.2,763.2 1130.0,763.3 1131.0,763.4 1131.8,763.5 1132.0,763.5 1133.0,763.4 1134.0,763.2 1135.0,763.2 1135.7,763.1 1136.0,763.8 1137.0,761.4 1138.0,761.2 1138.3,761.4 1139.0,764.0 1139.6,766.3 1140.0,766.5 1141.0,767.0 1142.0,767.4 1142.2,767.5 1143.0,767.3 1144.0,767.0 1144.8,766.8 1145.0,767.0 1146.0,767.8 1147.0,768.6 1147.4,769.0 1148.0,770.4 1149.0,772.8 1150.0,775.3 1150.0,775.3 1151.0,779.7 1152.0,784.2 1152.6,787.1 1153.0,786.4 1154.0,784.7 1155.0,782.9 1155.2,782.5 1156.0,783.6 1157.0,785.1 1157.8,786.3 1158.0,787.1 1159.0,791.9 1160.0,796.8 1160.4,799.0 1161.0,798.5 1162.0,797.6 1163.0,797.5 1163.0,797.5 1164.0,797.4 1165.0,797.3 1165.6,797.2 1166.0,796.8 1167.0,795.8 1168.0,794.9 1168.2,794.6 1169.0,792.4 1170.0,789.4 1171.0,786.4 1172.0,783.4 1172.1,783.0 1173.0,778.8 1174.0,773.9 1174.8,770.2 1175.0,769.2 1176.0,765.1 1177.0,761.0 1177.4,759.6 1178.0,756.7 1179.0,752.2 1180.0,747.9 1180.0,747.7 1181.0,743.7 1182.0,739.6 1182.6,737.3 1183.0,733.0 1183.9,724.5 1184.0,722.1 1185.0,705.0 1185.4,697.7 1185.6,699.8 1186.0,696.7 1187.0,688.6 1187.2,687.0 1188.0,683.1 1189.0,678.2 1190.0,673.4 1190.3,671.9 1191.0,669.7 1192.0,666.5 1193.0,663.4 1193.4,662.0 1194.0,661.3 1195.0,660.2 1196.0,658.8 1196.6,657.5 1197.0,656.7 1198.0,654.7 1198.1,654.5 1199.0,656.4 1199.7,658.0 1200.0,659.5 1201.0,664.3 1201.2,665.5 1202.0,666.6 1202.8,667.8 1203.0,667.2 1204.0,664.1 1204.4,662.9 1205.0,662.5 1205.9,661.9 1206.0,662.2 1207.0,667.0 1207.5,668.4 1208.0,669.0 1209.0,670.2 1210.0,671.6 1210.6,672.4 1211.0,673.6 1212.0,677.0 1212.2,677.6 1213.0,688.6 1213.8,698.9 1214.0,701.7 1215.0,713.1 1216.0,724.7 1216.9,735.1 1217.0,735.2 1218.0,735.8 1219.0,736.5 1220.0,737.3 1221.0,739.6 1222.0,742.0 1223.0,744.4 1223.1,744.7 1224.0,744.9 1225.0,745.1 1226.0,745.6 1227.0,746.7 1228.0,747.8 1229.0,748.9 1229.3,749.3 1230.0,747.9 1231.0,745.9 1232.0,743.9 1233.0,741.8 1234.0,739.8 1234.9,737.8 1235.0,737.7 1236.0,735.1 1237.0,732.6 1238.0,730.0 1239.0,727.4 1240.0,724.8 1241.0,722.2 1241.9,719.9 1242.0,719.5 1243.0,716.0 1244.0,712.5 1245.0,710.7 1246.0,709.4 1246.6,708.7 1247.0,709.1 1248.0,709.8 1249.0,710.5 1249.7,711.0 1250.0,709.9 1251.0,706.2 1252.0,702.6 1252.8,699.6 1253.0,698.6 1254.0,693.1 1255.0,687.7 1255.9,682.7 1256.0,682.7 1257.0,682.8 1258.0,682.9 1259.0,683.0 1259.1,683.0 1260.0,682.1 1261.0,681.1 1262.0,680.2 1262.2,680.0 1263.0,680.1 1264.0,680.3 1265.0,680.5 1265.3,680.5 1266.0,681.2 1267.0,681.3 1268.0,680.1 1268.4,679.5 1269.0,679.5 1270.0,679.6 1271.0,679.7 1271.6,679.7 1272.0,679.5 1273.0,678.8 1274.0,678.1 1274.7,677.7 1275.0,677.9 1276.0,678.6 1277.0,679.3 1277.8,679.9 1278.0,679.6 1279.0,677.9 1280.0,676.3 1280.9,674.8 1281.0,675.3 1282.0,682.4 1282.5,686.1 1283.0,688.4 1284.0,693.3 1285.0,698.4 1285.6,701.7 1286.0,701.6 1287.0,701.6 1288.0,701.7 1289.0,701.9 1290.0,702.2 1291.0,702.6 1291.2,702.7 1292.0,707.1 1293.0,717.5 1293.0,717.9 1294.0,744.6 1294.7,762.9 1295.0,764.8 1296.0,771.7 1296.5,774.8 1297.0,776.6 1298.0,780.0 1299.0,783.3 1299.9,786.3 1300.0,786.6 1301.0,790.4 1302.0,794.2 1303.0,797.9 1303.4,799.4 1304.0,801.2 1305.0,802.2 1306.0,803.3 1306.9,804.2 1307.0,804.2 1308.0,804.2 1309.0,804.2 1310.0,804.2 1310.3,804.2 1311.0,804.2 1312.0,804.3 1313.0,804.4 1313.8,804.4 1314.0,804.4 1315.0,804.5 1315.6,804.6 1316.0,805.7 1317.0,808.4 1318.0,811.2 1318.3,812.2 1319.0,816.3 1320.0,818.1 1320.8,819.4 1321.0,819.3 1322.0,819.1 1323.0,818.8 1324.0,818.5 1324.2,818.5 1325.0,816.3 1326.0,813.4 1326.7,812.1 1327.0,809.5 1328.0,801.6 1329.0,793.7 1329.4,790.2 1330.0,788.0 1331.0,784.1 1332.0,780.2 1332.9,776.6 1333.0,776.3 1334.0,773.0 1335.0,769.7 1336.0,766.4 1336.4,765.1 1337.0,764.5 1338.0,760.3 1339.0,752.4 1339.9,745.6 1340.0,745.4 1341.0,744.4 1342.0,743.4 1343.0,742.4 1343.3,742.1 1344.0,743.0 1345.0,744.3 1346.0,745.6 1346.8,746.6 1347.0,746.1 1348.0,743.3 1349.0,740.6 1349.6,739.0 1350.0,737.3 1351.0,733.3 1352.0,729.3 1352.0,729.3 1353.0,725.4 1354.0,721.5 1354.4,719.8 1355.0,718.7 1356.0,729.5 1357.0,730.7 1357.2,729.8 1358.0,732.2 1359.0,735.3 1360.0,738.5 1360.7,740.7 1361.0,741.3 1362.0,743.1 1363.0,745.0 1363.5,745.9 1364.0,745.2 1365.0,743.7 1366.0,742.3 1367.0,740.9 1367.6,740.0 1368.0,739.5 1369.0,738.1 1370.0,736.7 1371.0,735.3 1371.1,735.1 1372.0,741.2 1373.0,748.0 1374.0,754.7 1374.6,758.6 1375.0,759.9 1376.0,758.3 1377.0,756.7 1378.0,755.0 1378.1,754.9 1379.0,756.3 1380.0,757.8 1381.0,759.3 1381.5,760.1 1382.0,761.1 1383.0,763.1 1384.0,765.2 1385.0,767.4 1386.0,769.3 1387.0,771.3 1388.0,773.2 1388.5,774.2 1389.0,773.5 1390.0,772.3 1391.0,771.0 1391.9,769.9 1392.0,769.9 1393.0,770.1 1394.0,770.3 1395.0,770.4 1396.0,770.6 1397.0,770.8 1397.2,770.9 1398.0,772.3 1399.0,773.9 1400.0,775.5 1400.6,776.5 1401.0,776.8 1402.0,777.7 1403.0,778.5 1404.0,779.3 1404.1,779.4 1405.0,780.1 1406.0,780.9 1407.0,781.8 1407.6,782.3 1408.0,782.4 1409.0,782.7 1410.0,783.0 1411.0,783.2 1412.0,783.5 1412.8,783.7 1413.0,783.9 1414.0,784.5 1415.0,785.1 1416.0,785.7 1417.0,786.4 1418.0,787.0 1418.0,787.1 1418.1,787.9 1419.0,781.2 1420.0,773.6 1420.6,768.9 1421.0,769.0 1422.0,769.4 1423.0,769.8 1423.5,770.0 1424.0,770.7 1425.0,772.1 1426.0,773.5 1427.0,774.9 1427.0,775.0 1428.0,775.8 1429.0,776.8 1430.0,777.7 1430.6,778.2 1431.0,777.7 1432.0,776.7 1433.0,775.6 1434.0,774.5 1434.1,774.4 1435.0,776.0 1436.0,777.9 1437.0,779.8 1437.7,781.1 1438.0,781.6 1439.0,783.5 1440.0,785.4 1441.0,787.3 1441.3,787.7 1442.0,789.3 1443.0,791.4 1444.0,793.5 1444.8,795.2 1445.0,794.8 1446.0,792.5 1447.0,790.3 1447.7,788.7 1448.0,789.9 1449.0,793.2 1450.0,796.2 1450.2,796.7 1451.0,797.1 1452.0,797.6 1453.0,798.1 1453.7,798.5 1454.0,797.8 1455.0,795.4 1456.0,792.9 1457.0,790.4 1457.3,789.8 1458.0,788.7 1459.0,787.2 1460.0,785.7 1460.8,784.5 1461.0,784.8 1462.0,786.5 1463.0,788.3 1464.0,790.1 1464.4,790.9 1465.0,789.8 1466.0,788.1 1467.0,786.9 1468.0,786.0 1468.0,785.9 1469.0,784.2 1470.0,782.5 1471.0,780.7 1471.5,779.9 1472.0,780.3 1473.0,781.1 1474.0,781.9 1475.0,782.7 1475.1,782.7 1476.0,786.1 1477.0,789.6 1478.0,793.2 1478.6,795.4 1479.0,796.0 1480.0,797.8 1481.0,799.6 1482.0,801.4 1482.2,801.7 1483.0,801.3 1484.0,800.9 1485.0,800.4 1485.7,800.0 1486.0,800.8 1487.0,803.9 1488.0,806.6 1488.2,807.2 1489.0,805.9 1490.0,804.3 1491.0,802.6 1492.0,801.0 1492.9,799.5 1493.0,799.1 1494.0,796.3 1495.0,793.4 1496.0,790.5 1497.0,787.6 1498.0,784.7 1498.2,784.1 1499.0,781.7 1500.0,778.8 1501.0,775.8 1502.0,773.1 1503.0,771.2 1503.5,770.2 1504.0,769.3 1505.0,767.5 1506.0,765.6 1507.0,763.8 1508.0,762.0 1508.2,761.7 1509.0,759.9 1510.0,757.8 1511.0,755.8 1512.0,753.7 1512.2,753.3 1513.0,750.5 1514.0,747.1 1515.0,743.7 1515.3,742.7 1516.0,742.0 1517.0,741.2 1518.0,740.3 1518.4,739.9 1519.0,740.5 1520.0,741.6 1521.0,742.7 1521.6,743.4 1522.0,743.8 1523.0,744.9 1524.0,745.1 1524.7,745.1 1525.0,744.3 1526.0,741.9 1527.0,739.4 1527.8,737.4 1528.0,738.0 1529.0,740.9 1530.0,743.9 1530.9,746.7 1531.0,746.8 1532.0,747.8 1533.0,748.8 1534.0,749.8 1534.1,749.9 1535.0,751.3 1536.0,752.9 1537.0,754.4 1537.2,754.7 1538.0,758.3 1539.0,762.8 1540.0,767.3 1541.0,771.9 1542.0,776.4 1543.0,781.0 1544.0,785.6 1544.5,787.8 1545.0,788.6 1546.0,790.2 1547.0,791.7 1548.0,793.3 1548.0,793.3 1549.0,794.6 1550.0,795.9 1551.0,797.2 1551.6,798.0 1552.0,797.7 1553.0,797.0 1554.0,796.2 1555.0,795.5 1555.1,795.4 1556.0,796.7 1557.0,798.3 1558.0,799.9 1558.7,801.0 1559.0,801.0 1560.0,801.3 1561.0,801.6 1562.0,801.9 1562.3,802.0 1563.0,802.5 1564.0,803.1 1565.0,803.7 1565.8,804.3 1566.0,803.6 1567.0,799.9 1568.0,796.3 1569.0,792.7 1569.4,791.3 1570.0,789.5 1571.0,786.6 1572.0,783.7 1572.9,781.1 1573.0,780.9 1574.0,779.3 1575.0,777.7 1576.0,776.1 1576.5,775.3 1577.0,775.2 1578.0,774.8 1579.0,774.5 1580.0,774.1 1581.0,773.8 1581.8,773.5 1582.0,773.8 1583.0,775.6 1584.0,777.3 1585.0,779.1 1585.4,779.8 1586.0,779.2 1587.0,778.2 1588.0,777.2 1589.0,776.3 1589.0,776.2 1590.0,775.5 1591.0,774.7 1592.0,774.0 1592.5,773.6 1593.0,773.6 1594.0,773.7 1595.0,773.7 1596.0,773.7 1596.1,773.7 1597.0,775.2 1598.0,776.8 1599.0,778.4 1599.6,779.4 1600.0,780.4 1601.0,783.1 1602.0,786.2 1603.0,789.5 1603.2,790.2 1604.0,780.1 1604.3,776.3 1605.0,773.7 1606.0,770.0 1607.0,766.3 1607.1,766.0 1608.0,765.2 1609.0,764.3 1609.5,763.9 1610.0,764.4 1611.0,765.3 1612.0,766.3 1613.0,767.5 1613.0,767.6 1614.0,768.6 1615.0,769.6 1616.0,770.6 1616.5,771.0 1617.0,771.7 1618.0,773.0 1619.0,774.2 1619.9,775.4 1620.0,775.4 1621.0,775.1 1622.0,774.8 1623.0,774.5 1623.4,774.4 1624.0,774.6 1625.0,775.1 1626.0,775.6 1626.9,776.0 1627.0,776.2 1628.0,777.2 1629.0,778.7 1630.0,780.6 1630.3,780.6 1631.0,780.8 1632.0,781.2 1633.0,781.6 1633.8,781.9 1634.0,783.1 1635.0,789.4 1635.6,793.0 1636.0,795.9 1637.0,802.4 1637.3,804.3 1638.0,804.8 1639.0,805.4 1640.0,806.1 1640.8,806.7 1641.0,806.8 1642.0,807.5 1643.0,808.3 1644.0,809.0 1644.2,809.4 1645.0,810.9 1646.0,812.9 1647.0,814.8 1647.7,816.1 1648.0,816.7 1649.0,818.6 1650.0,820.2 1651.0,821.6 1651.2,821.9 1652.0,822.6 1653.0,823.4 1654.0,824.2 1654.7,824.8 1655.0,825.2 1656.0,826.3 1657.0,827.4 1658.0,828.5 1658.1,828.6 1659.0,829.3 1660.0,830.1 1661.0,831.0 1661.6,831.4 1662.0,831.9 1663.0,833.0 1664.0,834.0 1665.0,835.1 1665.1,835.2 1666.0,835.9 1667.0,836.7 1668.0,837.5 1668.5,838.0 1669.0,838.6 1670.0,840.0 1671.0,840.3 1671.0,840.2 1672.0,838.4 1673.0,836.7 1673.8,835.4 1674.0,834.9 1675.0,832.8 1676.0,830.8 1677.0,828.8 1677.2,828.3 1678.0,827.4 1679.0,826.2 1680.0,825.0 1680.7,824.2 1681.0,824.1 1682.0,823.7 1683.0,823.3 1684.0,823.0 1684.2,822.9 1685.0,821.9 1686.0,820.7 1687.0,819.9 1687.6,820.1 1688.0,820.4 1689.0,821.1 1690.0,821.8 1691.0,822.5 1691.1,822.6 1692.0,822.8 1693.0,822.9 1694.0,823.0 1694.6,823.1 1695.0,823.1 1696.0,823.2 1697.0,823.3 1698.0,823.4 1698.1,823.4 1699.0,824.0 1700.0,824.7 1701.0,825.3 1701.5,825.7 1702.0,825.8 1703.0,826.0 1704.0,826.3 1704.3,826.4 1705.0,826.7 1706.0,827.3 1706.7,826.1 1707.0,825.5 1708.0,823.4 1709.0,821.2 1710.0,819.1 1710.2,818.7 1711.0,816.2 1712.0,813.1 1713.0,810.1 1713.7,808.0 1714.0,807.2 1715.0,804.7 1716.0,802.2 1717.0,799.7 1717.2,799.4 1718.0,799.0 1719.0,798.6 1720.0,798.2 1720.6,798.0 1721.0,798.0 1722.0,798.1 1723.0,798.3 1724.0,798.4 1724.1,798.4 1725.0,798.5 1726.0,798.1 1727.0,794.9 1727.6,793.1 1728.0,792.2 1729.0,791.0 1730.0,789.7 1731.0,788.4 1732.0,787.1 1732.1,787.0 1733.0,787.9 1734.0,788.9 1735.0,790.0 1736.0,791.0 1736.4,791.5 1737.0,793.1 1738.0,795.8 1739.0,798.6 1740.0,801.5 1740.8,803.7 1741.0,804.2 1742.0,806.6 1743.0,809.0 1744.0,811.5 1745.0,814.0 1745.1,814.3 1746.0,816.5 1747.0,818.9 1747.3,819.6 1748.0,818.2 1749.0,816.2 1749.5,815.3 1750.0,814.8 1751.0,813.9 1752.0,813.0 1753.0,812.2 1753.8,811.5 1754.0,811.4 1755.0,811.1 1756.0,810.8 1757.0,810.5 1758.0,810.2 1758.1,810.1 1759.0,810.1 1760.0,810.1 1761.0,810.1 1762.0,810.0 1762.5,810.0 1763.0,810.0 1764.0,810.0 1765.0,810.0 1766.0,809.9 1766.8,809.9 1767.0,809.9 1768.0,809.6 1769.0,809.3 1770.0,809.0 1771.0,808.7 1771.2,808.6 1772.0,808.9 1773.0,809.1 1774.0,809.4 1775.0,809.6 1775.5,809.7 1776.0,809.3 1777.0,808.5 1778.0,807.7 1779.0,806.9 1779.8,806.2 1780.0,806.1 1781.0,805.9 1782.0,805.6 1783.0,805.3 1784.0,805.1 1784.2,805.0 1785.0,802.6 1786.0,799.7 1787.0,796.9 1788.0,794.0 1788.5,792.5 1789.0,791.5 1790.0,789.4 1791.0,787.3 1792.0,785.3 1792.9,783.5 1793.0,783.5 1794.0,783.6 1795.0,783.6 1796.0,783.6 1797.0,783.7 1797.2,783.7 1798.0,783.7 1799.0,783.8 1800.0,783.8 1801.0,783.9 1801.6,783.9 1802.0,783.9 1803.0,783.9 1804.0,783.9 1805.0,783.9 1805.9,783.9 1806.0,784.1 1807.0,785.4 1808.0,786.7 1809.0,788.0 1810.0,789.3 1810.2,789.6 1811.0,790.3 1812.0,791.3 1813.0,792.2 1814.0,793.1 1814.0,793.2 1815.0,795.8 1815.8,797.8 1816.0,798.5 1817.0,801.5 1817.6,803.5 1818.0,804.3 1818.8,806.3 1819.0,806.3 1820.0,806.7 1820.7,806.9 1821.0,806.3 1822.0,804.6 1822.5,803.8 1823.0,805.0 1824.0,807.2 1824.3,807.9 1825.0,809.2 1826.0,811.1 1826.7,812.5 1827.0,812.5 1828.0,812.7 1829.0,812.8 1829.2,812.8 1830.0,813.3 1831.0,813.9 1831.6,814.3 1832.0,815.2 1833.0,817.4 1833.4,818.3 1834.0,818.4 1835.0,818.5 1836.0,820.6 1836.4,821.5 1837.0,822.8 1838.0,824.9 1838.5,825.9 1839.0,826.5 1840.0,827.8 1840.5,828.4 1841.0,828.6 1841.9,829.1 1842.0,829.0 1843.0,828.8 1844.0,828.5 1845.0,827.3 1846.0,826.5 1846.1,826.4 1847.0,826.3 1848.0,826.2 1848.5,826.2 1849.0,826.6 1850.0,827.4 1850.3,827.7 1851.0,830.5 1851.3,831.6 1852.0,836.2 1852.4,838.8 1853.0,838.2 1853.4,837.9 1854.0,836.9 1855.0,835.4 1855.1,835.3 1856.0,834.5 1857.0,833.6 1857.6,833.0 1858.0,833.1 1859.0,833.1 1860.0,833.2 1861.0,833.2 1862.0,833.9 1863.0,834.5 1863.5,834.9 1864.0,836.1 1864.5,837.4 1865.0,836.9 1866.0,835.9 1866.3,835.6 1867.0,836.1 1868.0,836.6 1869.0,838.7 1869.7,840.1 1870.0,840.3 1871.0,841.0 1871.5,841.4 1872.0,841.6 1873.0,842.0 1873.2,842.1 1874.0,842.7 1875.0,843.4 1876.0,843.1 1877.0,842.8 1878.0,842.5 1879.0,842.2 1880.0,842.0 1881.0,841.7 1881.2,841.6 1882.0,841.9 1883.0,842.2 1883.3,842.3 1884.0,844.6 1885.0,846.9 1885.4,847.9 1886.0,849.3 1887.0,851.6 1888.0,851.8 1889.0,852.0 1890.0,852.6 1890.6,852.9 1891.0,852.3 1891.7,851.3 1892.0,851.5 1893.0,852.2 1893.8,852.7 1894.0,852.9 1895.0,854.0 1896.0,855.1 1896.4,855.5 1897.0,853.5 1897.4,852.4 1898.0,852.4 1898.4,852.4 L1898.4,965.0 Z" fill="#ff96fd"/>
</g>
<path d="M101.0,893.2 110.0,893.2 120.0,895.8 127.5,889.5 132.5,885.8 140.0,883.2 147.5,878.2 152.5,877.0 160.0,879.5 167.5,882.0 175.0,874.5 180.0,872.0 187.5,873.2 195.0,868.2 202.5,865.8 208.8,864.0 215.0,867.0 220.0,868.2 225.0,868.2 231.2,868.2 235.0,874.5 240.0,878.2 245.0,879.5 250.0,878.2 255.0,875.8 260.0,878.2 265.0,879.5 267.5,915.8 270.0,913.2 275.0,912.0 280.0,913.2 285.0,905.8 288.8,903.2 292.5,905.8 295.0,899.5 300.0,899.5 305.0,904.5 310.0,902.0 315.0,897.0 320.0,894.5 325.0,893.2 330.0,895.8 335.0,897.0 340.0,898.2 345.0,897.0 350.0,894.5 355.0,890.8 360.0,890.2 365.0,889.5 370.0,879.5 375.0,878.2 382.5,874.5 387.5,868.2 391.2,872.0 393.8,879.5 397.5,877.0 402.5,872.0 407.5,869.5 412.5,872.0 417.5,874.5 422.5,877.0 427.5,878.2 431.2,874.5 435.0,870.8 440.0,865.8 445.0,869.5 452.5,869.0 460.0,869.0 470.0,872.0 482.5,872.0 495.0,875.0 507.5,874.5 520.0,873.2 532.5,874.5 545.0,873.2 550.0,870.8 557.5,858.2 563.8,854.5 570.0,852.0 577.5,849.5 585.0,849.0 590.0,850.0 595.0,848.2 602.5,845.8 610.0,849.5 617.5,852.0 625.0,852.0 630.0,850.0 635.0,848.2 638.8,862.0 643.8,864.5 650.0,863.2 657.5,860.8 665.0,858.2 672.5,857.0 677.5,860.8 681.2,863.2 685.0,859.5 695.0,859.5 705.0,860.8 712.5,858.2 720.0,854.0 727.5,852.0 735.0,852.8 738.8,847.0 742.5,838.2 747.5,837.0 752.5,832.0 760.0,830.8 767.5,829.5 771.2,824.5 773.8,813.2 777.5,817.0 782.5,813.2 787.5,799.5 792.5,798.2 797.5,793.2 802.5,787.0 807.5,782.0 812.5,779.5 817.5,797.0 820.0,792.0 825.0,774.5 830.0,777.0 835.0,775.8 840.0,779.5 845.0,784.5 847.5,787.0 852.5,779.5 857.5,774.5 860.0,752.0 865.0,732.0 867.5,730.8 870.0,737.0 875.0,727.0 880.0,712.0 892.1,691.5 897.3,670.7 900.8,632.5 904.2,583.9 907.7,563.1 911.2,570.0 914.7,608.2 918.1,618.6 920.6,583.9 923.3,597.8 925.1,608.2 928.5,608.2 932.0,611.7 935.5,649.9 939.0,642.9 942.4,649.9 945.9,653.3 949.4,663.8 951.1,639.4 954.6,629.0 958.1,625.6 961.5,632.5 965.0,618.6 968.5,583.9 971.9,535.3 975.4,511.0 978.9,497.1 982.4,495.3 985.8,486.7 989.3,476.2 992.8,451.9 996.2,420.7 1001.1,403.3 1003.0,418.9 1004.8,471.0 1006.9,484.0 1009.5,497.0 1012.1,507.4 1014.7,512.6 1016.0,520.4 1017.3,502.2 1019.9,486.6 1022.5,476.2 1025.1,489.2 1027.7,481.4 1030.3,465.8 1032.9,450.2 1035.5,418.9 1038.1,400.7 1040.7,395.5 1043.3,364.3 1045.9,377.3 1048.5,405.9 1049.8,413.7 1051.1,392.9 1053.7,390.3 1056.3,392.9 1058.9,392.9 1061.5,405.9 1064.1,429.3 1066.7,442.3 1069.3,455.4 1070.6,439.7 1071.9,416.3 1074.5,413.7 1077.1,395.5 1079.7,387.7 1082.3,385.1 1084.9,382.5 1087.5,390.3 1090.2,387.7 1092.8,390.3 1095.4,400.7 1098.0,398.1 1100.6,382.5 1103.2,374.7 1105.8,361.6 1108.4,343.4 1111.0,340.8 1113.6,346.0 1116.2,366.9 1118.8,390.3 1121.4,408.5 1124.0,416.3 1126.6,437.1 1129.2,471.0 1131.8,476.2 1134.4,450.2 1137.0,424.1 1139.6,429.3 1142.2,411.1 1144.8,400.7 1147.4,398.1 1150.0,403.3 1152.6,437.1 1153.9,413.7 1156.5,408.5 1159.1,400.7 1161.7,390.3 1164.3,392.9 1166.9,411.1 1169.5,424.1 1170.8,465.8 1173.4,476.2 1176.1,481.4 1178.7,491.8 1181.3,497.0 1183.9,502.2 1184.6,596.0 1188.3,569.9 1192.0,618.4 1195.7,588.5 1199.5,581.0 1203.2,599.7 1206.9,622.1 1210.7,599.7 1214.4,592.2 1218.1,581.0 1221.9,614.6 1225.6,633.3 1229.3,599.7 1233.1,603.4 1236.8,610.9 1240.5,569.9 1244.3,588.5 1248.0,603.4 1251.7,614.6 1255.4,651.9 1259.2,629.6 1262.9,640.7 1266.6,633.3 1270.4,614.6 1274.1,622.1 1277.8,629.6 1281.6,618.4 1285.3,629.6 1289.0,633.3 1292.8,640.7 1296.5,637.0 1305.1,651.8 1308.6,655.3 1312.1,651.8 1315.6,669.2 1317.3,655.3 1319.0,669.2 1322.5,648.3 1326.0,634.4 1329.4,606.7 1331.2,578.9 1334.7,561.5 1338.1,554.6 1341.6,565.0 1345.1,571.9 1348.5,558.1 1352.0,537.2 1355.5,516.4 1359.0,526.8 1362.4,516.4 1365.9,495.6 1369.4,506.0 1372.8,509.4 1376.3,523.3 1379.8,512.9 1383.3,481.7 1386.7,478.2 1390.2,485.1 1393.7,499.0 1397.2,485.1 1400.6,485.1 1401.2,486.2 1404.4,501.9 1407.5,486.2 1412.2,473.8 1415.3,467.5 1418.4,448.8 1421.6,508.1 1424.7,511.2 1427.8,517.5 1430.9,523.8 1434.1,505.0 1437.2,492.5 1441.9,495.6 1445.0,495.6 1448.1,523.8 1450.6,564.4 1452.8,545.6 1454.4,526.9 1457.5,542.5 1460.6,539.4 1463.8,555.0 1466.9,558.1 1470.0,495.6 1474.7,492.5 1477.8,480.0 1480.9,423.8 1484.1,436.2 1487.2,430.0 1490.3,417.5 1493.4,401.9 1496.6,405.0 1498.1,401.9 1500.6,364.4 1502.8,361.2 1505.9,356.6 1509.1,342.5 1511.2,317.5 1513.8,351.9 1515.3,367.5 1518.4,364.4 1520.0,367.5 1521.6,347.2 1523.1,358.1 1526.2,387.8 1529.4,361.2 1532.5,355.0 1535.6,362.8 1538.8,348.8 1541.9,348.8 1545.0,364.4 1548.1,361.2 1551.2,303.4 1554.4,311.2 1557.5,326.9 1560.6,328.4 1563.8,323.8 1566.9,339.4 1569.4,372.2 1573.1,405.0 1576.2,380.0 1579.4,386.2 1582.5,409.7 1585.6,390.9 1587.2,386.2 1590.3,436.2 1593.4,411.2 1596.6,398.8 1599.7,405.0 1602.8,411.2 1605.9,455.0 1607.5,483.1 1610.6,480.0 1613.8,470.6 1616.9,473.8 1620.0,498.8 1623.1,473.8 1626.2,505.0 1629.4,486.2 1634.1,508.1 1638.8,501.9 1641.9,486.2 1645.0,483.1 1648.1,467.5 1651.2,465.9 1654.4,467.5 1657.5,498.8 1660.6,508.1 1663.8,498.8 1666.9,500.3 1670.0,508.1 1673.1,523.8 1676.2,545.6 1679.4,555.0 1682.5,555.0 1685.6,548.8 1688.8,534.7 1691.9,545.6 1695.2,540.8 1697.4,540.8 1701.7,549.5 1706.0,566.8 1708.2,592.9 1710.4,618.9 1712.6,610.2 1716.9,599.4 1721.2,595.0 1725.6,590.7 1729.9,588.5 1732.1,584.2 1734.3,601.6 1736.4,592.9 1738.6,558.1 1742.9,536.4 1747.3,529.9 1751.6,542.9 1756.0,547.3 1760.3,527.8 1762.5,536.4 1766.8,571.2 1769.0,573.3 1771.2,579.8 1773.3,599.4 1775.5,592.9 1779.8,584.2 1784.2,582.0 1786.4,592.9 1788.5,549.5 1792.0,529.9 1795.0,536.4 1797.2,586.4 1801.6,588.5 1805.9,558.1 1808.1,553.8 1810.2,571.2 1814.6,586.4 1816.7,592.9 1818.9,575.5 1823.3,562.5 1827.6,556.0 1831.9,560.3 1834.1,551.6 1838.4,536.4 1842.8,525.6 1845.0,510.4 1849.3,499.5 1851.5,501.7 1855.8,514.7 1860.2,512.6 1862.3,508.2 1866.7,536.4 1871.0,545.1 1873.2,549.5 1877.5,575.5 1881.9,562.5 1886.2,569.0 1890.5,560.3 1894.9,558.1 1898.4,571.2" fill="none" stroke="#000" stroke-opacity="0.47" stroke-width="1.3" stroke-linejoin="round"/>
<path d="M101.0,952.0 102.0,952.0 103.0,951.9 104.0,951.9 105.0,951.9 106.0,951.8 107.0,951.8 108.0,951.8 109.0,951.8 110.0,951.7 111.0,951.7 112.0,951.7 113.0,951.6 114.0,951.6 115.0,951.6 116.0,951.5 117.0,951.5 117.5,951.5 118.0,952.0 119.0,953.0 120.0,954.0 121.0,953.2 122.0,952.4 123.0,951.6 124.0,950.8 125.0,950.0 126.0,949.4 127.0,948.9 128.0,948.3 129.0,947.7 130.0,947.2 131.0,946.6 132.0,946.0 132.5,945.8 133.0,945.0 134.0,943.6 135.0,942.2 136.0,940.9 137.0,939.5 138.0,938.0 138.8,937.0 139.0,936.7 140.0,935.3 141.0,934.0 142.0,932.7 142.5,932.0 143.0,931.2 144.0,929.6 145.0,928.0 146.0,926.4 147.0,924.8 148.0,923.2 148.8,922.0 149.0,921.8 150.0,921.0 151.0,920.2 152.0,919.4 152.5,919.0 153.0,918.7 154.0,918.2 155.0,917.6 156.0,917.1 157.0,916.5 158.0,917.4 159.0,918.2 160.0,919.1 160.5,919.5 161.0,920.0 162.0,921.0 163.0,922.0 164.0,923.0 165.0,924.0 166.0,924.4 167.0,924.7 168.0,925.0 169.0,925.4 170.0,925.8 171.0,926.1 172.0,926.5 173.0,927.0 174.0,927.4 175.0,927.8 176.0,928.2 177.0,928.7 178.0,929.2 179.0,929.7 180.0,930.1 181.0,930.6 181.2,930.8 182.0,931.1 183.0,931.6 184.0,932.1 185.0,932.6 186.0,933.1 186.2,933.2 187.0,932.9 188.0,932.4 189.0,931.9 190.0,931.4 191.0,930.9 191.2,930.8 192.0,930.5 193.0,930.3 194.0,930.0 195.0,929.7 196.0,929.4 197.0,929.1 197.5,929.0 198.0,928.8 199.0,928.5 200.0,928.2 201.0,927.8 202.0,927.5 203.0,927.2 204.0,926.8 205.0,926.5 206.0,926.1 207.0,925.6 208.0,925.2 209.0,924.8 210.0,924.3 211.0,923.9 212.0,923.5 212.5,923.2 213.0,923.0 214.0,922.5 215.0,922.0 216.0,921.5 217.0,921.0 218.0,920.5 219.0,920.0 220.0,919.5 221.0,919.0 222.0,918.5 223.0,918.0 224.0,917.5 225.0,917.0 226.0,916.5 227.0,916.0 227.5,915.8 228.0,915.2 229.0,914.2 230.0,913.2 231.0,912.2 231.2,912.0 232.0,910.5 233.0,908.5 234.0,906.5 235.0,904.5 236.0,902.5 237.0,900.5 238.0,898.5 238.8,897.0 239.0,896.8 240.0,895.8 241.0,894.8 242.0,893.8 243.0,892.8 244.0,891.8 245.0,890.8 246.0,890.0 247.0,889.2 248.0,888.5 249.0,887.8 250.0,887.0 251.0,886.3 252.0,885.7 253.0,885.0 254.0,884.3 255.0,883.7 256.0,883.0 257.0,882.3 257.5,882.0 258.0,881.2 259.0,879.5 260.0,877.8 261.0,876.2 262.0,874.5 263.0,874.9 264.0,875.3 265.0,875.8 266.0,877.6 267.0,879.5 268.0,866.6 268.8,857.0 269.0,855.8 270.0,850.8 271.0,845.8 271.2,844.5 272.0,843.5 273.0,842.2 274.0,840.8 275.0,839.5 276.0,838.3 277.0,837.1 278.0,835.9 279.0,834.7 280.0,833.5 281.0,832.3 281.2,832.0 282.0,830.2 283.0,827.9 284.0,825.6 285.0,823.2 286.0,821.2 287.0,819.1 288.0,817.0 289.0,817.8 290.0,818.5 291.0,819.3 291.2,819.5 292.0,819.6 293.0,819.8 294.0,819.9 295.0,820.1 296.0,820.2 296.2,820.2 297.0,825.3 298.0,832.0 298.8,837.0 299.0,839.5 300.0,849.5 300.5,854.5 301.0,855.5 302.0,857.4 303.0,859.4 304.0,861.3 305.0,863.2 306.0,864.8 307.0,866.2 308.0,867.8 309.0,869.2 310.0,870.8 311.0,872.0 312.0,873.2 313.0,874.5 314.0,875.8 315.0,877.0 316.0,878.2 317.0,879.5 318.0,880.8 319.0,882.0 320.0,883.2 321.0,884.0 322.0,884.8 323.0,885.5 324.0,886.2 325.0,887.0 326.0,887.2 327.0,887.4 328.0,887.6 329.0,887.8 330.0,888.0 331.0,888.2 331.2,888.2 332.0,888.1 333.0,887.9 334.0,887.7 335.0,887.5 336.0,887.3 337.0,887.1 337.5,887.0 338.0,887.1 339.0,887.4 340.0,887.7 341.0,887.9 342.0,888.2 343.0,888.5 344.0,888.7 345.0,889.0 346.0,889.2 347.0,889.5 348.0,889.7 349.0,889.9 350.0,890.2 351.0,890.4 352.0,890.6 352.5,890.8 353.0,890.9 354.0,891.1 355.0,891.4 356.0,891.6 357.0,891.9 357.5,892.0 358.0,892.1 359.0,892.2 360.0,892.4 361.0,892.5 362.0,892.7 362.5,892.8 363.0,892.9 364.0,893.2 365.0,893.5 366.0,893.9 367.0,894.2 368.0,894.5 369.0,887.6 370.0,880.8 371.0,877.2 372.0,873.8 372.5,872.0 373.0,871.4 374.0,870.1 375.0,868.9 376.0,867.6 377.0,866.4 377.5,865.8 378.0,864.9 379.0,863.1 380.0,861.4 381.0,859.6 382.0,857.9 382.5,857.0 383.0,856.0 384.0,854.0 385.0,852.0 386.0,850.0 387.0,848.0 388.0,846.0 388.8,844.5 389.0,843.4 390.0,839.1 391.0,834.8 392.0,830.4 392.5,828.2 393.0,823.6 394.0,814.2 394.5,809.5 395.0,808.0 396.0,805.1 397.0,802.2 397.5,800.8 398.0,802.2 399.0,805.2 400.0,808.2 401.0,808.0 402.0,807.8 403.0,807.5 404.0,807.2 405.0,807.0 406.0,807.2 407.0,807.3 408.0,807.5 409.0,807.7 410.0,807.8 411.0,808.0 412.0,808.2 412.5,808.2 413.0,809.4 414.0,811.6 415.0,813.9 416.0,816.1 417.0,818.4 417.5,819.5 418.0,821.0 419.0,824.0 420.0,827.0 421.0,830.0 422.0,833.0 422.5,834.5 423.0,835.6 424.0,837.9 425.0,840.1 426.0,842.4 427.0,844.6 427.5,845.8 428.0,847.2 429.0,850.2 430.0,853.2 431.0,856.2 431.2,857.0 432.0,858.8 433.0,861.1 434.0,863.4 435.0,865.8 436.0,866.1 437.0,866.5 438.0,867.0 439.0,867.4 440.0,867.8 441.0,868.1 441.2,868.2 442.0,869.2 443.0,870.6 444.0,871.9 445.0,873.2 446.0,873.6 447.0,874.0 448.0,874.4 449.0,874.8 450.0,875.1 451.0,875.5 452.0,875.9 453.0,876.2 454.0,876.6 455.0,877.0 456.0,877.3 457.0,877.7 458.0,878.0 459.0,878.3 460.0,878.7 461.0,879.0 462.0,879.3 462.5,879.5 463.0,879.8 464.0,880.2 465.0,880.8 466.0,881.2 467.0,881.8 468.0,882.2 469.0,882.8 470.0,883.2 471.0,884.1 472.0,884.9 473.0,885.8 474.0,886.6 475.0,887.4 476.0,888.2 477.0,889.1 477.5,889.5 478.0,889.7 479.0,890.0 480.0,890.3 481.0,890.7 482.0,891.0 483.0,891.3 484.0,891.7 485.0,892.0 486.0,892.0 487.0,892.0 488.0,892.0 489.0,892.0 490.0,892.0 491.0,892.0 492.0,892.0 492.5,892.0 493.0,892.0 494.0,892.0 495.0,892.0 496.0,892.0 496.2,892.0 497.0,893.2 498.0,894.9 499.0,896.6 500.0,898.2 501.0,898.6 502.0,898.9 503.0,899.2 504.0,899.6 505.0,899.9 506.0,900.2 507.0,900.6 507.5,900.8 508.0,900.9 509.0,901.2 510.0,901.6 511.0,901.9 512.0,902.2 513.0,902.6 514.0,902.9 515.0,903.2 516.0,903.8 517.0,904.2 518.0,904.8 519.0,905.2 520.0,905.8 521.0,906.4 522.0,907.1 523.0,907.8 524.0,908.4 525.0,909.1 526.0,909.8 527.0,910.4 527.5,910.8 528.0,910.9 529.0,911.2 530.0,911.6 531.0,911.9 532.0,912.2 533.0,912.6 534.0,912.9 535.0,913.2 536.0,913.9 537.0,914.6 538.0,915.2 539.0,915.9 540.0,916.6 541.0,917.2 542.0,917.9 542.5,918.2 543.0,918.5 544.0,919.0 545.0,919.5 546.0,919.8 547.0,920.0 548.0,920.2 549.0,920.5 550.0,920.8 551.0,920.2 552.0,919.8 553.0,919.2 554.0,918.8 555.0,918.2 556.0,913.8 557.0,909.2 557.5,907.0 558.0,904.0 559.0,898.0 560.0,892.0 561.0,888.7 562.0,885.3 563.0,882.0 563.8,879.5 564.0,878.7 565.0,875.3 566.0,872.0 567.0,868.7 567.5,867.0 568.0,864.0 569.0,858.0 570.0,852.0 571.0,848.0 572.0,844.0 572.5,842.0 573.0,841.0 574.0,839.0 575.0,837.0 576.0,835.0 577.0,833.0 577.5,832.0 578.0,831.2 579.0,829.8 580.0,828.2 581.0,826.8 582.0,825.2 582.5,824.5 583.0,824.8 584.0,825.2 585.0,825.8 586.0,829.2 587.0,832.8 587.5,834.5 588.0,836.0 589.0,839.0 590.0,842.0 591.0,842.8 592.0,843.5 593.0,844.2 594.0,845.0 595.0,845.8 596.0,848.2 597.0,850.8 597.5,852.0 598.0,853.8 599.0,857.2 600.0,860.8 601.0,860.0 602.0,859.2 603.0,858.5 604.0,857.8 605.0,857.0 606.0,858.0 607.0,859.0 608.0,860.0 609.0,861.0 610.0,862.0 611.0,863.2 612.0,864.5 613.0,865.8 614.0,867.0 615.0,868.2 616.0,869.0 617.0,869.8 618.0,870.5 619.0,871.2 620.0,872.0 621.0,872.8 622.0,873.5 623.0,874.2 624.0,875.0 625.0,875.8 626.0,877.0 627.0,878.2 628.0,879.5 629.0,880.8 630.0,882.0 631.0,883.7 632.0,885.3 633.0,887.0 633.8,888.2 634.0,888.4 635.0,888.9 636.0,889.4 636.2,889.5 637.0,886.5 638.0,882.5 638.8,879.5 639.0,878.8 640.0,876.2 641.0,873.5 642.0,870.8 642.5,869.5 643.0,869.0 644.0,868.0 645.0,867.0 646.0,866.0 647.0,865.0 647.5,864.5 648.0,864.9 649.0,865.6 650.0,866.4 651.0,867.1 652.0,867.9 652.5,868.2 653.0,868.4 654.0,868.8 655.0,869.1 656.0,869.4 657.0,869.8 658.0,870.1 659.0,870.4 660.0,870.8 661.0,871.0 662.0,871.2 663.0,871.5 664.0,871.8 665.0,872.0 666.0,874.7 667.0,877.3 668.0,880.0 668.8,882.0 669.0,883.0 670.0,887.0 671.0,891.0 672.0,895.0 672.5,897.0 673.0,897.2 674.0,897.8 675.0,898.2 676.0,898.8 677.0,899.2 677.5,899.5 678.0,899.4 679.0,899.2 680.0,899.1 681.0,898.9 682.0,898.8 683.0,898.6 684.0,898.4 685.0,898.2 686.0,898.5 687.0,898.8 688.0,899.0 689.0,899.2 690.0,899.5 691.0,900.0 692.0,900.5 693.0,901.0 694.0,901.5 695.0,902.0 696.0,902.0 697.0,902.0 698.0,902.0 699.0,902.0 700.0,902.0 701.0,902.8 702.0,903.5 703.0,904.2 704.0,905.0 705.0,905.8 706.0,906.2 707.0,906.8 708.0,907.2 709.0,907.8 710.0,908.2 711.0,908.9 712.0,909.6 713.0,910.2 713.8,910.8 714.0,910.6 715.0,909.9 716.0,909.2 717.0,908.6 717.5,908.2 718.0,908.0 719.0,907.5 720.0,907.0 721.0,906.5 722.0,906.0 722.5,905.8 723.0,905.6 724.0,905.4 725.0,905.1 726.0,904.9 727.0,904.6 727.5,904.5 728.0,904.4 729.0,904.2 730.0,904.1 731.0,903.9 732.0,903.8 733.0,903.6 734.0,903.4 735.0,903.2 736.0,900.9 737.0,898.6 738.0,896.2 738.8,894.5 739.0,893.6 740.0,889.9 741.0,886.2 742.0,882.6 742.5,880.8 743.0,880.4 744.0,879.6 745.0,878.9 746.0,878.1 747.0,877.4 747.5,877.0 748.0,876.5 749.0,875.5 750.0,874.5 751.0,873.5 752.0,872.5 752.5,872.0 753.0,870.8 754.0,868.2 755.0,865.8 756.0,863.2 757.0,860.8 757.5,859.5 758.0,858.2 759.0,855.8 760.0,853.2 761.0,850.8 762.0,848.2 762.5,847.0 763.0,845.9 764.0,843.6 765.0,841.4 766.0,839.1 767.0,836.9 767.5,835.8 768.0,835.6 769.0,835.2 770.0,834.9 771.0,834.6 771.2,834.5 772.0,829.2 773.0,822.2 773.8,817.0 774.0,816.2 775.0,812.8 776.0,809.5 777.0,806.2 777.5,804.5 778.0,803.3 779.0,801.0 780.0,798.7 781.0,796.3 781.2,795.8 782.0,796.5 783.0,797.5 784.0,798.5 785.0,799.5 786.0,798.8 787.0,798.2 788.0,797.5 788.8,797.0 789.0,796.9 790.0,796.5 791.0,796.1 792.0,795.7 793.0,795.3 794.0,794.9 795.0,794.5 796.0,788.5 797.0,782.5 798.0,776.5 798.8,772.0 799.0,771.5 800.0,769.5 801.0,770.8 802.0,772.2 803.0,773.5 803.8,774.5 804.0,774.2 805.0,773.2 806.0,772.2 807.0,771.2 807.5,770.8 808.0,770.1 809.0,768.8 810.0,767.4 811.0,766.1 811.2,765.8 812.0,762.5 813.0,758.2 814.0,753.8 815.0,749.5 816.0,740.5 817.0,731.5 817.5,727.0 818.0,726.2 819.0,724.8 820.0,723.2 821.0,721.8 822.0,720.2 822.5,719.5 823.0,718.0 824.0,715.0 825.0,712.0 826.0,709.0 827.0,706.0 827.5,704.5 828.0,706.5 829.0,710.5 830.0,714.5 831.0,718.5 831.2,719.5 832.0,721.5 833.0,724.2 834.0,726.8 835.0,729.5 836.0,733.0 837.0,736.5 838.0,740.0 839.0,743.5 840.0,747.0 841.0,750.5 842.0,754.0 843.0,757.5 844.0,761.0 845.0,764.5 846.0,773.5 847.0,782.5 847.5,787.0 848.0,787.5 849.0,788.5 850.0,789.5 851.0,790.5 852.0,791.5 852.5,792.0 853.0,795.0 854.0,801.0 855.0,807.0 856.0,812.0 857.0,817.0 857.5,819.5 858.0,815.5 859.0,807.5 860.0,799.5 861.0,792.2 862.0,784.8 863.0,777.5 863.8,772.0 864.0,770.2 865.0,762.8 866.0,755.5 867.0,748.2 867.5,744.5 868.0,742.5 869.0,738.5 870.0,734.5 871.0,730.5 872.0,726.5 872.5,724.5 873.0,723.0 874.0,720.0 875.0,717.0 876.0,714.0 877.0,711.0 877.5,709.5 878.0,705.9 879.0,698.8 880.0,691.6 881.0,684.4 882.0,677.3 883.0,670.1 883.4,667.2 884.0,663.6 885.0,657.6 886.0,651.6 886.9,646.4 887.0,646.1 888.0,644.1 888.6,642.9 889.0,645.3 890.0,651.6 891.0,657.8 891.4,660.3 892.0,658.5 893.0,655.7 893.8,653.3 894.0,652.3 895.0,646.2 896.0,640.2 897.0,634.2 897.3,632.5 898.0,625.4 899.0,615.4 900.0,605.4 900.8,597.8 901.0,594.2 902.0,579.2 903.0,564.2 904.0,549.2 904.2,545.7 905.0,531.9 906.0,513.9 907.0,495.9 907.7,483.2 908.0,482.0 909.0,478.0 910.0,474.0 911.0,470.0 911.2,469.3 912.0,454.1 913.0,435.5 913.6,424.2 914.0,415.7 915.0,394.1 915.7,379.0 916.0,376.9 917.0,369.9 918.0,362.9 919.0,355.9 919.2,354.7 920.0,349.7 921.0,343.7 922.0,337.7 922.6,333.9 923.0,337.0 924.0,345.6 925.0,354.1 925.1,354.7 926.0,362.2 927.0,370.2 928.0,378.2 928.5,382.5 929.0,384.8 930.0,389.8 931.0,394.8 932.0,399.8 932.0,399.9 933.0,406.8 934.0,413.8 935.0,420.8 935.5,424.2 936.0,427.3 937.0,433.2 938.0,439.2 939.0,445.0 939.0,445.4 940.0,455.4 941.0,465.4 941.4,469.3 942.0,485.2 943.0,511.2 943.1,514.4 944.0,523.2 945.0,533.2 945.9,542.2 946.0,542.6 947.0,546.6 948.0,550.6 949.0,554.6 949.4,556.1 950.0,551.1 951.0,543.1 951.1,542.2 952.0,537.8 952.8,533.5 953.0,533.9 954.0,536.4 955.0,538.9 956.0,541.4 956.3,542.2 957.0,543.6 958.0,545.6 959.0,547.6 959.8,549.2 960.0,549.1 961.0,555.1 962.0,561.1 962.6,564.7 963.0,567.1 964.0,573.1 965.0,579.1 965.2,580.3 966.0,581.9 967.0,583.9 967.8,585.5 968.0,584.4 969.0,578.4 970.0,572.4 970.4,569.9 971.0,565.2 972.0,557.2 973.0,549.2 973.0,549.1 974.0,543.2 975.0,537.2 975.6,533.4 976.0,532.3 977.0,529.3 978.0,526.3 978.2,525.6 979.0,527.2 979.5,528.2 980.0,532.5 981.0,541.5 982.0,550.5 982.1,551.7 983.0,550.8 984.0,549.8 984.7,549.1 985.0,547.6 986.0,542.3 987.0,537.0 988.0,531.6 988.6,528.2 989.0,525.8 990.0,519.1 991.0,512.5 992.0,505.8 992.5,502.2 993.0,500.7 994.0,497.3 995.0,494.0 996.0,490.7 996.4,489.2 997.0,487.7 998.0,485.0 999.0,482.4 1000.0,479.7 1000.3,478.8 1001.0,475.5 1002.0,470.5 1003.0,465.8 1003.0,464.0 1004.0,428.0 1004.3,418.9 1005.0,417.4 1006.0,415.4 1006.9,413.7 1007.0,413.4 1008.0,411.4 1009.0,409.4 1010.0,407.4 1010.8,405.9 1011.0,405.2 1012.0,402.2 1013.0,399.2 1013.4,398.1 1014.0,394.9 1015.0,389.9 1016.0,385.1 1016.0,385.1 1017.0,387.1 1018.0,389.1 1018.6,390.3 1019.0,390.7 1020.0,391.7 1021.0,392.7 1021.2,392.9 1022.0,388.7 1023.0,383.7 1023.8,379.9 1024.0,379.5 1025.0,378.0 1026.0,376.5 1026.4,376.0 1027.0,380.0 1028.0,386.5 1029.0,392.9 1029.0,393.2 1030.0,407.2 1031.0,421.2 1031.6,429.3 1032.0,437.7 1033.0,457.7 1034.0,477.7 1034.2,481.4 1035.0,479.8 1036.0,477.8 1036.8,476.2 1037.0,476.0 1038.0,475.0 1039.0,474.0 1039.4,473.6 1040.0,472.4 1041.0,470.4 1042.0,468.4 1043.0,466.4 1043.3,465.8 1044.0,465.1 1045.0,464.1 1045.9,463.2 1046.0,462.0 1047.0,450.0 1048.0,438.0 1048.5,431.9 1049.0,430.4 1050.0,427.4 1051.0,424.4 1051.1,424.1 1052.0,425.0 1053.0,426.0 1053.7,426.7 1054.0,427.3 1055.0,429.3 1056.0,431.3 1056.3,431.9 1057.0,430.6 1058.0,428.6 1059.0,426.6 1060.0,424.6 1060.2,424.1 1061.0,423.6 1062.0,422.9 1063.0,422.3 1064.0,421.6 1064.1,421.5 1065.0,421.5 1066.0,421.5 1066.7,421.5 1067.0,421.2 1068.0,420.2 1069.0,419.2 1069.3,418.9 1070.0,423.0 1071.0,429.0 1071.9,434.5 1072.0,435.4 1073.0,447.4 1074.0,459.4 1074.5,465.8 1075.0,467.6 1076.0,471.6 1077.0,475.6 1077.1,476.2 1078.0,478.8 1079.0,481.8 1079.7,484.0 1080.0,484.8 1081.0,487.8 1082.0,490.8 1082.3,491.8 1083.0,494.4 1084.0,498.4 1084.9,502.2 1085.0,502.4 1086.0,505.4 1087.0,508.4 1087.5,510.0 1088.0,511.8 1089.0,515.8 1090.0,519.8 1090.2,520.4 1091.0,523.8 1092.0,527.8 1092.8,530.8 1093.0,532.1 1094.0,537.1 1095.0,542.1 1095.4,543.9 1096.0,548.4 1097.0,555.4 1098.0,562.1 1098.0,562.3 1099.0,568.3 1100.0,574.3 1100.6,577.7 1101.0,578.1 1102.0,579.1 1103.0,580.1 1103.2,580.3 1104.0,579.5 1105.0,578.5 1105.8,577.7 1106.0,577.0 1107.0,574.0 1108.0,571.0 1108.4,569.9 1109.0,569.3 1110.0,568.3 1111.0,567.3 1111.0,567.2 1112.0,565.2 1113.0,563.2 1113.6,562.1 1114.0,561.2 1115.0,559.2 1116.0,557.2 1116.2,556.9 1117.0,549.5 1118.0,540.5 1118.8,533.4 1119.0,530.4 1120.0,516.4 1121.0,502.4 1121.4,497.0 1122.0,494.6 1123.0,490.6 1124.0,486.6 1124.0,486.6 1125.0,482.6 1126.0,478.6 1126.6,476.2 1127.0,468.1 1128.0,448.1 1129.0,428.1 1129.2,424.1 1130.0,422.5 1131.0,420.5 1131.8,418.9 1132.0,418.4 1133.0,415.7 1134.0,413.0 1135.0,410.4 1135.7,408.5 1136.0,409.7 1137.0,413.7 1138.0,417.7 1138.3,418.9 1139.0,427.2 1139.6,434.5 1140.0,435.7 1141.0,438.7 1142.0,441.7 1142.2,442.3 1143.0,443.1 1144.0,444.1 1144.8,444.9 1145.0,445.9 1146.0,450.9 1147.0,455.9 1147.4,458.0 1148.0,463.2 1149.0,472.2 1150.0,481.2 1150.0,481.4 1151.0,495.1 1152.0,509.1 1152.6,517.8 1153.0,517.1 1154.0,515.1 1155.0,513.1 1155.2,512.6 1156.0,517.3 1157.0,523.3 1157.8,528.2 1158.0,530.6 1159.0,544.6 1160.0,558.6 1160.4,564.7 1161.0,564.7 1162.0,564.7 1163.0,564.7 1163.0,564.7 1164.0,564.2 1165.0,563.7 1165.6,563.4 1166.0,562.5 1167.0,560.0 1168.0,557.5 1168.2,556.9 1169.0,551.3 1170.0,544.0 1171.0,536.7 1172.0,529.3 1172.1,528.2 1173.0,518.0 1174.0,506.0 1174.8,497.0 1175.0,494.5 1176.0,484.5 1177.0,474.5 1177.4,471.0 1178.0,463.9 1179.0,452.9 1180.0,442.3 1180.0,441.9 1181.0,431.9 1182.0,421.9 1182.6,416.3 1183.0,405.7 1183.9,385.1 1184.0,379.3 1185.0,337.6 1185.4,320.0 1185.6,325.0 1186.0,317.5 1187.0,297.5 1187.2,293.8 1188.0,284.0 1189.0,272.0 1190.0,260.0 1190.3,256.2 1191.0,250.8 1192.0,242.8 1193.0,234.8 1193.4,231.2 1194.0,229.6 1195.0,226.6 1196.0,223.6 1196.6,221.9 1197.0,221.0 1198.0,219.0 1198.1,218.8 1199.0,225.8 1199.7,231.2 1200.0,235.6 1201.0,249.6 1201.2,253.1 1202.0,257.6 1202.8,262.5 1203.0,261.6 1204.0,256.6 1204.4,254.7 1205.0,255.3 1205.9,256.2 1206.0,257.1 1207.0,271.1 1207.5,278.1 1208.0,283.1 1209.0,293.1 1210.0,303.1 1210.6,309.4 1211.0,314.6 1212.0,328.6 1212.2,331.2 1213.0,360.5 1213.8,387.5 1214.0,395.0 1215.0,425.0 1216.0,455.0 1216.9,481.2 1217.0,482.0 1218.0,488.0 1219.0,494.0 1220.0,500.0 1221.0,509.0 1222.0,518.0 1223.0,527.0 1223.1,528.1 1224.0,531.9 1225.0,536.2 1226.0,540.5 1227.0,544.9 1228.0,549.2 1229.0,553.5 1229.3,554.9 1230.0,553.8 1231.0,552.1 1232.0,550.5 1233.0,548.8 1234.0,547.1 1234.9,545.6 1235.0,545.4 1236.0,542.9 1237.0,540.4 1238.0,537.9 1239.0,535.4 1240.0,532.8 1241.0,530.3 1241.9,528.1 1242.0,527.6 1243.0,523.6 1244.0,519.6 1245.0,515.6 1246.0,511.6 1246.6,509.4 1247.0,509.2 1248.0,508.7 1249.0,508.2 1249.7,507.8 1250.0,505.2 1251.0,496.7 1252.0,488.2 1252.8,481.2 1253.0,479.0 1254.0,467.0 1255.0,455.0 1255.9,443.8 1256.0,443.6 1257.0,441.6 1258.0,439.6 1259.0,437.6 1259.1,437.5 1260.0,433.8 1261.0,429.8 1262.0,425.8 1262.2,425.0 1263.0,423.4 1264.0,421.4 1265.0,419.4 1265.3,418.8 1266.0,418.4 1267.0,417.9 1268.0,417.4 1268.4,417.2 1269.0,418.3 1270.0,420.3 1271.0,422.3 1271.6,423.4 1272.0,423.7 1273.0,424.2 1274.0,424.7 1274.7,425.0 1275.0,425.9 1276.0,428.9 1277.0,431.9 1277.8,434.4 1278.0,435.3 1279.0,440.3 1280.0,445.3 1280.9,450.0 1281.0,451.2 1282.0,471.2 1282.5,481.2 1283.0,488.8 1284.0,503.8 1285.0,518.8 1285.6,528.1 1286.0,530.4 1287.0,536.3 1288.0,542.2 1289.0,548.2 1290.0,554.1 1291.0,560.0 1291.2,561.5 1292.0,572.0 1293.0,585.8 1293.0,586.1 1294.0,602.1 1294.7,613.6 1295.0,616.4 1296.0,626.4 1296.5,631.0 1297.0,633.1 1298.0,637.1 1299.0,641.1 1299.9,644.9 1300.0,645.2 1301.0,650.2 1302.0,655.2 1303.0,660.2 1303.4,662.2 1304.0,664.6 1305.0,668.6 1306.0,672.6 1306.9,676.1 1307.0,676.4 1308.0,678.4 1309.0,680.4 1310.0,682.4 1310.3,683.1 1311.0,684.4 1312.0,686.4 1313.0,688.4 1313.8,690.0 1314.0,690.4 1315.0,692.4 1315.6,693.5 1316.0,691.8 1317.0,688.1 1318.0,684.3 1318.3,683.1 1319.0,685.9 1320.0,690.2 1320.8,693.5 1321.0,693.6 1322.0,694.1 1323.0,694.6 1324.0,695.1 1324.2,695.2 1325.0,693.6 1326.0,691.4 1326.7,690.0 1327.0,685.0 1328.0,670.0 1329.0,655.0 1329.4,648.3 1330.0,643.9 1331.0,635.9 1332.0,627.9 1332.9,620.6 1333.0,620.0 1334.0,613.0 1335.0,606.0 1336.0,599.0 1336.4,596.2 1337.0,594.4 1338.0,591.4 1339.0,588.4 1339.9,585.8 1340.0,585.4 1341.0,582.4 1342.0,579.4 1343.0,576.4 1343.3,575.4 1344.0,576.1 1345.0,577.1 1346.0,578.1 1346.8,578.9 1347.0,577.7 1348.0,571.4 1349.0,565.2 1349.6,561.5 1350.0,558.0 1351.0,549.4 1352.0,540.8 1352.0,540.7 1353.0,532.2 1354.0,523.7 1354.4,519.9 1355.0,517.1 1356.0,512.1 1357.0,507.1 1357.2,506.0 1358.0,513.0 1359.0,522.0 1360.0,531.0 1360.7,537.2 1361.0,539.1 1362.0,545.4 1363.0,551.6 1363.5,554.6 1364.0,554.6 1365.0,554.6 1366.0,554.6 1367.0,554.6 1367.6,554.6 1368.0,554.6 1369.0,554.6 1370.0,554.6 1371.0,554.6 1371.1,554.6 1372.0,555.5 1373.0,556.5 1374.0,557.5 1374.6,558.1 1375.0,557.6 1376.0,556.6 1377.0,555.6 1378.0,554.6 1378.1,554.6 1379.0,559.3 1380.0,564.3 1381.0,569.3 1381.5,571.9 1382.0,574.8 1383.0,580.8 1384.0,586.8 1385.0,592.8 1386.0,598.3 1387.0,603.8 1388.0,609.3 1388.5,611.9 1389.0,611.6 1390.0,611.1 1391.0,610.6 1391.9,610.1 1392.0,610.1 1393.0,609.4 1394.0,608.8 1395.0,608.1 1396.0,607.4 1397.0,606.8 1397.2,606.7 1398.0,608.4 1399.0,610.4 1400.0,612.4 1400.6,613.6 1401.0,613.8 1402.0,614.3 1403.0,614.8 1404.0,615.3 1404.1,615.3 1405.0,615.8 1406.0,616.3 1407.0,616.8 1407.6,617.1 1408.0,616.8 1409.0,616.1 1410.0,615.5 1411.0,614.8 1412.0,614.1 1412.8,613.6 1413.0,613.6 1414.0,613.6 1415.0,613.6 1416.0,613.6 1417.0,613.6 1418.0,613.6 1418.0,613.8 1418.1,615.2 1419.0,600.9 1420.0,584.5 1420.6,574.2 1421.0,574.0 1422.0,573.4 1423.0,572.7 1423.5,572.5 1424.0,573.8 1425.0,576.3 1426.0,578.8 1427.0,581.3 1427.0,581.4 1428.0,582.8 1429.0,584.3 1430.0,585.8 1430.6,586.7 1431.0,585.7 1432.0,583.2 1433.0,580.7 1434.0,578.2 1434.1,577.8 1435.0,580.8 1436.0,584.3 1437.0,587.8 1437.7,590.2 1438.0,591.3 1439.0,594.8 1440.0,598.3 1441.0,601.8 1441.3,602.7 1442.0,605.7 1443.0,609.7 1444.0,613.7 1444.8,616.9 1445.0,616.0 1446.0,611.0 1447.0,606.0 1447.7,602.7 1448.0,605.1 1449.0,612.2 1450.0,619.4 1450.2,620.5 1451.0,622.2 1452.0,624.2 1453.0,626.2 1453.7,627.6 1454.0,626.5 1455.0,622.5 1456.0,618.5 1457.0,614.5 1457.3,613.4 1458.0,611.9 1459.0,609.9 1460.0,607.9 1460.8,606.3 1461.0,607.0 1462.0,611.5 1463.0,616.0 1464.0,620.5 1464.4,622.3 1465.0,620.8 1466.0,618.3 1467.0,615.8 1468.0,613.4 1468.0,613.2 1469.0,609.2 1470.0,605.2 1471.0,601.2 1471.5,599.1 1472.0,599.6 1473.0,600.6 1474.0,601.6 1475.0,602.6 1475.1,602.7 1476.0,608.7 1477.0,615.2 1478.0,621.7 1478.6,625.8 1479.0,626.9 1480.0,629.9 1481.0,632.9 1482.0,635.9 1482.2,636.5 1483.0,635.3 1484.0,633.8 1485.0,632.3 1485.7,631.2 1486.0,632.6 1487.0,638.3 1488.0,644.0 1488.2,645.4 1489.0,643.7 1490.0,641.3 1491.0,639.0 1492.0,636.7 1492.9,634.7 1493.0,634.1 1494.0,629.4 1495.0,624.8 1496.0,620.1 1497.0,615.4 1498.0,610.8 1498.2,609.8 1499.0,606.1 1500.0,601.4 1501.0,596.8 1502.0,592.1 1503.0,587.4 1503.5,584.9 1504.0,582.8 1505.0,578.2 1506.0,573.6 1507.0,568.9 1508.0,564.3 1508.2,563.6 1509.0,559.2 1510.0,554.0 1511.0,548.7 1512.0,543.5 1512.2,542.5 1513.0,536.0 1514.0,528.0 1515.0,520.0 1515.3,517.5 1516.0,515.4 1517.0,512.4 1518.0,509.4 1518.4,508.1 1519.0,508.7 1520.0,509.7 1521.0,510.7 1521.6,511.2 1522.0,511.7 1523.0,512.7 1524.0,513.7 1524.7,514.4 1525.0,513.1 1526.0,509.1 1527.0,505.1 1527.8,501.9 1528.0,503.2 1529.0,510.2 1530.0,517.2 1530.9,523.8 1531.0,523.9 1532.0,526.9 1533.0,529.9 1534.0,532.9 1534.1,533.1 1535.0,536.9 1536.0,540.9 1537.0,544.9 1537.2,545.6 1538.0,553.6 1539.0,563.4 1540.0,573.2 1541.0,583.0 1542.0,592.8 1543.0,602.6 1544.0,612.4 1544.5,616.9 1545.0,618.5 1546.0,621.5 1547.0,624.5 1548.0,627.5 1548.0,627.6 1549.0,630.1 1550.0,632.6 1551.0,635.1 1551.6,636.5 1552.0,635.9 1553.0,634.4 1554.0,632.9 1555.0,631.4 1555.1,631.2 1556.0,633.7 1557.0,636.7 1558.0,639.7 1558.7,641.9 1559.0,642.0 1560.0,642.5 1561.0,643.0 1562.0,643.5 1562.3,643.6 1563.0,644.4 1564.0,645.4 1565.0,646.4 1565.8,647.2 1566.0,645.8 1567.0,638.3 1568.0,630.8 1569.0,623.3 1569.4,620.5 1570.0,616.8 1571.0,610.8 1572.0,604.8 1572.9,599.1 1573.0,598.9 1574.0,595.4 1575.0,591.9 1576.0,588.4 1576.5,586.7 1577.0,586.2 1578.0,585.2 1579.0,584.2 1580.0,583.2 1581.0,582.2 1581.8,581.4 1582.0,582.1 1583.0,586.6 1584.0,591.1 1585.0,595.6 1585.4,597.4 1586.0,596.8 1587.0,595.8 1588.0,594.8 1589.0,593.8 1589.0,593.8 1590.0,593.3 1591.0,592.8 1592.0,592.3 1592.5,592.0 1593.0,592.5 1594.0,593.5 1595.0,594.5 1596.0,595.5 1596.1,595.6 1597.0,599.3 1598.0,603.3 1599.0,607.3 1599.6,609.8 1600.0,612.1 1601.0,618.1 1602.0,624.1 1603.0,630.1 1603.2,631.2 1604.0,611.5 1604.3,604.2 1605.0,599.0 1606.0,591.5 1607.0,584.0 1607.1,583.3 1608.0,581.4 1609.0,579.2 1609.5,578.1 1610.0,579.3 1611.0,581.8 1612.0,584.3 1613.0,586.8 1613.0,586.8 1614.0,588.8 1615.0,590.8 1616.0,592.8 1616.5,593.8 1617.0,595.1 1618.0,597.6 1619.0,600.1 1619.9,602.4 1620.0,602.4 1621.0,601.9 1622.0,601.4 1623.0,600.9 1623.4,600.7 1624.0,601.3 1625.0,602.3 1626.0,603.3 1626.9,604.2 1627.0,604.4 1628.0,606.4 1629.0,608.4 1630.0,610.4 1630.3,611.1 1631.0,613.1 1632.0,616.1 1633.0,619.1 1633.8,621.5 1634.0,624.1 1635.0,638.1 1635.6,645.8 1636.0,652.1 1637.0,666.1 1637.3,670.1 1638.0,672.3 1639.0,675.3 1640.0,678.3 1640.8,680.6 1641.0,681.3 1642.0,684.3 1643.0,687.3 1644.0,690.3 1644.2,691.0 1645.0,692.5 1646.0,694.5 1647.0,696.5 1647.7,697.9 1648.0,698.5 1649.0,700.5 1650.0,702.5 1651.0,704.5 1651.2,704.9 1652.0,705.7 1653.0,706.7 1654.0,707.7 1654.7,708.3 1655.0,708.9 1656.0,710.4 1657.0,711.9 1658.0,713.4 1658.1,713.5 1659.0,714.4 1660.0,715.4 1661.0,716.4 1661.6,717.0 1662.0,717.6 1663.0,719.1 1664.0,720.6 1665.0,722.1 1665.1,722.2 1666.0,723.2 1667.0,724.2 1668.0,725.2 1668.5,725.7 1669.0,726.7 1670.0,728.8 1671.0,730.9 1671.0,730.8 1672.0,726.4 1673.0,722.0 1673.8,718.8 1674.0,717.5 1675.0,712.5 1676.0,707.5 1677.0,702.5 1677.2,701.4 1678.0,698.7 1679.0,695.2 1680.0,691.7 1680.7,689.2 1681.0,688.6 1682.0,686.6 1683.0,684.6 1684.0,682.6 1684.2,682.3 1685.0,683.5 1686.0,685.0 1687.0,686.5 1687.6,687.5 1688.0,688.2 1689.0,690.2 1690.0,692.2 1691.0,694.2 1691.1,694.4 1692.0,695.3 1693.0,696.3 1694.0,697.3 1694.6,697.9 1695.0,698.3 1696.0,699.3 1697.0,700.3 1698.0,701.3 1698.1,701.4 1699.0,703.3 1700.0,705.3 1701.0,707.3 1701.5,708.3 1702.0,708.9 1703.0,710.2 1704.0,711.4 1704.3,711.8 1705.0,708.8 1706.0,704.5 1706.7,701.4 1707.0,700.1 1708.0,695.1 1709.0,690.1 1710.0,685.1 1710.2,684.0 1711.0,678.5 1712.0,671.5 1713.0,664.5 1713.7,659.7 1714.0,657.8 1715.0,651.8 1716.0,645.8 1717.0,639.8 1717.2,638.9 1718.0,637.2 1719.0,635.2 1720.0,633.2 1720.6,631.9 1721.0,631.6 1722.0,630.6 1723.0,629.6 1724.0,628.6 1724.1,628.5 1725.0,627.6 1726.0,626.6 1727.0,625.6 1727.6,625.0 1728.0,624.8 1729.0,624.4 1730.0,624.1 1731.0,623.7 1732.0,623.3 1732.1,623.3 1733.0,626.9 1734.0,630.9 1735.0,634.9 1736.0,638.9 1736.4,640.6 1737.0,644.6 1738.0,651.6 1739.0,658.6 1740.0,665.6 1740.8,671.0 1741.0,672.4 1742.0,678.4 1743.0,684.4 1744.0,690.4 1745.0,696.4 1745.1,697.1 1746.0,700.6 1747.0,704.6 1747.3,705.7 1748.0,702.9 1749.0,698.9 1749.5,697.1 1750.0,696.0 1751.0,694.0 1752.0,692.0 1753.0,690.0 1753.8,688.4 1754.0,688.2 1755.0,687.2 1756.0,686.2 1757.0,685.2 1758.0,684.2 1758.1,684.0 1759.0,683.6 1760.0,683.1 1761.0,682.6 1762.0,682.1 1762.5,681.9 1763.0,681.6 1764.0,681.1 1765.0,680.6 1766.0,680.1 1766.8,679.7 1767.0,679.5 1768.0,678.5 1769.0,677.5 1770.0,676.5 1771.0,675.5 1771.2,675.3 1772.0,675.3 1773.0,675.3 1774.0,675.3 1775.0,675.3 1775.5,675.3 1776.0,674.4 1777.0,672.4 1778.0,670.4 1779.0,668.4 1779.8,666.7 1780.0,666.5 1781.0,665.5 1782.0,664.5 1783.0,663.5 1784.0,662.5 1784.2,662.3 1785.0,657.4 1786.0,651.4 1787.0,645.4 1788.0,639.4 1788.5,636.3 1789.0,634.2 1790.0,629.7 1791.0,625.2 1792.0,620.7 1792.9,616.7 1793.0,616.7 1794.0,616.2 1795.0,615.7 1796.0,615.2 1797.0,614.7 1797.2,614.6 1798.0,614.2 1799.0,613.7 1800.0,613.2 1801.0,612.7 1801.6,612.4 1802.0,612.4 1803.0,612.4 1804.0,612.4 1805.0,612.4 1805.9,612.4 1806.0,612.7 1807.0,615.2 1808.0,617.7 1809.0,620.2 1810.0,622.7 1810.2,623.3 1811.0,624.6 1812.0,626.4 1813.0,628.2 1814.0,630.0 1814.0,630.1 1815.0,635.1 1815.8,639.1 1816.0,640.4 1817.0,646.4 1817.6,650.0 1818.0,651.8 1818.8,655.5 1819.0,655.6 1820.0,656.3 1820.7,656.7 1821.0,655.6 1822.0,652.2 1822.5,650.7 1823.0,652.9 1824.0,657.3 1824.3,658.5 1825.0,661.2 1826.0,664.9 1826.7,667.7 1827.0,667.7 1828.0,668.0 1829.0,668.2 1829.2,668.3 1830.0,669.3 1831.0,670.6 1831.6,671.3 1832.0,673.1 1833.0,677.4 1833.4,679.2 1834.0,679.3 1835.0,679.5 1836.0,683.7 1836.4,685.4 1837.0,687.9 1838.0,692.0 1838.5,694.1 1839.0,695.3 1840.0,697.8 1840.5,699.0 1841.0,699.5 1841.9,700.3 1842.0,700.3 1843.0,699.8 1844.0,699.3 1845.0,696.8 1846.0,694.3 1846.1,694.1 1847.0,693.0 1848.0,691.9 1848.5,691.3 1849.0,691.6 1850.0,692.2 1850.3,692.4 1851.0,697.2 1851.3,699.3 1852.0,707.7 1852.4,712.5 1853.0,710.8 1853.4,709.7 1854.0,707.3 1855.0,703.2 1855.1,702.8 1856.0,700.3 1857.0,697.5 1857.6,695.8 1858.0,695.4 1859.0,694.5 1860.0,693.6 1861.0,692.7 1862.0,693.0 1863.0,693.3 1863.5,693.4 1864.0,695.5 1864.5,697.6 1865.0,696.0 1866.0,692.9 1866.3,692.0 1867.0,692.7 1868.0,693.8 1869.0,698.0 1869.7,701.0 1870.0,701.5 1871.0,703.0 1871.5,703.8 1872.0,704.2 1873.0,705.0 1873.2,705.2 1874.0,706.4 1875.0,708.0 1876.0,707.3 1877.0,706.7 1878.0,706.0 1879.0,705.4 1880.0,704.8 1881.0,704.2 1881.2,704.0 1882.0,704.5 1883.0,705.3 1883.3,705.5 1884.0,710.2 1885.0,716.9 1885.4,719.6 1886.0,723.5 1887.0,730.0 1888.0,732.0 1889.0,734.0 1890.0,736.7 1890.6,738.3 1891.0,737.8 1891.7,736.8 1892.0,737.6 1893.0,740.4 1893.8,742.5 1894.0,743.4 1895.0,746.9 1896.0,750.5 1896.4,751.9 1897.0,748.8 1897.4,746.7 1898.0,746.7 1898.4,746.7" fill="none" stroke="#3a3d45" stroke-width="1.6" stroke-linejoin="round"/>
<rect x="561.25" y="393.4" width="722.2" height="73.8" fill="#3b82f6" fill-opacity="0.2" stroke="none"/>
<rect x="561.25" y="393.4" width="722.2" height="73.8" fill="none" stroke="#3a7ef6" stroke-width="1.1" stroke-dasharray="7.2 7.4" stroke-dashoffset="4.5"/>
<line x1="354" x2="1871" y1="750.9" y2="750.9" stroke="#fb0f5b" stroke-width="2.2" stroke-dasharray="7.5 7.1"/>
<circle cx="1892" cy="751.4" r="21" fill="#f0508a" fill-opacity="0.24" stroke="#fb0f5b" stroke-width="2.2" stroke-dasharray="5.5 5"/>
<line x1="668.6" x2="668.6" y1="431" y2="746.5" stroke="#fb0f5b" stroke-width="2.1"/>
<path d="M660.4,738.7 L668.6,747 L676.8,738.7" fill="none" stroke="#fb0f5b" stroke-width="2.1"/>
<text x="572.40" y="602.00" font-size="36.5" font-weight="normal" font-style="italic" fill="#fb0f5b" style="letter-spacing:0.348px;font-family:'Liberation Sans', sans-serif" >-59%</text>
<text x="345.60" y="736.90" font-size="35.8" font-weight="bold" font-style="normal" fill="#fb0f5b" style="letter-spacing:1.140px;font-family:'Liberation Sans', sans-serif" stroke="#fb0f5b" stroke-width="0.45">$30.7B/day</text>
<text x="252.00" y="422.20" font-size="35.6" font-weight="bold" font-style="normal" fill="#105cfd" style="letter-spacing:-0.023px;font-family:'Liberation Sans', sans-serif" stroke="#105cfd" stroke-width="0.45">Bull Market Peak</text>
<text x="240.00" y="464.30" font-size="35.6" font-weight="bold" font-style="normal" fill="#105cfd" style="letter-spacing:1.009px;font-family:'Liberation Sans', sans-serif" stroke="#105cfd" stroke-width="0.45">$70B to $80B/day</text>
<text x="751.00" y="288.20" font-size="35.6" font-weight="bold" font-style="normal" fill="#000" style="letter-spacing:0.200px;font-family:'Liberation Sans', sans-serif" stroke="#000" stroke-width="0.45">Macro Decline in</text>
<text x="626.60" y="330.60" font-size="35.6" font-weight="bold" font-style="normal" fill="#000" style="letter-spacing:0.161px;font-family:'Liberation Sans', sans-serif" stroke="#000" stroke-width="0.45">Trading Volume Since Jan 2021</text>
<line x1="928" y1="352.5" x2="1860" y2="673" stroke="#000" stroke-width="3.5"/>
<path d="M1853.5,658 L1861.4,673.7 L1845.3,681.3" fill="none" stroke="#000" stroke-width="3.6" stroke-linecap="round" stroke-linejoin="round"/>
<text x="45.00" y="1107.00" font-size="20" font-weight="normal" font-style="normal" fill="#8a8a8a" style="letter-spacing:0.008px;font-family:'Liberation Sans', sans-serif" >&#169; 2022 Glassnode. All Rights Reserved.</text>
<g transform="translate(1612.84,941.33) scale(0.2750)" fill="none" stroke="#000" stroke-width="14"><circle cx="745.8" cy="585.20" r="28.05"/>
<path d="M774.3,553.3 L774.3,612 C774.3,632 762,639.5 746,639.5 C734,639.5 725,636 719.5,628"/>
<path d="M802.5,524.1 L802.5,617.7"/>
<circle cx="855.3" cy="585.20" r="28.05"/>
<path d="M883.8,553.3 L883.8,617.7"/>
<path d="M944.25,565 C940.25,559 934.75,557.15 928.75,557.15 C919.75,557.15 913.25,561 913.25,568 C913.25,576 922.75,579 928.75,581.5 C935.75,584 946.25,588 946.25,597 C946.25,608 936.75,613.25 927.75,613.25 C920.75,613.25 913.25,610 910.25,603"/>
<path d="M998.85,565 C994.85,559 989.35,557.15 983.35,557.15 C974.35,557.15 967.85,561 967.85,568 C967.85,576 977.35,579 983.35,581.5 C990.35,584 1000.85,588 1000.85,597 C1000.85,608 991.35,613.25 982.35,613.25 C975.35,613.25 967.85,610 964.85,603"/>
<path d="M1026.85,617.7 L1026.85,553.3 M1026.85,586 C1026.85,566 1036,557.15 1048.8,557.15 C1061.6,557.15 1070.75,566 1070.75,586 L1070.75,617.7"/>
<circle cx="1122.45" cy="585.20" r="28.05"/>
<circle cx="1199.0" cy="585.20" r="28.05"/>
<path d="M1227.05,524.1 L1227.05,617.7"/>
<path d="M1250.45,585.20 L1305.25,585.20 A27.40,28.05 0 1 0 1298.84,603.23"/></g>
</svg>
</body></html>
